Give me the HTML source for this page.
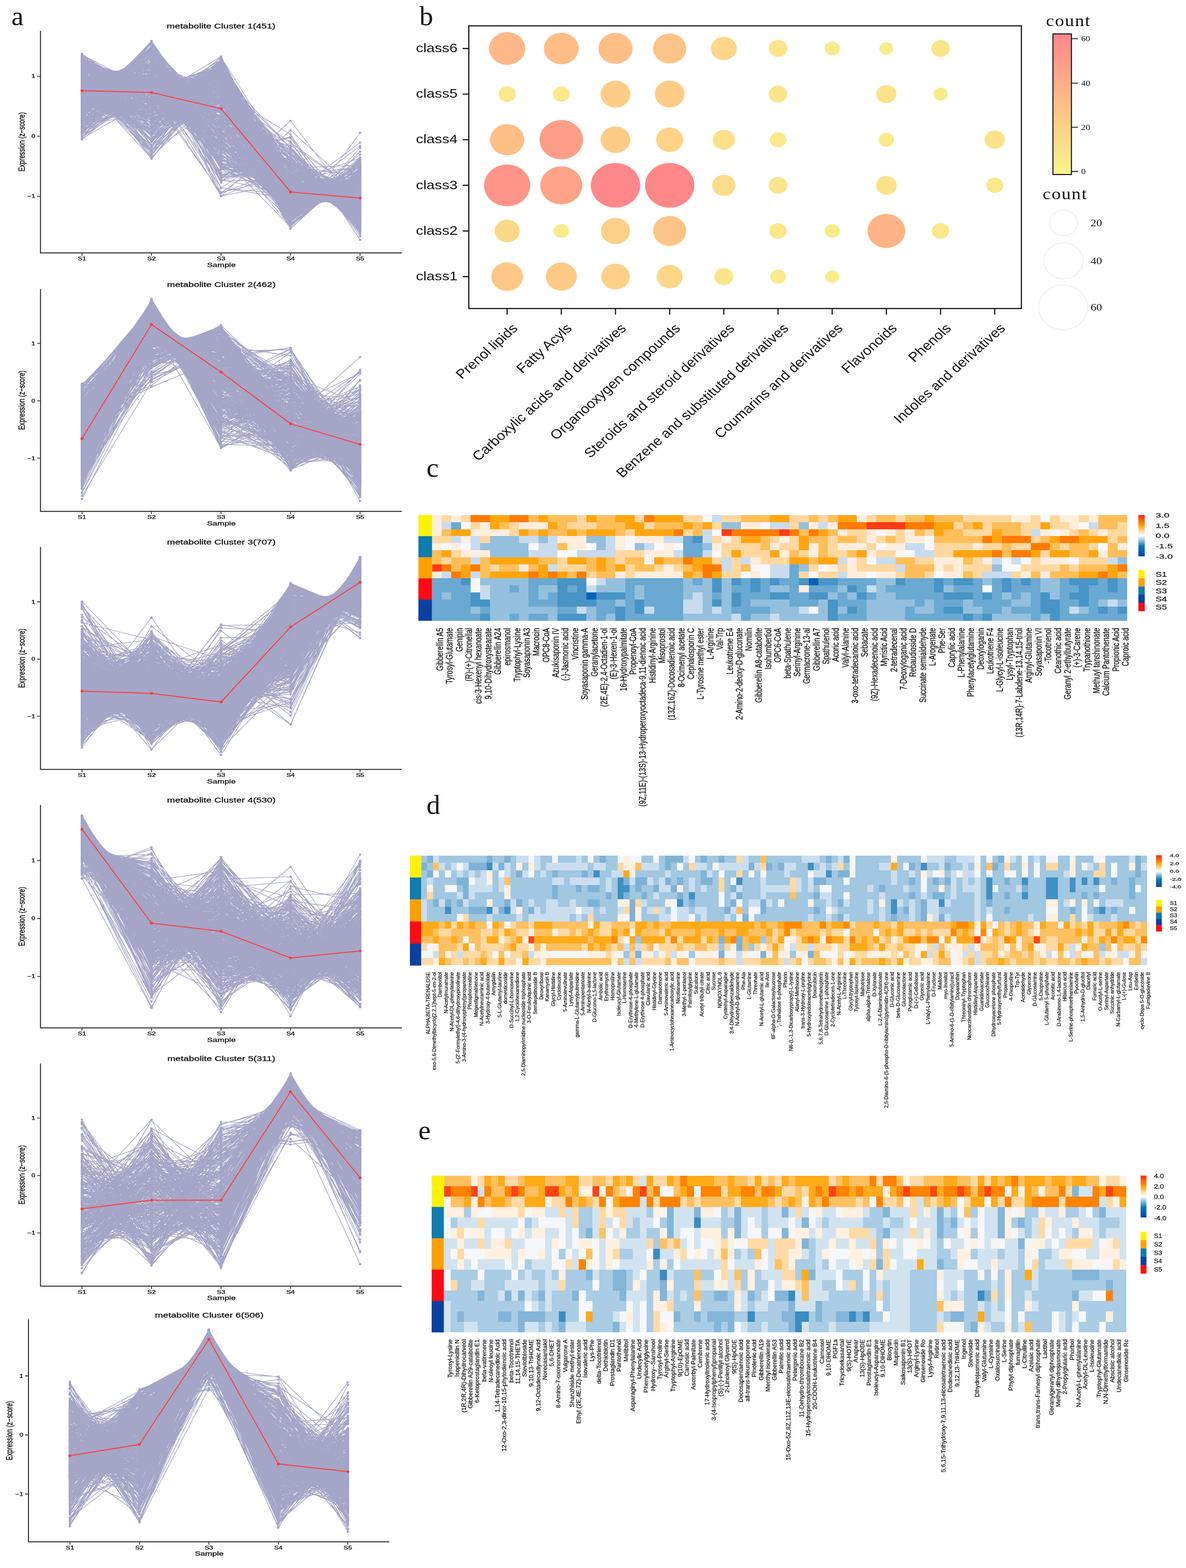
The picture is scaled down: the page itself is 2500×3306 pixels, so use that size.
<!DOCTYPE html>
<html><head><meta charset="utf-8"><title>Metabolite clusters</title>
<style>
html,body{margin:0;padding:0;background:#fff;}
svg{display:block;}
.ta{font-family:"Liberation Sans",Arial,Helvetica,sans-serif;fill:#111;}
.tk{stroke:#1a1a1a;stroke-width:0.55px;}
.tl{fill:#222;stroke:#222;stroke-width:0.35px;}
.hl{stroke:#111;stroke-width:0.3px;}
.sr{font-family:"Liberation Serif","Times New Roman",serif;fill:#111;}
</style></head><body>
<svg width="2500" height="3306" viewBox="0 0 2500 3306">
<defs><marker id="dot" viewBox="-3 -3 6 6" markerWidth="6" markerHeight="6" markerUnits="userSpaceOnUse" overflow="visible"><ellipse rx="2.6" ry="2.3" fill="#a5a5c7"/></marker>
<marker id="rdot" viewBox="-3 -3 6 6" markerWidth="6" markerHeight="6" markerUnits="userSpaceOnUse" overflow="visible"><ellipse rx="3.2" ry="2.8" fill="#ff3b3b"/></marker></defs>
<rect width="2500" height="3306" fill="#fff"/>
<text class="sr" x="24" y="53.4" font-size="58">a</text>
<path d="M172.8 279L319.4 155.1L465.9 178.8L612.5 368.9L759 454.7M172.8 142.5L319.4 219L465.9 233.9L612.5 418.1L759 423M172.8 120.3L319.4 317.9L465.9 222.3L612.5 314.9L759 461.1M172.8 181.4L319.4 240.2L465.9 183.7L612.5 356.6L759 474.5M172.8 259L319.4 232.4L465.9 131L612.5 466.6L759 347.6M172.8 231L319.4 90.2L465.9 357.3L612.5 367.2L759 390.8M172.8 210.8L319.4 272.7L465.9 126.4L612.5 401.2L759 425.4M172.8 158.8L319.4 244.1L465.9 192L612.5 399.3L759 442.3M172.8 176L319.4 269.5L465.9 196L612.5 300.9L759 494.1M172.8 227.6L319.4 175.1L465.9 213.2L612.5 332.5L759 488.1M172.8 149.8L319.4 151.8L465.9 350.1L612.5 373.4L759 411.4M172.8 148.4L319.4 285.3L465.9 181.6L612.5 371.3L759 450M172.8 242.1L319.4 110L465.9 270.6L612.5 435.7L759 378.1M172.8 184.6L319.4 137.2L465.9 321.9L612.5 342L759 450.8M172.8 291.1L319.4 116L465.9 251.3L612.5 309.4L759 468.6M172.8 162.3L319.4 140.4L465.9 363.2L612.5 355.1L759 415.5M172.8 224L319.4 209.6L465.9 158.8L612.5 398.1L759 446M172.8 195.8L319.4 246L465.9 159.5L612.5 460.3L759 374.8M172.8 207.6L319.4 208.2L465.9 170.9L612.5 423.8L759 425.9M172.8 163.2L319.4 213.9L465.9 211.2L612.5 423.9L759 424.3M172.8 118.3L319.4 213.9L465.9 287.6L612.5 388.9L759 427.8M172.8 267.3L319.4 86.5L465.9 306.8L612.5 351.2L759 424.6M172.8 220.3L319.4 103.5L465.9 315.1L612.5 390.5L759 407M172.8 128L319.4 231.8L465.9 263.1L612.5 350.2L759 463.4M172.8 151.7L319.4 196.5L465.9 252.8L612.5 450.8L759 384.6M172.8 123.1L319.4 229.5L465.9 254.5L612.5 406.1L759 423.4M172.8 259.3L319.4 102.4L465.9 262L612.5 402.9L759 409.9M172.8 255.6L319.4 143.8L465.9 218.8L612.5 345.9L759 472.5M172.8 225.9L319.4 112.2L465.9 288.2L612.5 375.1L759 435.2M172.8 204.7L319.4 201.2L465.9 180.8L612.5 408.2L759 441.6M172.8 131.9L319.4 234.7L465.9 234.8L612.5 403.8L759 431.3M172.8 219.5L319.4 135L465.9 257.8L612.5 457.9L759 366.3M172.8 182L319.4 181.1L465.9 263.6L612.5 322.9L759 486.9M172.8 144.2L319.4 173.4L465.9 300.9L612.5 389.3L759 428.7M172.8 131.6L319.4 209.4L465.9 264.2L612.5 426.1L759 405.2M172.8 291.5L319.4 86.3L465.9 297.1L612.5 435.7L759 325.8M172.8 277L319.4 143.1L465.9 217.4L612.5 318.8L759 480.3M172.8 141.3L319.4 192.4L465.9 279.1L612.5 376L759 447.8M172.8 122.1L319.4 268.2L465.9 229.2L612.5 366.1L759 450.9M172.8 115.7L319.4 191.8L465.9 407.5L612.5 350.9L759 370.7M172.8 240.5L319.4 120.3L465.9 276.5L612.5 465.2L759 334M172.8 142.7L319.4 214.3L465.9 242.7L612.5 392.2L759 444.6M172.8 266.6L319.4 88.2L465.9 290.6L612.5 411.3L759 379.8M172.8 266.2L319.4 217L465.9 125.6L612.5 399.1L759 428.6M172.8 253.8L319.4 115.3L465.9 260.3L612.5 350.9L759 456.2M172.8 228.8L319.4 179.8L465.9 181.5L612.5 402.2L759 444.2M172.8 130.4L319.4 254.6L465.9 219L612.5 402L759 430.5M172.8 174.5L319.4 168.2L465.9 268.8L612.5 464.4L759 360.7M172.8 153.8L319.4 158.3L465.9 308.7L612.5 404.1L759 411.6M172.8 187.1L319.4 308L465.9 129.3L612.5 419.3L759 392.8M172.8 161.5L319.4 207.8L465.9 228.1L612.5 460.4L759 378.8M172.8 256.3L319.4 230.2L465.9 128.7L612.5 364.9L759 456.4M172.8 122.5L319.4 220.9L465.9 265.7L612.5 414.2L759 413.2M172.8 146.5L319.4 227.6L465.9 247.3L612.5 478.6L759 336.5M172.8 205L319.4 138.6L465.9 259.3L612.5 436.2L759 397.5M172.8 157.3L319.4 269L465.9 178.9L612.5 447.8L759 383.6M172.8 166.9L319.4 297.3L465.9 150.9L612.5 423.6L759 397.9M172.8 156.3L319.4 188L465.9 303.4L612.5 477.4L759 311.4M172.8 214.6L319.4 99.4L465.9 354L612.5 393.6L759 374.9M172.8 170.6L319.4 216.2L465.9 215.4L612.5 360.3L759 473.9M172.8 197.3L319.4 196.1L465.9 191.5L612.5 431.4L759 420.1M172.8 224.9L319.4 169.5L465.9 193.7L612.5 423.7L759 424.7M172.8 183.1L319.4 294.2L465.9 137.5L612.5 420.2L759 401.5M172.8 214.2L319.4 136.2L465.9 385.1L612.5 254.9L759 446.1M172.8 143.5L319.4 210.4L465.9 242.9L612.5 432.4L759 407.3M172.8 269.7L319.4 150.7L465.9 193.4L612.5 359.3L759 463.5M172.8 212.8L319.4 122L465.9 278.7L612.5 401L759 422M172.8 250.1L319.4 112.5L465.9 322.1L612.5 288.7L759 463M172.8 234.3L319.4 158.6L465.9 208.3L612.5 464.7L759 370.6M172.8 169.3L319.4 168.9L465.9 262.1L612.5 442.6L759 393.7M172.8 162.9L319.4 161.1L465.9 293.4L612.5 446.2L759 372.9M172.8 268L319.4 138.1L465.9 197.6L612.5 415.7L759 417.1M172.8 135.3L319.4 250.7L465.9 215.2L612.5 403.8L759 431.5M172.8 190.8L319.4 247.4L465.9 156L612.5 417.1L759 425.2M172.8 218.2L319.4 170.8L465.9 198.3L612.5 427.1L759 422.1M172.8 134.8L319.4 254.4L465.9 217.2L612.5 382.5L759 447.6M172.8 278.7L319.4 123.2L465.9 211.6L612.5 426.8L759 396.1M172.8 139.2L319.4 194.9L465.9 317.7L612.5 464.9L759 319.9M172.8 198.1L319.4 274.6L465.9 141.8L612.5 365.5L759 456.5M172.8 174L319.4 333.7L465.9 153.9L612.5 312.5L759 462.2M172.8 185.8L319.4 176.7L465.9 226.9L612.5 405L759 442.2M172.8 160.5L319.4 240.6L465.9 191.3L612.5 433.6L759 410.4M172.8 147.8L319.4 314.5L465.9 177.1L612.5 457.3L759 339.8M172.8 119.9L319.4 207.8L465.9 291L612.5 402.5L759 415.3M172.8 249.5L319.4 170.1L465.9 175.1L612.5 437.2L759 404.6M172.8 289.3L319.4 179.7L465.9 145.2L612.5 438.9L759 383.5M172.8 119.6L319.4 331.3L465.9 193.2L612.5 370.1L759 422.3M172.8 134.5L319.4 208.7L465.9 268.8L612.5 450.4L759 374.1M172.8 159L319.4 228.8L465.9 202.5L612.5 417.2L759 429M172.8 242.3L319.4 92.4L465.9 327L612.5 421.7L759 353.1M172.8 161.8L319.4 140.2L465.9 379.1L612.5 408.2L759 347.2M172.8 206.5L319.4 152.6L465.9 234.7L612.5 438.4L759 404.4M172.8 123.9L319.4 184.2L465.9 379.1L612.5 335.9L759 413.3M172.8 257.6L319.4 167.8L465.9 170.9L612.5 420.1L759 420.1M172.8 151.3L319.4 151.6L465.9 339.2L612.5 385.3L759 409.1M172.8 131.6L319.4 182.2L465.9 324.3L612.5 433L759 365.4M172.8 176.1L319.4 174.9L465.9 250.1L612.5 375.1L759 460.3M172.8 235.2L319.4 92.1L465.9 368.1L612.5 333.1L759 408M172.8 215.9L319.4 245.3L465.9 137.9L612.5 406.6L759 430.8M172.8 151.2L319.4 149.3L465.9 353.7L612.5 375.5L759 406.8M172.8 179.9L319.4 184.2L465.9 229.4L612.5 456.8L759 386.2M172.8 247.6L319.4 105.1L465.9 291.3L612.5 343.9L759 448.5M172.8 129.5L319.4 255.1L465.9 219L612.5 411.3L759 421.6M172.8 190L319.4 136.5L465.9 291L612.5 440.2L759 378.9M172.8 183.5L319.4 316L465.9 130.2L612.5 422.8L759 384M172.8 213.9L319.4 199.6L465.9 191.7L612.5 482.1L759 349.3M172.8 198.1L319.4 218.7L465.9 170.5L612.5 426.1L759 423.1M172.8 222.4L319.4 106.7L465.9 396.4L612.5 410.2L759 300.8M172.8 189L319.4 159.3L465.9 256.2L612.5 460L759 372M172.8 192.7L319.4 279.4L465.9 138.5L612.5 387.9L759 438M172.8 258.3L319.4 106.7L465.9 279.4L612.5 337.5L759 454.6M172.8 256.4L319.4 135.9L465.9 212.9L612.5 444.4L759 386.9M172.8 172.4L319.4 283.2L465.9 177.3L612.5 322.8L759 480.8M172.8 144.4L319.4 159.3L465.9 352L612.5 360.5L759 420.2M172.8 144.8L319.4 195.4L465.9 276.5L612.5 460.3L759 359.6M172.8 268.1L319.4 190.4L465.9 144.8L612.5 432.2L759 401.1M172.8 154.1L319.4 149.1L465.9 348L612.5 367.1L759 418.1M172.8 119.1L319.4 223.1L465.9 296.4L612.5 456.2L759 341.8M172.8 271.3L319.4 171.6L465.9 169.9L612.5 359.2L759 464.5M172.8 277.2L319.4 152.8L465.9 176L612.5 433.6L759 396.9M172.8 146.5L319.4 196.6L465.9 260.7L612.5 385.3L759 447.5M172.8 265.7L319.4 177L465.9 157.1L612.5 411.2L759 425.4M172.8 181.8L319.4 174.2L465.9 234L612.5 411.2L759 435.2M172.8 131.7L319.4 198.1L465.9 317.4L612.5 457.4L759 331.9M172.8 213.8L319.4 207.3L465.9 174.6L612.5 375.3L759 465.5M172.8 160.3L319.4 220.4L465.9 218.1L612.5 463.7L759 373.9M172.8 160.5L319.4 220.2L465.9 209.8L612.5 440.7L759 405.2M172.8 178.5L319.4 284.5L465.9 146L612.5 424.8L759 402.7M172.8 158.8L319.4 195.9L465.9 237L612.5 415.3L759 429.5M172.8 237L319.4 147.2L465.9 231.4L612.5 345.8L759 475.2M172.8 180.4L319.4 174.1L465.9 235.3L612.5 417.1L759 429.5M172.8 158.7L319.4 320.2L465.9 150.5L612.5 385.6L759 421.5M172.8 183.6L319.4 142.5L465.9 301.9L612.5 452.7L759 355.8M172.8 167.4L319.4 165L465.9 275.3L612.5 447.9L759 380.9M172.8 229.9L319.4 93.2L465.9 368.6L612.5 341.1L759 403.7M172.8 194.5L319.4 205.4L465.9 198.2L612.5 473.7L759 364.7M172.8 282.6L319.4 134.7L465.9 209.4L612.5 346.1L759 463.8M172.8 165.3L319.4 152.3L465.9 325.8L612.5 449.2L759 343.9M172.8 141.8L319.4 221.1L465.9 232.7L612.5 424.1L759 416.8M172.8 154.4L319.4 268L465.9 189.9L612.5 360.5L759 463.7M172.8 159.5L319.4 260.5L465.9 182.5L612.5 451.2L759 382.8M172.8 230L319.4 257.5L465.9 128L612.5 455.8L759 365.2M172.8 129.3L319.4 202L465.9 280.2L612.5 398.8L759 426.1M172.8 148L319.4 162.4L465.9 318.2L612.5 383.7L759 424.2M172.8 123.2L319.4 307.4L465.9 198.2L612.5 431.8L759 375.9M172.8 228.9L319.4 91.2L465.9 352.7L612.5 378.2L759 385.4M172.8 135.7L319.4 193.3L465.9 294.1L612.5 449.4L759 364M172.8 143.3L319.4 191.4L465.9 278.3L612.5 372.9L759 450.6M172.8 247.7L319.4 197.7L465.9 157.4L612.5 372.2L759 461.5M172.8 232.8L319.4 100.5L465.9 396.1L612.5 301L759 406.1M172.8 127.5L319.4 180.9L465.9 338L612.5 368.8L759 421.2M172.8 187.4L319.4 180.9L465.9 219.7L612.5 406.2L759 442.2M172.8 215.5L319.4 104.9L465.9 321.5L612.5 406.6L759 388.1M172.8 223.5L319.4 166L465.9 198.9L612.5 425.1L759 423M172.8 173.8L319.4 212.1L465.9 217.6L612.5 476.7L759 356.2M172.8 222.4L319.4 174.5L465.9 211.3L612.5 481.7L759 346.6M172.8 230.1L319.4 210.4L465.9 157.1L612.5 457.8L759 381.1M172.8 163.1L319.4 163.6L465.9 278L612.5 409.8L759 422.1M172.8 217L319.4 193.4L465.9 177L612.5 411L759 438.2M172.8 181.7L319.4 245.7L465.9 174.2L612.5 370.4L759 464.6M172.8 257.6L319.4 196.4L465.9 145.9L612.5 401.1L759 435.4M172.8 224.7L319.4 154.3L465.9 213L612.5 406.6L759 437.8M172.8 160.9L319.4 184.4L465.9 255.1L612.5 451.4L759 384.7M172.8 121.5L319.4 251.3L465.9 236.2L612.5 431.3L759 396.3M172.8 173.8L319.4 255.2L465.9 195L612.5 324.8L759 487.7M172.8 213.9L319.4 176.5L465.9 197.6L612.5 403.7L759 444.7M172.8 150.5L319.4 317.7L465.9 158.9L612.5 416.8L759 392.6M172.8 180.1L319.4 179.2L465.9 231.5L612.5 400.8L759 444.9M172.8 249.8L319.4 92.2L465.9 310.1L612.5 423.9L759 360.5M172.8 217L319.4 107.7L465.9 307.6L612.5 404.7L759 399.6M172.8 141.1L319.4 333.7L465.9 163.7L612.5 410.4L759 387.6M172.8 155L319.4 241.9L465.9 217.6L612.5 344L759 478M172.8 129.5L319.4 184.2L465.9 312.8L612.5 413.2L759 396.7M172.8 266.9L319.4 161.6L465.9 191.8L612.5 339.2L759 477M172.8 162.7L319.4 294.7L465.9 156.9L612.5 391.6L759 430.6M172.8 157.5L319.4 244.4L465.9 191.3L612.5 425.2L759 418M172.8 195.1L319.4 131.7L465.9 319.1L612.5 336.4L759 454.2M172.8 131.9L319.4 171.3L465.9 345.8L612.5 381.1L759 406.4M172.8 148.1L319.4 318.7L465.9 160.6L612.5 411.5L759 397.6M172.8 209.4L319.4 108.6L465.9 321.3L612.5 391.4L759 405.8M172.8 133L319.4 298.9L465.9 188.3L612.5 384.5L759 431.6M172.8 269.1L319.4 136.3L465.9 199.4L612.5 423.5L759 408.1M172.8 136.7L319.4 254.2L465.9 209.5L612.5 418.2L759 417.8M172.8 219.9L319.4 129.8L465.9 266.7L612.5 364.5L759 455.5M172.8 217.5L319.4 252.5L465.9 132L612.5 420.8L759 413.7M172.8 197.9L319.4 132.9L465.9 277.7L612.5 415.1L759 412.9M172.8 162.4L319.4 275.3L465.9 167.7L612.5 438.5L759 392.6M172.8 272.2L319.4 206.3L465.9 144.6L612.5 342.4L759 471.2M172.8 151.9L319.4 173.4L465.9 282.2L612.5 402.1L759 426.9M172.8 182.9L319.4 268.3L465.9 152.5L612.5 391.2L759 441.5M172.8 247.6L319.4 112.7L465.9 260L612.5 439.7L759 376.6M172.8 189L319.4 253.1L465.9 153.9L612.5 417.6L759 422.9M172.8 248.4L319.4 237.4L465.9 121.4L612.5 411.8L759 417.6M172.8 164.6L319.4 203.7L465.9 221L612.5 408.5L759 438.6M172.8 235.6L319.4 124.6L465.9 248.7L612.5 440.3L759 387.2M172.8 137.3L319.4 317.3L465.9 190.1L612.5 334.4L759 457.4M172.8 163.8L319.4 169.6L465.9 292.8L612.5 345.6L759 464.7M172.8 208.7L319.4 267.8L465.9 133L612.5 443.4L759 383.6M172.8 251.1L319.4 205.8L465.9 145.4L612.5 383.5L759 450.6M172.8 220.2L319.4 246.9L465.9 133.5L612.5 424.6L759 411.2M172.8 266.8L319.4 166.4L465.9 203.3L612.5 309.2L759 490.8M172.8 207.5L319.4 230.1L465.9 158.2L612.5 386.6L759 454.2M172.8 183.6L319.4 139.7L465.9 288L612.5 406.2L759 418.9M172.8 155L319.4 239.4L465.9 204.8L612.5 456.6L759 380.7M172.8 198.7L319.4 131.5L465.9 305.1L612.5 454.9L759 346.4M172.8 231.5L319.4 234.7L465.9 144.7L612.5 356.6L759 469M172.8 147.2L319.4 159.7L465.9 369L612.5 334.8L759 425.8M172.8 151.8L319.4 273.3L465.9 181.7L612.5 444.6L759 385.1M172.8 209.5L319.4 243.9L465.9 147.6L612.5 382.5L759 453.1M172.8 187.3L319.4 227.3L465.9 180.9L612.5 378.3L759 462.8M172.8 201L319.4 118L465.9 312.6L612.5 383.1L759 421.8M172.8 136.8L319.4 262L465.9 204.3L612.5 403.8L759 429.7M172.8 235.9L319.4 87.8L465.9 381.3L612.5 380.4L759 351.2M172.8 258.4L319.4 95.7L465.9 278.5L612.5 407.9L759 396.1M172.8 194.5L319.4 292.2L465.9 129.7L612.5 396.2L759 423.9M172.8 199.9L319.4 112.7L465.9 330L612.5 393.2L759 400.7M172.8 226.6L319.4 222.1L465.9 153.4L612.5 370.3L759 464.1M172.8 214.1L319.4 242.9L465.9 144.4L612.5 451.4L759 383.8M172.8 158.9L319.4 250.8L465.9 186.2L612.5 437.5L759 403M172.8 158.9L319.4 310.3L465.9 156.5L612.5 374.1L759 436.8M172.8 237.6L319.4 164.5L465.9 193.2L612.5 452.7L759 388.5M172.8 187.5L319.4 158.9L465.9 252.5L612.5 448.5L759 389.1M172.8 264.6L319.4 131.1L465.9 218.1L612.5 453.4L759 369.3M172.8 252.2L319.4 204L465.9 145.5L612.5 386.8L759 448M172.8 203.1L319.4 108.6L465.9 375.6L612.5 343.3L759 405.9M172.8 191.7L319.4 259.4L465.9 151.4L612.5 448.4L759 385.6M172.8 201.4L319.4 188.3L465.9 207.6L612.5 367.1L759 472M172.8 256.3L319.4 129.3L465.9 223.9L612.5 446.5L759 380.6M172.8 248.2L319.4 178.6L465.9 172.4L612.5 379.9L759 457.3M172.8 121.6L319.4 247.5L465.9 243L612.5 442.5L759 381.9M172.8 173.1L319.4 173.9L465.9 250.8L612.5 450.2L759 388.5M172.8 246.3L319.4 121L465.9 240L612.5 411L759 418.2M172.8 155.7L319.4 214.3L465.9 220.5L612.5 417.1L759 428.9M172.8 139L319.4 180.5L465.9 303.7L612.5 437.3L759 375.9M172.8 190.9L319.4 118.4L465.9 344.1L612.5 367L759 416.1M172.8 164.1L319.4 248.3L465.9 181.1L612.5 423.9L759 419.1M172.8 157L319.4 328.2L465.9 149L612.5 413.5L759 388.8M172.8 257.4L319.4 230.5L465.9 127.2L612.5 454.1L759 367.4M172.8 243L319.4 129.4L465.9 238L612.5 452.1L759 374M172.8 218.4L319.4 99.1L465.9 339.4L612.5 382.3L759 397.4M172.8 113.2L319.4 225.5L465.9 287.4L612.5 437.3L759 373.1M172.8 201.4L319.4 160.5L465.9 230.1L612.5 442.9L759 401.6M172.8 164.6L319.4 153.4L465.9 303.2L612.5 377.6L759 437.7M172.8 165.4L319.4 253.5L465.9 188.7L612.5 360.1L759 468.9M172.8 134.1L319.4 324.6L465.9 173.9L612.5 404.7L759 399.2M172.8 117.3L319.4 251.2L465.9 263.6L612.5 343.5L759 460.8M172.8 169.7L319.4 254.6L465.9 171.7L612.5 406.7L759 433.9M172.8 192.6L319.4 260L465.9 154.4L612.5 460.4L759 369M172.8 208.4L319.4 199.8L465.9 181.7L612.5 454.9L759 391.6M172.8 127.2L319.4 211.7L465.9 282.1L612.5 450.3L759 365.2M172.8 214.9L319.4 132L465.9 267.3L612.5 453.4L759 368.9M172.8 162.7L319.4 248.9L465.9 206.5L612.5 335.7L759 482.6M172.8 286.4L319.4 89.8L465.9 277.4L612.5 351.2L759 431.6M172.8 197.8L319.4 123.5L465.9 299.6L612.5 408.4L759 407.1M172.8 221.7L319.4 117.6L465.9 413.8L612.5 274.6L759 408.8M172.8 290.2L319.4 167.8L465.9 168.4L612.5 467.7L759 342.4M172.8 170.2L319.4 137.5L465.9 352.4L612.5 428.6L759 347.8M172.8 155.3L319.4 192.3L465.9 262.4L612.5 464.3L759 362.2M172.8 179.2L319.4 240.8L465.9 177L612.5 381.7L759 457.8M172.8 160.6L319.4 228.8L465.9 216.7L612.5 473.6L759 356.8M172.8 193.9L319.4 281.6L465.9 162.9L612.5 313L759 485.1M172.8 258.7L319.4 153.3L465.9 190.4L612.5 384.3L759 449.8M172.8 227.5L319.4 219.4L465.9 147.2L612.5 434.2L759 408.2M172.8 233.7L319.4 88.8L465.9 356.9L612.5 368.1L759 389M172.8 175.2L319.4 183.2L465.9 230.1L612.5 423.1L759 424.8M172.8 155L319.4 162.9L465.9 296.9L612.5 396.6L759 425.1M172.8 215.5L319.4 103.3L465.9 326.7L612.5 390.9L759 400.1M172.8 217.5L319.4 236.7L465.9 193.1L612.5 283.5L759 505.7M172.8 215.1L319.4 102.2L465.9 372.3L612.5 338.5L759 408.4M172.8 226.1L319.4 104L465.9 357.7L612.5 317.2L759 431.5M172.8 258.4L319.4 193.2L465.9 155.6L612.5 462.3L759 367M172.8 179.1L319.4 192.9L465.9 231.1L612.5 358.7L759 474.7M172.8 280.8L319.4 129.3L465.9 207.3L612.5 372.6L759 446.4M172.8 271.8L319.4 91.1L465.9 275.8L612.5 387.4L759 410.3M172.8 155.2L319.4 144.4L465.9 369.2L612.5 364.1L759 403.6M172.8 204.6L319.4 214.7L465.9 169.9L612.5 402.1L759 445.2M172.8 203.5L319.4 222L465.9 165.9L612.5 448.8L759 396.4M172.8 138.9L319.4 298.4L465.9 179.1L612.5 407.2L759 412.9M172.8 187.3L319.4 172.8L465.9 237.5L612.5 461.3L759 377.6M172.8 153.7L319.4 277.6L465.9 188.1L612.5 350.2L759 466.9M172.8 220.3L319.4 120.5L465.9 270.4L612.5 412.6L759 412.6M172.8 212.7L319.4 126.7L465.9 274.7L612.5 441L759 381.4M172.8 148.1L319.4 232.3L465.9 212.9L612.5 418L759 425.1M172.8 146.5L319.4 152.9L465.9 374L612.5 360.8L759 402.2M172.8 194.2L319.4 182.1L465.9 215.6L612.5 459L759 385.6M172.8 162.4L319.4 153.8L465.9 303L612.5 429.7L759 387.6M172.8 183.5L319.4 281.5L465.9 142.8L612.5 409.3L759 419.4M172.8 206L319.4 111.8L465.9 318.7L612.5 409.3L759 390.8M172.8 146.4L319.4 221.7L465.9 231L612.5 451.5L759 385.9M172.8 195.5L319.4 189.1L465.9 215.5L612.5 475.3L759 361.1M172.8 256.8L319.4 108.3L465.9 253.2L612.5 398.5L759 419.6M172.8 224.2L319.4 183.1L465.9 181.1L612.5 408.5L759 439.6M172.8 289.7L319.4 189.8L465.9 135.9L612.5 435.2L759 385.9M172.8 225.2L319.4 92.3L465.9 367.1L612.5 378.1L759 373.9M172.8 118.1L319.4 304.7L465.9 208.3L612.5 369.2L759 436.1M172.8 267L319.4 168L465.9 164.8L612.5 422.6L759 414.1M172.8 162.3L319.4 210.5L465.9 234L612.5 355.3L759 474.4M172.8 203.8L319.4 108.6L465.9 343.4L612.5 409.1L759 371.6M172.8 292.1L319.4 208.4L465.9 119.1L612.5 401L759 415.9M172.8 183.6L319.4 138.4L465.9 309.5L612.5 447.3L759 357.8M172.8 135.2L319.4 237.5L465.9 228.9L612.5 441.2L759 393.7M172.8 115.8L319.4 203.6L465.9 337.2L612.5 345.1L759 434.9M172.8 154.1L319.4 295.9L465.9 169.5L612.5 446.7L759 370.4M172.8 216.9L319.4 188.9L465.9 180.9L612.5 416.1L759 433.7M172.8 196.5L319.4 283.2L465.9 145.9L612.5 342.7L759 468.1M172.8 260.3L319.4 115.6L465.9 257.8L612.5 342.8L759 460M172.8 199.1L319.4 121L465.9 306.4L612.5 389.7L759 420.3M172.8 206.6L319.4 143.9L465.9 247.6L612.5 435.7L759 402.7M172.8 133.3L319.4 260.2L465.9 209.5L612.5 418.2L759 415.2M172.8 150L319.4 268.1L465.9 206.2L612.5 476.8L759 335.3M172.8 137.1L319.4 286.1L465.9 193.9L612.5 372.7L759 446.7M172.8 212.6L319.4 270.9L465.9 129.6L612.5 377.8L759 445.7M172.8 163L319.4 194.7L465.9 232.5L612.5 419.6L759 426.8M172.8 180.3L319.4 156.2L465.9 268.1L612.5 446.5L759 385.5M172.8 268L319.4 191.7L465.9 143.6L612.5 402.3L759 430.9M172.8 240.7L319.4 221.4L465.9 142.5L612.5 457.3L759 374.7M172.8 159.9L319.4 166.4L465.9 294.5L612.5 452.9L759 362.7M172.8 256.3L319.4 231.6L465.9 121.7L612.5 394.6L759 432.3M172.8 195.5L319.4 112.8L465.9 405.6L612.5 370.8L759 351.8M172.8 186.1L319.4 305.8L465.9 136.2L612.5 363.9L759 444.5M172.8 257.1L319.4 178.1L465.9 183.4L612.5 335.6L759 482.3M172.8 168.1L319.4 234.9L465.9 194.9L612.5 376.6L759 462.1M172.8 136.8L319.4 199L465.9 289.6L612.5 352.7L759 458.4M172.8 215.2L319.4 266.8L465.9 126L612.5 422.1L759 406.4M172.8 169.8L319.4 217.1L465.9 200.9L612.5 435.5L759 413.2M172.8 186.3L319.4 277.3L465.9 147.6L612.5 375.3L759 450M172.8 218.8L319.4 251.9L465.9 132.2L612.5 431.7L759 402M172.8 201.6L319.4 291.6L465.9 134.2L612.5 457.9L759 351.3M172.8 171.1L319.4 216.2L465.9 212.4L612.5 470.7L759 366.2M172.8 173.3L319.4 297.3L465.9 144.4L612.5 407.8L759 413.7M172.8 282.6L319.4 97.9L465.9 250.8L612.5 413L759 392.1M172.8 220L319.4 209.1L465.9 160.2L612.5 418.6L759 428.6M172.8 165.8L319.4 286.9L465.9 162.9L612.5 369L759 451.9M172.8 177.9L319.4 210.2L465.9 197.8L612.5 428.9L759 421.6M172.8 172.5L319.4 132.7L465.9 336.8L612.5 385.2L759 409.3M172.8 160.1L319.4 196L465.9 235.2L612.5 413.1L759 432.1M172.8 284.4L319.4 172L465.9 164.7L612.5 350.1L759 465.4M172.8 154.9L319.4 260.1L465.9 192.3L612.5 368.2L759 461M172.8 185.5L319.4 123.5L465.9 334.9L612.5 416.1L759 376.5M172.8 283.8L319.4 187.4L465.9 139.8L612.5 432.2L759 393.4M172.8 159.5L319.4 240.8L465.9 198.9L612.5 458.4L759 379M172.8 199.4L319.4 108.8L465.9 353.4L612.5 384L759 390.9M172.8 227L319.4 234.9L465.9 156.9L612.5 334.4L759 483.3M172.8 179.9L319.4 224.1L465.9 195.5L612.5 471.7L759 365.3M172.8 190.3L319.4 113.8L465.9 371.6L612.5 376.1L759 384.8M172.8 234.9L319.4 169.4L465.9 185.5L612.5 427.3L759 419.2M172.8 214.4L319.4 101.7L465.9 342.2L612.5 404.8L759 373.4M172.8 173.2L319.4 258.7L465.9 166.3L612.5 438.4L759 399.9M172.8 150.8L319.4 234.1L465.9 208.6L612.5 435L759 407.9M172.8 211.1L319.4 137.6L465.9 251.7L612.5 405.3L759 430.9M172.8 148.2L319.4 304.8L465.9 166.3L612.5 396L759 421.1M172.8 225.8L319.4 221.7L465.9 146.7L612.5 434.1L759 408.2M172.8 277.1L319.4 100.7L465.9 249.6L612.5 395L759 414.1M172.8 233.2L319.4 180.8L465.9 178.8L612.5 391.8L759 451.8M172.8 119L319.4 200.7L465.9 406.2L612.5 306.5L759 404.2M172.8 222.3L319.4 130.6L465.9 249.1L612.5 419.9L759 414.6M172.8 155.7L319.4 211.6L465.9 237.7L612.5 468.2L759 363.3M172.8 276.3L319.4 199.4L465.9 133.5L612.5 430.1L759 397.3M172.8 294L319.4 176.5L465.9 154.4L612.5 351.4L759 460.3M172.8 240.5L319.4 236.2L465.9 135.6L612.5 462.3L759 362M172.8 265L319.4 175L465.9 165.6L612.5 455.6L759 375.3M172.8 199.1L319.4 246.3L465.9 149.9L612.5 412.8L759 428.4M172.8 205.9L319.4 167.7L465.9 214.6L612.5 411.5L759 436.9M172.8 138.3L319.4 189.6L465.9 284.8L612.5 436.7L759 387M172.8 242.4L319.4 212.5L465.9 141.7L612.5 420L759 419.9M172.8 195L319.4 188.6L465.9 229.2L612.5 336.5L759 487.2M172.8 268.5L319.4 166.4L465.9 173.8L612.5 459.2L759 368.6M172.8 131.1L319.4 232.1L465.9 245.9L612.5 375.8L759 451.7M172.8 151.6L319.4 150.2L465.9 350.3L612.5 372.3L759 412.2M172.8 191.7L319.4 169.8L465.9 248.9L612.5 349.9L759 476.2M172.8 168.7L319.4 135.8L465.9 345L612.5 369.7L759 417.2M172.8 163L319.4 323.6L465.9 162.3L612.5 326.9L759 460.7M172.8 234.3L319.4 245.8L465.9 125.4L612.5 401.9L759 429.1M172.8 202.4L319.4 117.3L465.9 346.6L612.5 333.8L759 436.4M172.8 231.5L319.4 256.4L465.9 129.8L612.5 357.9L759 460.9M172.8 142.5L319.4 171.3L465.9 395.9L612.5 419L759 307.8M172.8 178.4L319.4 209.4L465.9 216.3L612.5 353.7L759 478.7M172.8 260.7L319.4 100.1L465.9 265.8L612.5 398.5L759 411.5M172.8 201.3L319.4 223.7L465.9 168.3L612.5 456L759 387.1M172.8 243L319.4 86.3L465.9 338.7L612.5 394.1L759 374.4M172.8 133.3L319.4 202.3L465.9 275.7L612.5 384.9L759 440.3M172.8 177.7L319.4 234.6L465.9 192.8L612.5 355.2L759 476.2M172.8 228.9L319.4 184L465.9 175.7L612.5 432.3L759 415.6M172.8 136.7L319.4 294.2L465.9 189.5L612.5 444L759 372.1M172.8 258.7L319.4 115.6L465.9 266.4L612.5 331.6L759 464.3M172.8 186.7L319.4 319.5L465.9 125.2L612.5 400L759 405.1M172.8 157.6L319.4 196.4L465.9 308.1L612.5 291L759 483.4M172.8 125.5L319.4 224L465.9 257.3L612.5 428.3L759 401.5M172.8 148.4L319.4 175.7L465.9 332.1L612.5 322.5L759 457.7M172.8 232.7L319.4 115.1L465.9 265.5L612.5 409.5L759 413.7M172.8 193.5L319.4 231.9L465.9 169.1L612.5 385.8L759 456.1M172.8 127.2L319.4 181.1L465.9 345.9L612.5 423.4L759 358.8M172.8 193.4L319.4 173.2L465.9 226.3L612.5 387.9L759 455.7M172.8 120.8L319.4 198.6L465.9 306.2L612.5 397.5L759 413.4M172.8 204L319.4 196.3L465.9 185.1L612.5 433.1L759 418M172.8 212.3L319.4 231.9L465.9 173.8L612.5 329.6L759 488.9M172.8 221.7L319.4 161.8L465.9 218.2L612.5 365.6L759 469.1M172.8 251.5L319.4 212.2L465.9 138.8L612.5 390.6L759 443.4M172.8 168.8L319.4 166.2L465.9 264.3L612.5 406.2L759 430.9M172.8 244L319.4 90.8L465.9 330.5L612.5 351.6L759 419.6M172.8 251.6L319.4 161.3L465.9 182.7L612.5 405L759 435.9M172.8 206.7L319.4 116.8L465.9 308.4L612.5 430.3L759 374.2M172.8 165.9L319.4 298.5L465.9 166.8L612.5 339.4L759 465.9M172.8 149.2L319.4 161.3L465.9 370.8L612.5 323.8L759 431.4M172.8 220.2L319.4 99.5L465.9 413.8L612.5 354.5L759 348.4M172.8 258.2L319.4 125.2L465.9 223.7L612.5 428.1L759 401.4M172.8 138.4L319.4 167.3L465.9 413.4L612.5 384.4L759 333.1M172.8 222.3L319.4 206.5L465.9 160.5L612.5 420.1L759 427.1M172.8 195.6L319.4 263L465.9 144.7L612.5 441.8L759 391.2M172.8 224.5L319.4 219.9L465.9 156L612.5 463.4L759 372.7M172.8 244.5L319.4 130.7L465.9 226.9L612.5 428.3L759 406.1M172.8 199.6L319.4 165.4L465.9 268.2L612.5 315.2L759 488.1M172.8 181.2L319.4 167.6L465.9 329L612.5 478.7L759 280.1M172.8 130.5L319.4 284.5L465.9 225.1L612.5 324.3L759 472.2M172.8 205.9L319.4 280.5L465.9 125.6L612.5 414.8L759 409.6M172.8 125.3L319.4 181.3L465.9 381.9L612.5 338.2L759 409.8M172.8 259.4L319.4 243.9L465.9 120.3L612.5 356.2L759 456.7M172.8 163.9L319.4 297.8L465.9 163.3L612.5 457L759 354.5M172.8 166.1L319.4 203.4L465.9 238.9L612.5 351.6L759 476.5M172.8 221.3L319.4 99.6L465.9 348.7L612.5 416.2L759 350.8M172.8 115L319.4 237L465.9 260.8L612.5 418.4L759 405.3M172.8 241.1L319.4 89.9L465.9 332.4L612.5 410.9L759 362.2M172.8 194L319.4 275.6L465.9 137L612.5 417.1L759 412.8M172.8 226.6L319.4 169.7L465.9 203.6L612.5 367.3L759 469.2M172.8 176.3L319.4 226.2L465.9 185.4L612.5 430.2L759 418.3M172.8 143.9L319.4 334.6L465.9 161.5L612.5 379.1L759 417.4M172.8 226L319.4 193.2L465.9 169.3L612.5 416.4L759 431.6M172.8 132.7L319.4 217.8L465.9 252.7L612.5 399.3L759 434M172.8 186.1L319.4 145.2L465.9 281.7L612.5 375.6L759 447.8M172.8 166.7L319.4 170.3L465.9 260.4L612.5 414.2L759 425M172.8 156.7L319.4 177.9L465.9 267.3L612.5 437L759 397.7M172.8 152.3L319.4 190.2L465.9 271.5L612.5 359.3L759 463.2M172.8 215.3L319.4 174L465.9 251.1L612.5 297.7L759 498.4M172.8 125.2L319.4 186.4L465.9 345.1L612.5 350.1L759 429.7M172.8 220.8L319.4 158.8L465.9 237L612.5 482.3L759 337.6M172.8 290.7L319.4 134.9L465.9 191.7L612.5 439L759 380.1M172.8 154.2L319.4 146.2L465.9 351.2L612.5 401.4L759 383.5M172.8 236.7L319.4 220.3L465.9 140.6L612.5 435.4L759 403.5M172.8 187.2L319.4 185.7L465.9 216.4L612.5 451.1L759 396M172.8 230.9L319.4 103.2L465.9 318L612.5 436.9L759 347.6M172.8 172.7L319.4 236.9L465.9 196.7L612.5 354L759 476.2M172.8 149.7L319.4 173.3L465.9 306.5L612.5 452L759 355M172.8 217.6L319.4 191.8L465.9 187.2L612.5 370.9L759 469M172.8 128.6L319.4 198.2L465.9 286.6L612.5 414.6L759 408.5M172.8 119.6L319.4 224.5L465.9 297.2L612.5 336.3L759 458.9M172.8 159.9L319.4 293.8L465.9 158.9L612.5 403.3L759 420.7M172.8 194.3L319.4 244L465.9 169.1L612.5 354.8L759 474.3M172.8 276.5L319.4 103.8L465.9 251.9L612.5 437.9L759 366.5M172.8 156.4L319.4 293.3L465.9 167.4L612.5 374.5L759 445M172.8 186.3L319.4 121.7L465.9 356.9L612.5 418.2L759 353.5M172.8 189.8L319.4 254.2L465.9 164.2L612.5 358.8L759 469.4" fill="none" stroke="#a5a5c7" stroke-width="1.4" stroke-linejoin="round" marker-start="url(#dot)" marker-mid="url(#dot)" marker-end="url(#dot)"/>
<path d="M172.8 191.2L319.4 195L465.9 229.1L612.5 404.9L759 417.6" fill="none" stroke="#ff3b3b" stroke-width="2" marker-start="url(#rdot)" marker-mid="url(#rdot)" marker-end="url(#rdot)"/>
<path d="M85.4 65V533.3H847" fill="none" stroke="#222" stroke-width="2"/>
<path d="M78.4 160.8H85.4M78.4 287.3H85.4M78.4 413.8H85.4M172.8 533.3V539.3M319.4 533.3V539.3M465.9 533.3V539.3M612.5 533.3V539.3M759 533.3V539.3" stroke="#222" stroke-width="1.6"/>
<text class="ta tk" x="0" y="0" text-anchor="end" transform="translate(74.4 164.4) scale(1 0.71)" font-size="14.5">1</text>
<text class="ta tk" x="0" y="0" text-anchor="end" transform="translate(74.4 290.9) scale(1 0.71)" font-size="14.5">0</text>
<text class="ta tk" x="0" y="0" text-anchor="end" transform="translate(74.4 417.4) scale(1 0.71)" font-size="14.5">−1</text>
<text class="ta tk" text-anchor="middle" transform="translate(172.8 549.3) scale(1 0.71)" font-size="14.5">S1</text>
<text class="ta tk" text-anchor="middle" transform="translate(319.4 549.3) scale(1 0.71)" font-size="14.5">S2</text>
<text class="ta tk" text-anchor="middle" transform="translate(465.9 549.3) scale(1 0.71)" font-size="14.5">S3</text>
<text class="ta tk" text-anchor="middle" transform="translate(612.5 549.3) scale(1 0.71)" font-size="14.5">S4</text>
<text class="ta tk" text-anchor="middle" transform="translate(759 549.3) scale(1 0.71)" font-size="14.5">S5</text>
<text class="ta tk" text-anchor="middle" transform="translate(466.7 562.8) scale(1 0.71)" font-size="17.9">Sample</text>
<text class="ta tk" text-anchor="middle" transform="translate(52.4 299.1) scale(1 0.71) rotate(-90)" font-size="18.7">Expression (z−score)</text>
<text class="ta tk" text-anchor="middle" transform="translate(466.1 60.1) scale(1 0.71)" font-size="20.4">metabolite Cluster 1(451)</text>
<path d="M172.8 936L319.4 647L465.9 818.5L612.5 884.7L759 938.8M172.8 921.3L319.4 630.5L465.9 897.3L612.5 875.6L759 900.3M172.8 966.3L319.4 741.6L465.9 693.5L612.5 886.4L759 937.2M172.8 898.5L319.4 666.4L465.9 793.8L612.5 880.3L759 986.1M172.8 961.8L319.4 720.8L465.9 738.1L612.5 826.1L759 978.1M172.8 1003.5L319.4 728.6L465.9 739.5L612.5 818.7L759 934.8M172.8 858.2L319.4 683.5L465.9 784.3L612.5 891.3L759 1007.7M172.8 978.6L319.4 678.5L465.9 814.5L612.5 805.9L759 947.5M172.8 1052.1L319.4 765.1L465.9 764.1L612.5 792.8L759 850.9M172.8 836.2L319.4 648.4L465.9 869.5L612.5 897.7L759 973.2M172.8 975.8L319.4 710L465.9 722.4L612.5 899.4L759 917.4M172.8 937.4L319.4 678.5L465.9 756.1L612.5 903.1L759 949.9M172.8 891.9L319.4 660.4L465.9 921.8L612.5 790.2L759 960.7M172.8 922L319.4 738.8L465.9 806.7L612.5 741.6L759 1015.9M172.8 904.7L319.4 707.4L465.9 783.8L612.5 808.1L759 1021M172.8 905.8L319.4 697L465.9 803.2L612.5 802.5L759 1016.5M172.8 1009.9L319.4 729L465.9 751.7L612.5 931.4L759 803M172.8 945.5L319.4 648L465.9 836.2L612.5 852.6L759 942.6M172.8 935.1L319.4 670.6L465.9 883.7L612.5 774.3L759 961.3M172.8 867.2L319.4 639.5L465.9 924.5L612.5 942.4L759 851.4M172.8 942.4L319.4 801.7L465.9 729.1L612.5 749.7L759 1002.1M172.8 1024.2L319.4 703.9L465.9 768.8L612.5 861.7L759 866.4M172.8 1018.8L319.4 775.5L465.9 695.3L612.5 861.9L759 873.5M172.8 864.6L319.4 639.3L465.9 856.6L612.5 916.3L759 948.2M172.8 984.8L319.4 719.5L465.9 754.5L612.5 805L759 961.1M172.8 880L319.4 665.5L465.9 855.2L612.5 822.8L759 1001.6M172.8 972.3L319.4 706.7L465.9 752.1L612.5 964.8L759 829.2M172.8 847L319.4 635.3L465.9 911.8L612.5 925.1L759 905.8M172.8 994.4L319.4 664.9L465.9 869.1L612.5 808.3L759 888.3M172.8 904.5L319.4 670.4L465.9 846.6L612.5 806.6L759 996.9M172.8 916.1L319.4 643.9L465.9 940.8L612.5 821.4L759 902.8M172.8 924.1L319.4 765.2L465.9 685.3L612.5 986.7L759 863.6M172.8 897.1L319.4 711L465.9 754.5L612.5 845.1L759 1017.3M172.8 982.1L319.4 656.3L465.9 815.8L612.5 890.3L759 880.5M172.8 888.6L319.4 632L465.9 868.1L612.5 923.7L759 912.6M172.8 815.8L319.4 678.2L465.9 887L612.5 831.8L759 1012.2M172.8 938.3L319.4 647L465.9 873.1L612.5 824.6L759 942.1M172.8 835.7L319.4 644.5L465.9 868.8L612.5 923.5L759 952.5M172.8 861.7L319.4 742L465.9 706.9L612.5 915.8L759 998.6M172.8 938L319.4 721.6L465.9 713.4L612.5 880L759 972M172.8 862.4L319.4 663.6L465.9 796.4L612.5 965L759 937.7M172.8 984L319.4 701.5L465.9 800.1L612.5 782L759 957.5M172.8 901.7L319.4 657.5L465.9 893.3L612.5 971.3L759 801.3M172.8 891.5L319.4 719.2L465.9 712.3L612.5 935.8L759 966.3M172.8 959L319.4 684.9L465.9 944.7L612.5 883.7L759 752.7M172.8 836L319.4 651.7L465.9 842.5L612.5 939.6L759 955.3M172.8 934.9L319.4 650.2L465.9 902.6L612.5 804.9L759 932.3M172.8 984.2L319.4 718.2L465.9 733.9L612.5 840L759 948.7M172.8 829.5L319.4 648.4L465.9 922.6L612.5 960.2L759 864.5M172.8 983.7L319.4 656L465.9 895.6L612.5 867.7L759 822M172.8 838.6L319.4 799.5L465.9 727L612.5 811.5L759 1048.5M172.8 946.7L319.4 715.9L465.9 763.2L612.5 802.4L759 996.8M172.8 929.4L319.4 651.5L465.9 829.2L612.5 852.8L759 962.1M172.8 985.4L319.4 715.1L465.9 720.6L612.5 905.1L759 898.9M172.8 967.7L319.4 672.4L465.9 769L612.5 910.6L759 905.2M172.8 841.3L319.4 713.4L465.9 739.1L612.5 944.6L759 986.7M172.8 872.1L319.4 743L465.9 696.1L612.5 966.9L759 946.9M172.8 919.4L319.4 718.6L465.9 786L612.5 783.4L759 1017.6M172.8 906.8L319.4 693.2L465.9 744L612.5 900.4L759 980.7M172.8 978.3L319.4 709.8L465.9 724.4L612.5 891.3L759 921.3M172.8 939.6L319.4 668.2L465.9 768.9L612.5 928.5L759 919.9M172.8 906.6L319.4 737.9L465.9 697.2L612.5 904.7L759 978.7M172.8 945.4L319.4 640.7L465.9 840.9L612.5 920.4L759 877.5M172.8 865.6L319.4 813.2L465.9 691L612.5 828.2L759 1027M172.8 917.3L319.4 642.4L465.9 917.8L612.5 925.4L759 822.1M172.8 996L319.4 667L465.9 804L612.5 885.4L759 872.6M172.8 1009.3L319.4 695L465.9 795.8L612.5 807.5L759 917.4M172.8 949.4L319.4 666.5L465.9 884.7L612.5 944.8L759 779.7M172.8 872.3L319.4 719.7L465.9 717.9L612.5 974.8L759 940.4M172.8 978.3L319.4 735.9L465.9 764.3L612.5 771.3L759 975.2M172.8 904L319.4 745L465.9 688.8L612.5 968.6L759 918.6M172.8 869.9L319.4 756.5L465.9 687.7L612.5 933L759 977.8M172.8 1011.6L319.4 725.7L465.9 738.2L612.5 833.6L759 915.9M172.8 1008.3L319.4 709.2L465.9 789.8L612.5 929.6L759 788.2M172.8 942.4L319.4 648.6L465.9 903.2L612.5 809.3L759 921.6M172.8 939.7L319.4 749.6L465.9 688.8L612.5 879.8L759 967.1M172.8 865.1L319.4 632.6L465.9 889.3L612.5 911.7L759 926.4M172.8 921.9L319.4 651.4L465.9 836.5L612.5 967.8L759 847.4M172.8 874.6L319.4 647.3L465.9 843.6L612.5 975.8L759 883.6M172.8 859.5L319.4 644.7L465.9 856.2L612.5 970.1L759 894.6M172.8 1002.8L319.4 724.3L465.9 735.1L612.5 834.6L759 928.2M172.8 851.7L319.4 708L465.9 741.3L612.5 933.6L759 990.5M172.8 946.6L319.4 655.1L465.9 794.4L612.5 914.7L759 914.1M172.8 973.6L319.4 747.4L465.9 707.8L612.5 961.5L759 834.7M172.8 873.8L319.4 688.6L465.9 757.3L612.5 987.2L759 918.1M172.8 928.7L319.4 647.6L465.9 815L612.5 891L759 942.7M172.8 954.4L319.4 715L465.9 730.8L612.5 850.9L759 973.9M172.8 978.7L319.4 677.5L465.9 783.3L612.5 846.8L759 938.8M172.8 862.5L319.4 663.8L465.9 839.8L612.5 854.8L759 1004.1M172.8 919L319.4 661.8L465.9 787.1L612.5 895.1L759 961.9M172.8 964.1L319.4 702.2L465.9 732.9L612.5 879.6L759 946.1M172.8 935.7L319.4 683.7L465.9 760L612.5 972.7L759 873M172.8 897L319.4 633.3L465.9 858.7L612.5 908L759 928M172.8 966.2L319.4 669.9L465.9 802.4L612.5 835.2L759 951.3M172.8 986.3L319.4 663.3L465.9 826.4L612.5 916.2L759 832.8M172.8 937.3L319.4 648.6L465.9 808.9L612.5 902.3L759 927.8M172.8 881.4L319.4 650.9L465.9 811L612.5 942.4L759 939.4M172.8 994.6L319.4 696.5L465.9 751L612.5 913.6L759 869.3M172.8 845.8L319.4 635.3L465.9 918.8L612.5 917.4L759 907.7M172.8 969.9L319.4 764.5L465.9 709.8L612.5 806.4L759 974.3M172.8 971.6L319.4 729.2L465.9 745L612.5 802.5L759 976.7M172.8 988.3L319.4 754.3L465.9 721.6L612.5 802.8L759 958.1M172.8 1008.8L319.4 667.4L465.9 840.1L612.5 853.8L759 855M172.8 817.7L319.4 747.9L465.9 716.8L612.5 976L759 966.6M172.8 930.1L319.4 676.2L465.9 758.8L612.5 908.1L759 951.8M172.8 912.3L319.4 741.8L465.9 696.9L612.5 889.5L759 984.5M172.8 935.4L319.4 722.5L465.9 710.2L612.5 969.1L759 887.8M172.8 1025.2L319.4 717.8L465.9 792.5L612.5 904.6L759 784.9M172.8 1013.2L319.4 685.8L465.9 791.9L612.5 843.6L759 890.5M172.8 918.3L319.4 693.8L465.9 807.5L612.5 797.2L759 1008.2M172.8 903.7L319.4 728.9L465.9 699.9L612.5 952.1L759 940.5M172.8 893.7L319.4 662L465.9 933L612.5 784.8L759 951.5M172.8 947.4L319.4 699.1L465.9 728.7L612.5 940.3L759 909.6M172.8 1023.5L319.4 687.6L465.9 826.5L612.5 871.7L759 815.7M172.8 858L319.4 689.3L465.9 768.7L612.5 908L759 1001.1M172.8 953.5L319.4 709L465.9 718.4L612.5 936.1L759 908M172.8 998.6L319.4 787.3L465.9 693L612.5 813.9L759 932.2M172.8 926.8L319.4 639.2L465.9 850.4L612.5 939.5L759 869.1M172.8 995.7L319.4 685.1L465.9 780.9L612.5 839.8L759 923.4M172.8 864L319.4 641.1L465.9 930L612.5 941.8L759 848M172.8 836.2L319.4 650.9L465.9 849.6L612.5 967.6L759 920.7M172.8 878.6L319.4 689.8L465.9 751.1L612.5 978.2L759 927.3M172.8 1004.4L319.4 695.8L465.9 818.1L612.5 782.5L759 924.3M172.8 931.7L319.4 643.2L465.9 921.3L612.5 907.6L759 821.1M172.8 971.6L319.4 690.6L465.9 743.6L612.5 904.1L759 915.2M172.8 870.7L319.4 643.3L465.9 844.1L612.5 961.3L759 905.7M172.8 943.6L319.4 637.2L465.9 848.4L612.5 892.7L759 903.1M172.8 810.3L319.4 681.4L465.9 810.4L612.5 927.6L759 995.3M172.8 915.7L319.4 689.1L465.9 740.6L612.5 953.8L759 925.9M172.8 951.9L319.4 730.9L465.9 699.6L612.5 895.5L759 947.1M172.8 887L319.4 639.4L465.9 869.5L612.5 868.5L759 960.7M172.8 928.2L319.4 695.3L465.9 816.8L612.5 782.9L759 1001.8M172.8 920.7L319.4 734.5L465.9 774.4L612.5 775.1L759 1020.4M172.8 816.8L319.4 665.4L465.9 828.8L612.5 965.4L759 948.7M172.8 894.6L319.4 631.3L465.9 888.1L612.5 930.5L759 880.5M172.8 1010.8L319.4 674.1L465.9 845.5L612.5 816.9L759 877.7M172.8 958.1L319.4 698.8L465.9 729.6L612.5 924.4L759 914.1M172.8 932.5L319.4 635.2L465.9 859.5L612.5 919.9L759 877.9M172.8 922.6L319.4 793.3L465.9 699L612.5 801.7L759 1008.4M172.8 808.7L319.4 724.3L465.9 786.2L612.5 863.6L759 1042.2M172.8 853.2L319.4 665.2L465.9 801.2L612.5 975.4L759 930M172.8 951.5L319.4 667.3L465.9 890.1L612.5 776.7L759 939.5M172.8 997.9L319.4 728.6L465.9 741.1L612.5 813.2L759 944.2M172.8 920.6L319.4 655.8L465.9 800.4L612.5 888.3L759 959.9M172.8 860.2L319.4 662.4L465.9 805.3L612.5 979.9L759 917.2M172.8 932.8L319.4 725.3L465.9 738L612.5 826.6L759 1002.3M172.8 872L319.4 650.1L465.9 832.9L612.5 892.9L759 977M172.8 945.3L319.4 723L465.9 706.3L612.5 897.4L759 953M172.8 1003.3L319.4 797.1L465.9 686.6L612.5 918.9L759 819.1M172.8 839.9L319.4 642.1L465.9 942.1L612.5 870.8L759 930.2M172.8 860.9L319.4 720.8L465.9 723.6L612.5 989.6L759 930.2M172.8 970.4L319.4 717.3L465.9 717.4L612.5 940L759 879.9M172.8 931.4L319.4 743.4L465.9 687.8L612.5 906.5L759 955.9M172.8 938.3L319.4 638.3L465.9 840.8L612.5 914.4L759 893.2M172.8 884.6L319.4 672.3L465.9 770.7L612.5 957.6L759 939.7M172.8 876.9L319.4 651.6L465.9 812.6L612.5 953.5L759 930.4M172.8 819.6L319.4 650.6L465.9 877.1L612.5 965.8L759 911.9M172.8 979.8L319.4 651.9L465.9 834.8L612.5 861.3L759 897.1M172.8 838.9L319.4 639.2L465.9 887.2L612.5 927.6L759 932.1M172.8 930.5L319.4 695.5L465.9 732.2L612.5 949.6L759 917.3M172.8 963.3L319.4 688.1L465.9 860.7L612.5 757.8L759 955M172.8 890.7L319.4 636.2L465.9 944.4L612.5 854.8L759 898.9M172.8 821.7L319.4 713.5L465.9 751.4L612.5 945.6L759 992.8M172.8 978.9L319.4 671.9L465.9 783.2L612.5 866L759 925M172.8 835.8L319.4 684.4L465.9 787.2L612.5 917.4L759 1000.2M172.8 964.1L319.4 675.7L465.9 860.7L612.5 776L759 948.5M172.8 983.8L319.4 652L465.9 848.8L612.5 850.7L759 889.7M172.8 901.5L319.4 669.4L465.9 782.3L612.5 981L759 890.8M172.8 969.6L319.4 685.9L465.9 753.5L612.5 934.7L759 881.3M172.8 868.2L319.4 684.1L465.9 759.7L612.5 953.5L759 959.4M172.8 892.6L319.4 697.1L465.9 734.5L612.5 948.6L759 952.2M172.8 914.4L319.4 652.1L465.9 810.9L612.5 962.1L759 885.6M172.8 866L319.4 669.2L465.9 786.3L612.5 929.6L759 973.9M172.8 890.1L319.4 725.2L465.9 706.9L612.5 935.6L759 967.2M172.8 812.2L319.4 696.3L465.9 829L612.5 855.5L759 1032.1M172.8 844L319.4 729L465.9 728.3L612.5 916.1L759 1007.6M172.8 1016.6L319.4 772.1L465.9 697.9L612.5 891.5L759 846.8M172.8 813.4L319.4 773.8L465.9 715.3L612.5 895.4L759 1027.1M172.8 834.9L319.4 651L465.9 931.7L612.5 847.1L759 960.4M172.8 861.7L319.4 642.5L465.9 894.1L612.5 965.9L759 860.9M172.8 878.3L319.4 648.4L465.9 908.8L612.5 964.7L759 824.9M172.8 868.3L319.4 671.8L465.9 819.4L612.5 855.3L759 1010.1M172.8 864.3L319.4 666.3L465.9 789.3L612.5 956.1L759 949M172.8 935.9L319.4 716.1L465.9 796.9L612.5 770.5L759 1005.7M172.8 934.9L319.4 708L465.9 717.1L612.5 934.1L759 931M172.8 905.2L319.4 630.6L465.9 870.7L612.5 903.6L759 914.9M172.8 940.9L319.4 662.6L465.9 779.6L612.5 909L759 932.9M172.8 945.6L319.4 692.5L465.9 758.7L612.5 850L759 978.1M172.8 886.9L319.4 716.4L465.9 747L612.5 854.9L759 1019.8M172.8 968.9L319.4 692.1L465.9 749.9L612.5 946.5L759 867.6M172.8 891.7L319.4 651L465.9 857.8L612.5 843.2L759 981.3M172.8 883.7L319.4 711.5L465.9 784.3L612.5 814.5L759 1031.1M172.8 959.7L319.4 706.1L465.9 845.6L612.5 743.1L759 970.4M172.8 923.3L319.4 695.5L465.9 771.5L612.5 832.9L759 1001.7M172.8 923L319.4 665.4L465.9 791.7L612.5 974.4L759 870.4M172.8 966.4L319.4 714.2L465.9 786.5L612.5 776.5L759 981.4M172.8 981.4L319.4 741.1L465.9 695.7L612.5 898.3L759 908.4M172.8 1039.6L319.4 754.6L465.9 735.8L612.5 864.8L759 830.2M172.8 811.9L319.4 678.6L465.9 811.8L612.5 989.6L759 933.1M172.8 952.1L319.4 722.5L465.9 705L612.5 937.4L759 907.9M172.8 955.8L319.4 712.8L465.9 789.6L612.5 776.6L759 990.2M172.8 946.5L319.4 677.4L465.9 785.8L612.5 841.1L759 974.2M172.8 1001.4L319.4 662L465.9 857L612.5 865.7L759 838.9M172.8 881.1L319.4 706.6L465.9 727.2L612.5 954.2L759 955.9M172.8 948.6L319.4 637.7L465.9 893.2L612.5 850.2L759 895.3M172.8 859.6L319.4 761.5L465.9 694.7L612.5 905.9L759 1003.3M172.8 812.6L319.4 749.1L465.9 815.2L612.5 791.9L759 1056.2M172.8 939.3L319.4 687.9L465.9 744.1L612.5 953.2L759 900.6M172.8 821.6L319.4 768.7L465.9 697.9L612.5 976L759 960.7M172.8 897.7L319.4 635.4L465.9 850.3L612.5 907.5L759 934M172.8 959.8L319.4 709.2L465.9 718.9L612.5 928.9L759 908.2M172.8 990.9L319.4 665.2L465.9 845.9L612.5 814.6L759 908.3M172.8 895.4L319.4 707.1L465.9 808.4L612.5 788.7L759 1025.3M172.8 978.2L319.4 692.8L465.9 743.6L612.5 897.6L759 912.8M172.8 899.3L319.4 650.8L465.9 812.2L612.5 962.2L759 900.5M172.8 854L319.4 648.1L465.9 852.9L612.5 893.6L759 976.5M172.8 930.9L319.4 712.4L465.9 748.1L612.5 833.5L759 1000.2M172.8 901.5L319.4 685.4L465.9 804.5L612.5 822L759 1011.6M172.8 955.9L319.4 799.6L465.9 740.2L612.5 737.3L759 992.1M172.8 943.8L319.4 641.2L465.9 852.2L612.5 859L759 928.9M172.8 831.9L319.4 718.4L465.9 760.7L612.5 885.8L759 1028.3M172.8 965.2L319.4 702.5L465.9 730.9L612.5 886.1L759 940.3M172.8 963L319.4 657.9L465.9 798.3L612.5 922.3L759 883.6M172.8 818.5L319.4 664.5L465.9 829.6L612.5 944L759 968.4M172.8 861.6L319.4 703.1L465.9 765.4L612.5 873.8L759 1021.1M172.8 925.1L319.4 699.5L465.9 738.1L612.5 882.8L759 979.5M172.8 939.7L319.4 666.6L465.9 772.8L612.5 937L759 909M172.8 950.4L319.4 650.5L465.9 806.4L612.5 907.5L759 910.1M172.8 963.1L319.4 745.1L465.9 730.7L612.5 985.1L759 801M172.8 908.8L319.4 699.2L465.9 778.7L612.5 824.7L759 1013.6M172.8 827.3L319.4 711.4L465.9 749.8L612.5 946.3L759 990.2M172.8 944.9L319.4 639.7L465.9 837.7L612.5 906.4L759 896.2M172.8 990.6L319.4 751.8L465.9 710.4L612.5 826L759 946.1M172.8 937.1L319.4 772.1L465.9 715L612.5 796.1L759 1004.7M172.8 955.7L319.4 730.6L465.9 700.1L612.5 894.6L759 944M172.8 877.2L319.4 689.4L465.9 754.6L612.5 985.7L759 918.1M172.8 948.3L319.4 646.4L465.9 859.1L612.5 835.8L759 935.3M172.8 926.9L319.4 729.5L465.9 697.4L612.5 948.6L759 922.5M172.8 933.8L319.4 634.1L465.9 865.9L612.5 913.6L759 877.6M172.8 922.1L319.4 686.2L465.9 761.7L612.5 986.1L759 868.9M172.8 838.7L319.4 753L465.9 701.4L612.5 956L759 975.9M172.8 934.5L319.4 648.5L465.9 892.6L612.5 811.8L759 937.6M172.8 943.2L319.4 709L465.9 719.6L612.5 952.8L759 900.4M172.8 883.4L319.4 707.6L465.9 731.3L612.5 987.8L759 914.9M172.8 829.4L319.4 679L465.9 822.3L612.5 878.8L759 1015.6M172.8 830.3L319.4 725.1L465.9 766.1L612.5 865.3L759 1038.2M172.8 935.3L319.4 792.7L465.9 695.1L612.5 803.7L759 998.3M172.8 863.9L319.4 636.4L465.9 893.1L612.5 881.6L759 950M172.8 995.9L319.4 669.4L465.9 800.9L612.5 861.8L759 897M172.8 884.5L319.4 679.4L465.9 768.2L612.5 985.7L759 907.3M172.8 981.9L319.4 744.5L465.9 697.2L612.5 871.6L759 929.7M172.8 1031.5L319.4 720.8L465.9 756.8L612.5 868.5L759 847.4M172.8 980.7L319.4 665.8L465.9 790.1L612.5 903.1L759 885.3M172.8 846.1L319.4 658L465.9 886.4L612.5 841.7L759 992.9M172.8 829.5L319.4 651.9L465.9 916.2L612.5 970.7L759 856.7M172.8 946.4L319.4 684.7L465.9 757L612.5 963.4L759 873.6M172.8 1014.6L319.4 693.3L465.9 773.1L612.5 863.6L759 880.4M172.8 891.2L319.4 633.8L465.9 882.2L612.5 942.7L759 875.1M172.8 951.8L319.4 704.4L465.9 745.1L612.5 846.8L759 976.9M172.8 913L319.4 729.7L465.9 709.7L612.5 883L759 989.5M172.8 942.4L319.4 782.8L465.9 685.5L612.5 829.5L759 984.7M172.8 932.1L319.4 639.6L465.9 891.4L612.5 836.1L759 925.9M172.8 867.5L319.4 657.5L465.9 830.8L612.5 992.3L759 876.9M172.8 823.3L319.4 736.2L465.9 752.1L612.5 877.2L759 1036.3M172.8 920.8L319.4 679.9L465.9 755.5L612.5 906.4L759 962.4M172.8 950.6L319.4 727.4L465.9 699.5L612.5 924.3L759 923.3M172.8 889.5L319.4 648.9L465.9 881.5L612.5 831.3L759 973.9M172.8 963.9L319.4 698.2L465.9 731.5L612.5 916.1L759 915.2M172.8 831.2L319.4 697.6L465.9 823.7L612.5 837.4L759 1035.1M172.8 867.5L319.4 708.5L465.9 732.4L612.5 935L759 981.6M172.8 934.2L319.4 640.8L465.9 838.1L612.5 932.6L759 879.3M172.8 965.7L319.4 664L465.9 785.9L612.5 922.4L759 887M172.8 873.8L319.4 644.8L465.9 831.1L612.5 925.2L759 950M172.8 948.9L319.4 651.2L465.9 810.4L612.5 932.3L759 882.2M172.8 1011.3L319.4 704.1L465.9 781.8L612.5 807.6L759 920.2M172.8 861.9L319.4 689.7L465.9 755.5L612.5 968.4L759 949.6M172.8 952L319.4 647.8L465.9 818.6L612.5 884.5L759 922.1M172.8 932.4L319.4 638.6L465.9 875L612.5 847.7L759 931.2M172.8 946.4L319.4 665.8L465.9 785.7L612.5 873.3L759 953.8M172.8 880.1L319.4 693.7L465.9 866.6L612.5 770.8L759 1013.7M172.8 866.3L319.4 706.4L465.9 733.9L612.5 943.7L759 974.7M172.8 927.1L319.4 693.7L465.9 733.9L612.5 921.6L759 948.6M172.8 956.7L319.4 645.3L465.9 891.9L612.5 825.7L759 905.4M172.8 850.4L319.4 638L465.9 880.1L612.5 945.6L759 910.9M172.8 841.8L319.4 750L465.9 747.9L612.5 840L759 1045.2M172.8 906.7L319.4 687.8L465.9 820.3L612.5 799.7L759 1010.5M172.8 887.7L319.4 641.3L465.9 911.5L612.5 948.7L759 835.7M172.8 916.8L319.4 772.7L465.9 710.5L612.5 810.1L759 1014.9M172.8 992.9L319.4 703.7L465.9 737.7L612.5 903.9L759 886.8M172.8 953.7L319.4 638.5L465.9 900.8L612.5 858.8L759 873.3M172.8 941.2L319.4 698.8L465.9 774.2L612.5 817L759 993.8M172.8 875.8L319.4 717L465.9 729.6L612.5 899.8L759 1002.8M172.8 811.2L319.4 663.7L465.9 923.3L612.5 845.9L759 980.8M172.8 998.8L319.4 681.8L465.9 809L612.5 813.1L759 922.2M172.8 938.3L319.4 710.5L465.9 811.6L612.5 764.2L759 1000.3M172.8 945.1L319.4 662L465.9 875.8L612.5 791.1L759 951M172.8 851.2L319.4 665L465.9 803.9L612.5 926.3L759 978.6M172.8 920L319.4 695.9L465.9 736.1L612.5 969.1L759 903.7M172.8 927L319.4 730.4L465.9 709L612.5 984L759 874.7M172.8 886.7L319.4 816L465.9 755.6L612.5 733.3L759 1033.4M172.8 901.5L319.4 708.2L465.9 742.6L612.5 867.6L759 1005.2M172.8 918.6L319.4 634.6L465.9 848.6L612.5 910.6L759 912.6M172.8 918.4L319.4 760L465.9 720.8L612.5 809.8L759 1016.1M172.8 1029.1L319.4 736.4L465.9 738.3L612.5 838.1L759 883M172.8 934.5L319.4 637.4L465.9 841.2L612.5 906.2L759 905.7M172.8 888.4L319.4 700.6L465.9 732.4L612.5 938.9L759 964.7M172.8 1018.3L319.4 699.8L465.9 770.4L612.5 848.5L759 888.1M172.8 983.1L319.4 735.7L465.9 807.8L612.5 734.9L759 963.5M172.8 929.7L319.4 650.9L465.9 816.9L612.5 955.3L759 872.2M172.8 906.3L319.4 695.8L465.9 733.8L612.5 931L759 958.1M172.8 985.9L319.4 731.2L465.9 707.2L612.5 882.8L759 917.9M172.8 893.4L319.4 698.6L465.9 741.8L612.5 989.7L759 901.5M172.8 981.4L319.4 718.1L465.9 715.9L612.5 908.5L759 901.2M172.8 872.9L319.4 642.4L465.9 837.7L612.5 927.2L759 944.7M172.8 953.8L319.4 655.4L465.9 860L612.5 813.1L759 942.7M172.8 985L319.4 703.9L465.9 765.9L612.5 815.9L759 954.3M172.8 970.7L319.4 685.2L465.9 799.7L612.5 807.2L759 962.2M172.8 918.1L319.4 663.2L465.9 786.7L612.5 966.2L759 890.8M172.8 936.2L319.4 680.6L465.9 765.3L612.5 870.5L759 972.4M172.8 965.8L319.4 677.1L465.9 894.7L612.5 762.2L759 925.2M172.8 861.5L319.4 722.1L465.9 727.1L612.5 911.9L759 1002.5M172.8 966.2L319.4 642.7L465.9 892.3L612.5 869.4L759 854.4M172.8 957.4L319.4 661.5L465.9 797.8L612.5 943.1L759 865.2M172.8 908.7L319.4 629.9L465.9 911.4L612.5 898.1L759 876.8M172.8 905.2L319.4 739.7L465.9 691.4L612.5 960.8L759 927.8M172.8 857L319.4 758.6L465.9 696.2L612.5 912.3L759 1000.9M172.8 953L319.4 649.4L465.9 920L612.5 813.1L759 889.5M172.8 818.1L319.4 648L465.9 887.3L612.5 916.6L759 955M172.8 871.7L319.4 665.1L465.9 788.9L612.5 965.1L759 934.1M172.8 1000L319.4 729.9L465.9 768.2L612.5 777.6L759 949.3M172.8 961.2L319.4 661.2L465.9 829.5L612.5 825L759 948.2M172.8 1028.5L319.4 737.8L465.9 734.1L612.5 846.6L759 878M172.8 907.2L319.4 637.8L465.9 842.8L612.5 940.3L759 896.9M172.8 916.1L319.4 690.1L465.9 801.8L612.5 809.6L759 1007.4M172.8 825.4L319.4 663.6L465.9 824.2L612.5 944L759 967.7M172.8 911.1L319.4 654.1L465.9 795.4L612.5 926.5L759 938M172.8 946.5L319.4 645.5L465.9 826.1L612.5 878.3L759 928.7M172.8 1010.7L319.4 771L465.9 691.4L612.5 869.1L759 882.9M172.8 917.4L319.4 695.2L465.9 785L612.5 819.2L759 1008.1M172.8 957.7L319.4 785.3L465.9 706.2L612.5 789.6L759 986.3M172.8 970L319.4 665.2L465.9 783.8L612.5 910.7L759 895.3M172.8 908L319.4 657.8L465.9 839.7L612.5 835.1L759 984.4M172.8 969.3L319.4 662.4L465.9 798.2L612.5 929.7L759 865.3M172.8 881.9L319.4 646.9L465.9 827.6L612.5 905L759 963.6M172.8 934.2L319.4 708L465.9 737.6L612.5 986.8L759 858.4M172.8 833.1L319.4 642.1L465.9 882L612.5 939L759 928.9M172.8 914.2L319.4 720L465.9 725.7L612.5 866.9L759 998.1M172.8 951.1L319.4 687L465.9 742.7L612.5 925.8L759 918.3M172.8 987.7L319.4 674L465.9 865.7L612.5 783.6L759 914M172.8 884.1L319.4 649.8L465.9 854.6L612.5 981.9L759 854.7M172.8 911.3L319.4 688.8L465.9 746.1L612.5 906.2L759 972.6M172.8 824.5L319.4 767.6L465.9 714.7L612.5 891.5L759 1026.7M172.8 924.4L319.4 667.4L465.9 773.3L612.5 953.8L759 906.1M172.8 876.9L319.4 635.7L465.9 878.7L612.5 950.5L759 883.3M172.8 1021.5L319.4 715.8L465.9 764.1L612.5 819.3L759 904.3M172.8 935.8L319.4 638L465.9 867.9L612.5 855.8L759 927.5M172.8 858.4L319.4 760.8L465.9 690.6L612.5 925.3L759 989.9M172.8 820.7L319.4 657.3L465.9 849.7L612.5 923.9L759 973.4M172.8 842.2L319.4 640.8L465.9 895.3L612.5 955.5L759 891.2M172.8 890.5L319.4 674.6L465.9 770.6L612.5 976.5L759 912.9M172.8 955.8L319.4 720.4L465.9 707.3L612.5 933.6L759 907.9M172.8 859.2L319.4 668.5L465.9 788.2L612.5 953.5L759 955.6M172.8 930.7L319.4 711.1L465.9 714.6L612.5 947.3L759 921.2M172.8 940.2L319.4 750.8L465.9 692.7L612.5 865.8L759 975.4M172.8 852.1L319.4 715.1L465.9 793.5L612.5 823.1L759 1041.2M172.8 909.4L319.4 678.6L465.9 856.7L612.5 784L759 996.3M172.8 956.8L319.4 720.1L465.9 757.7L612.5 801L759 989.5M172.8 1000.9L319.4 677.2L465.9 789.4L612.5 898.1L759 859.5M172.8 862.9L319.4 701.7L465.9 741.3L612.5 978L759 941.2M172.8 974.4L319.4 665.7L465.9 784.8L612.5 901.6L759 898.5M172.8 984.4L319.4 676.8L465.9 791L612.5 839L759 933.8M172.8 987.7L319.4 744.7L465.9 696.5L612.5 913.3L759 882.8M172.8 947.9L319.4 636.7L465.9 857.5L612.5 884.5L759 898.4M172.8 911.7L319.4 651.7L465.9 807.1L612.5 957L759 897.5M172.8 951.6L319.4 705.6L465.9 725.6L612.5 889.9L759 952.3M172.8 942.8L319.4 756.9L465.9 723.4L612.5 800.5L759 1001.4M172.8 818.3L319.4 644.9L465.9 900.6L612.5 936.9L759 924.2M172.8 977.2L319.4 663.9L465.9 911.9L612.5 793.3L759 878.8M172.8 902.2L319.4 728.8L465.9 704.4L612.5 977.2L759 912.4M172.8 966.8L319.4 745.1L465.9 697.7L612.5 861.9L759 953.4M172.8 960.9L319.4 670L465.9 776.8L612.5 938.1L759 879.1M172.8 893.4L319.4 665L465.9 780.2L612.5 955.6L759 930.8M172.8 874.1L319.4 738.5L465.9 700.8L612.5 932.9L759 978.7M172.8 953.6L319.4 792L465.9 750.9L612.5 733.2L759 995.3M172.8 875.4L319.4 660.7L465.9 835.6L612.5 855.1L759 998.3M172.8 1024.5L319.4 700.9L465.9 831.3L612.5 884.9L759 783.4M172.8 928.4L319.4 681L465.9 855.4L612.5 774.9L759 985.3M172.8 897L319.4 776.5L465.9 699.4L612.5 834.3L759 1017.8M172.8 925.3L319.4 739.7L465.9 690.7L612.5 910.7L759 958.6M172.8 957.5L319.4 708.7L465.9 720.7L612.5 897.7L759 940.3M172.8 979.7L319.4 650.4L465.9 854.5L612.5 894.6L759 845.7M172.8 811.2L319.4 660L465.9 876.4L612.5 890.4L759 986.9M172.8 1038.1L319.4 730.4L465.9 776.8L612.5 798.3L759 881.5M172.8 874.6L319.4 679L465.9 764.7L612.5 963.7L759 943M172.8 857.3L319.4 651.5L465.9 877.9L612.5 985.9L759 852.4M172.8 995.5L319.4 713.2L465.9 731L612.5 915.1L759 870.2M172.8 848.2L319.4 657.4L465.9 840.5L612.5 887L759 991.9M172.8 928.6L319.4 655.6L465.9 830.1L612.5 969.4L759 841.3M172.8 833.8L319.4 694.1L465.9 800.5L612.5 869.7L759 1026.9M172.8 915.5L319.4 720.5L465.9 722.9L612.5 871.1L759 995.1M172.8 902.4L319.4 691L465.9 740L612.5 935.3L759 956.3M172.8 899.5L319.4 648.5L465.9 825.7L612.5 883.4L759 968M172.8 985.7L319.4 724.6L465.9 712.4L612.5 887.5L759 914.8M172.8 946.2L319.4 696.4L465.9 730.5L612.5 922.9L759 929M172.8 986.4L319.4 765L465.9 714.9L612.5 799.1L759 959.7M172.8 959.7L319.4 661L465.9 794.1L612.5 875.8L759 934.4M172.8 834.5L319.4 686.2L465.9 776.3L612.5 954.6L759 973.4M172.8 938L319.4 672.4L465.9 894.1L612.5 767.3L759 953.1M172.8 909.8L319.4 724.4L465.9 706.1L612.5 914.1L759 970.5M172.8 938.4L319.4 675.2L465.9 825.1L612.5 803.7L759 982.5M172.8 812.6L319.4 654.8L465.9 915.9L612.5 969.9L759 871.8M172.8 899.5L319.4 652.2L465.9 813.3L612.5 891.3L759 968.6M172.8 980.3L319.4 655.9L465.9 823.1L612.5 858.8L759 906.8M172.8 850.3L319.4 674.9L465.9 783.5L612.5 948.8L759 967.5M172.8 851.4L319.4 636.9L465.9 940.5L612.5 913.5L759 882.7M172.8 820.9L319.4 657.2L465.9 850.8L612.5 974.9L759 921.3M172.8 1013.9L319.4 730L465.9 732L612.5 840.6L759 908.4M172.8 1045.2L319.4 806.1L465.9 729.7L612.5 858.1L759 785.9M172.8 824.9L319.4 665L465.9 869.9L612.5 862.5L759 1002.6M172.8 995.6L319.4 738.3L465.9 804.3L612.5 736.5L759 950.2M172.8 866.6L319.4 663.3L465.9 802.1L612.5 910.2L759 982.8M172.8 975.1L319.4 744.8L465.9 691.7L612.5 891.3L759 922.1M172.8 921L319.4 749.7L465.9 688.4L612.5 976.1L759 889.9M172.8 947.2L319.4 648.3L465.9 816L612.5 928.7L759 884.9M172.8 934L319.4 671.9L465.9 797.6L612.5 980.8L759 840.7M172.8 854.9L319.4 642.6L465.9 906.2L612.5 860.1L759 961.2M172.8 975.9L319.4 701.6L465.9 828.4L612.5 759.1L759 959.9M172.8 1004.9L319.4 759.2L465.9 695.7L612.5 866.9L759 898.4M172.8 1008.8L319.4 689.9L465.9 805.7L612.5 807L759 913.6M172.8 924.3L319.4 697L465.9 790.8L612.5 806.7L759 1006.2M172.8 975.2L319.4 673.8L465.9 823.1L612.5 806.3L759 946.6M172.8 915.1L319.4 635.5L465.9 851.2L612.5 932.3L759 890.8M172.8 926.3L319.4 718.6L465.9 808L612.5 761.1L759 1011M172.8 937.3L319.4 643.3L465.9 914L612.5 821.7L759 908.7M172.8 953.5L319.4 685.9L465.9 758L612.5 960.9L759 866.8M172.8 970.9L319.4 710.3L465.9 732.5L612.5 857.9L759 953.4M172.8 935.5L319.4 638.8L465.9 844.6L612.5 879.2L759 926.9M172.8 941.9L319.4 733.7L465.9 693.5L612.5 921.4L759 934.5M172.8 868.2L319.4 636.1L465.9 872.5L612.5 900.4L759 947.8M172.8 903.8L319.4 641.4L465.9 832.8L612.5 947.5L759 899.5M172.8 961.8L319.4 747.3L465.9 693.2L612.5 869.5L759 953.2M172.8 982.8L319.4 657L465.9 864.5L612.5 819.2L759 901.5M172.8 952.6L319.4 653.1L465.9 803.5L612.5 924.1L759 891.8M172.8 892.3L319.4 660.3L465.9 800.3L612.5 893.2L759 978.8M172.8 975.3L319.4 665.1L465.9 840.3L612.5 810.1L759 934.3M172.8 967.9L319.4 712.6L465.9 742.4L612.5 833.6L759 968.5M172.8 868.3L319.4 759.2L465.9 687.8L612.5 985.2L759 924.4M172.8 856.6L319.4 643.1L465.9 937L612.5 940.8L759 847.5M172.8 969.7L319.4 789.4L465.9 688.5L612.5 964.9L759 812.4M172.8 988.1L319.4 658.1L465.9 842.6L612.5 900.2L759 836M172.8 916L319.4 730.7L465.9 699.2L612.5 965.2L759 913.9M172.8 1011L319.4 672.2L465.9 873L612.5 825.6L759 843.1M172.8 945.2L319.4 680.3L465.9 754.3L612.5 898.5L759 946.6M172.8 837.4L319.4 670.3L465.9 815.8L612.5 902.1L759 999.5M172.8 895.3L319.4 659.9L465.9 791.1L612.5 962.2L759 916.6M172.8 944.8L319.4 772.5L465.9 705.4L612.5 807.5L759 994.8M172.8 896.3L319.4 705.9L465.9 743.1L612.5 875.9L759 1003.9M172.8 988.3L319.4 692L465.9 768.9L612.5 837.2L759 938.6M172.8 938.5L319.4 657.9L465.9 787.1L612.5 920.3L759 921.1M172.8 870.6L319.4 721.8L465.9 742.6L612.5 866.7L759 1023.2M172.8 933.8L319.4 645.5L465.9 815.6L612.5 905L759 925.1M172.8 854.3L319.4 754L465.9 707.2L612.5 895.2L759 1014.3" fill="none" stroke="#a5a5c7" stroke-width="1.4" stroke-linejoin="round" marker-start="url(#dot)" marker-mid="url(#dot)" marker-end="url(#dot)"/>
<path d="M172.8 924.9L319.4 684.1L465.9 784.5L612.5 893.4L759 937" fill="none" stroke="#ff3b3b" stroke-width="2" marker-start="url(#rdot)" marker-mid="url(#rdot)" marker-end="url(#rdot)"/>
<path d="M85.4 609.3V1078.3H847" fill="none" stroke="#222" stroke-width="2"/>
<path d="M78.4 724H85.4M78.4 845H85.4M78.4 966H85.4M172.8 1078.3V1084.3M319.4 1078.3V1084.3M465.9 1078.3V1084.3M612.5 1078.3V1084.3M759 1078.3V1084.3" stroke="#222" stroke-width="1.6"/>
<text class="ta tk" x="0" y="0" text-anchor="end" transform="translate(74.4 727.6) scale(1 0.71)" font-size="14.5">1</text>
<text class="ta tk" x="0" y="0" text-anchor="end" transform="translate(74.4 848.6) scale(1 0.71)" font-size="14.5">0</text>
<text class="ta tk" x="0" y="0" text-anchor="end" transform="translate(74.4 969.6) scale(1 0.71)" font-size="14.5">−1</text>
<text class="ta tk" text-anchor="middle" transform="translate(172.8 1094.3) scale(1 0.71)" font-size="14.5">S1</text>
<text class="ta tk" text-anchor="middle" transform="translate(319.4 1094.3) scale(1 0.71)" font-size="14.5">S2</text>
<text class="ta tk" text-anchor="middle" transform="translate(465.9 1094.3) scale(1 0.71)" font-size="14.5">S3</text>
<text class="ta tk" text-anchor="middle" transform="translate(612.5 1094.3) scale(1 0.71)" font-size="14.5">S4</text>
<text class="ta tk" text-anchor="middle" transform="translate(759 1094.3) scale(1 0.71)" font-size="14.5">S5</text>
<text class="ta tk" text-anchor="middle" transform="translate(466.7 1107.8) scale(1 0.71)" font-size="17.9">Sample</text>
<text class="ta tk" text-anchor="middle" transform="translate(52.4 843.8) scale(1 0.71) rotate(-90)" font-size="18.7">Expression (z−score)</text>
<text class="ta tk" text-anchor="middle" transform="translate(466.5 604.8) scale(1 0.71)" font-size="20.4">metabolite Cluster 2(462)</text>
<path d="M172.8 1410.3L319.4 1366.9L465.9 1555.6L612.5 1397.9L759 1217.3M172.8 1397.8L319.4 1463.7L465.9 1432.6L612.5 1473.6L759 1180.3M172.8 1320.5L319.4 1558.2L465.9 1456.3L612.5 1364.8L759 1248.2M172.8 1410.2L319.4 1495.3L465.9 1511.2L612.5 1289.8L759 1241.5M172.8 1470.4L319.4 1432.9L465.9 1518.9L612.5 1285.9L759 1239.9M172.8 1377.9L319.4 1440.8L465.9 1567.8L612.5 1286.7L759 1274.8M172.8 1432.3L319.4 1430.9L465.9 1542.9L612.5 1310.4L759 1231.6M172.8 1515.1L319.4 1412.1L465.9 1488.5L612.5 1236.8L759 1295.4M172.8 1441.3L319.4 1444.1L465.9 1532L612.5 1292.1L759 1238.5M172.8 1535.7L319.4 1341.6L465.9 1475L612.5 1370.3L759 1225.4M172.8 1499.9L319.4 1422.1L465.9 1490.2L612.5 1319.5L759 1216.4M172.8 1484.3L319.4 1466.7L465.9 1481.4L612.5 1248.1L759 1267.5M172.8 1442.5L319.4 1393.9L465.9 1560.1L612.5 1291.2L759 1260.4M172.8 1422.6L319.4 1487.8L465.9 1504L612.5 1313.2L759 1220.4M172.8 1526.4L319.4 1360.6L465.9 1494.7L612.5 1333.1L759 1233.2M172.8 1436.1L319.4 1437.1L465.9 1443.6L612.5 1457.1L759 1174.2M172.8 1388.3L319.4 1436.1L465.9 1566.8L612.5 1279.8L759 1277M172.8 1511.7L319.4 1475.8L465.9 1438.8L612.5 1247.8L759 1273.9M172.8 1541.7L319.4 1427.1L465.9 1440.2L612.5 1303.7L759 1235.3M172.8 1411.3L319.4 1541.1L465.9 1365.8L612.5 1422.5L759 1207.3M172.8 1431.3L319.4 1460.4L465.9 1509.9L612.5 1343.7L759 1202.7M172.8 1536.7L319.4 1452.2L465.9 1429.5L612.5 1264.3L759 1265.3M172.8 1487.9L319.4 1430.7L465.9 1505.7L612.5 1242.2L759 1281.5M172.8 1307.7L319.4 1549.1L465.9 1486.7L612.5 1329.2L759 1275.4M172.8 1472.5L319.4 1395L465.9 1524.7L612.5 1341.7L759 1214M172.8 1437.2L319.4 1436.3L465.9 1522.1L612.5 1348.8L759 1203.6M172.8 1445.7L319.4 1493.3L465.9 1470.3L612.5 1336.3L759 1202.5M172.8 1366.3L319.4 1456.3L465.9 1546.5L612.5 1355L759 1223.9M172.8 1307L319.4 1579.9L465.9 1437.1L612.5 1290.4L759 1333.6M172.8 1430.3L319.4 1379.3L465.9 1561.2L612.5 1346.3L759 1230.9M172.8 1476.5L319.4 1440.9L465.9 1434.8L612.5 1418.9L759 1177M172.8 1426.1L319.4 1429.3L465.9 1547L612.5 1313.3L759 1232.2M172.8 1426.1L319.4 1388.9L465.9 1567L612.5 1319.8L759 1246.1M172.8 1479.8L319.4 1440.9L465.9 1444.2L612.5 1403.9L759 1179.1M172.8 1540.4L319.4 1409.1L465.9 1359.9L612.5 1429.6L759 1208.9M172.8 1364.3L319.4 1527.1L465.9 1500.5L612.5 1305.6L759 1250.4M172.8 1486.8L319.4 1501.8L465.9 1437L612.5 1284L759 1238.4M172.8 1560.5L319.4 1414.2L465.9 1426.5L612.5 1266.3L759 1280.5M172.8 1426.7L319.4 1438.7L465.9 1547L612.5 1267L759 1268.5M172.8 1544.3L319.4 1438.1L465.9 1430.2L612.5 1285.4L759 1250M172.8 1326.4L319.4 1401.2L465.9 1525.2L612.5 1474.6L759 1220.6M172.8 1521L319.4 1335.4L465.9 1466.6L612.5 1413.3L759 1211.9M172.8 1544.2L319.4 1412L465.9 1440L612.5 1328.1L759 1223.6M172.8 1411.6L319.4 1554.9L465.9 1438.7L612.5 1277.7L759 1265M172.8 1534.3L319.4 1337.9L465.9 1493.9L612.5 1337.5L759 1244.5M172.8 1467.2L319.4 1406.9L465.9 1537.1L612.5 1288.6L759 1248.2M172.8 1485L319.4 1429L465.9 1482.3L612.5 1356.9L759 1194.8M172.8 1415.8L319.4 1407.3L465.9 1536.7L612.5 1387.4L759 1200.8M172.8 1480.8L319.4 1473.2L465.9 1453L612.5 1343.3L759 1197.8M172.8 1515.7L319.4 1399.9L465.9 1499.2L612.5 1269.6L759 1263.7M172.8 1466L319.4 1466.8L465.9 1492.6L612.5 1299.7L759 1222.9M172.8 1373.5L319.4 1523.2L465.9 1503.5L612.5 1259.1L759 1288.8M172.8 1444.5L319.4 1456.3L465.9 1496.6L612.5 1356.7L759 1193.9M172.8 1518.5L319.4 1452.2L465.9 1455.2L612.5 1274.8L759 1247.3M172.8 1488L319.4 1330.9L465.9 1538.6L612.5 1346L759 1244.5M172.8 1432.7L319.4 1471.2L465.9 1501.7L612.5 1338.9L759 1203.6M172.8 1478.8L319.4 1400.8L465.9 1498L612.5 1376.5L759 1193.9M172.8 1484.1L319.4 1464.6L465.9 1483.3L612.5 1245.7L759 1270.3M172.8 1429.1L319.4 1508.3L465.9 1488L612.5 1263L759 1259.5M172.8 1567.3L319.4 1375.5L465.9 1406.2L612.5 1370.2L759 1228.8M172.8 1359.3L319.4 1558.5L465.9 1350.4L612.5 1445.7L759 1234.2M172.8 1515.4L319.4 1466.8L465.9 1441.9L612.5 1285.6L759 1238.2M172.8 1452L319.4 1517.3L465.9 1452.6L612.5 1231L759 1295.1M172.8 1387.9L319.4 1492.3L465.9 1526.8L612.5 1287.1L759 1254M172.8 1508.8L319.4 1428.4L465.9 1483.9L612.5 1293.9L759 1233M172.8 1493.2L319.4 1389.9L465.9 1522.4L612.5 1302.1L759 1240.4M172.8 1447.6L319.4 1468.8L465.9 1486.6L612.5 1349.3L759 1195.7M172.8 1530.8L319.4 1432.2L465.9 1456.6L612.5 1247.6L759 1280.7M172.8 1431.7L319.4 1463.4L465.9 1500.1L612.5 1357.6L759 1195.1M172.8 1268.3L319.4 1420.3L465.9 1555.7L612.5 1429.9L759 1273.8M172.8 1427.5L319.4 1514.2L465.9 1481.4L612.5 1279L759 1245.9M172.8 1432.8L319.4 1450.6L465.9 1520.7L612.5 1334.2L759 1209.6M172.8 1475.2L319.4 1425L465.9 1500.8L612.5 1345.5L759 1201.5M172.8 1492.8L319.4 1415.2L465.9 1489L612.5 1349.7L759 1201.2M172.8 1490.6L319.4 1462.1L465.9 1478.8L612.5 1272L759 1244.6M172.8 1507.1L319.4 1429.4L465.9 1468.7L612.5 1337.1L759 1205.6M172.8 1448.3L319.4 1429.9L465.9 1535.1L612.5 1234.6L759 1300.2M172.8 1518L319.4 1443.8L465.9 1461.6L612.5 1237L759 1287.6M172.8 1523.7L319.4 1375.6L465.9 1461.3L612.5 1384.8L759 1202.7M172.8 1449.8L319.4 1471.7L465.9 1507.6L612.5 1252.2L759 1266.6M172.8 1429.7L319.4 1416.9L465.9 1523.4L612.5 1383.2L759 1194.7M172.8 1532.4L319.4 1392.9L465.9 1481.7L612.5 1292.7L759 1248.2M172.8 1467.9L319.4 1490.8L465.9 1467L612.5 1299.3L759 1223M172.8 1475.6L319.4 1418.8L465.9 1507.3L612.5 1340.5L759 1205.8M172.8 1436.6L319.4 1408.4L465.9 1528.5L612.5 1375.3L759 1199.3M172.8 1412.2L319.4 1580.5L465.9 1382.3L612.5 1285.8L759 1287.2M172.8 1402.1L319.4 1524.4L465.9 1433L612.5 1393.9L759 1194.6M172.8 1466.9L319.4 1427.6L465.9 1524.5L612.5 1290.2L759 1238.7M172.8 1383.6L319.4 1522.3L465.9 1465.2L612.5 1373.6L759 1203.4M172.8 1491L319.4 1474.3L465.9 1467.2L612.5 1254.3L759 1261.2M172.8 1442.9L319.4 1439L465.9 1462.7L612.5 1428.6L759 1174.8M172.8 1504.8L319.4 1459L465.9 1425.3L612.5 1365.1L759 1193.8M172.8 1401.9L319.4 1509L465.9 1495.9L612.5 1316.8L759 1224.4M172.8 1493.8L319.4 1302L465.9 1508.1L612.5 1413.1L759 1231M172.8 1503.6L319.4 1425.8L465.9 1495.3L612.5 1267.9L759 1255.5M172.8 1437.7L319.4 1476.2L465.9 1494.3L612.5 1336.5L759 1203.3M172.8 1514L319.4 1392L465.9 1496.2L612.5 1318.6L759 1227.2M172.8 1506.2L319.4 1408.8L465.9 1466.3L612.5 1372.3L759 1194.3M172.8 1537L319.4 1399.3L465.9 1466.8L612.5 1233.4L759 1311.4M172.8 1492L319.4 1379.5L465.9 1526.8L612.5 1310.3L759 1239.3M172.8 1531.7L319.4 1436.2L465.9 1383.4L612.5 1396.3L759 1200.3M172.8 1379.5L319.4 1497.6L465.9 1523.1L612.5 1304.9L759 1242.9M172.8 1410.5L319.4 1453.3L465.9 1546.4L612.5 1263.5L759 1274.3M172.8 1506.1L319.4 1494.7L465.9 1423L612.5 1265.4L759 1258.7M172.8 1493.1L319.4 1453.1L465.9 1480.8L612.5 1230L759 1291M172.8 1391.1L319.4 1455.6L465.9 1552.5L612.5 1294.4L759 1254.3M172.8 1465.4L319.4 1362.8L465.9 1548.2L612.5 1336.2L759 1235.4M172.8 1439.6L319.4 1492.3L465.9 1458.8L612.5 1367.6L759 1189.7M172.8 1460.4L319.4 1431.5L465.9 1528.9L612.5 1277.1L759 1250.1M172.8 1538.6L319.4 1408.5L465.9 1418.8L612.5 1378.9L759 1203.2M172.8 1281.7L319.4 1513.3L465.9 1528.5L612.5 1318.9L759 1305.7M172.8 1477.1L319.4 1425L465.9 1519.8L612.5 1277L759 1249.1M172.8 1421L319.4 1490.8L465.9 1509.8L612.5 1280.9L759 1245.4M172.8 1355.4L319.4 1533.8L465.9 1491.5L612.5 1325.5L759 1241.9M172.8 1523.7L319.4 1382.8L465.9 1499.5L612.5 1267.9L759 1274.1M172.8 1482.7L319.4 1414.4L465.9 1499.9L612.5 1348.9L759 1202.1M172.8 1409.1L319.4 1493.1L465.9 1475.4L612.5 1380L759 1190.3M172.8 1493.4L319.4 1413.1L465.9 1508.1L612.5 1303.1L759 1230.2M172.8 1465.3L319.4 1561.5L465.9 1324L612.5 1331.2L759 1266M172.8 1374.2L319.4 1537.7L465.9 1470.6L612.5 1340.6L759 1224.8M172.8 1343L319.4 1562.1L465.9 1404.6L612.5 1409.2L759 1229.1M172.8 1467L319.4 1447.9L465.9 1511.4L612.5 1282.2L759 1239.5M172.8 1397.2L319.4 1384.4L465.9 1561.5L612.5 1384.5L759 1220.5M172.8 1559.2L319.4 1352.7L465.9 1449.4L612.5 1348.3L759 1238.4M172.8 1496L319.4 1374.6L465.9 1506.3L612.5 1361.3L759 1209.8M172.8 1485.4L319.4 1420.4L465.9 1514.3L612.5 1241.5L759 1286.4M172.8 1545.5L319.4 1412.1L465.9 1375.3L612.5 1407.1L759 1208M172.8 1556.2L319.4 1418.9L465.9 1429.6L612.5 1261L759 1282.3M172.8 1529.6L319.4 1411.5L465.9 1475.6L612.5 1272.5L759 1258.9M172.8 1384.3L319.4 1527.7L465.9 1485.8L612.5 1318.2L759 1232.1M172.8 1378.8L319.4 1470.7L465.9 1431.8L612.5 1480.7L759 1185.9M172.8 1441.9L319.4 1505.2L465.9 1479.2L612.5 1283L759 1238.7M172.8 1457L319.4 1468.1L465.9 1502L612.5 1232.1L759 1288.9M172.8 1514.1L319.4 1436.4L465.9 1428.4L612.5 1376.9L759 1192.3M172.8 1349.2L319.4 1512.1L465.9 1523.7L612.5 1293L759 1269.9M172.8 1358.9L319.4 1515.6L465.9 1483.5L612.5 1380.8L759 1209.2M172.8 1459.4L319.4 1396.2L465.9 1548.7L612.5 1259.3L759 1284.3M172.8 1460L319.4 1516.8L465.9 1424.4L612.5 1340.3L759 1206.6M172.8 1512.6L319.4 1480.1L465.9 1431.1L612.5 1281.2L759 1243.1M172.8 1452.1L319.4 1441.6L465.9 1513L612.5 1334.4L759 1206.9M172.8 1477.4L319.4 1532.5L465.9 1403.7L612.5 1265.9L759 1268.5M172.8 1396.3L319.4 1548.8L465.9 1453.4L612.5 1309.7L759 1239.8M172.8 1456.4L319.4 1492.2L465.9 1459.4L612.5 1340.2L759 1199.9M172.8 1326.6L319.4 1550.3L465.9 1434.3L612.5 1408.7L759 1228M172.8 1447L319.4 1435.6L465.9 1516.2L612.5 1346.8L759 1202.5M172.8 1518.2L319.4 1441.9L465.9 1465.4L612.5 1248.7L759 1273.8M172.8 1352.4L319.4 1497.2L465.9 1535.3L612.5 1300.5L759 1262.5M172.8 1544.5L319.4 1428.1L465.9 1441.4L612.5 1272.2L759 1261.8M172.8 1488.1L319.4 1535.5L465.9 1344.7L612.5 1341.6L759 1238.1M172.8 1456.4L319.4 1513.1L465.9 1458.2L612.5 1247.6L759 1272.7M172.8 1504.2L319.4 1405.2L465.9 1507.9L612.5 1267.5L759 1263.2M172.8 1412L319.4 1466.5L465.9 1533.5L612.5 1239.9L759 1296.1M172.8 1470.3L319.4 1460.3L465.9 1462.2L612.5 1368L759 1187.1M172.8 1405.2L319.4 1397.4L465.9 1467.6L612.5 1491.8L759 1186M172.8 1399.6L319.4 1484.7L465.9 1513.4L612.5 1337L759 1213.4M172.8 1485.3L319.4 1477.3L465.9 1470.4L612.5 1254.6L759 1260.4M172.8 1431.9L319.4 1509.1L465.9 1482.3L612.5 1286.7L759 1237.9M172.8 1437.8L319.4 1367.5L465.9 1572.5L612.5 1276.1L759 1294.1M172.8 1402.5L319.4 1539.5L465.9 1468.6L612.5 1259.9L759 1277.5M172.8 1533L319.4 1446.6L465.9 1438.5L612.5 1287.1L759 1242.7M172.8 1517.5L319.4 1374.4L465.9 1507.6L612.5 1298.4L759 1250.1M172.8 1500.8L319.4 1490L465.9 1417.2L612.5 1326.7L759 1213.2M172.8 1416.1L319.4 1509.2L465.9 1423.7L612.5 1413.2L759 1185.8M172.8 1338.7L319.4 1502.5L465.9 1535L612.5 1273.2L759 1298.6M172.8 1434.3L319.4 1461.1L465.9 1524.8L612.5 1289.3L759 1238.5M172.8 1453.9L319.4 1477.7L465.9 1497.6L612.5 1278.9L759 1239.8M172.8 1482.9L319.4 1501.7L465.9 1426.3L612.5 1325.1L759 1212.1M172.8 1321L319.4 1418L465.9 1575L612.5 1379.6L759 1254.4M172.8 1538.5L319.4 1461.8L465.9 1398.4L612.5 1321.4L759 1227.9M172.8 1447.6L319.4 1489L465.9 1475.4L612.5 1331.5L759 1204.5M172.8 1511.6L319.4 1349.2L465.9 1490.2L612.5 1385.2L759 1211.8M172.8 1447.3L319.4 1454.5L465.9 1520.8L612.5 1288.2L759 1237.2M172.8 1421.6L319.4 1376.5L465.9 1574.8L612.5 1319.1L759 1256.1M172.8 1512.6L319.4 1342.2L465.9 1390.9L612.5 1488.9L759 1213.5M172.8 1486.6L319.4 1477L465.9 1430.9L612.5 1360.5L759 1193M172.8 1495.7L319.4 1489.8L465.9 1425.3L612.5 1325.4L759 1211.9M172.8 1556.3L319.4 1377.9L465.9 1456.6L612.5 1302.9L759 1254.2M172.8 1383.7L319.4 1508.4L465.9 1514.2L612.5 1285L759 1256.7M172.8 1428.9L319.4 1470.9L465.9 1506.3L612.5 1335.5L759 1206.4M172.8 1409L319.4 1504.7L465.9 1456.8L612.5 1388.2L759 1189.3M172.8 1479.8L319.4 1406.5L465.9 1528.9L612.5 1274L759 1258.8M172.8 1485.9L319.4 1443.4L465.9 1469.8L612.5 1355.6L759 1193.3M172.8 1445.1L319.4 1537.2L465.9 1435.8L612.5 1275.2L759 1254.7M172.8 1477.4L319.4 1442.9L465.9 1507.9L612.5 1265.9L759 1253.9M172.8 1481.2L319.4 1457.8L465.9 1477.2L612.5 1324.8L759 1207M172.8 1467.9L319.4 1432.6L465.9 1520.5L612.5 1289.5L759 1237.5M172.8 1402.2L319.4 1566.8L465.9 1380.3L612.5 1371.2L759 1227.4M172.8 1499.6L319.4 1413L465.9 1503.3L612.5 1298.8L759 1233.2M172.8 1487.8L319.4 1491.6L465.9 1377.6L612.5 1396.3L759 1194.6M172.8 1494.3L319.4 1531.1L465.9 1372.8L612.5 1256L759 1293.9M172.8 1501.1L319.4 1456.9L465.9 1396.4L612.5 1406.5L759 1187.2M172.8 1376.9L319.4 1386.7L465.9 1585L612.5 1343.2L759 1256.3M172.8 1413.4L319.4 1516.7L465.9 1486.6L612.5 1292.4L759 1239M172.8 1424.2L319.4 1518.6L465.9 1474.3L612.5 1300.4L759 1230.5M172.8 1357.5L319.4 1450.6L465.9 1568.3L612.5 1289L759 1282.5M172.8 1370.6L319.4 1512.5L465.9 1516.2L612.5 1285L759 1263.7M172.8 1422.7L319.4 1371.3L465.9 1427.7L612.5 1527.5L759 1198.9M172.8 1384.1L319.4 1507.7L465.9 1514.6L612.5 1285.1L759 1256.4M172.8 1539.8L319.4 1482.6L465.9 1372.8L612.5 1300.2L759 1252.6M172.8 1518.4L319.4 1383.6L465.9 1494.9L612.5 1323.2L759 1227.9M172.8 1502.7L319.4 1408.7L465.9 1441.3L612.5 1410.6L759 1184.7M172.8 1454.9L319.4 1503.9L465.9 1470.8L612.5 1246L759 1272.4M172.8 1422.6L319.4 1464.7L465.9 1520.4L612.5 1324.5L759 1215.8M172.8 1503.4L319.4 1458.8L465.9 1428.1L612.5 1363.9L759 1193.7M172.8 1500L319.4 1416.1L465.9 1503.7L612.5 1243.2L759 1285.1M172.8 1569.2L319.4 1346.5L465.9 1436L612.5 1349.7L759 1246.7M172.8 1517.9L319.4 1362.8L465.9 1512.3L612.5 1298.8L759 1256.2M172.8 1491.3L319.4 1449.5L465.9 1487.5L612.5 1282.9L759 1236.8M172.8 1361.4L319.4 1527.9L465.9 1483.3L612.5 1353.9L759 1221.4M172.8 1429L319.4 1554.8L465.9 1422.9L612.5 1270.2L759 1271M172.8 1488.6L319.4 1538L465.9 1370.2L612.5 1282.8L759 1268.5M172.8 1528L319.4 1406.9L465.9 1477.6L612.5 1294L759 1241.5M172.8 1424.5L319.4 1512.4L465.9 1480.6L612.5 1302.6L759 1228M172.8 1373.4L319.4 1564.5L465.9 1388.8L612.5 1397.1L759 1224.2M172.8 1459.3L319.4 1440.3L465.9 1519.9L612.5 1229.1L759 1299.4M172.8 1346.8L319.4 1461.6L465.9 1539.4L612.5 1380.1L759 1220.1M172.8 1444.4L319.4 1502.6L465.9 1480.1L612.5 1282.3L759 1238.6M172.8 1441.5L319.4 1435.6L465.9 1494.6L612.5 1392.7L759 1183.6M172.8 1547.6L319.4 1387.5L465.9 1464.7L612.5 1252L759 1296.2M172.8 1440.8L319.4 1467.4L465.9 1489L612.5 1358L759 1192.8M172.8 1435.6L319.4 1536.5L465.9 1438.4L612.5 1307.4L759 1230.1M172.8 1456.2L319.4 1370L465.9 1558.8L612.5 1308.4L759 1254.6M172.8 1337L319.4 1408.7L465.9 1575.8L612.5 1379.6L759 1246.9M172.8 1388.2L319.4 1484L465.9 1489.5L612.5 1395L759 1191.3M172.8 1403.5L319.4 1356.6L465.9 1502.8L612.5 1483.6L759 1201.6M172.8 1390.2L319.4 1406L465.9 1579L612.5 1306.6L759 1266.2M172.8 1459.5L319.4 1487.5L465.9 1465.7L612.5 1332L759 1203.3M172.8 1481.6L319.4 1367.5L465.9 1526L612.5 1355.1L759 1217.8M172.8 1467.5L319.4 1422.4L465.9 1515.9L612.5 1330.8L759 1211.5M172.8 1369L319.4 1553.4L465.9 1468.8L612.5 1274L759 1282.8M172.8 1436.7L319.4 1485.9L465.9 1504.9L612.5 1265.3L759 1255.3M172.8 1356.6L319.4 1446.4L465.9 1557.1L612.5 1355.5L759 1232.4M172.8 1415.8L319.4 1505.9L465.9 1457.1L612.5 1378.2L759 1191.1M172.8 1416.7L319.4 1418.2L465.9 1560.8L612.5 1305.2L759 1247.2M172.8 1515.2L319.4 1455.1L465.9 1426L612.5 1349.9L759 1201.7M172.8 1505.8L319.4 1334.7L465.9 1490.7L612.5 1404.2L759 1212.6M172.8 1505.4L319.4 1476.7L465.9 1417.2L612.5 1344.9L759 1203.8M172.8 1451.4L319.4 1417.6L465.9 1530.8L612.5 1333.5L759 1214.7M172.8 1427.9L319.4 1497.1L465.9 1481.1L612.5 1336.9L759 1204.9M172.8 1548L319.4 1370.9L465.9 1462.1L612.5 1333.8L759 1233.2M172.8 1546.1L319.4 1349.7L465.9 1485.1L612.5 1266.2L759 1300.9M172.8 1435.3L319.4 1462.9L465.9 1449.2L612.5 1425.4L759 1175.2M172.8 1444.7L319.4 1403.8L465.9 1551.5L612.5 1306.7L759 1241.4M172.8 1381.8L319.4 1441.7L465.9 1549.5L612.5 1354.9L759 1220.1M172.8 1506.7L319.4 1411.6L465.9 1501.7L612.5 1265L759 1263.1M172.8 1442.5L319.4 1498.5L465.9 1458.7L612.5 1352.2L759 1196.1M172.8 1507.6L319.4 1423.7L465.9 1492.1L612.5 1250.2L759 1274.5M172.8 1380.2L319.4 1510.8L465.9 1478.6L612.5 1377L759 1201.4M172.8 1396L319.4 1545.5L465.9 1464.9L612.5 1275.6L759 1266M172.8 1386.8L319.4 1563L465.9 1425.9L612.5 1233.8L759 1338.6M172.8 1459L319.4 1461.9L465.9 1508L612.5 1245.4L759 1273.7M172.8 1411.2L319.4 1412.7L465.9 1552.5L612.5 1353.5L759 1218.1M172.8 1367.7L319.4 1470.3L465.9 1468.4L612.5 1454.2L759 1187.4M172.8 1476.4L319.4 1460.3L465.9 1495.1L612.5 1253.8L759 1262.4M172.8 1479.2L319.4 1391.9L465.9 1536L612.5 1285.1L759 1255.9M172.8 1499.8L319.4 1473.7L465.9 1457.3L612.5 1267.7L759 1249.6M172.8 1352.3L319.4 1541.9L465.9 1475.1L612.5 1233.3L759 1345.4M172.8 1475.3L319.4 1364.9L465.9 1543.7L612.5 1240.6L759 1323.6M172.8 1394L319.4 1521L465.9 1446.2L612.5 1391.6L759 1195.2M172.8 1312.5L319.4 1349.3L465.9 1579L612.5 1431.9L759 1275.3M172.8 1451.3L319.4 1477.8L465.9 1501.1L612.5 1266.6L759 1251.3M172.8 1357.4L319.4 1474.4L465.9 1551.4L612.5 1303.7L759 1261.2M172.8 1499.8L319.4 1408.8L465.9 1432.3L612.5 1424.2L759 1182.9M172.8 1427.2L319.4 1392L465.9 1563.4L612.5 1326.3L759 1239.1M172.8 1353.1L319.4 1560.7L465.9 1382.5L612.5 1424.6L759 1227.1M172.8 1344.2L319.4 1515.2L465.9 1501.1L612.5 1363.1L759 1224.4M172.8 1355.4L319.4 1520.4L465.9 1498.3L612.5 1346.5L759 1227.4M172.8 1436.2L319.4 1424.3L465.9 1536.1L612.5 1336.9L759 1214.5M172.8 1470.2L319.4 1444.3L465.9 1512.5L612.5 1272.7L759 1248.2M172.8 1576.2L319.4 1380.4L465.9 1397.4L612.5 1352.5L759 1241.5M172.8 1446.4L319.4 1393.3L465.9 1558.8L612.5 1270.9L759 1278.6M172.8 1460.1L319.4 1418.5L465.9 1537.5L612.5 1270.1L759 1261.8M172.8 1442.4L319.4 1502.5L465.9 1464.6L612.5 1333.1L759 1205.4M172.8 1474L319.4 1475.6L465.9 1477.7L612.5 1296.7L759 1224.2M172.8 1442L319.4 1431.1L465.9 1518.3L612.5 1357.3L759 1199.3M172.8 1436.9L319.4 1537L465.9 1431.9L612.5 1318.3L759 1224M172.8 1395.7L319.4 1473.3L465.9 1539.3L612.5 1261.6L759 1278.1M172.8 1564.9L319.4 1369.2L465.9 1442.9L612.5 1321.7L759 1249.3M172.8 1483.8L319.4 1389.5L465.9 1532.2L612.5 1294.3L759 1248.2M172.8 1449.7L319.4 1454.8L465.9 1519.8L612.5 1281.6L759 1242M172.8 1431L319.4 1533.7L465.9 1359.1L612.5 1419L759 1205.2M172.8 1501.3L319.4 1391L465.9 1508.9L612.5 1321L759 1225.8M172.8 1531.5L319.4 1432.9L465.9 1454.8L612.5 1282.5L759 1246.3M172.8 1367.3L319.4 1462.1L465.9 1519.4L612.5 1398.3L759 1200.9M172.8 1403.4L319.4 1465L465.9 1493.2L612.5 1400.7L759 1185.8M172.8 1412.9L319.4 1467L465.9 1533.6L612.5 1290.1L759 1244.4M172.8 1515.8L319.4 1370.7L465.9 1458.5L612.5 1405.7L759 1197.3M172.8 1483.7L319.4 1484.3L465.9 1452L612.5 1314L759 1214M172.8 1450.1L319.4 1391.9L465.9 1548.3L612.5 1328.1L759 1229.5M172.8 1416.4L319.4 1451.9L465.9 1512.7L612.5 1372.9L759 1194.1M172.8 1445L319.4 1528.2L465.9 1449.9L612.5 1260.7L759 1264.2M172.8 1412.8L319.4 1529.7L465.9 1437.1L612.5 1366.7L759 1201.6M172.8 1443.6L319.4 1452.7L465.9 1527L612.5 1269.7L759 1255M172.8 1387.5L319.4 1506.5L465.9 1500.2L612.5 1335.9L759 1217.9M172.8 1439.2L319.4 1473.1L465.9 1461.2L612.5 1393.9L759 1180.6M172.8 1408L319.4 1491.3L465.9 1509.2L612.5 1317.5L759 1222M172.8 1497.9L319.4 1446.2L465.9 1482.3L612.5 1232.7L759 1289M172.8 1506.5L319.4 1487.9L465.9 1427.5L612.5 1290L759 1236M172.8 1484.9L319.4 1421.9L465.9 1477.4L612.5 1374.8L759 1189M172.8 1480L319.4 1502L465.9 1430.4L612.5 1323.3L759 1212.3M172.8 1346.1L319.4 1544.3L465.9 1485.7L612.5 1256.7L759 1315.1M172.8 1502.4L319.4 1437.5L465.9 1483.8L612.5 1292.7L759 1231.5M172.8 1417.5L319.4 1485.3L465.9 1509L612.5 1315.7L759 1220.5M172.8 1520.3L319.4 1407.7L465.9 1481L612.5 1312.3L759 1226.7M172.8 1437.7L319.4 1464.4L465.9 1503.2L612.5 1340.3L759 1202.4M172.8 1446L319.4 1457.5L465.9 1521.8L612.5 1266.9L759 1255.7M172.8 1450.7L319.4 1386.6L465.9 1558.1L612.5 1291.4L759 1261.2M172.8 1537.1L319.4 1395.9L465.9 1464.8L612.5 1323.2L759 1227.1M172.8 1399.4L319.4 1502.1L465.9 1513.1L612.5 1272.3L759 1261.1M172.8 1421.9L319.4 1455.2L465.9 1538.7L612.5 1256.8L759 1275.3M172.8 1351.5L319.4 1428.1L465.9 1535L612.5 1425.2L759 1208.1M172.8 1383L319.4 1515L465.9 1483L612.5 1358.6L759 1208.4M172.8 1501.6L319.4 1461.1L465.9 1462.6L612.5 1295.9L759 1226.8M172.8 1459.3L319.4 1365.7L465.9 1494.7L612.5 1437.5L759 1190.8M172.8 1495.1L319.4 1469.3L465.9 1466.2L612.5 1276.8L759 1240.6M172.8 1496.2L319.4 1483.1L465.9 1450L612.5 1277L759 1241.8M172.8 1509.9L319.4 1440.5L465.9 1471.1L612.5 1299.9L759 1226.7M172.8 1369.3L319.4 1390.6L465.9 1566.2L612.5 1395.6L759 1226.4M172.8 1551.3L319.4 1427.2L465.9 1429.1L612.5 1288.5L759 1252M172.8 1441.9L319.4 1401.7L465.9 1542.4L612.5 1346.1L759 1216M172.8 1414.7L319.4 1491.2L465.9 1456.3L612.5 1402.9L759 1183M172.8 1412.4L319.4 1549.8L465.9 1440.6L612.5 1305.2L759 1240.1M172.8 1390.7L319.4 1472.6L465.9 1427.2L612.5 1474.7L759 1182.9M172.8 1421.9L319.4 1555.7L465.9 1380.3L612.5 1371.5L759 1218.6M172.8 1501.3L319.4 1415.6L465.9 1502.8L612.5 1244.1L759 1284.1M172.8 1428.3L319.4 1550.4L465.9 1428.8L612.5 1291.3L759 1249.2M172.8 1479L319.4 1506.7L465.9 1418.5L612.5 1335.4L759 1208.5M172.8 1283.7L319.4 1495.3L465.9 1518.6L612.5 1399.3L759 1251.1M172.8 1432L319.4 1530.6L465.9 1421.7L612.5 1360.4L759 1203.3M172.8 1484.9L319.4 1493.6L465.9 1452.6L612.5 1260.5L759 1256.4M172.8 1442.1L319.4 1488.2L465.9 1384.5L612.5 1449.2L759 1184.1M172.8 1423.5L319.4 1455.3L465.9 1519.9L612.5 1343.1L759 1206.1M172.8 1520L319.4 1422L465.9 1465.1L612.5 1325.8L759 1215.1M172.8 1443.2L319.4 1490.7L465.9 1488.3L612.5 1303.9L759 1222M172.8 1455.8L319.4 1367L465.9 1555.9L612.5 1327.7L759 1241.6M172.8 1513.4L319.4 1446.4L465.9 1449.7L612.5 1329.1L759 1209.5M172.8 1462.1L319.4 1422.8L465.9 1461.2L612.5 1425.6L759 1176.3M172.8 1451.9L319.4 1450.4L465.9 1506.7L612.5 1333.2L759 1205.8M172.8 1552.2L319.4 1341.2L465.9 1458.8L612.5 1360.9L759 1235M172.8 1478.7L319.4 1433.9L465.9 1511.9L612.5 1243L759 1280.4M172.8 1430L319.4 1498.3L465.9 1497.2L612.5 1274.2L759 1248.4M172.8 1457.9L319.4 1413.6L465.9 1504.1L612.5 1382.5L759 1189.9M172.8 1460.5L319.4 1529.1L465.9 1404.6L612.5 1340.9L759 1213M172.8 1441.1L319.4 1393.4L465.9 1474.5L612.5 1458.4L759 1180.6M172.8 1454.1L319.4 1474.7L465.9 1467.6L612.5 1362.1L759 1189.5M172.8 1524.3L319.4 1387.6L465.9 1487.1L612.5 1229.1L759 1319.9M172.8 1571.3L319.4 1404.7L465.9 1413.9L612.5 1281.7L759 1276.4M172.8 1473L319.4 1536.6L465.9 1385.3L612.5 1321.8L759 1231.2M172.8 1448.2L319.4 1458L465.9 1502.2L612.5 1336.1L759 1203.5M172.8 1516.1L319.4 1475.5L465.9 1433.3L612.5 1251.8L759 1271.3M172.8 1437.8L319.4 1392.7L465.9 1557.7L612.5 1237.3L759 1322.5M172.8 1467.8L319.4 1448.2L465.9 1489.7L612.5 1344L759 1198.2M172.8 1395.5L319.4 1469.7L465.9 1536.4L612.5 1233.4L759 1312.9M172.8 1388.8L319.4 1507.9L465.9 1445L612.5 1417.6L759 1188.6M172.8 1379.4L319.4 1530.7L465.9 1487.8L612.5 1309.2L759 1240.8M172.8 1531.3L319.4 1416.5L465.9 1469.8L612.5 1258.5L759 1271.9M172.8 1421.5L319.4 1507.7L465.9 1485.1L612.5 1311.6L759 1222M172.8 1464.6L319.4 1523.8L465.9 1415.6L612.5 1328.2L759 1215.8M172.8 1525.1L319.4 1435.8L465.9 1408.6L612.5 1382.1L759 1196.3M172.8 1496.3L319.4 1391.7L465.9 1517.7L612.5 1306.2L759 1236.2M172.8 1530.8L319.4 1413.7L465.9 1461.5L612.5 1318L759 1224M172.8 1522.7L319.4 1510.6L465.9 1316.9L612.5 1344.7L759 1253.1M172.8 1440.9L319.4 1412.5L465.9 1551.3L612.5 1295.1L759 1248.1M172.8 1391.6L319.4 1488.2L465.9 1477.7L612.5 1402.5L759 1188M172.8 1456.2L319.4 1418.1L465.9 1537.9L612.5 1294.8L759 1241.1M172.8 1563.3L319.4 1420.2L465.9 1401.6L612.5 1324.2L759 1238.8M172.8 1430.9L319.4 1566.2L465.9 1396.7L612.5 1275.7L759 1278.5M172.8 1416.5L319.4 1422L465.9 1541.4L612.5 1358.9L759 1209.3M172.8 1411.9L319.4 1360.4L465.9 1567.8L612.5 1376.3L759 1231.6M172.8 1338.9L319.4 1491.9L465.9 1464.4L612.5 1452.3L759 1200.6M172.8 1453.7L319.4 1399.5L465.9 1548.9L612.5 1300L759 1245.8M172.8 1490.7L319.4 1470.7L465.9 1469.7L612.5 1240.2L759 1276.7M172.8 1395.4L319.4 1448.6L465.9 1515.6L612.5 1395.8L759 1192.5M172.8 1519.1L319.4 1471.7L465.9 1434L612.5 1261.8L759 1261.4M172.8 1444.8L319.4 1427.3L465.9 1539.3L612.5 1236.9L759 1299.6M172.8 1540.7L319.4 1385.3L465.9 1446.4L612.5 1363.6L759 1212.1M172.8 1534.9L319.4 1411.5L465.9 1446.9L612.5 1341.2L759 1213.4M172.8 1479.8L319.4 1519.3L465.9 1395.4L612.5 1339.2L759 1214.3M172.8 1539.3L319.4 1467.2L465.9 1404.5L612.5 1281L759 1256.1M172.8 1426.6L319.4 1479.4L465.9 1512.7L612.5 1299.5L759 1229.7M172.8 1425.4L319.4 1458.2L465.9 1532.6L612.5 1291L759 1240.9M172.8 1276.8L319.4 1487.6L465.9 1484L612.5 1459L759 1240.6M172.8 1482.8L319.4 1459.1L465.9 1490.1L612.5 1259.3L759 1256.7M172.8 1450L319.4 1491.6L465.9 1489.2L612.5 1258L759 1259.3M172.8 1518.8L319.4 1413L465.9 1483.2L612.5 1297.6L759 1235.4M172.8 1412.5L319.4 1446.3L465.9 1548L612.5 1294.4L759 1246.8M172.8 1359.4L319.4 1478.2L465.9 1548.8L612.5 1296.5L759 1265.2M172.8 1509.7L319.4 1497.5L465.9 1413L612.5 1258.6L759 1269.2M172.8 1499.7L319.4 1529.9L465.9 1365.1L612.5 1289.8L759 1263.5M172.8 1485.9L319.4 1396.2L465.9 1523L612.5 1231.2L759 1311.6M172.8 1461.5L319.4 1501.1L465.9 1466.2L612.5 1282.3L759 1237M172.8 1497.8L319.4 1445.1L465.9 1461.6L612.5 1344.3L759 1199.2M172.8 1513.5L319.4 1494.5L465.9 1387.1L612.5 1332.4L759 1220.4M172.8 1442L319.4 1388.2L465.9 1522.3L612.5 1400.4L759 1195.2M172.8 1413L319.4 1475.4L465.9 1528.6L612.5 1275.6L759 1255.3M172.8 1416.8L319.4 1438.4L465.9 1552.6L612.5 1266.6L759 1273.6M172.8 1484L319.4 1479.1L465.9 1454.4L612.5 1321.1L759 1209.4M172.8 1449.6L319.4 1490.5L465.9 1488.5L612.5 1237.9L759 1281.5M172.8 1429.8L319.4 1507L465.9 1476.7L612.5 1318.9L759 1215.6M172.8 1389.4L319.4 1529.4L465.9 1465.1L612.5 1352.4L759 1211.7M172.8 1395.5L319.4 1522.3L465.9 1484.6L612.5 1319.1L759 1226.5M172.8 1458.6L319.4 1394L465.9 1467.8L612.5 1447.8L759 1179.9M172.8 1413.3L319.4 1557.2L465.9 1427.1L612.5 1307L759 1243.4M172.8 1491L319.4 1417.7L465.9 1507.8L612.5 1230.1L759 1301.4M172.8 1516.7L319.4 1383.1L465.9 1474.7L612.5 1369.6L759 1204M172.8 1450.2L319.4 1484.4L465.9 1492.4L612.5 1231.1L759 1290M172.8 1523.7L319.4 1472.6L465.9 1425.9L612.5 1261.1L759 1264.7M172.8 1419L319.4 1449.4L465.9 1511.9L612.5 1374.8L759 1193M172.8 1448.6L319.4 1505.7L465.9 1472.2L612.5 1235.1L759 1286.4M172.8 1412.7L319.4 1376.1L465.9 1578.3L612.5 1324.5L759 1256.5M172.8 1536.1L319.4 1448L465.9 1430.9L612.5 1240.2L759 1292.7M172.8 1443.8L319.4 1422.5L465.9 1536.5L612.5 1324L759 1221.2M172.8 1309.6L319.4 1498.2L465.9 1485.9L612.5 1434.4L759 1219.9M172.8 1513L319.4 1415L465.9 1472.5L612.5 1339.5L759 1207.9M172.8 1456.6L319.4 1498.4L465.9 1468.1L612.5 1303.9L759 1220.9M172.8 1498.5L319.4 1486.1L465.9 1426.7L612.5 1324.5L759 1212.2M172.8 1485.9L319.4 1386L465.9 1506.2L612.5 1367L759 1202.9M172.8 1422.9L319.4 1430.2L465.9 1410.8L612.5 1501L759 1183.1M172.8 1451.3L319.4 1489.1L465.9 1440.5L612.5 1382.2L759 1184.9M172.8 1532.1L319.4 1411.7L465.9 1462.7L612.5 1314.6L759 1226.8M172.8 1477.9L319.4 1443.5L465.9 1434.6L612.5 1414.4L759 1177.6M172.8 1454.3L319.4 1410.2L465.9 1486.1L612.5 1416.6L759 1180.8M172.8 1501.9L319.4 1501.3L465.9 1411.6L612.5 1301.5L759 1231.7M172.8 1503.4L319.4 1360.8L465.9 1526.1L612.5 1304.4L759 1253.2M172.8 1510.5L319.4 1432.9L465.9 1450.1L612.5 1357.5L759 1197M172.8 1342.3L319.4 1543.8L465.9 1416.3L612.5 1429.1L759 1216.4M172.8 1470.1L319.4 1420L465.9 1528L612.5 1282.9L759 1247M172.8 1395.9L319.4 1459.4L465.9 1391.7L612.5 1509.1L759 1191.9M172.8 1503.5L319.4 1371L465.9 1516.6L612.5 1323.8L759 1233.1M172.8 1486L319.4 1397.1L465.9 1527.9L612.5 1283.9L759 1253.1M172.8 1469.7L319.4 1507.4L465.9 1408.1L612.5 1365.6L759 1197.1M172.8 1404.5L319.4 1405.1L465.9 1570.5L612.5 1321.2L759 1246.7M172.8 1538.6L319.4 1437.7L465.9 1441.8L612.5 1265.4L759 1264.6M172.8 1410.1L319.4 1521.6L465.9 1476.4L612.5 1316.1L759 1223.8M172.8 1450.4L319.4 1457.9L465.9 1506.7L612.5 1320.8L759 1212.2M172.8 1380.3L319.4 1493.2L465.9 1523.2L612.5 1233.1L759 1318.1M172.8 1424.5L319.4 1415.9L465.9 1546.7L612.5 1343.1L759 1217.8M172.8 1406.1L319.4 1540.6L465.9 1453.5L612.5 1320.6L759 1227.2M172.8 1545.2L319.4 1445.9L465.9 1398.5L612.5 1336.1L759 1222.4M172.8 1335.5L319.4 1552.1L465.9 1467.9L612.5 1348.2L759 1244.3M172.8 1395L319.4 1536L465.9 1417.5L612.5 1399.4L759 1200M172.8 1552.1L319.4 1443.5L465.9 1400.5L612.5 1314.7L759 1237.2M172.8 1480.1L319.4 1352.3L465.9 1526.6L612.5 1371.5L759 1217.5M172.8 1296.2L319.4 1505.1L465.9 1478.2L612.5 1439.8L759 1228.8M172.8 1441.7L319.4 1565.3L465.9 1368.2L612.5 1248.2L759 1324.6M172.8 1484.9L319.4 1430.4L465.9 1510.3L612.5 1258.9L759 1263.6M172.8 1537.1L319.4 1414.8L465.9 1459L612.5 1298.6L759 1238.6M172.8 1397L319.4 1481.8L465.9 1532.1L612.5 1275.7L759 1261.4M172.8 1391.1L319.4 1527.8L465.9 1488.5L612.5 1248.6L759 1292M172.8 1403.9L319.4 1557.6L465.9 1416.5L612.5 1345.1L759 1224.9M172.8 1494.6L319.4 1446.1L465.9 1486.4L612.5 1286.2L759 1234.7M172.8 1483.9L319.4 1447.4L465.9 1498.7L612.5 1262.4L759 1255.6M172.8 1364.6L319.4 1484.2L465.9 1459.7L612.5 1450.1L759 1189.3M172.8 1459.7L319.4 1398.6L465.9 1536.6L612.5 1331.9L759 1221.2M172.8 1463.1L319.4 1445.2L465.9 1499.4L612.5 1337.9L759 1202.4M172.8 1445.6L319.4 1557.4L465.9 1372L612.5 1338.6L759 1234.5M172.8 1458.1L319.4 1429L465.9 1532L612.5 1250.2L759 1278.7M172.8 1535.1L319.4 1431.5L465.9 1446.8L612.5 1234.4L759 1300.2M172.8 1456.1L319.4 1471.8L465.9 1483L612.5 1335.7L759 1201.3M172.8 1485.1L319.4 1461.3L465.9 1424.3L612.5 1394.5L759 1182.8M172.8 1428.4L319.4 1536.2L465.9 1451.6L612.5 1245.4L759 1286.5M172.8 1548.3L319.4 1398.2L465.9 1444.6L612.5 1329.8L759 1227.1M172.8 1463.3L319.4 1451.6L465.9 1507.8L612.5 1299.9L759 1225.3M172.8 1416L319.4 1418.7L465.9 1561.2L612.5 1303.3L759 1248.8M172.8 1408.5L319.4 1513.1L465.9 1462L612.5 1366.9L759 1197.5M172.8 1492.2L319.4 1426.5L465.9 1480.7L612.5 1350.1L759 1198.5M172.8 1483.2L319.4 1377.6L465.9 1530.6L612.5 1327L759 1229.6M172.8 1441.1L319.4 1513.2L465.9 1440.4L612.5 1354.9L759 1198.4M172.8 1464.2L319.4 1444.6L465.9 1517.5L612.5 1252.4L759 1269.3M172.8 1514.6L319.4 1470.7L465.9 1440.8L612.5 1274.8L759 1247.2M172.8 1386.7L319.4 1420.2L465.9 1554.1L612.5 1370.4L759 1216.6M172.8 1476.9L319.4 1477.2L465.9 1479L612.5 1263.4L759 1251.6M172.8 1413.1L319.4 1401.8L465.9 1562.4L612.5 1340.1L759 1230.6M172.8 1480.2L319.4 1343.5L465.9 1524.7L612.5 1382.1L759 1217.5M172.8 1430.4L319.4 1435.1L465.9 1467.7L612.5 1439.6L759 1175.2M172.8 1360.7L319.4 1567.4L465.9 1442.9L612.5 1324L759 1253M172.8 1421.1L319.4 1515.1L465.9 1486.3L612.5 1261.5L759 1264M172.8 1542.6L319.4 1429.7L465.9 1416.5L612.5 1344.1L759 1215.1M172.8 1400.8L319.4 1476.6L465.9 1470.4L612.5 1418.6L759 1181.7M172.8 1488.2L319.4 1480.9L465.9 1414.8L612.5 1372.7L759 1191.4M172.8 1428.8L319.4 1498.9L465.9 1476.1L612.5 1341.6L759 1202.5M172.8 1437.5L319.4 1466.8L465.9 1474.2L612.5 1387L759 1182.6M172.8 1369.2L319.4 1547L465.9 1472.8L612.5 1248.5L759 1310.6M172.8 1278.4L319.4 1432.3L465.9 1575.3L612.5 1367.7L759 1294.2M172.8 1335.7L319.4 1507.1L465.9 1461.4L612.5 1438.5L759 1205.2M172.8 1380.5L319.4 1439.7L465.9 1550.7L612.5 1356.8L759 1220.3M172.8 1479.4L319.4 1473.1L465.9 1473.6L612.5 1300.3L759 1221.6M172.8 1435.8L319.4 1430.8L465.9 1492.4L612.5 1408L759 1181M172.8 1469.4L319.4 1341.5L465.9 1512.9L612.5 1417.8L759 1206.4M172.8 1497.4L319.4 1356.7L465.9 1520.2L612.5 1347.6L759 1226.1M172.8 1372L319.4 1542.2L465.9 1449.6L612.5 1369.7L759 1214.5M172.8 1497.3L319.4 1474.2L465.9 1460L612.5 1261.8L759 1254.6M172.8 1425.5L319.4 1422L465.9 1449.3L612.5 1474.2L759 1177M172.8 1389.5L319.4 1492.4L465.9 1472.3L612.5 1405.8L759 1188.1M172.8 1473.3L319.4 1437.2L465.9 1515.6L612.5 1263.1L759 1258.7M172.8 1559.2L319.4 1320.7L465.9 1432.2L612.5 1397.6L759 1238.3M172.8 1536.1L319.4 1434.9L465.9 1445.6L612.5 1287L759 1244.4M172.8 1425.6L319.4 1364.9L465.9 1554.6L612.5 1383.8L759 1219M172.8 1445.1L319.4 1498.7L465.9 1484L612.5 1280.8L759 1239.5M172.8 1532.9L319.4 1375.8L465.9 1468.3L612.5 1355.2L759 1215.9M172.8 1400L319.4 1417L465.9 1544.6L612.5 1379.2L759 1207.2M172.8 1447L319.4 1399.4L465.9 1540.3L612.5 1345.8L759 1215.6M172.8 1479.2L319.4 1413.6L465.9 1524.8L612.5 1280.5L759 1249.9M172.8 1511L319.4 1398.9L465.9 1487.9L612.5 1336.4L759 1213.7M172.8 1464.2L319.4 1432L465.9 1526.3L612.5 1257.4L759 1268.2M172.8 1510.8L319.4 1433.6L465.9 1459.7L612.5 1339.3L759 1204.6M172.8 1440.3L319.4 1502L465.9 1452L612.5 1359.7L759 1193.9M172.8 1436.9L319.4 1487.9L465.9 1489.2L612.5 1323.4L759 1210.5M172.8 1496.9L319.4 1414.6L465.9 1496.1L612.5 1326.3L759 1214.1M172.8 1470.4L319.4 1418.2L465.9 1529.9L612.5 1259.1L759 1270.4M172.8 1466.6L319.4 1410.1L465.9 1481.5L612.5 1408L759 1181.9M172.8 1433.9L319.4 1457.4L465.9 1423.2L612.5 1458.2L759 1175.4M172.8 1397L319.4 1483L465.9 1471.1L612.5 1413L759 1183.9M172.8 1476.3L319.4 1428.5L465.9 1511.1L612.5 1310.6L759 1221.6M172.8 1339.5L319.4 1390.7L465.9 1592L612.5 1352L759 1273.9M172.8 1543L319.4 1435.4L465.9 1432.1L612.5 1297.5L759 1240.1M172.8 1421.9L319.4 1458.1L465.9 1516.4L612.5 1348.4L759 1203.2M172.8 1544.5L319.4 1443.3L465.9 1399.4L612.5 1341.5L759 1219.4M172.8 1425.1L319.4 1512.6L465.9 1465.7L612.5 1337.8L759 1206.8M172.8 1501.3L319.4 1467.8L465.9 1461.4L612.5 1247.5L759 1269.9M172.8 1492.7L319.4 1414.8L465.9 1481.9L612.5 1363.4L759 1195.2M172.8 1348.3L319.4 1502.8L465.9 1496L612.5 1391.4L759 1209.5M172.8 1491.1L319.4 1439.1L465.9 1455.6L612.5 1374.9L759 1187.3M172.8 1475.7L319.4 1468.3L465.9 1488.7L612.5 1260.4L759 1254.9M172.8 1498.3L319.4 1394.8L465.9 1518.4L612.5 1281.7L759 1254.8M172.8 1557.3L319.4 1454.9L465.9 1380.4L612.5 1296.7L759 1258.6M172.8 1414.7L319.4 1453.9L465.9 1543.3L612.5 1255.5L759 1280.6M172.8 1503.4L319.4 1357.6L465.9 1508.8L612.5 1359.5L759 1218.8M172.8 1540.5L319.4 1411.8L465.9 1443.3L612.5 1332.9L759 1219.6M172.8 1513.2L319.4 1432.1L465.9 1480.2L612.5 1263.4L759 1259.1M172.8 1502.8L319.4 1402.9L465.9 1485.8L612.5 1353.2L759 1203.3M172.8 1417.6L319.4 1429.6L465.9 1557.1L612.5 1277.4L759 1266.2M172.8 1469.8L319.4 1454L465.9 1443.3L612.5 1402.6L759 1178.3M172.8 1360.7L319.4 1530L465.9 1476.1L612.5 1363.6L759 1217.6M172.8 1539.2L319.4 1381.9L465.9 1433.3L612.5 1388.1L759 1205.4M172.8 1543.1L319.4 1478.6L465.9 1374.2L612.5 1256.2L759 1296M172.8 1451.5L319.4 1403.2L465.9 1549.8L612.5 1291.8L759 1251.6M172.8 1428L319.4 1473.5L465.9 1520.3L612.5 1244.6L759 1281.6M172.8 1435.2L319.4 1503.9L465.9 1486.6L612.5 1280.2L759 1242.1M172.8 1410.8L319.4 1399.3L465.9 1551.7L612.5 1373.1L759 1213M172.8 1435.3L319.4 1429.4L465.9 1454.4L612.5 1454.4L759 1174.6M172.8 1545.7L319.4 1448.5L465.9 1415.6L612.5 1287.7L759 1250.4M172.8 1483.2L319.4 1512L465.9 1414.7L612.5 1318.4L759 1219.8M172.8 1538L319.4 1387.2L465.9 1466.3L612.5 1331L759 1225.5M172.8 1529.7L319.4 1414.6L465.9 1469.8L612.5 1294.2L759 1239.7M172.8 1426.1L319.4 1491.7L465.9 1506.6L612.5 1270.4L759 1253.2M172.8 1518.6L319.4 1411.9L465.9 1456.5L612.5 1360.6L759 1200.3M172.8 1320.4L319.4 1486.6L465.9 1546.7L612.5 1331.4L759 1263M172.8 1432.8L319.4 1476.2L465.9 1515.7L612.5 1272.3L759 1250.9M172.8 1464.7L319.4 1426.2L465.9 1525L612.5 1300.8L759 1231.2M172.8 1431.9L319.4 1441.4L465.9 1542.2L612.5 1272.7L759 1259.8M172.8 1485.6L319.4 1526.4L465.9 1382.7L612.5 1325.8L759 1227.6M172.8 1490.5L319.4 1437.7L465.9 1480.6L612.5 1335.6L759 1203.6M172.8 1464.3L319.4 1479.1L465.9 1488.3L612.5 1271.9L759 1244.4M172.8 1433.9L319.4 1439.2L465.9 1539.9L612.5 1293.9L759 1241M172.8 1466L319.4 1496.5L465.9 1415.1L612.5 1381.5L759 1188.9M172.8 1462.4L319.4 1503L465.9 1450.9L612.5 1319.6L759 1212.2M172.8 1407.6L319.4 1436.8L465.9 1537.6L612.5 1357.5L759 1208.6M172.8 1351.5L319.4 1563.6L465.9 1415.1L612.5 1389.1L759 1228.7M172.8 1429.1L319.4 1465.8L465.9 1525.6L612.5 1244.6L759 1282.9M172.8 1432.9L319.4 1447.2L465.9 1521.6L612.5 1338.4L759 1207.9M172.8 1530.7L319.4 1391.1L465.9 1479.2L612.5 1314.5L759 1232.5M172.8 1387.7L319.4 1371.2L465.9 1565.9L612.5 1397.2L759 1225.9M172.8 1503.4L319.4 1424L465.9 1438.2L612.5 1397.1L759 1185.3M172.8 1283.6L319.4 1545.2L465.9 1494.2L612.5 1309.8L759 1315.3M172.8 1420L319.4 1468.6L465.9 1496.5L612.5 1371.8L759 1191.2M172.8 1476L319.4 1422.2L465.9 1489.3L612.5 1369.4L759 1191.1M172.8 1442.6L319.4 1486.5L465.9 1483L612.5 1330.2L759 1205.7M172.8 1335.1L319.4 1442.9L465.9 1575.9L612.5 1314.2L759 1279.9M172.8 1552.6L319.4 1385.8L465.9 1455.5L612.5 1245.3L759 1308.8M172.8 1566.2L319.4 1391.9L465.9 1423.4L612.5 1324L759 1242.4M172.8 1448.4L319.4 1500.4L465.9 1474.2L612.5 1301.8L759 1223.2M172.8 1405.7L319.4 1524.8L465.9 1479.8L612.5 1233.9L759 1303.8M172.8 1480.9L319.4 1397.2L465.9 1529.6L612.5 1299.8L759 1240.5M172.8 1406.2L319.4 1514.6L465.9 1483.6L612.5 1325.4L759 1218.1M172.8 1331.6L319.4 1541.4L465.9 1434.8L612.5 1420.5L759 1219.7M172.8 1508.3L319.4 1384.7L465.9 1514.6L612.5 1270.7L759 1269.7M172.8 1428.8L319.4 1489.6L465.9 1507L612.5 1260.2L759 1262.3M172.8 1443.1L319.4 1396.2L465.9 1554.6L612.5 1239.8L759 1314.1M172.8 1395.8L319.4 1439.6L465.9 1560.9L612.5 1291.9L759 1259.8M172.8 1488.1L319.4 1441.2L465.9 1499.2L612.5 1251.2L759 1268.3M172.8 1331.5L319.4 1490.5L465.9 1545.8L612.5 1306.1L759 1274.1M172.8 1561.4L319.4 1416.6L465.9 1412L612.5 1318.2L759 1239.8M172.8 1367.7L319.4 1348.1L465.9 1530.2L612.5 1480.1L759 1221.9M172.8 1363.8L319.4 1426L465.9 1579.6L612.5 1296.2L759 1282.5M172.8 1476.1L319.4 1391.7L465.9 1538.9L612.5 1259.8L759 1281.6M172.8 1437.3L319.4 1462.3L465.9 1522.6L612.5 1284.5L759 1241.4M172.8 1434.1L319.4 1492.2L465.9 1474.4L612.5 1349.9L759 1197.3M172.8 1514.8L319.4 1400L465.9 1500L612.5 1262.4L759 1270.8M172.8 1370.1L319.4 1537.7L465.9 1425.7L612.5 1410L759 1204.6M172.8 1355.5L319.4 1544.2L465.9 1483.2L612.5 1255.1L759 1310M172.8 1489.5L319.4 1495.3L465.9 1443.9L612.5 1274L759 1245.3M172.8 1531L319.4 1396.6L465.9 1472.1L612.5 1323L759 1225.3M172.8 1449L319.4 1419L465.9 1493.6L612.5 1403.8L759 1182.6M172.8 1487L319.4 1459.2L465.9 1469.2L612.5 1326.3L759 1206.3M172.8 1552.8L319.4 1440.3L465.9 1393.2L612.5 1332.9L759 1228.8M172.8 1448.4L319.4 1481.1L465.9 1496.5L612.5 1229.7L759 1292.3M172.8 1448.3L319.4 1518.4L465.9 1330.3L612.5 1440.6L759 1210.4M172.8 1451.1L319.4 1515.4L465.9 1459.1L612.5 1240.3L759 1282.1M172.8 1452.7L319.4 1476.9L465.9 1481.3L612.5 1335.4L759 1201.7M172.8 1491.8L319.4 1444L465.9 1478.6L612.5 1325.1L759 1208.5M172.8 1474.8L319.4 1362.9L465.9 1551.1L612.5 1281.8L759 1277.3M172.8 1414.3L319.4 1407.2L465.9 1405.2L612.5 1527.1L759 1194.1M172.8 1485.6L319.4 1353.5L465.9 1501.4L612.5 1405.1L759 1202.5M172.8 1464.6L319.4 1442.3L465.9 1519.1L612.5 1258.7L759 1263.3M172.8 1470.5L319.4 1448.4L465.9 1494L612.5 1329.1L759 1206M172.8 1463.8L319.4 1491.8L465.9 1461.1L612.5 1322.6L759 1208.7M172.8 1451.5L319.4 1417.3L465.9 1521.1L612.5 1356.2L759 1201.8M172.8 1509.4L319.4 1430.5L465.9 1460.8L612.5 1345.3L759 1201.9M172.8 1430.4L319.4 1531.1L465.9 1438.8L612.5 1334.7L759 1213.1M172.8 1439.9L319.4 1441.4L465.9 1479.9L612.5 1408.3L759 1178.5M172.8 1457.7L319.4 1445.9L465.9 1490.4L612.5 1363.3L759 1190.6M172.8 1549.7L319.4 1355L465.9 1479.7L612.5 1275.5L759 1288M172.8 1390.6L319.4 1476.9L465.9 1471.5L612.5 1425.8L759 1183.1M172.8 1524.1L319.4 1352.9L465.9 1487.3L612.5 1363L759 1220.6M172.8 1450.6L319.4 1352.2L465.9 1522.5L612.5 1419.1L759 1203.5M172.8 1477.3L319.4 1422.9L465.9 1514.8L612.5 1308.3L759 1224.7M172.8 1533.2L319.4 1474.2L465.9 1399.6L612.5 1302.2L759 1238.7M172.8 1483.8L319.4 1451L465.9 1495.8L612.5 1265.7L759 1251.7M172.8 1464.6L319.4 1463.6L465.9 1403.2L612.5 1438.2L759 1178.4M172.8 1500.2L319.4 1375.5L465.9 1520.3L612.5 1314.6L759 1237.4M172.8 1357.2L319.4 1457.4L465.9 1524.3L612.5 1404.5L759 1204.5M172.8 1501.2L319.4 1483.2L465.9 1440.9L612.5 1289.2L759 1233.5M172.8 1273.7L319.4 1501.9L465.9 1505.9L612.5 1411.9L759 1254.6M172.8 1438.1L319.4 1522.9L465.9 1355.8L612.5 1429.7L759 1201.5M172.8 1428.8L319.4 1472.1L465.9 1522.1L612.5 1269L759 1256.1M172.8 1526L319.4 1334.7L465.9 1502.7L612.5 1342L759 1242.6M172.8 1363.6L319.4 1481.4L465.9 1545L612.5 1262.2L759 1295.9M172.8 1540.2L319.4 1419.7L465.9 1427.4L612.5 1348.7L759 1211.9M172.8 1531.3L319.4 1403.2L465.9 1436.2L612.5 1376.6L759 1200.7M172.8 1448.3L319.4 1522.1L465.9 1449.6L612.5 1231.5L759 1296.5M172.8 1446.3L319.4 1515.3L465.9 1460.7L612.5 1295.1L759 1230.6M172.8 1499.8L319.4 1441.3L465.9 1485.6L612.5 1238.4L759 1282.9M172.8 1515.1L319.4 1408L465.9 1492L612.5 1292.9L759 1240.1M172.8 1421.2L319.4 1459.6L465.9 1523.5L612.5 1329.8L759 1213.9M172.8 1454.9L319.4 1522.1L465.9 1445.7L612.5 1239.6L759 1285.6M172.8 1531.1L319.4 1379.8L465.9 1441L612.5 1394.9L759 1201.2M172.8 1479.1L319.4 1425.8L465.9 1518.3L612.5 1265.5L759 1259.3M172.8 1346.1L319.4 1524.4L465.9 1499L612.5 1234.1L759 1344.3M172.8 1383.1L319.4 1410.4L465.9 1538.7L612.5 1413.3L759 1202.5M172.8 1466.8L319.4 1429.1L465.9 1502.6L612.5 1351.1L759 1198.5M172.8 1470.3L319.4 1395.4L465.9 1464.5L612.5 1437.5L759 1180.3M172.8 1429.1L319.4 1495.1L465.9 1492L612.5 1313.2L759 1218.5M172.8 1421.4L319.4 1508.1L465.9 1485.9L612.5 1308.4L759 1224.2M172.8 1471.2L319.4 1481.7L465.9 1480.1L612.5 1253.1L759 1261.9M172.8 1466.3L319.4 1425.2L465.9 1528.8L612.5 1272.2L759 1255.6M172.8 1339.9L319.4 1450L465.9 1563.5L612.5 1346.7L759 1247.9M172.8 1467.4L319.4 1403.4L465.9 1492L612.5 1399.2L759 1186M172.8 1437.1L319.4 1485.4L465.9 1456.6L612.5 1385L759 1183.9M172.8 1419.6L319.4 1422L465.9 1551.8L612.5 1326.4L759 1228.3M172.8 1475.7L319.4 1400.6L465.9 1533.1L612.5 1293.5L759 1245M172.8 1503.2L319.4 1418.5L465.9 1496.6L612.5 1233.4L759 1296.3M172.8 1415.4L319.4 1486.9L465.9 1486L612.5 1365.9L759 1193.9M172.8 1462.4L319.4 1437L465.9 1524.4L612.5 1258L759 1266.2M172.8 1420.1L319.4 1448.3L465.9 1544.5L612.5 1274.9L759 1260.2M172.8 1369.2L319.4 1535.7L465.9 1491.8L612.5 1269L759 1282.3M172.8 1280.4L319.4 1548.2L465.9 1481.9L612.5 1355L759 1282.4M172.8 1515.2L319.4 1418.8L465.9 1486.2L612.5 1282.8L759 1245M172.8 1360.9L319.4 1459.3L465.9 1474L612.5 1464L759 1189.8M172.8 1485.2L319.4 1411.7L465.9 1516.9L612.5 1302.2L759 1232.1M172.8 1407.3L319.4 1481.3L465.9 1527.2L612.5 1259L759 1273.2M172.8 1423.5L319.4 1448.2L465.9 1520.2L612.5 1354.8L759 1201.4M172.8 1401.3L319.4 1501.4L465.9 1471L612.5 1382.1L759 1192.2M172.8 1311.5L319.4 1482.8L465.9 1530.3L612.5 1387.6L759 1235.7M172.8 1425.6L319.4 1544L465.9 1429L612.5 1325.6L759 1223.8M172.8 1506.9L319.4 1410.2L465.9 1497.2L612.5 1232.3L759 1301.5M172.8 1524.4L319.4 1415.6L465.9 1464.8L612.5 1326L759 1217.2M172.8 1479.4L319.4 1470.9L465.9 1467.3L612.5 1322.7L759 1207.7M172.8 1445.1L319.4 1395.7L465.9 1550.9L612.5 1324.6L759 1231.7M172.8 1405.8L319.4 1505.7L465.9 1472.1L612.5 1367.7L759 1196.6M172.8 1381.2L319.4 1418.1L465.9 1533.4L612.5 1415.6L759 1199.7M172.8 1435.8L319.4 1509.4L465.9 1481.2L612.5 1250.2L759 1271.4M172.8 1521.5L319.4 1414.4L465.9 1483.5L612.5 1259.5L759 1269.1M172.8 1534.4L319.4 1351.3L465.9 1492.3L612.5 1326.1L759 1243.8M172.8 1271.8L319.4 1560.9L465.9 1453.9L612.5 1375.4L759 1286M172.8 1445.8L319.4 1438.8L465.9 1535L612.5 1257.4L759 1271M172.8 1407.8L319.4 1568.8L465.9 1415.4L612.5 1267.3L759 1288.6M172.8 1435.2L319.4 1518.7L465.9 1439L612.5 1354.9L759 1200.2M172.8 1397.6L319.4 1365.4L465.9 1572.7L612.5 1377.3L759 1234.9M172.8 1481.1L319.4 1461.6L465.9 1476.8L612.5 1317.6L759 1210.9M172.8 1412.5L319.4 1458.9L465.9 1511.9L612.5 1368.9L759 1195.8M172.8 1545.3L319.4 1409.4L465.9 1385.3L612.5 1401.5L759 1206.6M172.8 1472.7L319.4 1403.6L465.9 1520.8L612.5 1338.2L759 1212.6M172.8 1399.8L319.4 1519.9L465.9 1489.9L612.5 1301.4L759 1236.8M172.8 1541.7L319.4 1429.8L465.9 1442L612.5 1246.8L759 1287.7M172.8 1427.8L319.4 1455.4L465.9 1502.9L612.5 1370.5L759 1191.4M172.8 1499.6L319.4 1520.1L465.9 1370.1L612.5 1325.6L759 1232.5M172.8 1529.4L319.4 1466.9L465.9 1415.3L612.5 1304.4L759 1232M172.8 1301.4L319.4 1404.7L465.9 1549.7L612.5 1448.2L759 1244M172.8 1468.8L319.4 1491.1L465.9 1471.2L612.5 1276.7L759 1240.3M172.8 1470.7L319.4 1496.2L465.9 1460.7L612.5 1290L759 1230.3M172.8 1470.2L319.4 1501.6L465.9 1456.8L612.5 1282.4L759 1237.2M172.8 1491.5L319.4 1469.5L465.9 1447L612.5 1339.3L759 1200.7M172.8 1420L319.4 1495.3L465.9 1506.5L612.5 1247.5L759 1278.6M172.8 1562.5L319.4 1360.1L465.9 1455.8L612.5 1260.8L759 1308.8M172.8 1452.1L319.4 1429.1L465.9 1472L612.5 1417.9L759 1176.9M172.8 1480.6L319.4 1480L465.9 1471.9L612.5 1270L759 1245.6M172.8 1488.6L319.4 1424.2L465.9 1417.9L612.5 1437.9L759 1179.5M172.8 1407.5L319.4 1484.6L465.9 1523L612.5 1286.9L759 1246.1M172.8 1468.2L319.4 1406.9L465.9 1527.7L612.5 1324.2L759 1220.9M172.8 1514.8L319.4 1455.1L465.9 1456.7L612.5 1278.1L759 1243.4M172.8 1537L319.4 1502.4L465.9 1319.2L612.5 1315.3L759 1274.1M172.8 1379.4L319.4 1457.2L465.9 1444L612.5 1482.7L759 1184.7M172.8 1466.3L319.4 1404.4L465.9 1397.5L612.5 1493.5L759 1186.3M172.8 1369.7L319.4 1535.3L465.9 1484L612.5 1321.1L759 1237.8M172.8 1413.1L319.4 1495.7L465.9 1510.9L612.5 1251.8L759 1276.6M172.8 1436.8L319.4 1440.7L465.9 1537.6L612.5 1290.8L759 1242" fill="none" stroke="#a5a5c7" stroke-width="1.4" stroke-linejoin="round" marker-start="url(#dot)" marker-mid="url(#dot)" marker-end="url(#dot)"/>
<path d="M172.8 1457.2L319.4 1462L465.9 1480.1L612.5 1322L759 1227.9" fill="none" stroke="#ff3b3b" stroke-width="2" marker-start="url(#rdot)" marker-mid="url(#rdot)" marker-end="url(#rdot)"/>
<path d="M85.4 1153.3V1622.3H847" fill="none" stroke="#222" stroke-width="2"/>
<path d="M78.4 1268.9H85.4M78.4 1389.6H85.4M78.4 1510.3H85.4M172.8 1622.3V1628.3M319.4 1622.3V1628.3M465.9 1622.3V1628.3M612.5 1622.3V1628.3M759 1622.3V1628.3" stroke="#222" stroke-width="1.6"/>
<text class="ta tk" x="0" y="0" text-anchor="end" transform="translate(74.4 1272.5) scale(1 0.71)" font-size="14.5">1</text>
<text class="ta tk" x="0" y="0" text-anchor="end" transform="translate(74.4 1393.2) scale(1 0.71)" font-size="14.5">0</text>
<text class="ta tk" x="0" y="0" text-anchor="end" transform="translate(74.4 1513.9) scale(1 0.71)" font-size="14.5">−1</text>
<text class="ta tk" text-anchor="middle" transform="translate(172.8 1638.3) scale(1 0.71)" font-size="14.5">S1</text>
<text class="ta tk" text-anchor="middle" transform="translate(319.4 1638.3) scale(1 0.71)" font-size="14.5">S2</text>
<text class="ta tk" text-anchor="middle" transform="translate(465.9 1638.3) scale(1 0.71)" font-size="14.5">S3</text>
<text class="ta tk" text-anchor="middle" transform="translate(612.5 1638.3) scale(1 0.71)" font-size="14.5">S4</text>
<text class="ta tk" text-anchor="middle" transform="translate(759 1638.3) scale(1 0.71)" font-size="14.5">S5</text>
<text class="ta tk" text-anchor="middle" transform="translate(466.7 1651.8) scale(1 0.71)" font-size="17.9">Sample</text>
<text class="ta tk" text-anchor="middle" transform="translate(52.4 1387.8) scale(1 0.71) rotate(-90)" font-size="18.7">Expression (z−score)</text>
<text class="ta tk" text-anchor="middle" transform="translate(466.5 1148.2) scale(1 0.71)" font-size="20.4">metabolite Cluster 3(707)</text>
<path d="M172.8 1755.1L319.4 2022.3L465.9 1905.4L612.5 2072.3L759 1927.8M172.8 1835.1L319.4 1943.2L465.9 1902.1L612.5 2142.4L759 1860.2M172.8 1803.1L319.4 2029.4L465.9 1845.7L612.5 1912L759 2092.9M172.8 1719.8L319.4 1967.5L465.9 1989.9L612.5 1994.3L759 2011.5M172.8 1762.6L319.4 2059.5L465.9 1938.8L612.5 1880L759 2042.1M172.8 1783.6L319.4 2091L465.9 1900.4L612.5 2026.6L759 1881.3M172.8 1728.1L319.4 1949.2L465.9 1958L612.5 2008.9L759 2038.8M172.8 1728.1L319.4 1986.5L465.9 1940.1L612.5 1984.6L759 2043.6M172.8 1746.5L319.4 1982.7L465.9 1907.6L612.5 1970L759 2076.3M172.8 1735.8L319.4 1933.5L465.9 1965.3L612.5 2064.2L759 1984.3M172.8 1757.4L319.4 2020.7L465.9 1880.4L612.5 2066.7L759 1957.9M172.8 1742.5L319.4 1944.7L465.9 2076.8L612.5 1934.2L759 1984.9M172.8 1736.3L319.4 2017.4L465.9 1980.1L612.5 1910.1L759 2039.1M172.8 1773.7L319.4 1941.2L465.9 1874.1L612.5 2096.4L759 1997.6M172.8 1749L319.4 2001.7L465.9 1971.8L612.5 1892.9L759 2067.6M172.8 1768.2L319.4 1917.9L465.9 1909.5L612.5 1982.9L759 2104.4M172.8 1737.5L319.4 1926.5L465.9 2013.6L612.5 2054.3L759 1951M172.8 1789.8L319.4 1819.1L465.9 2032.3L612.5 2043.3L759 1998.5M172.8 1799.6L319.4 1941.7L465.9 1852.6L612.5 1971.9L759 2117.2M172.8 1828L319.4 1862L465.9 2078.2L612.5 2061L759 1853.8M172.8 1741.2L319.4 1960.5L465.9 1970.4L612.5 1933.4L759 2077.4M172.8 1846L319.4 1999.2L465.9 1907.5L612.5 2115.4L759 1814.9M172.8 1727.9L319.4 2015.2L465.9 1927.6L612.5 2016.8L759 1995.6M172.8 1746.3L319.4 1897.5L465.9 2022.9L612.5 1961.8L759 2054.5M172.8 1751.5L319.4 2007.9L465.9 1942.2L612.5 2075.8L759 1905.6M172.8 1774.8L319.4 1883.7L465.9 2094.8L612.5 2010.4L759 1919.3M172.8 1731.4L319.4 1925.3L465.9 1974.1L612.5 2021.3L759 2031M172.8 1781.8L319.4 1836.7L465.9 2058.8L612.5 2035.2L759 1970.5M172.8 1796.7L319.4 2068.2L465.9 1949.9L612.5 1827.6L759 2040.5M172.8 1739.5L319.4 2036.7L465.9 1899.5L612.5 1988.5L759 2018.9M172.8 1733.1L319.4 2024.9L465.9 2017.3L612.5 1995L759 1912.7M172.8 1743L319.4 1970.5L465.9 1960L612.5 1929.6L759 2079.8M172.8 1794.6L319.4 2000.3L465.9 1829.6L612.5 1970.6L759 2088M172.8 1754.4L319.4 1889.6L465.9 1946.6L612.5 2055.9L759 2036.5M172.8 1739L319.4 1962.6L465.9 1912.4L612.5 2022.9L759 2046M172.8 1740.8L319.4 1902.9L465.9 2049.8L612.5 1976.5L759 2013.1M172.8 1781.3L319.4 1843.6L465.9 2002.2L612.5 1973.2L759 2082.7M172.8 1739.3L319.4 1944.4L465.9 2019.3L612.5 1925.9L759 2054M172.8 1727.5L319.4 1948.8L465.9 1958.8L612.5 2016.7L759 2031.2M172.8 1788.8L319.4 1874.3L465.9 1955.6L612.5 2119.9L759 1944.4M172.8 1843.1L319.4 1867.1L465.9 2052.7L612.5 2085.7L759 1834.4M172.8 1780.7L319.4 1829.9L465.9 2008.3L612.5 2013.4L759 2050.7M172.8 1741.4L319.4 1897.2L465.9 2017.6L612.5 1984L759 2042.8M172.8 1725.7L319.4 2012.6L465.9 1938.5L612.5 1985.6L759 2020.6M172.8 1791.1L319.4 2026.5L465.9 2095.2L612.5 1886.4L759 1883.7M172.8 1748.9L319.4 1965.5L465.9 1990.8L612.5 2076.3L759 1901.5M172.8 1740.1L319.4 2028.8L465.9 1908.4L612.5 2041.8L759 1964M172.8 1730.2L319.4 1925.9L465.9 1999.6L612.5 1989.1L759 2038.1M172.8 1730.2L319.4 1989.8L465.9 1923.2L612.5 2008.2L759 2031.5M172.8 1742.7L319.4 1943.7L465.9 1995.4L612.5 1928.4L759 2072.8M172.8 1747.8L319.4 1914.3L465.9 1930.5L612.5 2044.7L759 2045.6M172.8 1754.9L319.4 2037.9L465.9 1893.8L612.5 1938.9L759 2057.5M172.8 1729.2L319.4 2025.4L465.9 1988.5L612.5 1925.8L759 2014.1M172.8 1755.2L319.4 1894L465.9 2068.3L612.5 2024L759 1941.4M172.8 1798.5L319.4 1820.5L465.9 2078.1L612.5 2012.8L759 1973.2M172.8 1723L319.4 2015.5L465.9 1946.8L612.5 1998.9L759 1998.9M172.8 1749L319.4 1933.7L465.9 1916.2L612.5 2072.8L759 2011.2M172.8 1763.6L319.4 2050.3L465.9 1874.4L612.5 1944.5L759 2050.3M172.8 1729.5L319.4 1938.9L465.9 2039.4L612.5 2010.8L759 1964.4M172.8 1842.4L319.4 1786.3L465.9 2084.2L612.5 1955.1L759 2015M172.8 1738.8L319.4 1904.1L465.9 1985.5L612.5 2046.2L759 2008.4M172.8 1773.3L319.4 1878.2L465.9 1995.8L612.5 1937.4L759 2098.3M172.8 1772.9L319.4 2001.5L465.9 1897.5L612.5 2099.6L759 1911.5M172.8 1827.8L319.4 2122.7L465.9 1858.1L612.5 1996.7L759 1877.7M172.8 1764.3L319.4 1853.6L465.9 2041.4L612.5 2032.1L759 1991.6M172.8 1767.1L319.4 1906.1L465.9 1948.9L612.5 2108.9L759 1952M172.8 1756.3L319.4 2096.6L465.9 1915.8L612.5 1970.2L759 1944.1M172.8 1775.5L319.4 1995L465.9 1966.6L612.5 1857.2L759 2088.8M172.8 1773.8L319.4 1924L465.9 2096.1L612.5 2005.8L759 1883.4M172.8 1792.1L319.4 2063.7L465.9 1820.7L612.5 1989L759 2017.4M172.8 1752.6L319.4 1888.4L465.9 2037.9L612.5 2050.6L759 1953.5M172.8 1811.7L319.4 1865.3L465.9 2111.1L612.5 2012L759 1882.8M172.8 1755.7L319.4 1907.6L465.9 2028.6L612.5 2068.9L759 1922.2M172.8 1745.3L319.4 2001.1L465.9 1939.1L612.5 2073.8L759 1923.8M172.8 1759.3L319.4 1866.1L465.9 2063L612.5 1999.9L759 1994.6M172.8 1852.8L319.4 1856.9L465.9 1836.3L612.5 2041.5L759 2095.6M172.8 1736.3L319.4 2038.1L465.9 1907.3L612.5 2011.4L759 1989.9M172.8 1809.3L319.4 2030.5L465.9 1853.4L612.5 1892.4L759 2097.4M172.8 1731.4L319.4 1951.7L465.9 1941.7L612.5 2017.7L759 2040.5M172.8 1851.7L319.4 2124.9L465.9 1847.2L612.5 1996.6L759 1862.6M172.8 1759.5L319.4 1907.3L465.9 2083.3L612.5 1920.5L759 2012.3M172.8 1753.1L319.4 2020.1L465.9 1948.9L612.5 2067.3L759 1893.6M172.8 1789.6L319.4 1837.9L465.9 1946.5L612.5 2069.8L759 2039.2M172.8 1840.2L319.4 2068.9L465.9 1853.6L612.5 1848.4L759 2071.9M172.8 1756L319.4 1982.4L465.9 1870.3L612.5 2051.4L759 2023M172.8 1779.4L319.4 1880.4L465.9 1965L612.5 2112.6L759 1945.7M172.8 1782.7L319.4 1908.9L465.9 1903.4L612.5 2118.5L759 1969.5M172.8 1755.4L319.4 2060.5L465.9 1872.2L612.5 1997L759 1998M172.8 1773.9L319.4 1875.5L465.9 1919.5L612.5 2067.6L759 2046.5M172.8 1727.9L319.4 1929.7L465.9 2005.5L612.5 1992.7L759 2027.3M172.8 1753.2L319.4 1922.1L465.9 1992.3L612.5 1928.1L759 2087.3M172.8 1790.7L319.4 1938.6L465.9 2099.7L612.5 2003.3L759 1850.7M172.8 1732.6L319.4 1914.6L465.9 1993.5L612.5 2027L759 2015.4M172.8 1736.3L319.4 1904.8L465.9 1994.5L612.5 2029.9L759 2017.5M172.8 1785.4L319.4 1822.1L465.9 2031.8L612.5 2012.6L759 2031.1M172.8 1749.9L319.4 1902.4L465.9 2021.1L612.5 1944.4L759 2065.1M172.8 1742.4L319.4 1960L465.9 1953.4L612.5 2081.9L759 1945.4M172.8 1725.9L319.4 2002.3L465.9 2033.4L612.5 1976.3L759 1945.1M172.8 1777.8L319.4 1876.3L465.9 1980.5L612.5 1941.7L759 2106.7M172.8 1727.5L319.4 1931.6L465.9 1999.4L612.5 1995.2L759 2029.3M172.8 1738L319.4 2017.3L465.9 2010.8L612.5 2018.9L759 1898M172.8 1757.5L319.4 2061.4L465.9 1889.9L612.5 2036.1L759 1938M172.8 1729.9L319.4 1975.5L465.9 2031.3L612.5 2017.2L759 1929.1M172.8 1724.4L319.4 1974.3L465.9 1962.4L612.5 2039.1L759 1982.8M172.8 1742.2L319.4 1976.2L465.9 1957.4L612.5 2077.7L759 1929.5M172.8 1751.1L319.4 2050.2L465.9 1945.5L612.5 2040L759 1896.1M172.8 1773.4L319.4 1838.6L465.9 2002.1L612.5 2039.4L759 2029.5M172.8 1728L319.4 1961.7L465.9 1945.5L612.5 2012.9L759 2035M172.8 1755.2L319.4 1930.2L465.9 2099.1L612.5 1943.4L759 1955.1M172.8 1757L319.4 2049.2L465.9 1900.8L612.5 2052.2L759 1923.7M172.8 1786.3L319.4 1872.6L465.9 1899.8L612.5 2071.2L759 2053.1M172.8 1763L319.4 1856.4L465.9 2039.1L612.5 1987.7L759 2036.8M172.8 1739.6L319.4 1961.4L465.9 2042.2L612.5 2028.7L759 1911M172.8 1775.3L319.4 1834.2L465.9 2018.1L612.5 2027.1L759 2028.2M172.8 1827.8L319.4 1867L465.9 2110L612.5 1858.6L759 2019.7M172.8 1730.7L319.4 1935.6L465.9 1962.7L612.5 2015L759 2039.1M172.8 1734.9L319.4 1927.7L465.9 2057.7L612.5 1993.8L759 1969M172.8 1731.6L319.4 1923.4L465.9 1991.4L612.5 1994.4L759 2042.3M172.8 1784.8L319.4 1867.8L465.9 2072.8L612.5 2049L759 1908.6M172.8 1787.8L319.4 2096.9L465.9 1844.4L612.5 1985L759 1968.9M172.8 1788.7L319.4 2013.8L465.9 1818.2L612.5 2035.2L759 2027M172.8 1732L319.4 1930.9L465.9 2031.9L612.5 2026.7L759 1961.4M172.8 1724.7L319.4 2022.4L465.9 1944.8L612.5 2010.6L759 1980.6M172.8 1736.4L319.4 2053L465.9 1914.7L612.5 1993.3L759 1985.6M172.8 1829.3L319.4 1859.4L465.9 1873.9L612.5 1997.9L759 2122.5M172.8 1719.8L319.4 1967.2L465.9 2009.7L612.5 1998.7L759 1987.5M172.8 1813.6L319.4 1809.4L465.9 1992.3L612.5 2090.4L759 1977.2M172.8 1768.5L319.4 2101.6L465.9 1894.5L612.5 1932.1L759 1986.1M172.8 1741.9L319.4 1912.3L465.9 1957.9L612.5 2010.7L759 2060.2M172.8 1753.8L319.4 2068.3L465.9 1880.3L612.5 1986.1L759 1994.5M172.8 1756.2L319.4 1954L465.9 1893.4L612.5 2083L759 1996.5M172.8 1739.2L319.4 1957.5L465.9 1923.6L612.5 1998.2L759 2064.5M172.8 1831.1L319.4 2099.6L465.9 1807.1L612.5 2009.2L759 1936M172.8 1781.7L319.4 2010.6L465.9 1835L612.5 2068.4L759 1987.3M172.8 1725.5L319.4 1940.2L465.9 1989.2L612.5 1999.8L759 2028.3M172.8 1762.2L319.4 1942.3L465.9 1906.9L612.5 1969.7L759 2101.8M172.8 1771.7L319.4 1981L465.9 1853.7L612.5 1999.2L759 2077.3M172.8 1756.7L319.4 1863.4L465.9 2029.7L612.5 2033.2L759 1999.9M172.8 1764.1L319.4 1932.5L465.9 1931.2L612.5 2109.3L759 1945.9M172.8 1793.8L319.4 1813.9L465.9 2003.6L612.5 2027.7L759 2044M172.8 1749.6L319.4 1901.6L465.9 1973.1L612.5 2079.3L759 1979.4M172.8 1763.6L319.4 1920L465.9 1899.8L612.5 2013.8L759 2085.7M172.8 1779.6L319.4 1868.9L465.9 1921.2L612.5 2083.7L759 2029.5M172.8 1767.8L319.4 1926L465.9 1968.2L612.5 1912.5L759 2108.5M172.8 1725.7L319.4 1983.6L465.9 1947.5L612.5 2038L759 1988.3M172.8 1839.7L319.4 1798.9L465.9 1986.4L612.5 1952.2L759 2105.9M172.8 1743.3L319.4 1994.6L465.9 1894.9L612.5 1996.7L759 2053.4M172.8 1723.1L319.4 1996.2L465.9 1945.9L612.5 2004L759 2013.8M172.8 1724.1L319.4 1951.9L465.9 1991.5L612.5 2032L759 1983.5M172.8 1731.2L319.4 1948.8L465.9 2021.9L612.5 1944L759 2037M172.8 1798.8L319.4 1879.7L465.9 1904.8L612.5 1976.3L759 2123.5M172.8 1746.4L319.4 1889.5L465.9 1974.5L612.5 2035.9L759 2036.8M172.8 1742.8L319.4 1915.5L465.9 2056L612.5 2022.6L759 1946.1M172.8 1738.3L319.4 1904.7L465.9 2019.8L612.5 2039.1L759 1981.1M172.8 1758.9L319.4 1933.3L465.9 2026.3L612.5 2071.5L759 1893M172.8 1779.1L319.4 1968.2L465.9 2039.1L612.5 2055.9L759 1840.7M172.8 1744.7L319.4 1966.3L465.9 1996L612.5 1906.8L759 2069.2M172.8 1729.9L319.4 1950.9L465.9 1952.4L612.5 2046.6L759 2003.3M172.8 1788.1L319.4 2011.3L465.9 1887.1L612.5 2103.3L759 1893.2M172.8 1812.7L319.4 1987.6L465.9 1809.3L612.5 1984.2L759 2089.2M172.8 1741.8L319.4 1949.2L465.9 1959L612.5 2081.2L759 1951.9M172.8 1732.9L319.4 1946.9L465.9 1944.6L612.5 2008.1L759 2050.4M172.8 1728.4L319.4 1975.8L465.9 2052.5L612.5 1963.7L759 1962.6M172.8 1837.9L319.4 1790.5L465.9 2022.4L612.5 2081.9L759 1950.4M172.8 1748.1L319.4 1886.3L465.9 2057.5L612.5 2002.3L759 1988.8M172.8 1728.4L319.4 1926.1L465.9 2020.8L612.5 2012L759 1995.6M172.8 1726.9L319.4 1980.1L465.9 2027.1L612.5 1936.8L759 2012.1M172.8 1734L319.4 1966.9L465.9 1949.5L612.5 2065.7L759 1966.9M172.8 1791.4L319.4 1870.2L465.9 2116.8L612.5 1927L759 1977.7M172.8 1763.2L319.4 1854.8L465.9 2037.2L612.5 1992.6L759 2035.2M172.8 1736.6L319.4 1949.3L465.9 1991.4L612.5 2065.3L759 1940.5M172.8 1735.1L319.4 1911.5L465.9 2035.9L612.5 2016.4L759 1984.2M172.8 1735L319.4 1955.9L465.9 1965.4L612.5 2068.5L759 1958.2M172.8 1771.1L319.4 1953.4L465.9 1991.1L612.5 2094.7L759 1872.7M172.8 1774.3L319.4 1920.1L465.9 1921L612.5 1950.3L759 2117.4M172.8 1817.7L319.4 2047.2L465.9 1958.4L612.5 2057.9L759 1801.8M172.8 1724.5L319.4 1944.7L465.9 2027.9L612.5 1994.6L759 1991.3M172.8 1759.6L319.4 1977.2L465.9 1876L612.5 1992.3L759 2077.9M172.8 1720.8L319.4 2000.5L465.9 1957.1L612.5 2000.9L759 2003.7M172.8 1742.2L319.4 1957.6L465.9 1954.6L612.5 2081.8L759 1946.8M172.8 1739.2L319.4 1992.4L465.9 1921.8L612.5 1963.8L759 2065.8M172.8 1741.1L319.4 1913L465.9 2020.2L612.5 2053.2L759 1955.6M172.8 1763.4L319.4 1938.7L465.9 1979.3L612.5 1901.6L759 2100M172.8 1769.5L319.4 2067.9L465.9 1855.8L612.5 2019.8L759 1970M172.8 1739.6L319.4 1923.9L465.9 2069.7L612.5 1982.9L759 1966.9M172.8 1769.5L319.4 1866.1L465.9 1990.5L612.5 1969.1L759 2087.9M172.8 1788.5L319.4 1897L465.9 2087.7L612.5 2034.7L759 1875.1M172.8 1733.5L319.4 1966.1L465.9 1924L612.5 2038.2L759 2021.1M172.8 1727.9L319.4 1987.7L465.9 1988.3L612.5 2040.8L759 1938.2M172.8 1768.7L319.4 1981.4L465.9 1888L612.5 2101.3L759 1943.7M172.8 1722.7L319.4 2011.1L465.9 1973.4L612.5 1957.7L759 2018M172.8 1788.8L319.4 1881L465.9 2026.6L612.5 1892.6L759 2094M172.8 1774.8L319.4 1908.2L465.9 2088.2L612.5 2023.1L759 1888.8M172.8 1805.4L319.4 1819.8L465.9 1958.7L612.5 2011.8L759 2087.4M172.8 1833.6L319.4 2002.2L465.9 1826.4L612.5 2114.8L759 1906.1M172.8 1769.4L319.4 1853.8L465.9 2044.7L612.5 1967.8L759 2047.3M172.8 1751.9L319.4 1886.3L465.9 2042.5L612.5 2043.2L759 1959.2M172.8 1741.2L319.4 1933.2L465.9 1958.3L612.5 1973.4L759 2077M172.8 1747.3L319.4 1951.5L465.9 2010.3L612.5 2068.2L759 1905.7M172.8 1734.6L319.4 1908.4L465.9 2026.7L612.5 2016.6L759 1996.7M172.8 1810.1L319.4 1943.1L465.9 1983.5L612.5 2112.5L759 1833.8M172.8 1742.9L319.4 1888.7L465.9 2033.4L612.5 2003L759 2014.9M172.8 1735.7L319.4 1922.2L465.9 2001.5L612.5 1969.1L759 2054.4M172.8 1732.8L319.4 2028.6L465.9 1937.2L612.5 2034.4L759 1949.9M172.8 1733.9L319.4 1916.5L465.9 1995.4L612.5 1992.6L759 2044.5M172.8 1727.9L319.4 1937.2L465.9 2012.6L612.5 1973.6L759 2031.6M172.8 1762.5L319.4 1852.9L465.9 2028.4L612.5 2010L759 2029.2M172.8 1765.4L319.4 2098L465.9 1905.5L612.5 1921.1L759 1992.9M172.8 1809L319.4 1851.9L465.9 2061.8L612.5 2071.8L759 1888.5M172.8 1765.4L319.4 1866.9L465.9 2080.9L612.5 1991.7L759 1978.1M172.8 1737.4L319.4 1909.1L465.9 2015.9L612.5 1977.4L759 2043.2M172.8 1741.6L319.4 2021.8L465.9 1890.1L612.5 2009.1L759 2020.5M172.8 1739.4L319.4 2018.3L465.9 1894.7L612.5 2012L759 2018.7M172.8 1750.3L319.4 1917.6L465.9 1930.5L612.5 2008.7L759 2075.9M172.8 1727.6L319.4 1962.6L465.9 2010.2L612.5 2035.8L759 1946.9M172.8 1744.4L319.4 1923.3L465.9 1935.5L612.5 2065.2L759 2014.7M172.8 1730.5L319.4 1979.4L465.9 2052L612.5 1982.8L759 1938.4M172.8 1747.2L319.4 1986.4L465.9 1924L612.5 2082.1L759 1943.3M172.8 1758.1L319.4 2021.6L465.9 1909.9L612.5 1916.9L759 2076.4M172.8 1734.5L319.4 1995L465.9 1951.3L612.5 1942.2L759 2059.9M172.8 1730.3L319.4 1921.2L465.9 1991.8L612.5 2022.6L759 2017.1M172.8 1774L319.4 1881.3L465.9 1911.6L612.5 2064.1L759 2052.1M172.8 1739.2L319.4 1942.3L465.9 1950L612.5 1977.7L759 2073.9M172.8 1743.9L319.4 1926.6L465.9 1975.3L612.5 2080.1L759 1957.2M172.8 1728.1L319.4 1980.4L465.9 1938.3L612.5 1994.8L759 2041.3M172.8 1741.5L319.4 1971.5L465.9 1950.4L612.5 1940.7L759 2078.9M172.8 1770.8L319.4 1843L465.9 2028.9L612.5 1997.8L759 2042.5M172.8 1776.5L319.4 1853.9L465.9 2056.4L612.5 2049.8L759 1946.4M172.8 1808L319.4 1850.7L465.9 1907.7L612.5 2110L759 2006.6M172.8 1757.3L319.4 1983L465.9 1891.1L612.5 1964.8L759 2086.9M172.8 1785.9L319.4 2022.2L465.9 2004.2L612.5 2047.4L759 1823.2M172.8 1750.1L319.4 2025.7L465.9 1906.4L612.5 2063.4L759 1937.3M172.8 1780.2L319.4 1864.3L465.9 2059.8L612.5 1921.2L759 2057.5M172.8 1773.9L319.4 1906.7L465.9 1885.4L612.5 2055.4L759 2061.6M172.8 1728.8L319.4 1958.7L465.9 2015.9L612.5 2035.1L759 1944.5M172.8 1763.3L319.4 2012.5L465.9 1868.6L612.5 1966.1L759 2072.4M172.8 1797.7L319.4 1873.2L465.9 2067.1L612.5 2064.1L759 1880.9M172.8 1754.8L319.4 1875.9L465.9 2056.8L612.5 2020.9L759 1974.6M172.8 1829.4L319.4 2111.9L465.9 1837.8L612.5 2012.3L759 1891.6M172.8 1727.2L319.4 1943.7L465.9 2041.9L612.5 1989.4L759 1980.8M172.8 1823.7L319.4 1815.5L465.9 1994L612.5 1943.1L759 2106.8M172.8 1841.7L319.4 1801.3L465.9 2097.6L612.5 2016.5L759 1926.1M172.8 1737.9L319.4 1929.8L465.9 1998.6L612.5 2063.5L759 1953.2M172.8 1774.6L319.4 1910L465.9 2026.6L612.5 2085.4L759 1886.4M172.8 1757.7L319.4 2075.7L465.9 1892.5L612.5 2016.6L759 1940.5M172.8 1727.7L319.4 1946.2L465.9 2018L612.5 1960.7L759 2030.4M172.8 1774.9L319.4 1915.5L465.9 2042.9L612.5 2072.1L759 1877.6M172.8 1737.9L319.4 1900.6L465.9 1999.6L612.5 2011.1L759 2033.8M172.8 1797.8L319.4 1986.9L465.9 2001.5L612.5 2077.7L759 1819.1M172.8 1719.3L319.4 1994.8L465.9 2001.7L612.5 1967.9L759 1999.3M172.8 1771.1L319.4 1906.9L465.9 2077.6L612.5 1892.6L759 2034.8M172.8 1727.5L319.4 1984.4L465.9 1965.7L612.5 2048.2L759 1957.1M172.8 1740L319.4 2071.7L465.9 1988.8L612.5 1946.4L759 1936.2M172.8 1797.9L319.4 1971L465.9 2050.5L612.5 2046.4L759 1817.2M172.8 1739.9L319.4 1893.8L465.9 2010.1L612.5 2014.6L759 2024.5M172.8 1736L319.4 1922.9L465.9 1981.8L612.5 2059.5L759 1982.9M172.8 1745.2L319.4 1889.8L465.9 1983.7L612.5 2017.2L759 2047M172.8 1811.1L319.4 1868.9L465.9 1884.4L612.5 2002.1L759 2116.5M172.8 1831.2L319.4 1815.1L465.9 2056.3L612.5 2073.2L759 1907.2M172.8 1768.6L319.4 2082.7L465.9 1900.2L612.5 2025.5L759 1906.1M172.8 1755.3L319.4 1865.5L465.9 2001.4L612.5 2028.4L759 2032.4M172.8 1723.1L319.4 1967.3L465.9 1971.7L612.5 1987.3L759 2033.6M172.8 1731.7L319.4 1956.6L465.9 1945.3L612.5 2054.2L759 1995.3M172.8 1777.1L319.4 1896.3L465.9 1911.6L612.5 1991L759 2107.1M172.8 1790.8L319.4 1866.8L465.9 2002.6L612.5 1916.4L759 2106.5M172.8 1834.6L319.4 1838.4L465.9 2035.9L612.5 2098.2L759 1875.9M172.8 1755.5L319.4 1878.6L465.9 2057.2L612.5 2027.6L759 1964.1M172.8 1739.7L319.4 1923.7L465.9 2029.8L612.5 2046.5L759 1943.3M172.8 1749.5L319.4 1889.4L465.9 2024.3L612.5 2055L759 1964.7M172.8 1749L319.4 1966.7L465.9 1903.1L612.5 2078.4L759 1985.8M172.8 1730.3L319.4 1997.2L465.9 1921L612.5 2028.1L759 2006.4M172.8 1798.3L319.4 1931L465.9 2133.9L612.5 1899L759 1920.8M172.8 1841.3L319.4 1857.7L465.9 2045.2L612.5 2092.8L759 1845.9M172.8 1725.5L319.4 2002.9L465.9 1959.7L612.5 2035L759 1959.9M172.8 1796.3L319.4 1861.2L465.9 2079L612.5 2048.7L759 1897.7M172.8 1722L319.4 1993.5L465.9 1951.4L612.5 2011L759 2005.1M172.8 1808.1L319.4 2011.1L465.9 1815.8L612.5 1961.6L759 2086.4M172.8 1749.1L319.4 2045.4L465.9 2044.5L612.5 1939.8L759 1904.2M172.8 1751.6L319.4 1981.6L465.9 1904.2L612.5 1961.3L759 2084.3M172.8 1795.1L319.4 1903.2L465.9 1859.4L612.5 2042.2L759 2083.1M172.8 1806.1L319.4 1801.7L465.9 1999.1L612.5 2034.1L759 2042M172.8 1768L319.4 1979.8L465.9 1852.5L612.5 2055.7L759 2027M172.8 1833L319.4 1833L465.9 2023.2L612.5 2105.3L759 1888.4M172.8 1764L319.4 1975.7L465.9 1892.6L612.5 1952L759 2098.6M172.8 1758.1L319.4 1862.4L465.9 2012.5L612.5 2047.2L759 2002.8M172.8 1742.5L319.4 1931.2L465.9 1936.2L612.5 2068.7L759 2004.4M172.8 1733.8L319.4 1949.4L465.9 1936.2L612.5 2044.4L759 2019.2M172.8 1738.8L319.4 1899.2L465.9 2035.3L612.5 1995.4L759 2014.2M172.8 1754.5L319.4 1875L465.9 1983L612.5 2059.2L759 2011.3M172.8 1724.5L319.4 1958.7L465.9 1981.3L612.5 2038.3L759 1980.1M172.8 1786.1L319.4 1845.6L465.9 1952.7L612.5 2088.8L759 2009.9M172.8 1728.2L319.4 1983.9L465.9 1936.8L612.5 1993.2L759 2040.8M172.8 1765.5L319.4 1867.7L465.9 1951.1L612.5 2054.7L759 2044.1M172.8 1725.4L319.4 1939.6L465.9 1986.7L612.5 2009L759 2022.3M172.8 1760.6L319.4 1965.7L465.9 1870.9L612.5 2020.6L759 2065.2M172.8 1723.9L319.4 1945.8L465.9 1984.6L612.5 2010.8L759 2017.9M172.8 1734.7L319.4 1969.9L465.9 1942.5L612.5 1970L759 2065.9M172.8 1792.9L319.4 1935.4L465.9 1851.9L612.5 2104.1L759 1998.7M172.8 1764.2L319.4 1876.7L465.9 2075.8L612.5 2019.8L759 1946.4M172.8 1735.2L319.4 2018.7L465.9 1930.5L612.5 2046.9L759 1951.8M172.8 1798.1L319.4 2028.4L465.9 1825.4L612.5 1955.1L759 2075.9M172.8 1738.8L319.4 2004.4L465.9 1975.2L612.5 2054.2L759 1910.3M172.8 1735.1L319.4 1983.6L465.9 1951.4L612.5 1947.6L759 2065.3M172.8 1721.3L319.4 1964L465.9 1990.4L612.5 1984.3L759 2023M172.8 1730.9L319.4 1941.2L465.9 2013.7L612.5 2041.9L759 1955.4M172.8 1728.1L319.4 1989.4L465.9 1944.5L612.5 2045.6L759 1975.4M172.8 1726.3L319.4 1951.5L465.9 1982.5L612.5 2043L759 1979.6M172.8 1743.6L319.4 1887.1L465.9 2008.7L612.5 2034.2L759 2009.4M172.8 1767.5L319.4 1919.1L465.9 1965.3L612.5 2109.2L759 1921.8M172.8 1740.8L319.4 1954.8L465.9 1912.2L612.5 2031.4L759 2043.8M172.8 1728.9L319.4 1934.6L465.9 2035.7L612.5 2009.8L759 1973.9M172.8 1755.7L319.4 1911.8L465.9 1958.8L612.5 2095.6L759 1961.1M172.8 1734.2L319.4 1991.2L465.9 1924.1L612.5 2054.2L759 1979.3M172.8 1768.3L319.4 1867.5L465.9 1960.8L612.5 2084.1L759 2002.1M172.8 1777.7L319.4 1959.6L465.9 1875.7L612.5 2108.7L759 1961.4M172.8 1747.7L319.4 1993.1L465.9 1905.9L612.5 1960.7L759 2075.6M172.8 1730.1L319.4 2020.7L465.9 1944.2L612.5 2035.2L759 1952.8M172.8 1727.7L319.4 2006.6L465.9 1949L612.5 1960.8L759 2038.9M172.8 1727.2L319.4 2025.4L465.9 1939L612.5 2017.9L759 1973.5M172.8 1747L319.4 1887.9L465.9 2055L612.5 2007.3L759 1985.7M172.8 1804.9L319.4 2083.8L465.9 1864L612.5 2048.3L759 1882.1M172.8 1743.6L319.4 1902.8L465.9 2019.7L612.5 2053.8L759 1963.1M172.8 1736.6L319.4 1983.1L465.9 1907.5L612.5 2033.9L759 2021.9M172.8 1739.9L319.4 1950.6L465.9 2028.7L612.5 2046.1L759 1917.8M172.8 1816.4L319.4 1862L465.9 1972.4L612.5 2129.7L759 1902.5M172.8 1724.6L319.4 1976.4L465.9 1959L612.5 2038.6L759 1984.5M172.8 1752.1L319.4 1870.6L465.9 2004.1L612.5 2023.5L759 2032.7M172.8 1720.3L319.4 2001.2L465.9 1997L612.5 2004.5L759 1960.1M172.8 1804.6L319.4 1967.7L465.9 1835.3L612.5 2110.7L759 1964.8M172.8 1790.2L319.4 1822.4L465.9 2054.1L612.5 2032.5L759 1983.9M172.8 1768L319.4 1857.7L465.9 2049.1L612.5 2044.8L759 1963.4M172.8 1753.5L319.4 1957.7L465.9 1885L612.5 2055.2L759 2031.6M172.8 1731.9L319.4 1960.8L465.9 1943.3L612.5 2055.7L759 1991.4M172.8 1746.1L319.4 1880.5L465.9 2023L612.5 2013L759 2020.3M172.8 1747L319.4 1895.1L465.9 1960.9L612.5 2033L759 2046.9M172.8 1726.3L319.4 1996.1L465.9 2040.7L612.5 1955.4L759 1964.4M172.8 1765.4L319.4 1941.1L465.9 1960.5L612.5 2107.1L759 1909M172.8 1794.7L319.4 1909.1L465.9 2043.2L612.5 2081L759 1855.1M172.8 1839.8L319.4 1814.6L465.9 1952.1L612.5 1952.9L759 2123.6M172.8 1738.7L319.4 2009.6L465.9 1966.8L612.5 2054.1L759 1913.8M172.8 1745.8L319.4 1950.3L465.9 1938.9L612.5 1961.3L759 2086.7M172.8 1736.4L319.4 1925.9L465.9 1966.2L612.5 2060.7L759 1993.8M172.8 1739.4L319.4 1900.1L465.9 1988.9L612.5 2040.2L759 2014.4M172.8 1794.5L319.4 2030.7L465.9 1836.6L612.5 2080.4L759 1940.7M172.8 1770.3L319.4 1854.9L465.9 2012.2L612.5 1973.6L759 2072M172.8 1777.1L319.4 1961.7L465.9 1853.4L612.5 2006.2L759 2084.5M172.8 1761.8L319.4 1889.3L465.9 2067.2L612.5 2035.7L759 1929M172.8 1750L319.4 1874.1L465.9 2006.3L612.5 2032.4L759 2020.2M172.8 1772.3L319.4 1932.4L465.9 2117L612.5 1923.5L759 1937.7M172.8 1727.8L319.4 1926.3L465.9 2006.4L612.5 2015L759 2007.5M172.8 1749.1L319.4 2033.7L465.9 1889L612.5 1964.6L759 2046.6M172.8 1735.7L319.4 1916.6L465.9 1982.5L612.5 2052.1L759 1996.1M172.8 1820.8L319.4 2103.2L465.9 1871.9L612.5 1859.1L759 2028M172.8 1734.3L319.4 2034.5L465.9 1936.1L612.5 2032.1L759 1946.1M172.8 1752.5L319.4 1890.3L465.9 2016.8L612.5 1957.2L759 2066.3M172.8 1742.7L319.4 1934.6L465.9 1929.4L612.5 2011.4L759 2064.9M172.8 1734.8L319.4 1953L465.9 1933.9L612.5 2053.4L759 2008M172.8 1728.3L319.4 1937.7L465.9 2040.6L612.5 1978.2L759 1998.2M172.8 1825.6L319.4 1979.5L465.9 1942.9L612.5 2115.2L759 1819.9M172.8 1778.9L319.4 1965.7L465.9 1843.5L612.5 2066.8L759 2028.2M172.8 1749.1L319.4 1934.8L465.9 1957.5L612.5 1950.3L759 2091.3M172.8 1786.3L319.4 1821.7L465.9 2011L612.5 2041.8L759 2022.2M172.8 1783L319.4 1929.5L465.9 2086L612.5 2025L759 1859.5M172.8 1772.5L319.4 1900.2L465.9 1895.6L612.5 2074.7L759 2040.1M172.8 1752.6L319.4 1959L465.9 2086.5L612.5 1904.7L759 1980.2M172.8 1777.1L319.4 1836L465.9 2055.6L612.5 2002.3L759 2012M172.8 1759.8L319.4 1860.6L465.9 1990.2L612.5 2033.7L759 2038.6M172.8 1773.9L319.4 1876L465.9 2002.6L612.5 2095.4L759 1935.1M172.8 1787L319.4 1873.7L465.9 1945.4L612.5 1959.1L759 2117.7M172.8 1765.9L319.4 1895L465.9 1915L612.5 2031L759 2076.2M172.8 1736.6L319.4 1916.2L465.9 1982L612.5 2055.2L759 1993.1M172.8 1738.5L319.4 1918.7L465.9 2041.9L612.5 2030.4L759 1953.4M172.8 1732.9L319.4 1947.4L465.9 1956.9L612.5 2060.6L759 1985.2M172.8 1795.8L319.4 1949.8L465.9 1923.2L612.5 2128.8L759 1885.4M172.8 1827.8L319.4 1962.1L465.9 1809.2L612.5 1975.7L759 2108.3M172.8 1765.7L319.4 1988.8L465.9 1852.8L612.5 2026.6L759 2049.2M172.8 1767.4L319.4 1895.7L465.9 1908.9L612.5 2069.3L759 2041.7M172.8 1729.1L319.4 1923.5L465.9 2015.7L612.5 1995.9L759 2018.7M172.8 1808.7L319.4 1976.3L465.9 2126.4L612.5 1868.7L759 1902.8M172.8 1743.1L319.4 1936.8L465.9 1950.9L612.5 1970.9L759 2081.3M172.8 1728.5L319.4 2002.9L465.9 1938.4L612.5 2039.9L759 1973.2M172.8 1749.2L319.4 1875.4L465.9 2025.7L612.5 2006.9L759 2025.9M172.8 1763.8L319.4 2033.4L465.9 1856L612.5 1985.1L759 2044.6M172.8 1793.9L319.4 1833.8L465.9 1977L612.5 1983.7L759 2094.6M172.8 1777.9L319.4 2095.7L465.9 1869.9L612.5 1933.8L759 2005.8M172.8 1752.9L319.4 1934L465.9 1987.6L612.5 1919.9L759 2088.5M172.8 1745.6L319.4 1967.6L465.9 1976.5L612.5 2078.8L759 1914.5M172.8 1757.9L319.4 1980.6L465.9 1955.2L612.5 1897.7L759 2091.6M172.8 1789.5L319.4 1840.1L465.9 1940.2L612.5 2055.8L759 2057.3M172.8 1746.8L319.4 1909.6L465.9 1947.8L612.5 2068.9L759 2009.9M172.8 1799.9L319.4 1874.9L465.9 2107.9L612.5 1888.9L759 2011.5M172.8 1786.3L319.4 1870.4L465.9 2031.3L612.5 2088L759 1907.1M172.8 1751.3L319.4 2049.9L465.9 1927.6L612.5 1909.4L759 2044.9M172.8 1722.2L319.4 1978.7L465.9 2017.9L612.5 1957.3L759 2007M172.8 1785.6L319.4 1858.3L465.9 1983.1L612.5 1950.9L759 2105.2M172.8 1749.2L319.4 1903.7L465.9 2010.2L612.5 2070.6L759 1949.3M172.8 1745.3L319.4 1921.2L465.9 2070.3L612.5 1938.6L759 2007.5M172.8 1776.5L319.4 2098L465.9 1985.3L612.5 1958.5L759 1864.6M172.8 1811.3L319.4 1936.4L465.9 1820L612.5 2034.3L759 2081.1M172.8 1809.5L319.4 1840.9L465.9 1942.8L612.5 1971L759 2118.8M172.8 1722.8L319.4 2018L465.9 2008.6L612.5 1980.9L759 1952.8M172.8 1734.7L319.4 1910.9L465.9 2035.8L612.5 2010.9L759 1990.7M172.8 1763.9L319.4 1955.4L465.9 1881.3L612.5 1993.2L759 2089.2M172.8 1724.1L319.4 2032.8L465.9 1984.7L612.5 1989L759 1952.4M172.8 1761.6L319.4 2002.3L465.9 1882L612.5 2083.3L759 1953.9M172.8 1757.3L319.4 1968.6L465.9 2096.4L612.5 1908.4L759 1952.3M172.8 1723.3L319.4 2028.6L465.9 2001.1L612.5 1968.6L759 1961.5M172.8 1742.6L319.4 1936.9L465.9 1957.9L612.5 1964.6L759 2081M172.8 1737.6L319.4 1963.6L465.9 1987.2L612.5 2066.1L759 1928.5M172.8 1747.8L319.4 1960.7L465.9 1978.4L612.5 1913.7L759 2082.3M172.8 1791.1L319.4 2046.8L465.9 1825.7L612.5 1968.5L759 2051M172.8 1775.9L319.4 1873.2L465.9 2039L612.5 2074.9L759 1920M172.8 1748.2L319.4 1930.6L465.9 2000.4L612.5 2078.1L759 1925.7M172.8 1738.1L319.4 1985.1L465.9 1903.6L612.5 2020.2L759 2036M172.8 1755L319.4 1992.8L465.9 1904.8L612.5 2086.6L759 1943.8M172.8 1752L319.4 1889.4L465.9 1987.6L612.5 2074.3L759 1979.7M172.8 1744.6L319.4 1928.7L465.9 1928.5L612.5 2064L759 2017.2M172.8 1744.8L319.4 1952.8L465.9 1908.2L612.5 2061.6L759 2015.6M172.8 1789.7L319.4 1872.3L465.9 1927.3L612.5 2116.2L759 1977.5M172.8 1753L319.4 1950.7L465.9 1988.7L612.5 1905.2L759 2085.4M172.8 1764.5L319.4 2009.8L465.9 1870.4L612.5 2077.2L759 1961.1M172.8 1740L319.4 1927.4L465.9 1937.4L612.5 2041.1L759 2037M172.8 1794.1L319.4 1967.3L465.9 1822.7L612.5 2053.6L759 2045.3M172.8 1757.6L319.4 1954.6L465.9 1878.7L612.5 2040.1L759 2051.9M172.8 1759.4L319.4 1886.8L465.9 2066.8L612.5 2030.9L759 1939.1M172.8 1719.9L319.4 2012.5L465.9 1973.5L612.5 1999.2L759 1977.9M172.8 1719.7L319.4 1989.6L465.9 2008.7L612.5 1997.8L759 1967.3M172.8 1772.2L319.4 1857.3L465.9 1972.3L612.5 1998.6L759 2082.5M172.8 1744.4L319.4 1885.6L465.9 2032.6L612.5 2018.2L759 2002.2M172.8 1725.5L319.4 2042L465.9 1965.3L612.5 1987.2L759 1963M172.8 1809.8L319.4 2088.2L465.9 1812.1L612.5 1996.6L759 1976.2M172.8 1835.4L319.4 1890.3L465.9 1825.3L612.5 2039L759 2093M172.8 1778.3L319.4 2004.3L465.9 1843.7L612.5 1980.3L759 2076.5M172.8 1722.9L319.4 1946.9L465.9 2011.1L612.5 1994.1L759 2008M172.8 1727.1L319.4 1941.7L465.9 1995.1L612.5 1980.1L759 2039M172.8 1757.8L319.4 2023.9L465.9 1865.1L612.5 2047.4L759 1988.8M172.8 1722.6L319.4 1975.5L465.9 1958.8L612.5 2023.9L759 2002.2M172.8 1774.8L319.4 1834.8L465.9 2024.6L612.5 2023.3L759 2025.6M172.8 1774.3L319.4 1861.5L465.9 2010.4L612.5 1951.5L759 2085.3M172.8 1750.7L319.4 2013.9L465.9 1950.7L612.5 2069.1L759 1898.7M172.8 1746.9L319.4 1991.6L465.9 1991.2L612.5 2061.9L759 1891.5M172.8 1831.9L319.4 1921.3L465.9 2111.6L612.5 1999.7L759 1818.5M172.8 1775.8L319.4 1985.4L465.9 1893.2L612.5 1920.7L759 2107.9M172.8 1754.7L319.4 1868.6L465.9 2015.9L612.5 1997.6L759 2046.2M172.8 1749.4L319.4 1985.7L465.9 1885.1L612.5 2060.1L759 2002.8M172.8 1723L319.4 1960.2L465.9 1968.7L612.5 2011.1L759 2020M172.8 1731.2L319.4 1928.7L465.9 2005.9L612.5 1974.6L759 2042.6M172.8 1776.2L319.4 1868.9L465.9 1959.1L612.5 2101.8L759 1976.9M172.8 1741.9L319.4 2078.2L465.9 1963.4L612.5 1930.7L759 1968.7M172.8 1738.2L319.4 1950.5L465.9 1927.8L612.5 2059.7L759 2006.7M172.8 1784.7L319.4 2004.1L465.9 1968.1L612.5 2085L759 1841.2M172.8 1783.8L319.4 1829L465.9 2047.5L612.5 2037.3L759 1985.4M172.8 1728.7L319.4 1935.7L465.9 1995.7L612.5 2041.7L759 1981.2M172.8 1725.3L319.4 1942.9L465.9 1978.6L612.5 2017.2L759 2019M172.8 1728.5L319.4 1948L465.9 1980.4L612.5 2049.6L759 1976.5M172.8 1748.1L319.4 2030.7L465.9 1877.4L612.5 2018L759 2008.8M172.8 1732.2L319.4 1995.5L465.9 1957.9L612.5 1942.5L759 2054.9M172.8 1752.3L319.4 1881.8L465.9 2020.7L612.5 2056.9L759 1971.3M172.8 1797.7L319.4 1836.5L465.9 2096.1L612.5 2006.3L759 1946.5M172.8 1773.4L319.4 1996.4L465.9 1839.8L612.5 2028.7L759 2044.7M172.8 1727.6L319.4 1937.2L465.9 2010.9L612.5 2031.3L759 1976M172.8 1767.7L319.4 1938.1L465.9 2080.5L612.5 2019.8L759 1876.8M172.8 1737L319.4 1964.8L465.9 1933.9L612.5 1979.5L759 2067.9M172.8 1753.7L319.4 1923L465.9 1912.5L612.5 2070.8L759 2023.1M172.8 1787.6L319.4 1824.9L465.9 2004.6L612.5 2063.3L759 2002.7M172.8 1851.6L319.4 1826.5L465.9 2126.9L612.5 1893.4L759 1984.5M172.8 1788.5L319.4 1857.8L465.9 1923.4L612.5 2020.9L759 2092.4M172.8 1744.9L319.4 2031.7L465.9 1964L612.5 2044.6L759 1897.8M172.8 1732.7L319.4 2034.1L465.9 2023.4L612.5 1924.9L759 1967.9M172.8 1790.6L319.4 1883.1L465.9 1897.6L612.5 2108.7L759 2003.1M172.8 1750.8L319.4 1887.2L465.9 2018.4L612.5 1966.9L759 2059.8M172.8 1785.9L319.4 2006.8L465.9 1823.9L612.5 2013.6L759 2052.7M172.8 1786.4L319.4 1837.3L465.9 2083.8L612.5 2002L759 1973.6M172.8 1735.8L319.4 2036.7L465.9 1917.9L612.5 1965.5L759 2027.2M172.8 1774L319.4 1859.2L465.9 2077.9L612.5 2021L759 1950.9M172.8 1757.3L319.4 1865.5L465.9 2020.6L612.5 1991.2L759 2048.4M172.8 1796.2L319.4 1840.2L465.9 2072.7L612.5 2046.7L759 1927.1M172.8 1761.4L319.4 1982.6L465.9 1861.5L612.5 2024.8L759 2052.8M172.8 1784.1L319.4 2045.2L465.9 1986.2L612.5 2039.1L759 1828.3M172.8 1719.8L319.4 1965.7L465.9 1989.7L612.5 2004.3L759 2003.4M172.8 1720.1L319.4 1975.4L465.9 1992.5L612.5 2017.6L759 1977.4M172.8 1780L319.4 1848.6L465.9 2088.6L612.5 1977.5L759 1988.2M172.8 1768.7L319.4 1929.7L465.9 1875.7L612.5 2054.3L759 2054.7M172.8 1726.8L319.4 1959.9L465.9 2024.9L612.5 1950.1L759 2021.4M172.8 1753.4L319.4 2004.4L465.9 1873.3L612.5 1997.6L759 2054.3M172.8 1774.8L319.4 1880.3L465.9 2068.5L612.5 1911.7L759 2047.8M172.8 1732.7L319.4 1982L465.9 1919.9L612.5 2039.9L759 2008.4M172.8 1727.2L319.4 1969.8L465.9 1973.3L612.5 2049.5L759 1963.1M172.8 1757.3L319.4 2069L465.9 1989.9L612.5 1873.4L759 1993.4M172.8 1773.1L319.4 1945.6L465.9 1920.4L612.5 1926.8L759 2117.1M172.8 1744.9L319.4 2001.7L465.9 1936.4L612.5 2073.1L759 1926.8M172.8 1810L319.4 2007.1L465.9 1831.4L612.5 2102.8L759 1931.8M172.8 1720.6L319.4 2016.8L465.9 1966.1L612.5 1982.2L759 1997.3M172.8 1754L319.4 1997L465.9 1959.4L612.5 2079.3L759 1893.3M172.8 1786.5L319.4 1966.2L465.9 1833.3L612.5 2066.1L759 2030.9M172.8 1793.9L319.4 2066.8L465.9 1819L612.5 1993L759 2010.3M172.8 1741.2L319.4 1968.4L465.9 1904.6L612.5 2048.7L759 2020.1M172.8 1797.5L319.4 1825L465.9 2015L612.5 1963.8L759 2081.7M172.8 1771.2L319.4 1845.9L465.9 2021.3L612.5 1988.2L759 2056.2M172.8 1778.6L319.4 1952.9L465.9 2020L612.5 2079.5L759 1852.1M172.8 1741.4L319.4 1908.1L465.9 1986.4L612.5 1983.4L759 2063.7M172.8 1827.3L319.4 1859.6L465.9 1989.1L612.5 2126.3L759 1880.8M172.8 1793L319.4 1856.8L465.9 2015.5L612.5 2098.5L759 1919.3M172.8 1759.2L319.4 2001.3L465.9 1862.4L612.5 2006.4L759 2053.7M172.8 1740.2L319.4 1908.7L465.9 1998.4L612.5 1977.1L759 2058.7M172.8 1738.4L319.4 2031.4L465.9 1934.1L612.5 2043.7L759 1935.4M172.8 1739.7L319.4 2050.9L465.9 1934.4L612.5 2025.3L759 1932.7M172.8 1753.2L319.4 1987.2L465.9 1929.2L612.5 2089.3L759 1924.1M172.8 1745.1L319.4 1893.8L465.9 1999L612.5 1986.7L759 2058.4M172.8 1734.4L319.4 2023.5L465.9 1911.4L612.5 2026.8L759 1986.9M172.8 1832.1L319.4 1838L465.9 2121.1L612.5 1896.6L759 1995.2M172.8 1758.1L319.4 1899.4L465.9 1941.7L612.5 1995.5L759 2088.3M172.8 1773.8L319.4 2013.4L465.9 1915.2L612.5 2093L759 1887.5M172.8 1733.7L319.4 1915.8L465.9 2016.3L612.5 2035.2L759 1981.9M172.8 1745.9L319.4 1939.9L465.9 1986.6L612.5 2080.8L759 1929.7M172.8 1733.9L319.4 1992.4L465.9 2060.1L612.5 1951.7L759 1944.9M172.8 1743.6L319.4 1889.5L465.9 1997.1L612.5 2041.9L759 2010.9M172.8 1757.2L319.4 1880.2L465.9 2043.1L612.5 1953L759 2049.5M172.8 1749.7L319.4 1918.9L465.9 1935.1L612.5 2080.1L759 1999.2M172.8 1799.8L319.4 2056.3L465.9 1833.2L612.5 2063L759 1930.8M172.8 1734.1L319.4 2007.5L465.9 1938.1L612.5 2052.8L759 1950.4M172.8 1723.7L319.4 2000.9L465.9 1946.1L612.5 2022L759 1990.4M172.8 1753.3L319.4 1979.4L465.9 1893.6L612.5 2081.3L759 1975.4M172.8 1797.7L319.4 1833.5L465.9 2003.1L612.5 2095L759 1953.7M172.8 1811L319.4 1860L465.9 1905.2L612.5 1983.4L759 2123.4M172.8 1740.1L319.4 2008.8L465.9 1897.9L612.5 2041.5L759 1994.8M172.8 1750.5L319.4 1879.1L465.9 2035.9L612.5 2036.6L759 1980.9M172.8 1719.6L319.4 1966.9L465.9 2006.6L612.5 1998.7L759 1991.2M172.8 1731.1L319.4 1965.8L465.9 2005.6L612.5 1934.9L759 2045.6M172.8 1788.7L319.4 1955L465.9 1895.1L612.5 2125L759 1919.2" fill="none" stroke="#a5a5c7" stroke-width="1.4" stroke-linejoin="round" marker-start="url(#dot)" marker-mid="url(#dot)" marker-end="url(#dot)"/>
<path d="M172.8 1748.4L319.4 1946.4L465.9 1963.5L612.5 2019.7L759 2005" fill="none" stroke="#ff3b3b" stroke-width="2" marker-start="url(#rdot)" marker-mid="url(#rdot)" marker-end="url(#rdot)"/>
<path d="M85.4 1697.3V2167.3H847" fill="none" stroke="#222" stroke-width="2"/>
<path d="M78.4 1814.4H85.4M78.4 1936.6H85.4M78.4 2058.8H85.4M172.8 2167.3V2173.3M319.4 2167.3V2173.3M465.9 2167.3V2173.3M612.5 2167.3V2173.3M759 2167.3V2173.3" stroke="#222" stroke-width="1.6"/>
<text class="ta tk" x="0" y="0" text-anchor="end" transform="translate(74.4 1818) scale(1 0.71)" font-size="14.5">1</text>
<text class="ta tk" x="0" y="0" text-anchor="end" transform="translate(74.4 1940.2) scale(1 0.71)" font-size="14.5">0</text>
<text class="ta tk" x="0" y="0" text-anchor="end" transform="translate(74.4 2062.4) scale(1 0.71)" font-size="14.5">−1</text>
<text class="ta tk" text-anchor="middle" transform="translate(172.8 2183.3) scale(1 0.71)" font-size="14.5">S1</text>
<text class="ta tk" text-anchor="middle" transform="translate(319.4 2183.3) scale(1 0.71)" font-size="14.5">S2</text>
<text class="ta tk" text-anchor="middle" transform="translate(465.9 2183.3) scale(1 0.71)" font-size="14.5">S3</text>
<text class="ta tk" text-anchor="middle" transform="translate(612.5 2183.3) scale(1 0.71)" font-size="14.5">S4</text>
<text class="ta tk" text-anchor="middle" transform="translate(759 2183.3) scale(1 0.71)" font-size="14.5">S5</text>
<text class="ta tk" text-anchor="middle" transform="translate(466.7 2196.8) scale(1 0.71)" font-size="17.9">Sample</text>
<text class="ta tk" text-anchor="middle" transform="translate(52.4 1932.3) scale(1 0.71) rotate(-90)" font-size="18.7">Expression (z−score)</text>
<text class="ta tk" text-anchor="middle" transform="translate(466.5 1692.2) scale(1 0.71)" font-size="20.4">metabolite Cluster 4(530)</text>
<path d="M172.8 2501.7L319.4 2527.1L465.9 2623.5L612.5 2295.4L759 2444.9M172.8 2532.1L319.4 2384.4L465.9 2648.1L612.5 2344.2L759 2483.6M172.8 2492L319.4 2631.2L465.9 2536.9L612.5 2309.5L759 2422.9M172.8 2613.2L319.4 2413.4L465.9 2588.6L612.5 2325.7L759 2451.7M172.8 2443.4L319.4 2636.8L465.9 2571.2L612.5 2356.9L759 2384.2M172.8 2538.8L319.4 2556.2L465.9 2432.1L612.5 2286.8L759 2578.5M172.8 2531.3L319.4 2547.8L465.9 2584.8L612.5 2281.9L759 2446.5M172.8 2509.3L319.4 2478.3L465.9 2587.4L612.5 2274.5L759 2543M172.8 2432.5L319.4 2469.9L465.9 2663L612.5 2330.2L759 2497M172.8 2633.8L319.4 2564.4L465.9 2410.3L612.5 2331L759 2453M172.8 2585.1L319.4 2537.4L465.9 2546.9L612.5 2285.1L759 2438M172.8 2440.8L319.4 2505.3L465.9 2561.6L612.5 2289.2L759 2595.6M172.8 2518.1L319.4 2614.8L465.9 2544L612.5 2308L759 2407.6M172.8 2574.9L319.4 2523.9L465.9 2586L612.5 2306L759 2401.8M172.8 2392.6L319.4 2600.8L465.9 2620L612.5 2375.8L759 2403.3M172.8 2445.8L319.4 2630.8L465.9 2500.1L612.5 2298.7L759 2517.2M172.8 2541.3L319.4 2530.8L465.9 2444.7L612.5 2283.8L759 2591.8M172.8 2464.6L319.4 2630.2L465.9 2535.4L612.5 2300L759 2462.4M172.8 2495.7L319.4 2581.1L465.9 2568.7L612.5 2279.8L759 2467.1M172.8 2610.3L319.4 2494L465.9 2519.8L612.5 2280.6L759 2487.7M172.8 2472L319.4 2632.7L465.9 2513.3L612.5 2295.3L759 2479.2M172.8 2606.1L319.4 2539.8L465.9 2541L612.5 2314L759 2391.6M172.8 2379L319.4 2575.1L465.9 2588L612.5 2321.1L759 2529.3M172.8 2683.3L319.4 2455.3L465.9 2444.5L612.5 2359.8L759 2449.6M172.8 2649.7L319.4 2426.9L465.9 2516.7L612.5 2319.9L759 2479.2M172.8 2586.7L319.4 2556.8L465.9 2527.5L612.5 2288L759 2433.4M172.8 2588.3L319.4 2476.8L465.9 2503.8L612.5 2275.8L759 2547.8M172.8 2555.3L319.4 2568.8L465.9 2467.1L612.5 2273.6L759 2527.6M172.8 2640.9L319.4 2502L465.9 2479.8L612.5 2300.9L759 2468.9M172.8 2648.7L319.4 2418.4L465.9 2528.1L612.5 2325.2L759 2472M172.8 2683.2L319.4 2464.4L465.9 2429.7L612.5 2362.7L759 2452.5M172.8 2422.3L319.4 2492.8L465.9 2670.5L612.5 2344L759 2462.9M172.8 2435.6L319.4 2668.5L465.9 2501.4L612.5 2340.3L759 2446.7M172.8 2496.7L319.4 2468.8L465.9 2615.9L612.5 2285.9L759 2525.1M172.8 2612.3L319.4 2362.2L465.9 2504.9L612.5 2343.7L759 2569.5M172.8 2539.3L319.4 2620.6L465.9 2516.2L612.5 2311.9L759 2404.5M172.8 2648.9L319.4 2562.4L465.9 2402.3L612.5 2369.3L759 2409.6M172.8 2360.9L319.4 2632.6L465.9 2520.7L612.5 2349.4L759 2528.9M172.8 2661.9L319.4 2443.7L465.9 2452.7L612.5 2329.1L759 2505.1M172.8 2588.6L319.4 2465.8L465.9 2578.4L612.5 2288.1L759 2471.6M172.8 2436.9L319.4 2566.6L465.9 2600.3L612.5 2294.2L759 2494.5M172.8 2504.6L319.4 2478L465.9 2618.6L612.5 2284.9L759 2506.4M172.8 2581.9L319.4 2489.8L465.9 2593.4L612.5 2299.7L759 2427.7M172.8 2607.1L319.4 2470.7L465.9 2555.1L612.5 2288.6L759 2471M172.8 2516.1L319.4 2536.2L465.9 2612.9L612.5 2295.2L759 2432.1M172.8 2377.5L319.4 2574.6L465.9 2641.4L612.5 2392.8L759 2406.3M172.8 2624L319.4 2428.8L465.9 2582.7L612.5 2333.5L759 2423.5M172.8 2665.8L319.4 2472.2L465.9 2443.8L612.5 2329.4L759 2481.3M172.8 2656L319.4 2456.7L465.9 2473.8L612.5 2315.9L759 2490.2M172.8 2506.4L319.4 2620L465.9 2395L612.5 2319.2L759 2552M172.8 2627.5L319.4 2512.9L465.9 2477.4L612.5 2291L759 2483.7M172.8 2460L319.4 2481.4L465.9 2640.1L612.5 2302L759 2509M172.8 2464.1L319.4 2410.7L465.9 2659.2L612.5 2339.1L759 2519.4M172.8 2608.5L319.4 2459.3L465.9 2474.4L612.5 2291.8L759 2558.5M172.8 2432.8L319.4 2634.5L465.9 2569L612.5 2334.5L759 2421.7M172.8 2562.7L319.4 2473.1L465.9 2528L612.5 2271.6L759 2557.1M172.8 2595.5L319.4 2551.2L465.9 2468.9L612.5 2280.6L759 2496.2M172.8 2544.9L319.4 2555.9L465.9 2478.2L612.5 2269.2L759 2544.3M172.8 2542.4L319.4 2515.5L465.9 2607.2L612.5 2292.3L759 2435.1M172.8 2487.9L319.4 2661.7L465.9 2448.1L612.5 2323.8L759 2471M172.8 2472.8L319.4 2488.6L465.9 2636.3L612.5 2296.5L759 2498.3M172.8 2650.3L319.4 2418L465.9 2558.5L612.5 2364L759 2401.6M172.8 2632.1L319.4 2523.3L465.9 2521.2L612.5 2325.6L759 2390.3M172.8 2552.7L319.4 2411.8L465.9 2647.5L612.5 2343L759 2437.5M172.8 2417.2L319.4 2579.9L465.9 2568.1L612.5 2295.1L759 2532.1M172.8 2540.2L319.4 2586.8L465.9 2385.7L612.5 2314.5L759 2565.3M172.8 2465.7L319.4 2573.1L465.9 2569.5L612.5 2277.6L759 2506.6M172.8 2633.1L319.4 2535.1L465.9 2414.1L612.5 2314.1L759 2496M172.8 2530.1L319.4 2666L465.9 2391.2L612.5 2374.2L759 2430.9M172.8 2538.3L319.4 2493.1L465.9 2606.2L612.5 2282.4L759 2472.4M172.8 2500.5L319.4 2445.2L465.9 2668.2L612.5 2338.9L759 2439.7M172.8 2493L319.4 2407.8L465.9 2671.9L612.5 2352.7L759 2467.1M172.8 2544.3L319.4 2615.4L465.9 2370.2L612.5 2333.1L759 2529.7M172.8 2569.1L319.4 2458.8L465.9 2628.6L612.5 2329.3L759 2406.7M172.8 2661.6L319.4 2466.7L465.9 2501L612.5 2328.6L759 2434.7M172.8 2470.2L319.4 2542L465.9 2602.7L612.5 2281.7L759 2495.9M172.8 2471.8L319.4 2651.4L465.9 2388.7L612.5 2346.3L759 2534.2M172.8 2630.6L319.4 2499.4L465.9 2475.3L612.5 2292.2L759 2495M172.8 2545.7L319.4 2525L465.9 2443.7L612.5 2284.8L759 2593.3M172.8 2525.2L319.4 2637.4L465.9 2511L612.5 2330L759 2388.9M172.8 2482L319.4 2584.7L465.9 2590L612.5 2295.8L759 2440.1M172.8 2564.5L319.4 2403.9L465.9 2593.3L612.5 2304.8L759 2526.1M172.8 2561.5L319.4 2568.5L465.9 2556.5L612.5 2298.3L759 2407.7M172.8 2467.3L319.4 2662.2L465.9 2392.4L612.5 2353L759 2517.7M172.8 2522.4L319.4 2634L465.9 2469.4L612.5 2298.9L759 2467.8M172.8 2368L319.4 2617.1L465.9 2470.5L612.5 2352.5L759 2584.3M172.8 2550.9L319.4 2502.4L465.9 2622.3L612.5 2318.1L759 2398.8M172.8 2637.7L319.4 2451L465.9 2509.1L612.5 2301.5L759 2493.2M172.8 2640.8L319.4 2528.1L465.9 2485L612.5 2315.1L759 2423.5M172.8 2366L319.4 2663.8L465.9 2427.4L612.5 2401.6L759 2533.6M172.8 2567.8L319.4 2420.5L465.9 2594.6L612.5 2297.8L759 2511.7M172.8 2584.7L319.4 2535.6L465.9 2554.7L612.5 2289.7L759 2427.8M172.8 2645.5L319.4 2496.8L465.9 2521.4L612.5 2329.3L759 2399.4M172.8 2570.3L319.4 2413.1L465.9 2536.8L612.5 2296.7L759 2575.5M172.8 2550.7L319.4 2496L465.9 2456.4L612.5 2286.2L759 2603.3M172.8 2486.3L319.4 2503L465.9 2648.2L612.5 2311.5L759 2443.5M172.8 2518.2L319.4 2505.6L465.9 2543.8L612.5 2265.4L759 2559.6M172.8 2496L319.4 2522.8L465.9 2624.4L612.5 2292.6L759 2456.7M172.8 2611.5L319.4 2458.9L465.9 2548.5L612.5 2289.9L759 2483.8M172.8 2523.6L319.4 2495L465.9 2507.3L612.5 2273.1L759 2593.5M172.8 2417.1L319.4 2498.4L465.9 2525.1L612.5 2314.4L759 2637.5M172.8 2654.3L319.4 2413.4L465.9 2537.9L612.5 2341.4L759 2445.5M172.8 2640.1L319.4 2514.8L465.9 2377.3L612.5 2340.2L759 2520.2M172.8 2627.4L319.4 2559.7L465.9 2468L612.5 2315.9L759 2421.5M172.8 2524.5L319.4 2652.9L465.9 2427.3L612.5 2326.4L759 2461.4M172.8 2638.2L319.4 2570.9L465.9 2438.9L612.5 2358.6L759 2385.9M172.8 2525.2L319.4 2569.4L465.9 2561.5L612.5 2276.3L759 2460.1M172.8 2464.6L319.4 2520L465.9 2633.1L612.5 2297.5L759 2477.2M172.8 2611.5L319.4 2384.1L465.9 2606.3L612.5 2365.5L759 2425M172.8 2664.6L319.4 2472.2L465.9 2505.6L612.5 2345.4L759 2404.7M172.8 2460L319.4 2522.4L465.9 2660.1L612.5 2344.4L759 2405.5M172.8 2379.7L319.4 2638.7L465.9 2572.9L612.5 2368.3L759 2432.9M172.8 2570.4L319.4 2490.3L465.9 2605.9L612.5 2303.6L759 2422.3M172.8 2609.9L319.4 2608.7L465.9 2378.7L612.5 2372.3L759 2422.8M172.8 2623.6L319.4 2503.4L465.9 2535.1L612.5 2301.9L759 2428.5M172.8 2539.1L319.4 2472.8L465.9 2527.6L612.5 2273.1L759 2579.8M172.8 2560.7L319.4 2454.9L465.9 2561.9L612.5 2276.7L759 2538.3M172.8 2633.1L319.4 2542.5L465.9 2407.3L612.5 2319.3L759 2490.3M172.8 2567.5L319.4 2537L465.9 2559.6L612.5 2279.1L759 2449.3M172.8 2619.8L319.4 2499.7L465.9 2472L612.5 2286.6L759 2514.3M172.8 2449.1L319.4 2575.6L465.9 2624.9L612.5 2327.2L759 2415.7M172.8 2506.4L319.4 2602.9L465.9 2565.2L612.5 2303.1L759 2415M172.8 2600L319.4 2537.7L465.9 2536L612.5 2293.8L759 2424.9M172.8 2540.7L319.4 2603.8L465.9 2401.7L612.5 2307L759 2539.3M172.8 2506.6L319.4 2582.2L465.9 2490.8L612.5 2271.4L759 2541.5M172.8 2537.8L319.4 2605.4L465.9 2511.1L612.5 2285.6L759 2452.6M172.8 2572.1L319.4 2633.4L465.9 2449L612.5 2347L759 2391M172.8 2682.9L319.4 2446.4L465.9 2483.4L612.5 2391.7L759 2388.1M172.8 2510.4L319.4 2595.6L465.9 2499.1L612.5 2273.2L759 2514.1M172.8 2535.7L319.4 2472.3L465.9 2611.3L612.5 2284.8L759 2488.4M172.8 2563.5L319.4 2496.4L465.9 2581.7L612.5 2277.7L759 2473.2M172.8 2582.2L319.4 2444.7L465.9 2623.5L612.5 2335.4L759 2406.8M172.8 2571.6L319.4 2611.4L465.9 2470L612.5 2304.5L759 2435M172.8 2548.3L319.4 2612.8L465.9 2500L612.5 2295.9L759 2435.5M172.8 2472.5L319.4 2561.1L465.9 2628.1L612.5 2322.1L759 2408.6M172.8 2391.8L319.4 2505.8L465.9 2554.3L612.5 2321.3L759 2619.3M172.8 2656.9L319.4 2499L465.9 2450L612.5 2319.2L759 2467.3M172.8 2600.7L319.4 2608.3L465.9 2430L612.5 2333.4L759 2420.2M172.8 2570.6L319.4 2598.6L465.9 2415.5L612.5 2302.5L759 2505.2M172.8 2560.8L319.4 2500.4L465.9 2534.1L612.5 2265.5L759 2531.7M172.8 2614.6L319.4 2434L465.9 2572.6L612.5 2308.3L759 2463M172.8 2532.3L319.4 2441.3L465.9 2613.6L612.5 2291.9L759 2513.5M172.8 2640.1L319.4 2464.3L465.9 2548.3L612.5 2326.3L759 2413.6M172.8 2617.1L319.4 2590.9L465.9 2415.1L612.5 2334.2L759 2435.2M172.8 2436.7L319.4 2656.8L465.9 2537.6L612.5 2345.9L759 2415.5M172.8 2585.4L319.4 2505.9L465.9 2586L612.5 2304.7L759 2410.4M172.8 2455.4L319.4 2626L465.9 2536.5L612.5 2297.1L759 2477.6M172.8 2546.8L319.4 2548.9L465.9 2552.2L612.5 2269.9L759 2474.7M172.8 2529.4L319.4 2541.2L465.9 2542.8L612.5 2262.9L759 2516.2M172.8 2606.7L319.4 2565.1L465.9 2492.9L612.5 2300L759 2427.8M172.8 2665.6L319.4 2456.4L465.9 2519.3L612.5 2364.4L759 2386.9M172.8 2537.2L319.4 2525.8L465.9 2603.8L612.5 2290.5L759 2435.3M172.8 2433.3L319.4 2482.1L465.9 2668L612.5 2335.1L759 2473.9M172.8 2651L319.4 2490.7L465.9 2517.1L612.5 2333.2L759 2400.5M172.8 2467.2L319.4 2497.8L465.9 2486.5L612.5 2300.4L759 2640.6M172.8 2366.3L319.4 2564.4L465.9 2632.9L612.5 2357.2L759 2471.8M172.8 2603.4L319.4 2480.2L465.9 2588.6L612.5 2322.5L759 2397.7M172.8 2663.8L319.4 2498.8L465.9 2436.2L612.5 2331L759 2462.6M172.8 2553.8L319.4 2564.7L465.9 2547.1L612.5 2278.9L759 2448.1M172.8 2544L319.4 2555.6L465.9 2371L612.5 2326.5L759 2595.4M172.8 2612L319.4 2436.6L465.9 2578L612.5 2309.4L759 2456.5M172.8 2569.5L319.4 2619.4L465.9 2404.3L612.5 2320.7L759 2478.6M172.8 2562.3L319.4 2544.4L465.9 2508L612.5 2265.9L759 2511.9M172.8 2436.9L319.4 2613.2L465.9 2562.5L612.5 2300.7L759 2479.1M172.8 2498.6L319.4 2466.1L465.9 2649.8L612.5 2309.5L759 2468.4M172.8 2614.1L319.4 2459.7L465.9 2476.9L612.5 2292.1L759 2549.6M172.8 2607.3L319.4 2568L465.9 2425L612.5 2302.5L759 2489.6M172.8 2586L319.4 2512.8L465.9 2536.9L612.5 2272.6L759 2484.2M172.8 2623.8L319.4 2585.7L465.9 2444.8L612.5 2348.2L759 2390M172.8 2546.5L319.4 2396.8L465.9 2563L612.5 2306L759 2580.3M172.8 2472.4L319.4 2557.5L465.9 2635.6L612.5 2339.7L759 2387.2M172.8 2590.7L319.4 2511.3L465.9 2580.6L612.5 2310.7L759 2399.1M172.8 2558.6L319.4 2592.7L465.9 2496.5L612.5 2282.2L759 2462.6M172.8 2462.6L319.4 2665.9L465.9 2507.6L612.5 2344.7L759 2411.8M172.8 2667.3L319.4 2495L465.9 2430.3L612.5 2336.8L759 2463.1M172.8 2526.4L319.4 2486.4L465.9 2616.2L612.5 2285.5L759 2478M172.8 2632.8L319.4 2459.9L465.9 2554.3L612.5 2316.7L759 2428.8M172.8 2518.6L319.4 2598L465.9 2565L612.5 2305.9L759 2405.1M172.8 2548L319.4 2433.1L465.9 2655.6L612.5 2372.8L759 2383M172.8 2630L319.4 2568.6L465.9 2462.3L612.5 2335.3L759 2396.4M172.8 2480.4L319.4 2633.7L465.9 2491.3L612.5 2293.9L759 2493.3M172.8 2650.2L319.4 2486.3L465.9 2515.5L612.5 2324.2L759 2416.3M172.8 2475.5L319.4 2525.3L465.9 2608.4L612.5 2281.2L759 2502.1M172.8 2613.7L319.4 2474.1L465.9 2552.5L612.5 2292.9L759 2459.4M172.8 2636L319.4 2401.2L465.9 2569.2L612.5 2343.4L759 2442.6M172.8 2626.9L319.4 2502.3L465.9 2530.4L612.5 2302.6L759 2430.3M172.8 2542L319.4 2621L465.9 2476L612.5 2294.6L759 2458.9M172.8 2593L319.4 2495.3L465.9 2577.8L612.5 2297.2L759 2429.2M172.8 2567.9L319.4 2623.1L465.9 2448.5L612.5 2313.5L759 2439.5M172.8 2569.9L319.4 2602.1L465.9 2510L612.5 2312.9L759 2397.7M172.8 2579.6L319.4 2438.1L465.9 2548.7L612.5 2284.2L759 2541.9M172.8 2628.8L319.4 2494.3L465.9 2546.7L612.5 2318.9L759 2403.8M172.8 2488.5L319.4 2573.3L465.9 2448.9L612.5 2289.6L759 2592.2M172.8 2472.4L319.4 2656.1L465.9 2524L612.5 2343.6L759 2396.4M172.8 2645.1L319.4 2475.5L465.9 2485.4L612.5 2303.2L759 2483.3M172.8 2511.3L319.4 2533.7L465.9 2603.9L612.5 2282.5L759 2461M172.8 2552L319.4 2621.6L465.9 2464.9L612.5 2299.9L759 2454.1M172.8 2529.6L319.4 2496.5L465.9 2581.4L612.5 2269.5L759 2515.4M172.8 2509.2L319.4 2566.2L465.9 2582.9L612.5 2282.8L759 2451.5M172.8 2631.8L319.4 2537.8L465.9 2417.1L612.5 2312.5L759 2493.2M172.8 2556.8L319.4 2616.2L465.9 2508.8L612.5 2322L759 2388.7M172.8 2518.8L319.4 2438.4L465.9 2614.7L612.5 2293.1L759 2527.5M172.8 2493.2L319.4 2617.2L465.9 2460.3L612.5 2289.2L759 2532.7M172.8 2646.1L319.4 2440.2L465.9 2532.3L612.5 2318.6L759 2455.3M172.8 2447.2L319.4 2553.3L465.9 2633.5L612.5 2315L759 2443.5M172.8 2673.3L319.4 2520L465.9 2394.2L612.5 2413.3L759 2391.7M172.8 2666L319.4 2379.4L465.9 2457.4L612.5 2371.1L759 2518.6M172.8 2581.1L319.4 2520.1L465.9 2557.3L612.5 2279.8L759 2454.2M172.8 2476.6L319.4 2655.4L465.9 2383.2L612.5 2352L759 2525.3M172.8 2633.8L319.4 2551.5L465.9 2424L612.5 2317.3L759 2465.7M172.8 2531.9L319.4 2533.6L465.9 2610.8L612.5 2302.5L759 2413.6M172.8 2592.5L319.4 2409.7L465.9 2616.3L612.5 2336.4L759 2437.7M172.8 2576.9L319.4 2485L465.9 2585.5L612.5 2286.1L759 2459M172.8 2470L319.4 2482.2L465.9 2582.3L612.5 2282.7L759 2575.2M172.8 2571.4L319.4 2608.3L465.9 2426.6L612.5 2304.2L759 2482M172.8 2520.5L319.4 2360.7L465.9 2664L612.5 2388.3L759 2459.1M172.8 2560.5L319.4 2616.2L465.9 2471.3L612.5 2300.7L759 2443.9M172.8 2553L319.4 2418.2L465.9 2602.3L612.5 2298.7L759 2520.3M172.8 2660.2L319.4 2546.1L465.9 2395.1L612.5 2407.2L759 2384M172.8 2560.6L319.4 2618.3L465.9 2385.3L612.5 2326.6L759 2501.7M172.8 2609.2L319.4 2447.5L465.9 2496.7L612.5 2290.6L759 2548.4M172.8 2572.3L319.4 2466.3L465.9 2518.5L612.5 2275.2L759 2560.2M172.8 2584.6L319.4 2477.2L465.9 2598.5L612.5 2304.4L759 2427.8M172.8 2571.3L319.4 2513.9L465.9 2601.3L612.5 2320.4L759 2385.6M172.8 2610.2L319.4 2561L465.9 2510L612.5 2315.4L759 2395.9M172.8 2420.2L319.4 2496.6L465.9 2557.5L612.5 2304.5L759 2613.8M172.8 2566.1L319.4 2541.4L465.9 2549.6L612.5 2274.6L759 2460.8M172.8 2566L319.4 2451.7L465.9 2573.4L612.5 2280.1L759 2521.2M172.8 2522.6L319.4 2546.8L465.9 2499.4L612.5 2265.8L759 2557.8M172.8 2649.6L319.4 2513.9L465.9 2443.2L612.5 2315L759 2470.9M172.8 2580.7L319.4 2503.3L465.9 2440.5L612.5 2288.9L759 2579.1M172.8 2565.7L319.4 2426.4L465.9 2596.9L612.5 2295.8L759 2507.7M172.8 2625.2L319.4 2401.6L465.9 2559.8L612.5 2322L759 2484M172.8 2587.4L319.4 2439.2L465.9 2610.4L612.5 2316.7L759 2438.9M172.8 2615.4L319.4 2473.7L465.9 2484.2L612.5 2286.6L759 2532.7M172.8 2609.7L319.4 2542.1L465.9 2512.6L612.5 2293.6L759 2434.4M172.8 2554L319.4 2563.5L465.9 2577.2L612.5 2314.9L759 2382.9M172.8 2464.6L319.4 2573.2L465.9 2602.1L612.5 2295L759 2457.6M172.8 2568.9L319.4 2469.4L465.9 2557.2L612.5 2273.4L759 2523.7M172.8 2607.6L319.4 2475.5L465.9 2429.9L612.5 2304.6L759 2574.9M172.8 2619.8L319.4 2541.9L465.9 2419.6L612.5 2304.4L759 2506.7M172.8 2660.7L319.4 2393.7L465.9 2525.1L612.5 2353.5L759 2459.5M172.8 2614.1L319.4 2464.4L465.9 2551L612.5 2292.3L759 2470.7M172.8 2505.5L319.4 2550.6L465.9 2598.7L612.5 2284.8L759 2452.9M172.8 2391.4L319.4 2588.7L465.9 2563.6L612.5 2310.9L759 2537.8M172.8 2613.1L319.4 2608.2L465.9 2398.8L612.5 2374.9L759 2397.5M172.8 2370.5L319.4 2593.6L465.9 2521.8L612.5 2329.8L759 2576.8M172.8 2615.6L319.4 2577.2L465.9 2420.8L612.5 2315.8L759 2463.1M172.8 2507.3L319.4 2598.4L465.9 2570.2L612.5 2303.4L759 2413.2M172.8 2644.4L319.4 2521.2L465.9 2474.2L612.5 2311.8L759 2440.9M172.8 2557.3L319.4 2382.8L465.9 2532.7L612.5 2319.2L759 2600.5M172.8 2540.5L319.4 2437.1L465.9 2649.6L612.5 2330.9L759 2434.4M172.8 2461.7L319.4 2606.3L465.9 2519.5L612.5 2282.7L759 2522.3M172.8 2543.9L319.4 2528.7L465.9 2547.8L612.5 2263.8L759 2508.3M172.8 2404.6L319.4 2595.5L465.9 2563.6L612.5 2304.9L759 2523.9M172.8 2612.7L319.4 2507L465.9 2493.9L612.5 2280.7L759 2498.3M172.8 2549.3L319.4 2646.6L465.9 2434.7L612.5 2334.3L759 2427.7M172.8 2491.7L319.4 2587.5L465.9 2594.3L612.5 2310.6L759 2408.5M172.8 2396L319.4 2611.3L465.9 2515.2L612.5 2314.6L759 2555.4M172.8 2543.2L319.4 2566.7L465.9 2530.5L612.5 2269.1L759 2483M172.8 2459.3L319.4 2634.2L465.9 2493.2L612.5 2297.3L759 2508.5M172.8 2560.7L319.4 2407.9L465.9 2626.1L612.5 2320.3L759 2477.6M172.8 2534.4L319.4 2465.4L465.9 2645L612.5 2320.8L759 2426.8M172.8 2551.3L319.4 2472.9L465.9 2621.7L612.5 2300.5L759 2446.2M172.8 2611.9L319.4 2471.2L465.9 2572.7L612.5 2306.8L759 2429.9M172.8 2449.8L319.4 2442.9L465.9 2673.4L612.5 2342.7L759 2483.8M172.8 2572L319.4 2431L465.9 2557.5L612.5 2286.5L759 2545.5M172.8 2584.3L319.4 2503.9L465.9 2439.9L612.5 2289.1L759 2575.4M172.8 2654.2L319.4 2468.3L465.9 2414.5L612.5 2332L759 2523.5M172.8 2513.7L319.4 2569.5L465.9 2469.7L612.5 2274.7L759 2564.8M172.8 2600.4L319.4 2534.3L465.9 2540.4L612.5 2295.3L759 2422.1M172.8 2533L319.4 2465.9L465.9 2649.5L612.5 2330L759 2414.1M172.8 2445.2L319.4 2572.3L465.9 2548.8L612.5 2280.5L759 2545.8M172.8 2592.8L319.4 2464.9L465.9 2538.3L612.5 2278.1L759 2518.4M172.8 2366.7L319.4 2586L465.9 2532.3L612.5 2330.5L759 2577M172.8 2513L319.4 2446.1L465.9 2669.9L612.5 2359.5L759 2404M172.8 2544.1L319.4 2441.8L465.9 2624.6L612.5 2300.8L759 2481.1M172.8 2684.7L319.4 2447.5L465.9 2464.1L612.5 2366.8L759 2429.4M172.8 2530.4L319.4 2511.4L465.9 2467.9L612.5 2280.3L759 2602.5M172.8 2604.1L319.4 2397.1L465.9 2569.9L612.5 2314.2L759 2507.3M172.8 2588.4L319.4 2499.9L465.9 2444.1L612.5 2288.4L759 2571.8M172.8 2535L319.4 2548.3L465.9 2541.6L612.5 2264.3L759 2503.4M172.8 2533L319.4 2550.3L465.9 2568.9L612.5 2273.2L759 2467.1M172.8 2416.9L319.4 2610.7L465.9 2552.2L612.5 2302.8L759 2509.8M172.8 2451.5L319.4 2636.3L465.9 2562.5L612.5 2333.4L759 2408.9M172.8 2514.6L319.4 2475.6L465.9 2580.7L612.5 2273.6L759 2548.1M172.8 2514.2L319.4 2535.8L465.9 2627.3L612.5 2321.3L759 2393.9M172.8 2490.3L319.4 2544L465.9 2587.2L612.5 2273.7L759 2497.4M172.8 2628.6L319.4 2390.5L465.9 2580.4L612.5 2349.3L759 2443.7M172.8 2494.5L319.4 2493.7L465.9 2649.6L612.5 2312.8L759 2441.9M172.8 2591.8L319.4 2440.2L465.9 2525.8L612.5 2285.9L759 2548.8M172.8 2578.8L319.4 2558.4L465.9 2473.5L612.5 2275.3L759 2506.5M172.8 2531.2L319.4 2575.2L465.9 2547.4L612.5 2274.8L759 2463.9M172.8 2506.2L319.4 2601.5L465.9 2482.5L612.5 2277.3L759 2525M172.8 2619.1L319.4 2508.8L465.9 2441.1L612.5 2294.4L759 2529.2M172.8 2527.5L319.4 2507.1L465.9 2636.4L612.5 2324.1L759 2397.3M172.8 2426.6L319.4 2619.6L465.9 2411.2L612.5 2342.6L759 2592.4M172.8 2455.4L319.4 2486.6L465.9 2617.6L612.5 2292.1L759 2540.8M172.8 2603.4L319.4 2608.1L465.9 2366.1L612.5 2365.9L759 2448.9M172.8 2502.6L319.4 2405.7L465.9 2473.6L612.5 2345.3L759 2665.4M172.8 2625.3L319.4 2580.1L465.9 2451.3L612.5 2340.6L759 2395.2M172.8 2516L319.4 2506.9L465.9 2613.7L612.5 2283.5L759 2472.4M172.8 2531.7L319.4 2558.4L465.9 2596.3L612.5 2308.3L759 2397.8M172.8 2608.1L319.4 2512.6L465.9 2475.2L612.5 2280.6L759 2516M172.8 2465L319.4 2543L465.9 2508.7L612.5 2279.7L759 2596M172.8 2573.3L319.4 2415.6L465.9 2575.5L612.5 2295.9L759 2532.2M172.8 2572.8L319.4 2550.8L465.9 2518.9L612.5 2271.6L759 2478.4M172.8 2493.6L319.4 2658.3L465.9 2380.1L612.5 2353.9L759 2506.5M172.8 2456.2L319.4 2653L465.9 2394.2L612.5 2349.2L759 2539.9M172.8 2570.7L319.4 2644.3L465.9 2379.6L612.5 2407.4L759 2390.5M172.8 2400.8L319.4 2604.5L465.9 2599.5L612.5 2331.8L759 2455.9" fill="none" stroke="#a5a5c7" stroke-width="1.4" stroke-linejoin="round" marker-start="url(#dot)" marker-mid="url(#dot)" marker-end="url(#dot)"/>
<path d="M172.8 2548.7L319.4 2530.5L465.9 2530.5L612.5 2301.8L759 2483.3" fill="none" stroke="#ff3b3b" stroke-width="2" marker-start="url(#rdot)" marker-mid="url(#rdot)" marker-end="url(#rdot)"/>
<path d="M85.4 2242.3V2711.8H847" fill="none" stroke="#222" stroke-width="2"/>
<path d="M78.4 2357.5H85.4M78.4 2478.5H85.4M78.4 2599.5H85.4M172.8 2711.8V2717.8M319.4 2711.8V2717.8M465.9 2711.8V2717.8M612.5 2711.8V2717.8M759 2711.8V2717.8" stroke="#222" stroke-width="1.6"/>
<text class="ta tk" x="0" y="0" text-anchor="end" transform="translate(74.4 2361.1) scale(1 0.71)" font-size="14.5">1</text>
<text class="ta tk" x="0" y="0" text-anchor="end" transform="translate(74.4 2482.1) scale(1 0.71)" font-size="14.5">0</text>
<text class="ta tk" x="0" y="0" text-anchor="end" transform="translate(74.4 2603.1) scale(1 0.71)" font-size="14.5">−1</text>
<text class="ta tk" text-anchor="middle" transform="translate(172.8 2727.8) scale(1 0.71)" font-size="14.5">S1</text>
<text class="ta tk" text-anchor="middle" transform="translate(319.4 2727.8) scale(1 0.71)" font-size="14.5">S2</text>
<text class="ta tk" text-anchor="middle" transform="translate(465.9 2727.8) scale(1 0.71)" font-size="14.5">S3</text>
<text class="ta tk" text-anchor="middle" transform="translate(612.5 2727.8) scale(1 0.71)" font-size="14.5">S4</text>
<text class="ta tk" text-anchor="middle" transform="translate(759 2727.8) scale(1 0.71)" font-size="14.5">S5</text>
<text class="ta tk" text-anchor="middle" transform="translate(466.7 2741.3) scale(1 0.71)" font-size="17.9">Sample</text>
<text class="ta tk" text-anchor="middle" transform="translate(52.4 2477.1) scale(1 0.71) rotate(-90)" font-size="18.7">Expression (z−score)</text>
<text class="ta tk" text-anchor="middle" transform="translate(466.5 2237.2) scale(1 0.71)" font-size="20.4">metabolite Cluster 5(311)</text>
<path d="M147.4 3091.4L293.9 3013.3L440.3 2814L586.8 3094.3L733.2 3115.1M147.4 3044L293.9 3147.9L440.3 2834.8L586.8 2983.4L733.2 3117.9M147.4 2985.7L293.9 3142.9L440.3 2829.5L586.8 3060.8L733.2 3109M147.4 2993.5L293.9 2988.7L440.3 2872.6L586.8 3212.6L733.2 3060.6M147.4 3130.8L293.9 2986.4L440.3 2831.7L586.8 3046.9L733.2 3132.1M147.4 3050.8L293.9 3009.2L440.3 2822.1L586.8 3104L733.2 3141.9M147.4 3148.4L293.9 2938.8L440.3 2852.6L586.8 3087.6L733.2 3100.6M147.4 3127.2L293.9 2932.4L440.3 2853.7L586.8 3113.9L733.2 3100.7M147.4 3193.3L293.9 3006.1L440.3 2905.5L586.8 3108.2L733.2 2914.9M147.4 3061L293.9 3051.9L440.3 2822.8L586.8 3029.2L733.2 3163.1M147.4 2975.2L293.9 3113.6L440.3 2834.8L586.8 3060L733.2 3144.4M147.4 3088L293.9 3111.8L440.3 2808.9L586.8 3086.2L733.2 3033.1M147.4 3037.8L293.9 3091.5L440.3 2808.5L586.8 3075.8L733.2 3114.3M147.4 3154.8L293.9 2967.8L440.3 2838.5L586.8 3072L733.2 3094.9M147.4 3098.8L293.9 2947.1L440.3 2931.4L586.8 2940L733.2 3210.7M147.4 3078L293.9 3024.5L440.3 2818.8L586.8 3150.2L733.2 3056.5M147.4 2950.3L293.9 3174.2L440.3 2856.8L586.8 3048.7L733.2 3098M147.4 3100.1L293.9 3012.4L440.3 2821.2L586.8 3143.2L733.2 3051.2M147.4 3070.4L293.9 3066.9L440.3 2818L586.8 3023.9L733.2 3148.8M147.4 2959.1L293.9 3106.4L440.3 2866.5L586.8 3185.3L733.2 3010.7M147.4 3163.3L293.9 2984.7L440.3 2835.7L586.8 3050.2L733.2 3094.2M147.4 3072.3L293.9 2967.7L440.3 2840.6L586.8 3162.2L733.2 3085.3M147.4 2998.6L293.9 3114.4L440.3 2829.8L586.8 3037.7L733.2 3147.6M147.4 3118.2L293.9 3001.3L440.3 2817.9L586.8 3096L733.2 3094.5M147.4 3078.9L293.9 3014.5L440.3 2905.8L586.8 3208.7L733.2 2920.1M147.4 2949.8L293.9 3129.7L440.3 2877L586.8 3175.5L733.2 2995.9M147.4 3124.3L293.9 3006.1L440.3 2817.7L586.8 3103.7L733.2 3076.2M147.4 3084L293.9 3047.6L440.3 2836.6L586.8 2989L733.2 3170.7M147.4 3037.8L293.9 3166.5L440.3 2847L586.8 3108.3L733.2 2968.4M147.4 3004.4L293.9 3030L440.3 2830.1L586.8 3151.6L733.2 3111.9M147.4 3186.6L293.9 2957.8L440.3 2865.3L586.8 3101.1L733.2 3017.2M147.4 3043.5L293.9 3094.9L440.3 2882.1L586.8 2922L733.2 3185.5M147.4 3000.1L293.9 3079.7L440.3 2822.5L586.8 3081.8L733.2 3144M147.4 3071.9L293.9 2942L440.3 2854.4L586.8 3160L733.2 3099.7M147.4 3100.8L293.9 2950.6L440.3 2843.3L586.8 3137.7L733.2 3095.7M147.4 3143.4L293.9 2964.2L440.3 2837.3L586.8 3101.9L733.2 3081.2M147.4 3040.2L293.9 2984.1L440.3 2847.5L586.8 3067.6L733.2 3188.6M147.4 3027.8L293.9 3138L440.3 2819L586.8 3106.5L733.2 3036.7M147.4 3128.4L293.9 3003.4L440.3 2819.5L586.8 3105.1L733.2 3071.6M147.4 2978.9L293.9 3142.5L440.3 2859.1L586.8 3156.8L733.2 2990.6M147.4 3077.2L293.9 2978.3L440.3 2846.2L586.8 3044L733.2 3182.4M147.4 3073.1L293.9 3086.9L440.3 2803.5L586.8 3093L733.2 3071.5M147.4 3115.3L293.9 3000.9L440.3 2822.5L586.8 3058.8L733.2 3130.5M147.4 3070.3L293.9 3095.9L440.3 2804.2L586.8 3064.7L733.2 3092.9M147.4 3115L293.9 3080L440.3 2841.1L586.8 2955.9L733.2 3135.9M147.4 2975.8L293.9 3070.2L440.3 2837.4L586.8 3163.5L733.2 3081.1M147.4 3045.4L293.9 3031.3L440.3 2829.8L586.8 3176.8L733.2 3044.7M147.4 3097.8L293.9 2934.4L440.3 2852.4L586.8 3124.5L733.2 3118.9M147.4 3100.8L293.9 3019.1L440.3 2814.1L586.8 3123.5L733.2 3070.4M147.4 3027.8L293.9 3177.7L440.3 2872.1L586.8 2937.8L733.2 3112.7M147.4 3107.9L293.9 2960.6L440.3 2854.7L586.8 3173.1L733.2 3031.8M147.4 3193.2L293.9 3012.6L440.3 2848.9L586.8 3002.9L733.2 3070.4M147.4 3179.8L293.9 2983.3L440.3 2855.7L586.8 3000.4L733.2 3108.7M147.4 3061.2L293.9 3143.9L440.3 2884.9L586.8 2903.2L733.2 3134.9M147.4 3055.5L293.9 3068.9L440.3 2809.9L586.8 3132.7L733.2 3061M147.4 3026.6L293.9 3035.1L440.3 2819.1L586.8 3118.7L733.2 3128.5M147.4 3109.5L293.9 2933L440.3 2856.1L586.8 3144.8L733.2 3084.5M147.4 2937.7L293.9 3147.1L440.3 2875.2L586.8 3154.9L733.2 3013M147.4 3099.1L293.9 2969.2L440.3 2832.7L586.8 3133.1L733.2 3093.9M147.4 2972.7L293.9 3112.6L440.3 2860.4L586.8 3002.3L733.2 3179.9M147.4 3098.7L293.9 2956L440.3 2847.3L586.8 3161.7L733.2 3064.3M147.4 3031.9L293.9 3095.3L440.3 2811.9L586.8 3063.3L733.2 3125.6M147.4 3100.6L293.9 3020.5L440.3 2823.5L586.8 3149.9L733.2 3033.5M147.4 3051.4L293.9 3156.9L440.3 2829.2L586.8 3094.1L733.2 2996.4M147.4 3056.8L293.9 3086.1L440.3 2839.4L586.8 2977.4L733.2 3168.3M147.4 3114L293.9 3004.4L440.3 2830.8L586.8 3151.2L733.2 3027.6M147.4 3036L293.9 3030.2L440.3 2818.1L586.8 3109.9L733.2 3133.9M147.4 2938.8L293.9 3203.7L440.3 2908.2L586.8 2973L733.2 3104.3M147.4 2987.4L293.9 3124.5L440.3 2844.7L586.8 3012.1L733.2 3159.2M147.4 3132.7L293.9 2944.4L440.3 2855.7L586.8 3049L733.2 3146.2M147.4 2961.9L293.9 3091.4L440.3 2836.4L586.8 3107.3L733.2 3131.1M147.4 3078.8L293.9 3067.8L440.3 2810L586.8 3128.7L733.2 3042.7M147.4 2968.1L293.9 3067.3L440.3 2842.7L586.8 3168.4L733.2 3081.5M147.4 3170.8L293.9 2991.5L440.3 2836L586.8 3083.8L733.2 3046M147.4 3164.7L293.9 2965.8L440.3 2844L586.8 3056L733.2 3097.4M147.4 3180.9L293.9 2944.8L440.3 2929.6L586.8 2931.7L733.2 3141M147.4 3135.5L293.9 2975.7L440.3 2833.5L586.8 3061.9L733.2 3121.5M147.4 3136.3L293.9 2974.8L440.3 2848.8L586.8 3016.7L733.2 3151.4M147.4 3072.6L293.9 3131.6L440.3 2844.2L586.8 2952.5L733.2 3127.1M147.4 3002.6L293.9 3187L440.3 2842.6L586.8 3026.6L733.2 3069.3M147.4 3052.7L293.9 2937.5L440.3 2898.9L586.8 3219L733.2 3019.9M147.4 3008.8L293.9 3201.2L440.3 2859.3L586.8 2989.2L733.2 3069.5M147.4 3142.8L293.9 3014L440.3 2822.8L586.8 3108.1L733.2 3040.2M147.4 3119.7L293.9 2945.2L440.3 2848.9L586.8 3074.2L733.2 3140M147.4 3027.2L293.9 3059.2L440.3 2816.8L586.8 3079.3L733.2 3145.5M147.4 3126.6L293.9 3035.1L440.3 2876.2L586.8 2925.5L733.2 3164.7M147.4 3091.7L293.9 3081.1L440.3 2840.7L586.8 2961.5L733.2 3153.1M147.4 3090.9L293.9 3082.3L440.3 2805.1L586.8 3097.6L733.2 3052M147.4 3081.9L293.9 3074.5L440.3 2804.1L586.8 3066.1L733.2 3101.4M147.4 3155.3L293.9 3015.5L440.3 2839.9L586.8 3123.4L733.2 2993.9M147.4 2963.4L293.9 3132.8L440.3 2837.7L586.8 3120.6L733.2 3073.5M147.4 3135.1L293.9 3052.2L440.3 2810.8L586.8 3069.5L733.2 3060.4M147.4 3074.6L293.9 2939.8L440.3 2866.6L586.8 3185.8L733.2 3061.2M147.4 3069.1L293.9 3042.6L440.3 2823.5L586.8 3029.4L733.2 3163.3M147.4 3101.2L293.9 2972.4L440.3 2840.5L586.8 3052.3L733.2 3161.6M147.4 3084L293.9 2949.1L440.3 2853.5L586.8 3170.9L733.2 3070.5M147.4 3105.3L293.9 3074.2L440.3 2818.9L586.8 3003.6L733.2 3126M147.4 3089.3L293.9 2981.5L440.3 2870.3L586.8 2987L733.2 3200M147.4 3075.6L293.9 3059.1L440.3 2804.9L586.8 3105.2L733.2 3083.2M147.4 3171.3L293.9 2970.4L440.3 2842.7L586.8 3071.1L733.2 3072.5M147.4 3099L293.9 3018.6L440.3 2824.1L586.8 3034.6L733.2 3151.6M147.4 3039.3L293.9 3039.6L440.3 2850.6L586.8 2998.9L733.2 3199.6M147.4 2978.2L293.9 3071.9L440.3 2833.8L586.8 3088.9L733.2 3155.3M147.4 3082.6L293.9 2976.6L440.3 2870.1L586.8 2996.1L733.2 3202.6M147.4 3135L293.9 2941.5L440.3 2866.6L586.8 3158.5L733.2 3026.4M147.4 3037.1L293.9 3006.1L440.3 2826.7L586.8 3112.6L733.2 3145.5M147.4 3064.4L293.9 3162.2L440.3 2823.7L586.8 3057.7L733.2 3020.1M147.4 2993.8L293.9 3144.7L440.3 2824.9L586.8 3075.5L733.2 3089.1M147.4 3185.4L293.9 3027.2L440.3 2849.8L586.8 2980.7L733.2 3085M147.4 2962L293.9 3203.8L440.3 2867.1L586.8 3039.5L733.2 3055.5M147.4 3086.3L293.9 3035.6L440.3 2810.2L586.8 3072.1L733.2 3123.8M147.4 2975.7L293.9 3047.1L440.3 2842.3L586.8 3170.3L733.2 3092.6M147.4 3035.7L293.9 3075.7L440.3 2845.7L586.8 2985.7L733.2 3185.1M147.4 3094.4L293.9 3016.2L440.3 2823.4L586.8 3041.9L733.2 3152.1M147.4 3168.2L293.9 2946.8L440.3 2889.5L586.8 2977L733.2 3146.4M147.4 3040.9L293.9 3080.7L440.3 2808.3L586.8 3080.4L733.2 3117.7M147.4 2979.9L293.9 3092.8L440.3 2845.9L586.8 3032L733.2 3177.5M147.4 3108.6L293.9 3114.4L440.3 2811.9L586.8 3065.1L733.2 3028M147.4 3099.2L293.9 3044.6L440.3 2807.5L586.8 3068.8L733.2 3108M147.4 3074L293.9 3067.6L440.3 2803.7L586.8 3092.8L733.2 3089.9M147.4 2913.6L293.9 3171.6L440.3 2910.3L586.8 3142.2L733.2 2990.3M147.4 3090.6L293.9 2937.6L440.3 2854.2L586.8 3152.3L733.2 3093.2M147.4 3122.9L293.9 2968.6L440.3 2915.2L586.8 2929L733.2 3192.2M147.4 3060.5L293.9 2995.4L440.3 2827.7L586.8 3153.9L733.2 3090.6M147.4 3165.7L293.9 3014L440.3 2850.8L586.8 3121.6L733.2 2975.9M147.4 3128.6L293.9 3030.9L440.3 2813.6L586.8 3100.5L733.2 3054.4M147.4 3126.3L293.9 2998.2L440.3 2876.9L586.8 3177.7L733.2 2949M147.4 2975.1L293.9 3191.7L440.3 2884.9L586.8 2961.5L733.2 3114.8M147.4 3147.5L293.9 2967.6L440.3 2836.5L586.8 3098.2L733.2 3078.2M147.4 3111.6L293.9 2994.6L440.3 2821.7L586.8 3077.7L733.2 3122.4M147.4 2989.2L293.9 3044.2L440.3 2831.4L586.8 3140.8L733.2 3122.4M147.4 3161L293.9 3006.7L440.3 2861.5L586.8 3136.7L733.2 2962.1M147.4 3149L293.9 3094.4L440.3 2823.9L586.8 3004.9L733.2 3055.7M147.4 3176L293.9 2948.7L440.3 2855.8L586.8 3073L733.2 3074.4M147.4 3114.7L293.9 2984.7L440.3 2839.4L586.8 3158.6L733.2 3030.6M147.4 3101.1L293.9 2989.1L440.3 2926.2L586.8 2908.7L733.2 3202.9M147.4 2959.4L293.9 3203.7L440.3 2872.3L586.8 3074.3L733.2 3018.2M147.4 3024.2L293.9 3132.5L440.3 2817L586.8 3106.6L733.2 3047.8M147.4 3026.1L293.9 3096.2L440.3 2820.7L586.8 3147.7L733.2 3037.4M147.4 3131.2L293.9 2976.8L440.3 2847.2L586.8 3154.4L733.2 3018.3M147.4 2970L293.9 3060.2L440.3 2837.1L586.8 3141.2L733.2 3119.4M147.4 2996.4L293.9 3139.4L440.3 2864.9L586.8 2965L733.2 3162.4M147.4 3016L293.9 3097.5L440.3 2813.8L586.8 3119.2L733.2 3081.5M147.4 3053.7L293.9 3092.9L440.3 2824.3L586.8 3006L733.2 3151.1M147.4 3067.1L293.9 3113.8L440.3 2810.7L586.8 3031.6L733.2 3104.8M147.4 3051.5L293.9 3038.5L440.3 2811.6L586.8 3116.6L733.2 3109.7M147.4 3006.6L293.9 3103.9L440.3 2818.3L586.8 3127.7L733.2 3071.5M147.4 3099.4L293.9 3028.8L440.3 2830L586.8 3009.8L733.2 3159.9M147.4 3019.2L293.9 3074.4L440.3 2823.2L586.8 3051.7L733.2 3159.5M147.4 2928.6L293.9 3163.1L440.3 2863.6L586.8 3081.8L733.2 3090.9M147.4 2956.7L293.9 3094L440.3 2838.6L586.8 3118.7L733.2 3120.1M147.4 3027.2L293.9 2997.9L440.3 2855.5L586.8 3204.4L733.2 3043M147.4 3083.5L293.9 3088.6L440.3 2815.2L586.8 3013.6L733.2 3127M147.4 3052.1L293.9 3045.1L440.3 2822.1L586.8 3044.8L733.2 3163.9M147.4 3108.3L293.9 3035.2L440.3 2848.1L586.8 2968.3L733.2 3168.1M147.4 3001.6L293.9 3002.6L440.3 2844.3L586.8 3171.2L733.2 3108.3M147.4 3101.3L293.9 3039.6L440.3 2812.2L586.8 3125.5L733.2 3049.4M147.4 3169.3L293.9 2958.4L440.3 2899.2L586.8 2951.6L733.2 3149.6M147.4 2977.7L293.9 3041.2L440.3 2844.7L586.8 3177.1L733.2 3087.2M147.4 3013.1L293.9 2940.2L440.3 2873.9L586.8 3136.3L733.2 3164.5M147.4 3129.4L293.9 2949.1L440.3 2904L586.8 3187.1L733.2 2958.4M147.4 3062.8L293.9 2993.3L440.3 2827.5L586.8 3151.2L733.2 3093.3M147.4 3089L293.9 3045.3L440.3 2808.5L586.8 3120L733.2 3065.2M147.4 2995L293.9 3157.1L440.3 2835.7L586.8 3027L733.2 3113.3M147.4 3035.2L293.9 3163.5L440.3 2826.9L586.8 3018.8L733.2 3083.6M147.4 3078.4L293.9 2970L440.3 2837.3L586.8 3155.8L733.2 3086.4M147.4 2985.4L293.9 3080.3L440.3 2825.3L586.8 3119L733.2 3118M147.4 3075.2L293.9 3118.4L440.3 2810.5L586.8 3030.4L733.2 3093.6M147.4 3129.4L293.9 3026.4L440.3 2841L586.8 2982.1L733.2 3149.1M147.4 3209.4L293.9 2937.9L440.3 2885.8L586.8 3050.2L733.2 3044.6M147.4 3190.8L293.9 2958.1L440.3 2890.8L586.8 2969L733.2 3119.3M147.4 3040.1L293.9 3062.6L440.3 2809.5L586.8 3117.7L733.2 3098.1M147.4 3142L293.9 2986L440.3 2827.5L586.8 3074.4L733.2 3098.1M147.4 3009.9L293.9 3015.8L440.3 2840.2L586.8 3080.8L733.2 3181.3M147.4 3015.5L293.9 3037.2L440.3 2822.2L586.8 3127.7L733.2 3125.4M147.4 3105.8L293.9 3007.1L440.3 2827.7L586.8 3035.4L733.2 3152M147.4 3021L293.9 3073.4L440.3 2863L586.8 2971L733.2 3199.6M147.4 3118.4L293.9 2954.3L440.3 2841.9L586.8 3133.4L733.2 3079.9M147.4 2958.5L293.9 3074.5L440.3 2884.1L586.8 3211.1L733.2 2999.7M147.4 2980.2L293.9 3204.7L440.3 2861.1L586.8 3028.3L733.2 3053.7M147.4 2959.7L293.9 3095.7L440.3 2840.1L586.8 3085.5L733.2 3147M147.4 3024.7L293.9 2953.6L440.3 2863.1L586.8 3180L733.2 3106.7M147.4 2970.5L293.9 3087.4L440.3 2832.1L586.8 3108.1L733.2 3129.9M147.4 2927.7L293.9 3122.6L440.3 2858.8L586.8 3085.7L733.2 3133.2M147.4 3078.4L293.9 2993.3L440.3 2874.6L586.8 2974.9L733.2 3206.8M147.4 3017.8L293.9 3141.4L440.3 2826.1L586.8 3023.8L733.2 3119M147.4 3110.3L293.9 3006L440.3 2837.6L586.8 3011L733.2 3163.1M147.4 3138.2L293.9 2967.6L440.3 2836.2L586.8 3115.3L733.2 3070.7M147.4 3137.3L293.9 2928.8L440.3 2878.5L586.8 3021.8L733.2 3161.6M147.4 3218.1L293.9 2940.5L440.3 2902.4L586.8 3068.4L733.2 2998.6M147.4 3006.8L293.9 3065L440.3 2820.4L586.8 3095.8L733.2 3140M147.4 2937L293.9 3159.9L440.3 2862.1L586.8 3119.5L733.2 3049.4M147.4 2986.3L293.9 3059.8L440.3 2846.4L586.8 3189.1L733.2 3046.5M147.4 3178.9L293.9 2966.4L440.3 2848.7L586.8 3078.3L733.2 3055.7M147.4 2987.3L293.9 3106.3L440.3 2825.7L586.8 3132.9L733.2 3075.7M147.4 3042.7L293.9 3038.1L440.3 2814.4L586.8 3101.5L733.2 3131.3M147.4 3078.7L293.9 2951.5L440.3 2843.9L586.8 3136.1L733.2 3117.7M147.4 3051.9L293.9 3058.1L440.3 2808.9L586.8 3084.1L733.2 3124.9M147.4 3155.4L293.9 2965.2L440.3 2857.6L586.8 3010L733.2 3139.8M147.4 3008.5L293.9 2942.3L440.3 2877.5L586.8 3118.5L733.2 3181.2M147.4 2971.1L293.9 3171.7L440.3 2842.6L586.8 3073.7L733.2 3068.9M147.4 3066.3L293.9 3116.6L440.3 2810.6L586.8 3032.9L733.2 3101.6M147.4 3062.5L293.9 3019.2L440.3 2840.5L586.8 3018.1L733.2 3187.7M147.4 3085.7L293.9 3017.2L440.3 2813.1L586.8 3116.4L733.2 3095.7M147.4 2982.5L293.9 3192.9L440.3 2855.1L586.8 3080.5L733.2 3016.8M147.4 3102.3L293.9 3081.8L440.3 2840.9L586.8 2958L733.2 3145.1M147.4 3084.9L293.9 3036.2L440.3 2829.9L586.8 3010.4L733.2 3166.5M147.4 3075.7L293.9 3047.4L440.3 2875.4L586.8 3194L733.2 2935.5M147.4 3049.5L293.9 3045.9L440.3 2837.1L586.8 3011L733.2 3184.5M147.4 3094.7L293.9 2996.6L440.3 2821.9L586.8 3080L733.2 3134.8M147.4 3192.2L293.9 3077.2L440.3 2850.5L586.8 3005.6L733.2 3002.6M147.4 3063.8L293.9 3080.1L440.3 2803.8L586.8 3087.7L733.2 3092.7M147.4 3161L293.9 3112.6L440.3 2861L586.8 2936.1L733.2 3057.3M147.4 3132.1L293.9 3000.5L440.3 2820.1L586.8 3095.2L733.2 3080M147.4 3085.4L293.9 3058.7L440.3 2804.1L586.8 3089.8L733.2 3090M147.4 3049.2L293.9 3064.2L440.3 2813.1L586.8 3059L733.2 3142.5M147.4 3031.8L293.9 3069.8L440.3 2820L586.8 3156.6L733.2 3049.9M147.4 3176.4L293.9 2993.6L440.3 2842.2L586.8 3093.3L733.2 3022.5M147.4 2960L293.9 3057.8L440.3 2843.4L586.8 3122.2L733.2 3144.5M147.4 3213L293.9 3006L440.3 2894.2L586.8 2942L733.2 3072.8M147.4 3158.5L293.9 3110.1L440.3 2847.7L586.8 3054.7L733.2 2957M147.4 3122.4L293.9 2938.7L440.3 2863L586.8 3042.8L733.2 3161.1M147.4 3049.1L293.9 2952.2L440.3 2864.2L586.8 3193.2L733.2 3069.3M147.4 3114.3L293.9 2972.3L440.3 2831.6L586.8 3128.1L733.2 3081.6M147.4 3105.7L293.9 3017.4L440.3 2841.3L586.8 3169.1L733.2 2994.5M147.4 3089.2L293.9 3016.6L440.3 2814.2L586.8 3082.6L733.2 3125.4M147.4 3156L293.9 2954.5L440.3 2901L586.8 2952.7L733.2 3163.8M147.4 3077.1L293.9 2979.5L440.3 2830.3L586.8 3097.6L733.2 3143.5M147.4 2921.1L293.9 3127.8L440.3 2916.1L586.8 3187.3L733.2 2975.6M147.4 3148.9L293.9 2947.8L440.3 2868.9L586.8 3152L733.2 3010.4M147.4 3074.5L293.9 3108.2L440.3 2804.8L586.8 3066.5L733.2 3074M147.4 3021.6L293.9 3071.4L440.3 2819L586.8 3065.3L733.2 3150.6M147.4 3090.9L293.9 2937.6L440.3 2859.9L586.8 3168.8L733.2 3070.8M147.4 3073.1L293.9 3020.6L440.3 2816.7L586.8 3075.6L733.2 3142.1M147.4 3067.7L293.9 3085.8L440.3 2840.4L586.8 3164.2L733.2 2969.9M147.4 2988L293.9 3115.1L440.3 2822.8L586.8 3106.9L733.2 3095.2M147.4 2976.7L293.9 3173.5L440.3 2846.1L586.8 3099.5L733.2 3032.2M147.4 3070.7L293.9 3096.4L440.3 2803.7L586.8 3070.7L733.2 3086.4M147.4 2988.5L293.9 2965L440.3 2871L586.8 3176.6L733.2 3126.9M147.4 3121.8L293.9 3015.7L440.3 2814L586.8 3088.3L733.2 3088.3M147.4 3018.5L293.9 3035L440.3 2842L586.8 3039.6L733.2 3192.8M147.4 3091.7L293.9 3073.7L440.3 2839.3L586.8 2966.8L733.2 3156.5M147.4 2972.1L293.9 3148L440.3 2858.8L586.8 3150.5L733.2 2998.6M147.4 3015.2L293.9 3010.6L440.3 2841.9L586.8 3074.9L733.2 3185.3M147.4 3201.7L293.9 2983.6L440.3 2898.7L586.8 2941.1L733.2 3103M147.4 3005L293.9 3122.1L440.3 2880.8L586.8 2939.8L733.2 3180.4M147.4 3082.6L293.9 3089.7L440.3 2856.7L586.8 2937.7L733.2 3161.3M147.4 2976.5L293.9 3148.6L440.3 2842.2L586.8 3031.2L733.2 3129.5M147.4 3077.2L293.9 3095L440.3 2816.4L586.8 3011L733.2 3128.4M147.4 2998.8L293.9 3107.9L440.3 2833.4L586.8 3029.8L733.2 3158.1M147.4 3034.5L293.9 3055.6L440.3 2822.9L586.8 3050.4L733.2 3164.6M147.4 3025.1L293.9 3126.9L440.3 2816.4L586.8 3047.2L733.2 3112.3M147.4 3078.3L293.9 2933.7L440.3 2864.3L586.8 3077.5L733.2 3174.1M147.4 3103.6L293.9 3041.2L440.3 2814.2L586.8 3039.5L733.2 3129.4M147.4 2967.6L293.9 3026.6L440.3 2855.1L586.8 3096.5L733.2 3182.2M147.4 3051L293.9 3070.5L440.3 2807.8L586.8 3122L733.2 3076.7M147.4 3092.8L293.9 3079.9L440.3 2804.2L586.8 3091.5L733.2 3059.7M147.4 3200.8L293.9 3087.5L440.3 2894.9L586.8 2923.9L733.2 3020.9M147.4 3152.1L293.9 3010.8L440.3 2823.3L586.8 3089.9L733.2 3051.9M147.4 2989L293.9 3146.1L440.3 2833.5L586.8 3120.8L733.2 3038.5M147.4 2996.4L293.9 3047.5L440.3 2852.8L586.8 3201L733.2 3030.3M147.4 2999.3L293.9 3133.3L440.3 2821.9L586.8 3067.3L733.2 3106.2M147.4 3152.9L293.9 3051.8L440.3 2823.8L586.8 3009.7L733.2 3089.9M147.4 3038L293.9 3047.8L440.3 2814.7L586.8 3139.5L733.2 3088.1M147.4 3161.7L293.9 3003.9L440.3 2838.4L586.8 3010.4L733.2 3113.6M147.4 3012.8L293.9 3030.2L440.3 2825.7L586.8 3119.8L733.2 3139.5M147.4 3102.1L293.9 3069.7L440.3 2807.4L586.8 3104.6L733.2 3044.2M147.4 2982.4L293.9 3170.2L440.3 2838.5L586.8 3084.8L733.2 3052M147.4 3174.3L293.9 2975.4L440.3 2853L586.8 3111.9L733.2 3013.4M147.4 3101.8L293.9 2966.6L440.3 2832.7L586.8 3119.7L733.2 3107.2M147.4 2919.8L293.9 3109L440.3 2862.8L586.8 3108.3L733.2 3128.2M147.4 3002.3L293.9 3156.7L440.3 2827.5L586.8 3092.5L733.2 3048.9M147.4 2993.6L293.9 3059.7L440.3 2833.7L586.8 3170.4L733.2 3070.5M147.4 3029.6L293.9 3062.4L440.3 2821.8L586.8 3053.2L733.2 3161M147.4 2956.7L293.9 3027.2L440.3 2862.2L586.8 3185.3L733.2 3096.6M147.4 3070L293.9 3115.6L440.3 2842.9L586.8 2956.5L733.2 3142.9M147.4 3047.3L293.9 2963.3L440.3 2861.4L586.8 3058.5L733.2 3197.6M147.4 3099L293.9 3075.3L440.3 2807.8L586.8 3039.5L733.2 3106.4M147.4 3113.3L293.9 3174.4L440.3 2896.4L586.8 2902.2L733.2 3041.7M147.4 3062.6L293.9 3079.4L440.3 2806.6L586.8 3062L733.2 3117.5M147.4 3147.6L293.9 2971.7L440.3 2840.3L586.8 3045.2L733.2 3123.2M147.4 3097.2L293.9 3008.2L440.3 2834.4L586.8 3167L733.2 3021.1M147.4 3032.8L293.9 3102.8L440.3 2816.8L586.8 3039.4L733.2 3136.1M147.4 3096.6L293.9 3062.6L440.3 2835.2L586.8 3156L733.2 2977.6M147.4 2993L293.9 3019L440.3 2838.7L586.8 3124.4L733.2 3152.9M147.4 3120.4L293.9 2982.1L440.3 2844.9L586.8 3019.2L733.2 3161.4M147.4 3073.1L293.9 3118.2L440.3 2841.6L586.8 3138L733.2 2957.1M147.4 3076.9L293.9 2947.1L440.3 2880.1L586.8 3019.4L733.2 3204.5M147.4 3090.5L293.9 2967.7L440.3 2850.5L586.8 3179.1L733.2 3040.3M147.4 3119.4L293.9 2995.8L440.3 2820.6L586.8 3109.3L733.2 3082.8M147.4 3027.2L293.9 3044.3L440.3 2816.4L586.8 3123.6L733.2 3116.5M147.4 2999.3L293.9 2961.8L440.3 2867.4L586.8 3123.5L733.2 3176M147.4 3021.2L293.9 3097.4L440.3 2828.9L586.8 3160.2L733.2 3020.2M147.4 3141L293.9 3007.6L440.3 2819.5L586.8 3079.2L733.2 3080.7M147.4 3088.2L293.9 3192.7L440.3 2857.7L586.8 3000.2L733.2 2989.2M147.4 3023.9L293.9 3156.5L440.3 2856.6L586.8 3133.6L733.2 2957.4M147.4 3116.7L293.9 2974.8L440.3 2832.4L586.8 3134.4L733.2 3069.7M147.4 3148.5L293.9 2934.8L440.3 2856.1L586.8 3079.1L733.2 3109.5M147.4 2984.2L293.9 3139.3L440.3 2833L586.8 3124.6L733.2 3047M147.4 3031.5L293.9 3098.9L440.3 2856.1L586.8 3179.8L733.2 2961.8M147.4 3113L293.9 3011.4L440.3 2862.7L586.8 2961.8L733.2 3179.1M147.4 3043.7L293.9 3146.4L440.3 2814.7L586.8 3061.8L733.2 3061.4M147.4 3047.6L293.9 3028.9L440.3 2815.6L586.8 3131.4L733.2 3104.5M147.4 3073.6L293.9 2979.2L440.3 2834.4L586.8 3159.2L733.2 3081.6M147.4 3098.4L293.9 2957.4L440.3 2865.2L586.8 3019.3L733.2 3187.7M147.4 3115.3L293.9 3048L440.3 2831.2L586.8 2988.3L733.2 3145.1M147.4 3025.9L293.9 3007.6L440.3 2829.5L586.8 3145.9L733.2 3119.1M147.4 3067.8L293.9 2942.4L440.3 2920.2L586.8 2973.3L733.2 3224.2M147.4 3108.7L293.9 3147.7L440.3 2830.6L586.8 3053.2L733.2 2987.9M147.4 3100.8L293.9 3089.4L440.3 2811L586.8 3022.5L733.2 3104.3M147.4 3025.4L293.9 3119.5L440.3 2831.6L586.8 3003.3L733.2 3148.2M147.4 2986.9L293.9 3143.6L440.3 2840.4L586.8 3020.8L733.2 3136.3M147.4 3112.9L293.9 3000.1L440.3 2820L586.8 3073.7L733.2 3121.3M147.4 3040.8L293.9 3056.7L440.3 2813.9L586.8 3142.3L733.2 3074.2M147.4 3052.2L293.9 3081.3L440.3 2805.6L586.8 3082.4L733.2 3106.5M147.4 3009.5L293.9 3055.6L440.3 2826.9L586.8 3071.8L733.2 3164.2M147.4 2995.6L293.9 3209.4L440.3 2860.6L586.8 3031.3L733.2 3031.1M147.4 3087.8L293.9 3090.8L440.3 2806.1L586.8 3098.6L733.2 3044.8M147.4 3142.7L293.9 2995.1L440.3 2826.7L586.8 3054.5L733.2 3109M147.4 3077.6L293.9 3122.8L440.3 2814.3L586.8 3016.3L733.2 3097M147.4 3115.5L293.9 3009.9L440.3 2815L586.8 3095.1L733.2 3092.5M147.4 3142.9L293.9 3062.3L440.3 2819.5L586.8 3090.6L733.2 3012.7M147.4 3108.5L293.9 3006.2L440.3 2815.8L586.8 3102.1L733.2 3095.4M147.4 3099.2L293.9 2954.6L440.3 2905.3L586.8 2961.8L733.2 3207.2M147.4 3101.6L293.9 2970.4L440.3 2848.2L586.8 3035.2L733.2 3172.6M147.4 3095.6L293.9 3151.3L440.3 2843.2L586.8 2955.9L733.2 3082M147.4 2977.1L293.9 3127L440.3 2830.8L586.8 3122.4L733.2 3070.8M147.4 3074.2L293.9 2980.2L440.3 2842.1L586.8 3177.7L733.2 3053.8M147.4 3072.8L293.9 3050.8L440.3 2805.9L586.8 3098.3L733.2 3100.2M147.4 3019.4L293.9 3024.5L440.3 2846.6L586.8 3198L733.2 3039.5M147.4 3031.5L293.9 3084.1L440.3 2821.8L586.8 3035L733.2 3155.7M147.4 3142.3L293.9 2982.5L440.3 2829.1L586.8 3100.6L733.2 3073.5M147.4 3019.2L293.9 3081.1L440.3 2867.1L586.8 2962.5L733.2 3198.1M147.4 3113.3L293.9 3099.5L440.3 2811.1L586.8 3025.4L733.2 3078.7M147.4 3073.3L293.9 3031.4L440.3 2811.3L586.8 3085.6L733.2 3126.4M147.4 2990.3L293.9 2958.4L440.3 2886.8L586.8 3208.9L733.2 3083.6M147.4 3027.4L293.9 3073.2L440.3 2813.3L586.8 3133.6L733.2 3080.4M147.4 3130L293.9 2969.8L440.3 2835.9L586.8 3128L733.2 3064.3M147.4 3032.9L293.9 3025.5L440.3 2838.6L586.8 3042.1L733.2 3189M147.4 3025.7L293.9 3104.1L440.3 2811.3L586.8 3074.8L733.2 3112.2M147.4 3131.6L293.9 3030.7L440.3 2818L586.8 3112.6L733.2 3035.1M147.4 3050L293.9 2992L440.3 2888.5L586.8 2974.7L733.2 3222.8M147.4 2993.9L293.9 3047.7L440.3 2832.7L586.8 3089.3L733.2 3164.3M147.4 3132.2L293.9 2956.3L440.3 2840.8L586.8 3079.6L733.2 3119.1M147.4 3093.4L293.9 3047.8L440.3 2810.9L586.8 3126.9L733.2 3048.9M147.4 3155.6L293.9 3032.4L440.3 2823.4L586.8 3026.3L733.2 3090.3M147.4 2949.7L293.9 3125.1L440.3 2843.4L586.8 3121.7L733.2 3088M147.4 3203.2L293.9 2978L440.3 2874.9L586.8 2984.6L733.2 3087.4M147.4 3069L293.9 3032.9L440.3 2810.1L586.8 3111.9L733.2 3104.2M147.4 3068.6L293.9 2986.1L440.3 2832.3L586.8 3080.3L733.2 3160.7M147.4 3156L293.9 2987.2L440.3 2832.6L586.8 3051.8L733.2 3100.4M147.4 3108.3L293.9 3085.3L440.3 2838.7L586.8 2959.3L733.2 3136.4M147.4 2952.1L293.9 3188L440.3 2867.1L586.8 3096.9L733.2 3023.9M147.4 3074.6L293.9 3001.8L440.3 2867.8L586.8 2979.4L733.2 3204.4M147.4 3078.9L293.9 3086.1L440.3 2802.9L586.8 3081.1L733.2 3079M147.4 3106.1L293.9 3060.5L440.3 2805.1L586.8 3086.7L733.2 3069.6M147.4 3116L293.9 2930.4L440.3 2866L586.8 3054.1L733.2 3161.5M147.4 3100.8L293.9 2987.9L440.3 2848.4L586.8 3012.6L733.2 3178.4M147.4 3150.5L293.9 2954.1L440.3 2881.7L586.8 2980.1L733.2 3161.7M147.4 3007.9L293.9 3169.8L440.3 2882.7L586.8 2932.9L733.2 3134.6M147.4 3155.2L293.9 2941.9L440.3 2856.3L586.8 3118.2L733.2 3056.4M147.4 3036.5L293.9 3062L440.3 2817.4L586.8 3059.8L733.2 3152.3M147.4 2949L293.9 3103.9L440.3 2860.2L586.8 3175.4L733.2 3039.4M147.4 3106.4L293.9 3090.7L440.3 2809.4L586.8 3029L733.2 3092.5M147.4 2975.3L293.9 3027.2L440.3 2853.3L586.8 3187.9L733.2 3084.3M147.4 3024.1L293.9 3077.2L440.3 2903.6L586.8 2916.8L733.2 3206.2M147.4 3097.1L293.9 3092.7L440.3 2806.4L586.8 3042.4L733.2 3089.4M147.4 3036.9L293.9 3012.3L440.3 2844.2L586.8 3194.7L733.2 3039.8M147.4 3145.1L293.9 2948.5L440.3 2845.8L586.8 3091L733.2 3097.6M147.4 3093.1L293.9 3056.3L440.3 2804.7L586.8 3096.3L733.2 3077.7M147.4 2968.4L293.9 3071.4L440.3 2838.3L586.8 3094.6L733.2 3155.2M147.4 3044.9L293.9 3076.1L440.3 2808.7L586.8 3074.5L733.2 3123.8M147.4 3009.8L293.9 3076.2L440.3 2817L586.8 3095.1L733.2 3129.8M147.4 3207.2L293.9 3002.7L440.3 2858L586.8 3016.5L733.2 3043.7M147.4 2925.6L293.9 3180.5L440.3 2875L586.8 3054L733.2 3092.9M147.4 3115.8L293.9 3027.2L440.3 2810.9L586.8 3076.3L733.2 3097.8M147.4 2948.5L293.9 3144.8L440.3 2871L586.8 3005.7L733.2 3158.1M147.4 3011.3L293.9 2933.1L440.3 2880.7L586.8 3168.1L733.2 3134.9M147.4 2980.9L293.9 3145.9L440.3 2895.8L586.8 2936.1L733.2 3169.3M147.4 3071.6L293.9 3126L440.3 2815.3L586.8 3015.5L733.2 3099.7M147.4 3055.4L293.9 3104.6L440.3 2839.6L586.8 2971.1L733.2 3157.2M147.4 3045.7L293.9 2960.2L440.3 2905.5L586.8 2987.5L733.2 3229.2M147.4 3104L293.9 3031.1L440.3 2808.8L586.8 3093.6L733.2 3090.4M147.4 3158.1L293.9 3014.2L440.3 2838.9L586.8 2997.9L733.2 3118.8M147.4 3159.9L293.9 2950L440.3 2849.1L586.8 3093.6L733.2 3075.4M147.4 2953.6L293.9 3209.9L440.3 2926.6L586.8 3099.5L733.2 2938.5M147.4 3053.5L293.9 3065.1L440.3 2807.8L586.8 3079.1L733.2 3122.4M147.4 3040L293.9 3047.1L440.3 2817.7L586.8 3152.4L733.2 3070.8M147.4 3154.3L293.9 2951.4L440.3 2849.6L586.8 3114.3L733.2 3058.4M147.4 3066.8L293.9 3079.2L440.3 2816.1L586.8 3023.9L733.2 3141.9M147.4 3102.7L293.9 2982.7L440.3 2844.6L586.8 3025.9L733.2 3172.1M147.4 3036.8L293.9 3085.8L440.3 2809.7L586.8 3122.2L733.2 3073.5M147.4 3083.3L293.9 3065.5L440.3 2810.4L586.8 3128.3L733.2 3040.5M147.4 3175.9L293.9 2933.7L440.3 2888.4L586.8 3132.3L733.2 2997.7M147.4 3207.7L293.9 3008.1L440.3 2867.1L586.8 2981.3L733.2 3063.8M147.4 3204.6L293.9 2987L440.3 2881.4L586.8 2965.6L733.2 3089.4M147.4 3163.7L293.9 2954.4L440.3 2848.5L586.8 3066.3L733.2 3095.2M147.4 2953.3L293.9 3120.1L440.3 2881.5L586.8 2987.4L733.2 3185.6M147.4 3013.4L293.9 3111L440.3 2817.4L586.8 3060.6L733.2 3125.6M147.4 3031.2L293.9 3041.1L440.3 2816.3L586.8 3129.9L733.2 3109.5M147.4 2970.3L293.9 3019.9L440.3 2875.6L586.8 3047L733.2 3215.2M147.4 2996.3L293.9 2998.3L440.3 2872.4L586.8 3044.1L733.2 3216.9M147.4 3139.8L293.9 3020.4L440.3 2816.2L586.8 3070.1L733.2 3081.4M147.4 3051.5L293.9 2994.6L440.3 2834.3L586.8 3076.4L733.2 3171.2M147.4 3066.2L293.9 3121.2L440.3 2807.6L586.8 3079.5L733.2 3053.6M147.4 3155.2L293.9 2932.2L440.3 2860.9L586.8 3066.5L733.2 3113.2M147.4 2991.2L293.9 3057L440.3 2827L586.8 3133.3L733.2 3119.5M147.4 3008.1L293.9 3016.7L440.3 2832.9L586.8 3119.9L733.2 3150.4M147.4 2960.7L293.9 3149.7L440.3 2857.3L586.8 3016.5L733.2 3143.8M147.4 3036.4L293.9 2998.7L440.3 2855L586.8 3204.5L733.2 3033.4M147.4 3035.9L293.9 3032.7L440.3 2826.4L586.8 3169.6L733.2 3063.4M147.4 3030.4L293.9 3061.5L440.3 2819.4L586.8 3061.2L733.2 3155.5M147.4 3029L293.9 2972.5L440.3 2869.2L586.8 3210.7L733.2 3046.7M147.4 3037L293.9 3118.3L440.3 2829.3L586.8 3144.1L733.2 2999.3M147.4 3039.3L293.9 3126.9L440.3 2821.7L586.8 3124.9L733.2 3015.3M147.4 3137.4L293.9 2952.7L440.3 2843.7L586.8 3117.9L733.2 3076.3M147.4 3147.4L293.9 2989.1L440.3 2827.5L586.8 3071.8L733.2 3092.3M147.4 3038.1L293.9 3070.7L440.3 2878.8L586.8 2939.2L733.2 3201.2M147.4 3114.4L293.9 3060.5L440.3 2821.5L586.8 3002.6L733.2 3129M147.4 3090.2L293.9 2974.4L440.3 2848.8L586.8 3180.1L733.2 3034.3M147.4 3095.7L293.9 3050.8L440.3 2807.4L586.8 3061.4L733.2 3112.6M147.4 3129.2L293.9 2986.9L440.3 2870.9L586.8 2966.2L733.2 3174.9M147.4 3069L293.9 2961.1L440.3 2849.8L586.8 3177.3L733.2 3070.8M147.4 2994L293.9 3027.7L440.3 2878.3L586.8 3005.2L733.2 3222.8M147.4 3028.3L293.9 3108.9L440.3 2821.9L586.8 3026.8L733.2 3142.1M147.4 3095.5L293.9 2979L440.3 2828L586.8 3131.6L733.2 3093.9M147.4 2956.1L293.9 3169.6L440.3 2849.5L586.8 3088L733.2 3064.7M147.4 3167.6L293.9 3010.6L440.3 2829L586.8 3076.6L733.2 3044.3M147.4 2989.7L293.9 3129.4L440.3 2857.5L586.8 3167L733.2 2984.3M147.4 3047.2L293.9 3043.8L440.3 2813.2L586.8 3087.3L733.2 3136.5M147.4 2962.9L293.9 3158.2L440.3 2877.4L586.8 3152.6L733.2 2976.8M147.4 3099.7L293.9 3037L440.3 2874.3L586.8 2933.4L733.2 3183.7M147.4 3116.2L293.9 3085.1L440.3 2843.3L586.8 3132.5L733.2 2950.9M147.4 3113.7L293.9 3027.1L440.3 2818.6L586.8 3036.8L733.2 3131.8M147.4 3130.1L293.9 2978.1L440.3 2829.1L586.8 3111.1L733.2 3079.6M147.4 3088.9L293.9 3127.3L440.3 2823.1L586.8 2989.9L733.2 3098.8M147.4 3015.7L293.9 3045.8L440.3 2838.4L586.8 3187.6L733.2 3040.6M147.4 2940.9L293.9 3206.4L440.3 2881.7L586.8 3060.8L733.2 3038.2M147.4 2982.6L293.9 3136.6L440.3 2830.9L586.8 3119.6L733.2 3058.2M147.4 3090.4L293.9 3045.5L440.3 2821.5L586.8 3019.6L733.2 3151M147.4 3100.8L293.9 3031.8L440.3 2808.9L586.8 3102.4L733.2 3084.2M147.4 2977L293.9 3095.2L440.3 2828.3L586.8 3101.6L733.2 3126M147.4 3099.7L293.9 3052.4L440.3 2827.9L586.8 3151.5L733.2 2996.5M147.4 3160.7L293.9 2933L440.3 2873.2L586.8 3135L733.2 3026.1M147.4 3104.1L293.9 2997.2L440.3 2822.4L586.8 3133.9L733.2 3070.5M147.4 3123.5L293.9 3023L440.3 2825.9L586.8 3018.4L733.2 3137.3M147.4 3099.1L293.9 2958.3L440.3 2865.4L586.8 3187.8L733.2 3017.3M147.4 2916.7L293.9 3186.7L440.3 2884.1L586.8 3060.8L733.2 3079.6M147.4 3014L293.9 3043L440.3 2821.2L586.8 3131.1L733.2 3118.7M147.4 3018.3L293.9 3066.3L440.3 2815L586.8 3103.9L733.2 3124.6M147.4 3091.2L293.9 3074.9L440.3 2824.3L586.8 2994.7L733.2 3143M147.4 3074.6L293.9 3060.1L440.3 2804.4L586.8 3092L733.2 3096.8M147.4 3061.2L293.9 3017.8L440.3 2820L586.8 3078.4L733.2 3150.6M147.4 3113.4L293.9 3030.9L440.3 2818.3L586.8 3034L733.2 3131.5M147.4 3216.7L293.9 2994.5L440.3 2875L586.8 2990.8L733.2 3051M147.4 3110.4L293.9 2965.8L440.3 2838.2L586.8 3145.2L733.2 3068.4M147.4 2994.5L293.9 3012L440.3 2843.1L586.8 3168.8L733.2 3109.5M147.4 3016.1L293.9 2946.1L440.3 2871.1L586.8 3179.6L733.2 3115.2M147.4 3087.9L293.9 2932.1L440.3 2866.9L586.8 3064.9L733.2 3176.1M147.4 2970.1L293.9 3075L440.3 2834.2L586.8 3137.2L733.2 3111.6M147.4 3083.7L293.9 3091.4L440.3 2851.5L586.8 3157.3L733.2 2944.1M147.4 3120.5L293.9 2994.9L440.3 2868.3L586.8 2964.9L733.2 3179.3M147.4 3088L293.9 3100.9L440.3 2807.8L586.8 3035.9L733.2 3095.5M147.4 2964.2L293.9 3098.2L440.3 2848.3L586.8 3046.5L733.2 3170.8M147.4 3146.7L293.9 2984.8L440.3 2829L586.8 3072.6L733.2 3094.9M147.4 3077.9L293.9 3016.8L440.3 2816.1L586.8 3136.2L733.2 3081M147.4 3070.5L293.9 2951.1L440.3 2860.7L586.8 3187.4L733.2 3058.3M147.4 3187.9L293.9 2971.6L440.3 2886.8L586.8 2960.3L733.2 3121.6M147.4 2951.1L293.9 3093.2L440.3 2847L586.8 3155.7L733.2 3080.9M147.4 3111.2L293.9 3008.6L440.3 2833.9L586.8 3016.2L733.2 3158.1M147.4 3048.3L293.9 3145.6L440.3 2818.5L586.8 3090.3L733.2 3025.3M147.4 3081.2L293.9 2960.8L440.3 2896.8L586.8 2975.1L733.2 3214.2M147.4 3058.3L293.9 3051.7L440.3 2816.9L586.8 3152.8L733.2 3048.4M147.4 3024.9L293.9 3013.3L440.3 2837.4L586.8 3181.7L733.2 3070.7M147.4 3102.3L293.9 3011.1L440.3 2828L586.8 3155.4L733.2 3031.1M147.4 3062.5L293.9 3090.2L440.3 2806.9L586.8 3054.7L733.2 3113.8M147.4 2957.2L293.9 3100.7L440.3 2856.9L586.8 3035.5L733.2 3177.7M147.4 3184.6L293.9 2968.9L440.3 2863.6L586.8 3107.9L733.2 3003M147.4 3044.2L293.9 3022L440.3 2823.4L586.8 3078.9L733.2 3159.5M147.4 3024.3L293.9 3036.2L440.3 2887.1L586.8 3221.2L733.2 2959.1M147.4 3084.8L293.9 3028.9L440.3 2829.4L586.8 3018.1L733.2 3166.8M147.4 2939.2L293.9 3180.4L440.3 2863.8L586.8 3076.3L733.2 3068.3M147.4 3108L293.9 3069.1L440.3 2833.4L586.8 2974.6L733.2 3142.9M147.4 3042.1L293.9 3076.3L440.3 2811L586.8 3065.7L733.2 3132.9M147.4 2936.2L293.9 3145.5L440.3 2901.9L586.8 3172.2L733.2 2972.1M147.4 3099.1L293.9 3064.8L440.3 2805.3L586.8 3060.5L733.2 3098.4M147.4 3199L293.9 3034.6L440.3 2870.8L586.8 2950.6L733.2 3073.1M147.4 3121.7L293.9 3023L440.3 2819L586.8 3125.1L733.2 3039.2M147.4 3106.5L293.9 3001.4L440.3 2838.9L586.8 3014.6L733.2 3166.7M147.4 3015.8L293.9 3029.3L440.3 2857L586.8 3208.4L733.2 3017.5M147.4 3110.2L293.9 3096.2L440.3 2811.5L586.8 3021.4L733.2 3088.8M147.4 3006.5L293.9 3110.2L440.3 2816.2L586.8 3086L733.2 3109.2M147.4 3093L293.9 3023.6L440.3 2811.3L586.8 3085.5L733.2 3114.6M147.4 3130.8L293.9 3119.2L440.3 2820.7L586.8 3019.9L733.2 3037.4M147.4 3139.2L293.9 3002.6L440.3 2830L586.8 3127L733.2 3029.2M147.4 3070.4L293.9 3106.3L440.3 2820.1L586.8 3129.1L733.2 3002.2M147.4 2964.7L293.9 3110.9L440.3 2845.9L586.8 3045.7L733.2 3160.9M147.4 3086.9L293.9 2946.9L440.3 2865.7L586.8 3040.9L733.2 3187.6M147.4 3132.4L293.9 2960.6L440.3 2855L586.8 3157L733.2 3023M147.4 3108.5L293.9 3147.7L440.3 2832.5L586.8 2981.9L733.2 3057.4M147.4 2917.1L293.9 3185.7L440.3 2894.9L586.8 3018.3L733.2 3112M147.4 3036.2L293.9 3117.2L440.3 2822.8L586.8 3015.4L733.2 3136.4M147.4 3042.3L293.9 2984.2L440.3 2834.7L586.8 3145.8L733.2 3121.1M147.4 3096.2L293.9 3091.3L440.3 2807.9L586.8 3034.8L733.2 3097.8M147.4 3052.9L293.9 2994.1L440.3 2839.3L586.8 3181.7L733.2 3059.9M147.4 3025.1L293.9 3059.3L440.3 2820L586.8 3155.1L733.2 3068.4" fill="none" stroke="#a5a5c7" stroke-width="1.4" stroke-linejoin="round" marker-start="url(#dot)" marker-mid="url(#dot)" marker-end="url(#dot)"/>
<path d="M147.4 3069.2L293.9 3045.5L440.3 2823.9L586.8 3086.6L733.2 3102.8" fill="none" stroke="#ff3b3b" stroke-width="2" marker-start="url(#rdot)" marker-mid="url(#rdot)" marker-end="url(#rdot)"/>
<path d="M60 2781.7V3250.7H820.6" fill="none" stroke="#222" stroke-width="2"/>
<path d="M53 2901.1H60M53 3025.6H60M53 3150.1H60M147.4 3250.7V3256.7M293.9 3250.7V3256.7M440.3 3250.7V3256.7M586.8 3250.7V3256.7M733.2 3250.7V3256.7" stroke="#222" stroke-width="1.6"/>
<text class="ta tk" x="0" y="0" text-anchor="end" transform="translate(49 2904.7) scale(1 0.71)" font-size="14.5">1</text>
<text class="ta tk" x="0" y="0" text-anchor="end" transform="translate(49 3029.2) scale(1 0.71)" font-size="14.5">0</text>
<text class="ta tk" x="0" y="0" text-anchor="end" transform="translate(49 3153.7) scale(1 0.71)" font-size="14.5">−1</text>
<text class="ta tk" text-anchor="middle" transform="translate(147.4 3266.7) scale(1 0.71)" font-size="14.5">S1</text>
<text class="ta tk" text-anchor="middle" transform="translate(293.9 3266.7) scale(1 0.71)" font-size="14.5">S2</text>
<text class="ta tk" text-anchor="middle" transform="translate(440.3 3266.7) scale(1 0.71)" font-size="14.5">S3</text>
<text class="ta tk" text-anchor="middle" transform="translate(586.8 3266.7) scale(1 0.71)" font-size="14.5">S4</text>
<text class="ta tk" text-anchor="middle" transform="translate(733.2 3266.7) scale(1 0.71)" font-size="14.5">S5</text>
<text class="ta tk" text-anchor="middle" transform="translate(441 3280.2) scale(1 0.71)" font-size="17.9">Sample</text>
<text class="ta tk" text-anchor="middle" transform="translate(26 3016.2) scale(1 0.71) rotate(-90)" font-size="18.7">Expression (z−score)</text>
<text class="ta tk" text-anchor="middle" transform="translate(441 2778.2) scale(1 0.71)" font-size="20.4">metabolite Cluster 6(506)</text>
<text class="sr" x="884" y="52.6" font-size="58">b</text>
<ellipse cx="1069" cy="102.2" rx="38.2" ry="34.57" fill="#feb887"/>
<ellipse cx="1183.2" cy="102.2" rx="36.75" ry="33.26" fill="#febd87"/>
<ellipse cx="1297.4" cy="102.2" rx="36.05" ry="32.63" fill="#febf87"/>
<ellipse cx="1411.6" cy="102.2" rx="34.95" ry="31.63" fill="#fec387"/>
<ellipse cx="1525.8" cy="102.2" rx="27.25" ry="24.66" fill="#fcd788"/>
<ellipse cx="1640" cy="102.2" rx="19.75" ry="17.87" fill="#fae58a"/>
<ellipse cx="1754.2" cy="102.2" rx="16.15" ry="14.62" fill="#f9eb8b"/>
<ellipse cx="1868.4" cy="102.2" rx="14.7" ry="13.3" fill="#f9ec8b"/>
<ellipse cx="1982.6" cy="102.2" rx="19.75" ry="17.87" fill="#fae58a"/>
<ellipse cx="1069" cy="198.4" rx="18.3" ry="16.56" fill="#fae88a"/>
<ellipse cx="1183.2" cy="198.4" rx="17.75" ry="16.06" fill="#fae88a"/>
<ellipse cx="1297.4" cy="198.4" rx="31.4" ry="28.42" fill="#fdcd87"/>
<ellipse cx="1411.6" cy="198.4" rx="31.4" ry="28.42" fill="#fdcd87"/>
<ellipse cx="1640" cy="198.4" rx="19.75" ry="17.87" fill="#fae58a"/>
<ellipse cx="1868.4" cy="198.4" rx="21.15" ry="19.14" fill="#fbe389"/>
<ellipse cx="1982.6" cy="198.4" rx="15.05" ry="13.62" fill="#f9ec8b"/>
<ellipse cx="1069" cy="294.6" rx="36.25" ry="32.81" fill="#febf87"/>
<ellipse cx="1183.2" cy="294.6" rx="45.9" ry="41.54" fill="#ff9e88"/>
<ellipse cx="1297.4" cy="294.6" rx="31.2" ry="28.24" fill="#fdcd87"/>
<ellipse cx="1411.6" cy="294.6" rx="28.5" ry="25.79" fill="#fdd487"/>
<ellipse cx="1525.8" cy="294.6" rx="23.3" ry="21.09" fill="#fbdf89"/>
<ellipse cx="1640" cy="294.6" rx="17.6" ry="15.93" fill="#fae98a"/>
<ellipse cx="1868.4" cy="294.6" rx="16.3" ry="14.75" fill="#faea8a"/>
<ellipse cx="2096.8" cy="294.6" rx="21.5" ry="19.46" fill="#fbe289"/>
<ellipse cx="1069" cy="390.8" rx="48.6" ry="43.98" fill="#ff9489"/>
<ellipse cx="1183.2" cy="390.8" rx="44.3" ry="40.09" fill="#ffa388"/>
<ellipse cx="1297.4" cy="390.8" rx="52" ry="47.06" fill="#ff878a"/>
<ellipse cx="1411.6" cy="390.8" rx="52" ry="47.06" fill="#ff878a"/>
<ellipse cx="1525.8" cy="390.8" rx="24.75" ry="22.4" fill="#fcdc88"/>
<ellipse cx="1640" cy="390.8" rx="19.75" ry="17.87" fill="#fae58a"/>
<ellipse cx="1868.4" cy="390.8" rx="21.9" ry="19.82" fill="#fbe289"/>
<ellipse cx="2096.8" cy="390.8" rx="17.95" ry="16.24" fill="#fae88a"/>
<ellipse cx="1069" cy="487" rx="26.55" ry="24.03" fill="#fcd988"/>
<ellipse cx="1183.2" cy="487" rx="16.3" ry="14.75" fill="#faea8a"/>
<ellipse cx="1297.4" cy="487" rx="30.65" ry="27.74" fill="#fdcf87"/>
<ellipse cx="1411.6" cy="487" rx="34.95" ry="31.63" fill="#fec387"/>
<ellipse cx="1640" cy="487" rx="18.3" ry="16.56" fill="#fae88a"/>
<ellipse cx="1754.2" cy="487" rx="16.15" ry="14.62" fill="#f9eb8b"/>
<ellipse cx="1868.4" cy="487" rx="39.8" ry="36.02" fill="#ffb387"/>
<ellipse cx="1982.6" cy="487" rx="18.3" ry="16.56" fill="#fae88a"/>
<ellipse cx="1069" cy="583.2" rx="33.5" ry="30.32" fill="#fec787"/>
<ellipse cx="1183.2" cy="583.2" rx="32.8" ry="29.68" fill="#fdc987"/>
<ellipse cx="1297.4" cy="583.2" rx="30.15" ry="27.29" fill="#fdd087"/>
<ellipse cx="1411.6" cy="583.2" rx="27.25" ry="24.66" fill="#fcd788"/>
<ellipse cx="1525.8" cy="583.2" rx="19.9" ry="18.01" fill="#fae58a"/>
<ellipse cx="1640" cy="583.2" rx="16.5" ry="14.93" fill="#faea8a"/>
<ellipse cx="1754.2" cy="583.2" rx="14.7" ry="13.3" fill="#f9ec8b"/>
<rect x="988.2" y="54.5" width="1164.8" height="596" fill="none" stroke="#111" stroke-width="2.4"/>
<path d="M975.3 102.2H988.2M975.3 198.4H988.2M975.3 294.6H988.2M975.3 390.8H988.2M975.3 487H988.2M975.3 583.2H988.2M1069 650.5V663.5M1183.2 650.5V663.5M1297.4 650.5V663.5M1411.6 650.5V663.5M1525.8 650.5V663.5M1640 650.5V663.5M1754.2 650.5V663.5M1868.4 650.5V663.5M1982.6 650.5V663.5M2096.8 650.5V663.5" stroke="#111" stroke-width="2.4"/>
<text class="ta" text-anchor="end" transform="translate(964.6 109.9) scale(1.18 1)" font-size="26.3">class6</text>
<text class="ta" text-anchor="end" transform="translate(964.6 206.1) scale(1.18 1)" font-size="26.3">class5</text>
<text class="ta" text-anchor="end" transform="translate(964.6 302.3) scale(1.18 1)" font-size="26.3">class4</text>
<text class="ta" text-anchor="end" transform="translate(964.6 398.5) scale(1.18 1)" font-size="26.3">class3</text>
<text class="ta" text-anchor="end" transform="translate(964.6 494.7) scale(1.18 1)" font-size="26.3">class2</text>
<text class="ta" text-anchor="end" transform="translate(964.6 590.9) scale(1.18 1)" font-size="26.3">class1</text>
<text class="ta" text-anchor="end" transform="translate(1093 693.9) scale(1.12 1) rotate(-45)" font-size="27.7">Prenol lipids</text>
<text class="ta" text-anchor="end" transform="translate(1207.2 693.9) scale(1.12 1) rotate(-45)" font-size="27.7">Fatty Acyls</text>
<text class="ta" text-anchor="end" transform="translate(1321.4 693.9) scale(1.12 1) rotate(-45)" font-size="27.7">Carboxylic acids and derivatives</text>
<text class="ta" text-anchor="end" transform="translate(1435.6 693.9) scale(1.12 1) rotate(-45)" font-size="27.7">Organooxygen compounds</text>
<text class="ta" text-anchor="end" transform="translate(1549.8 693.9) scale(1.12 1) rotate(-45)" font-size="27.7">Steroids and steroid derivatives</text>
<text class="ta" text-anchor="end" transform="translate(1664 693.9) scale(1.12 1) rotate(-45)" font-size="27.7">Benzene and substituted derivatives</text>
<text class="ta" text-anchor="end" transform="translate(1778.2 693.9) scale(1.12 1) rotate(-45)" font-size="27.7">Coumarins and derivatives</text>
<text class="ta" text-anchor="end" transform="translate(1892.4 693.9) scale(1.12 1) rotate(-45)" font-size="27.7">Flavonoids</text>
<text class="ta" text-anchor="end" transform="translate(2006.6 693.9) scale(1.12 1) rotate(-45)" font-size="27.7">Phenols</text>
<text class="ta" text-anchor="end" transform="translate(2120.8 693.9) scale(1.12 1) rotate(-45)" font-size="27.7">Indoles and derivatives</text>
<defs><linearGradient id="cb" x1="0" y1="1" x2="0" y2="0"><stop offset="0" stop-color="#f8f58c"/><stop offset="0.33" stop-color="#fdd287"/><stop offset="0.66" stop-color="#ffac87"/><stop offset="1" stop-color="#ff878a"/></linearGradient></defs>
<text class="sr" transform="translate(2204.8 55.4) scale(1.12 1)" font-size="34.5" letter-spacing="1.6">count</text>
<rect x="2219.5" y="71.5" width="39" height="296.5" fill="url(#cb)" stroke="#111" stroke-width="2.2"/>
<path d="M2259 81.6H2272.4M2259 175.3H2272.4M2259 268.4H2272.4M2259 361.5H2272.4" stroke="#111" stroke-width="1.8"/>
<text class="sr" transform="translate(2279 87.2) scale(1.12 1)" font-size="17" fill="#222">60</text>
<text class="sr" transform="translate(2279 180.9) scale(1.12 1)" font-size="17" fill="#222">40</text>
<text class="sr" transform="translate(2279 274) scale(1.12 1)" font-size="17" fill="#222">20</text>
<text class="sr" transform="translate(2279 367.1) scale(1.12 1)" font-size="17" fill="#222">0</text>
<text class="sr" transform="translate(2197.7 419.6) scale(1.12 1)" font-size="34.5" letter-spacing="1.6">count</text>
<ellipse cx="2242" cy="470" rx="29.5" ry="26.9" fill="none" stroke="#ececec" stroke-width="1.6"/>
<text class="sr" transform="translate(2299 477.3) scale(1.12 1)" font-size="21.5" fill="#222">20</text>
<ellipse cx="2241.6" cy="550" rx="41.4" ry="38.0" fill="none" stroke="#ececec" stroke-width="1.6"/>
<text class="sr" transform="translate(2299 557.3) scale(1.12 1)" font-size="21.5" fill="#222">40</text>
<ellipse cx="2241" cy="648" rx="51.5" ry="47.0" fill="none" stroke="#ececec" stroke-width="1.6"/>
<text class="sr" transform="translate(2299 655.3) scale(1.12 1)" font-size="21.5" fill="#222">60</text>
<rect x="882" y="1085.8" width="28.7" height="44.86" fill="#fff200"/>
<rect x="882" y="1130.36" width="28.7" height="44.86" fill="#0f7db0"/>
<rect x="882" y="1174.92" width="28.7" height="44.86" fill="#ffa000"/>
<rect x="882" y="1219.48" width="28.7" height="44.86" fill="#ff0a14"/>
<rect x="882" y="1264.04" width="28.7" height="44.86" fill="#0a41a0"/>
<g transform="translate(910.7 1085.8) scale(20.3542 14.8533)" shape-rendering="crispEdges">
<path fill="#ffeedd" d="M0 0h1v1h-1zM2 0h1v1h-1zM44 0h1v1h-1zM60 0h2v1h-2zM65 0h2v1h-2zM68 0h1v1h-1zM0 1h1v1h-1zM5 1h1v1h-1zM9 1h3v1h-3zM32 1h2v1h-2zM39 1h1v1h-1zM41 1h1v1h-1zM66 1h1v1h-1zM0 2h1v1h-1zM4 2h4v1h-4zM42 2h1v1h-1zM45 2h1v1h-1zM47 2h1v1h-1zM49 2h1v1h-1zM63 2h1v1h-1zM65 2h1v1h-1zM69 2h1v1h-1zM3 3h1v1h-1zM13 3h3v1h-3zM19 3h1v1h-1zM21 3h3v1h-3zM30 3h1v1h-1zM36 3h1v1h-1zM45 3h1v1h-1zM49 3h2v1h-2zM0 4h1v1h-1zM2 4h1v1h-1zM14 4h2v1h-2zM19 4h1v1h-1zM24 4h1v1h-1zM29 4h1v1h-1zM35 4h1v1h-1zM39 4h1v1h-1zM42 4h3v1h-3zM47 4h2v1h-2zM56 4h1v1h-1zM71 4h1v1h-1zM3 5h3v1h-3zM22 5h3v1h-3zM36 5h1v1h-1zM39 5h1v1h-1zM45 5h1v1h-1zM69 5h1v1h-1zM33 6h1v1h-1zM43 6h1v1h-1zM52 6h3v1h-3zM57 6h1v1h-1zM63 6h3v1h-3zM9 7h1v1h-1zM24 7h1v1h-1zM41 7h1v1h-1zM43 7h1v1h-1zM52 7h1v1h-1zM54 7h1v1h-1zM0 8h1v1h-1zM19 8h1v1h-1zM21 8h5v1h-5zM33 8h1v1h-1zM43 8h2v1h-2zM46 8h2v1h-2zM53 8h2v1h-2zM61 8h1v1h-1zM63 8h1v1h-1zM38 10h1v1h-1z"/>
<path fill="#ffd8a0" d="M1 0h1v1h-1zM3 0h1v1h-1zM15 0h1v1h-1zM21 0h1v1h-1zM26 0h2v1h-2zM30 0h2v1h-2zM37 0h2v1h-2zM40 0h1v1h-1zM45 0h1v1h-1zM48 0h1v1h-1zM55 0h5v1h-5zM62 0h1v1h-1zM64 0h1v1h-1zM67 0h1v1h-1zM4 1h1v1h-1zM8 1h1v1h-1zM14 1h3v1h-3zM22 1h1v1h-1zM29 1h1v1h-1zM37 1h1v1h-1zM54 1h1v1h-1zM57 1h1v1h-1zM61 1h2v1h-2zM64 1h2v1h-2zM71 1h1v1h-1zM8 2h1v1h-1zM20 2h1v1h-1zM26 2h1v1h-1zM43 2h2v1h-2zM48 2h1v1h-1zM51 2h1v1h-1zM55 2h3v1h-3zM61 2h1v1h-1zM66 2h1v1h-1zM68 2h1v1h-1zM70 2h2v1h-2zM0 3h2v1h-2zM5 3h1v1h-1zM29 3h1v1h-1zM31 3h1v1h-1zM35 3h1v1h-1zM37 3h1v1h-1zM41 3h1v1h-1zM44 3h1v1h-1zM46 3h1v1h-1zM48 3h1v1h-1zM62 3h1v1h-1zM70 3h1v1h-1zM30 4h4v1h-4zM36 4h2v1h-2zM41 4h1v1h-1zM45 4h1v1h-1zM52 4h4v1h-4zM57 4h2v1h-2zM60 4h2v1h-2zM65 4h1v1h-1zM68 4h1v1h-1zM2 5h1v1h-1zM19 5h3v1h-3zM30 5h1v1h-1zM32 5h3v1h-3zM38 5h1v1h-1zM41 5h2v1h-2zM46 5h2v1h-2zM52 5h2v1h-2zM63 5h1v1h-1zM1 6h1v1h-1zM13 6h1v1h-1zM19 6h1v1h-1zM29 6h1v1h-1zM31 6h1v1h-1zM34 6h3v1h-3zM44 6h1v1h-1zM50 6h2v1h-2zM56 6h1v1h-1zM62 6h1v1h-1zM67 6h3v1h-3zM6 7h1v1h-1zM13 7h3v1h-3zM20 7h1v1h-1zM23 7h1v1h-1zM25 7h1v1h-1zM31 7h1v1h-1zM39 7h1v1h-1zM42 7h1v1h-1zM44 7h4v1h-4zM53 7h1v1h-1zM55 7h3v1h-3zM61 7h4v1h-4zM66 7h1v1h-1zM16 8h1v1h-1zM20 8h1v1h-1zM30 8h2v1h-2zM38 8h1v1h-1zM40 8h2v1h-2zM48 8h1v1h-1zM51 8h1v1h-1zM56 8h1v1h-1zM60 8h1v1h-1z"/>
<path fill="#ff7a00" d="M4 0h2v1h-2zM8 0h2v1h-2zM22 0h1v1h-1zM42 1h3v1h-3zM49 1h3v1h-3zM25 2h1v1h-1zM31 2h5v1h-5zM37 2h1v1h-1zM39 2h1v1h-1zM57 3h1v1h-1zM59 3h3v1h-3zM65 3h2v1h-2zM62 4h2v1h-2zM58 5h1v1h-1zM60 5h2v1h-2zM26 6h1v1h-1zM1 7h1v1h-1zM4 7h1v1h-1zM28 7h2v1h-2zM71 7h1v1h-1zM2 8h1v1h-1zM10 8h1v1h-1zM12 8h1v1h-1zM15 8h1v1h-1zM28 8h1v1h-1zM69 8h1v1h-1z"/>
<path fill="#ffa510" d="M6 0h2v1h-2zM11 0h1v1h-1zM16 0h1v1h-1zM19 0h2v1h-2zM23 0h3v1h-3zM35 0h2v1h-2zM42 0h2v1h-2zM51 0h1v1h-1zM6 1h1v1h-1zM12 1h1v1h-1zM20 1h2v1h-2zM26 1h1v1h-1zM28 1h1v1h-1zM52 1h2v1h-2zM56 1h1v1h-1zM63 1h1v1h-1zM2 2h2v1h-2zM9 2h1v1h-1zM11 2h1v1h-1zM14 2h1v1h-1zM16 2h3v1h-3zM21 2h4v1h-4zM40 2h1v1h-1zM52 2h1v1h-1zM58 2h1v1h-1zM32 3h2v1h-2zM38 3h1v1h-1zM58 3h1v1h-1zM64 3h1v1h-1zM67 3h3v1h-3zM38 4h1v1h-1zM1 5h1v1h-1zM31 5h1v1h-1zM35 5h1v1h-1zM44 5h1v1h-1zM54 5h4v1h-4zM62 5h1v1h-1zM64 5h2v1h-2zM68 5h1v1h-1zM6 6h5v1h-5zM14 6h2v1h-2zM17 6h1v1h-1zM23 6h1v1h-1zM27 6h2v1h-2zM37 6h2v1h-2zM40 6h2v1h-2zM3 7h1v1h-1zM11 7h1v1h-1zM17 7h1v1h-1zM19 7h1v1h-1zM27 7h1v1h-1zM70 7h1v1h-1zM3 8h1v1h-1zM6 8h4v1h-4zM11 8h1v1h-1zM13 8h1v1h-1zM26 8h1v1h-1zM29 8h1v1h-1zM67 8h2v1h-2zM70 8h1v1h-1z"/>
<path fill="#ffbe58" d="M10 0h1v1h-1zM12 0h3v1h-3zM17 0h2v1h-2zM32 0h3v1h-3zM39 0h1v1h-1zM41 0h1v1h-1zM46 0h2v1h-2zM49 0h2v1h-2zM52 0h3v1h-3zM69 0h3v1h-3zM7 1h1v1h-1zM13 1h1v1h-1zM17 1h3v1h-3zM23 1h3v1h-3zM27 1h1v1h-1zM55 1h1v1h-1zM58 1h3v1h-3zM69 1h2v1h-2zM1 2h1v1h-1zM10 2h1v1h-1zM12 2h2v1h-2zM15 2h1v1h-1zM19 2h1v1h-1zM27 2h1v1h-1zM38 2h1v1h-1zM41 2h1v1h-1zM50 2h1v1h-1zM53 2h2v1h-2zM59 2h2v1h-2zM67 2h1v1h-1zM34 3h1v1h-1zM39 3h2v1h-2zM42 3h2v1h-2zM47 3h1v1h-1zM52 3h5v1h-5zM63 3h1v1h-1zM71 3h1v1h-1zM13 4h1v1h-1zM34 4h1v1h-1zM40 4h1v1h-1zM59 4h1v1h-1zM64 4h1v1h-1zM66 4h2v1h-2zM70 4h1v1h-1zM0 5h1v1h-1zM37 5h1v1h-1zM40 5h1v1h-1zM43 5h1v1h-1zM59 5h1v1h-1zM66 5h2v1h-2zM70 5h2v1h-2zM0 6h1v1h-1zM2 6h2v1h-2zM5 6h1v1h-1zM11 6h2v1h-2zM16 6h1v1h-1zM18 6h1v1h-1zM20 6h2v1h-2zM24 6h2v1h-2zM39 6h1v1h-1zM48 6h2v1h-2zM55 6h1v1h-1zM2 7h1v1h-1zM5 7h1v1h-1zM7 7h2v1h-2zM10 7h1v1h-1zM16 7h1v1h-1zM18 7h1v1h-1zM21 7h2v1h-2zM26 7h1v1h-1zM32 7h1v1h-1zM49 7h3v1h-3zM65 7h1v1h-1zM67 7h3v1h-3zM5 8h1v1h-1zM14 8h1v1h-1zM17 8h2v1h-2zM27 8h1v1h-1zM49 8h2v1h-2zM55 8h1v1h-1zM62 8h1v1h-1zM64 8h3v1h-3zM71 8h1v1h-1z"/>
<path fill="#f8f8fa" d="M28 0h1v1h-1zM63 0h1v1h-1zM3 1h1v1h-1zM34 1h1v1h-1zM67 1h1v1h-1zM29 2h1v1h-1zM46 2h1v1h-1zM64 2h1v1h-1zM20 3h1v1h-1zM51 3h1v1h-1zM1 4h1v1h-1zM3 4h1v1h-1zM10 4h1v1h-1zM16 4h1v1h-1zM20 4h1v1h-1zM23 4h1v1h-1zM25 4h1v1h-1zM46 4h1v1h-1zM51 4h1v1h-1zM69 4h1v1h-1zM13 5h2v1h-2zM29 5h1v1h-1zM48 5h2v1h-2zM22 6h1v1h-1zM45 6h1v1h-1zM59 6h1v1h-1zM61 6h1v1h-1zM66 6h1v1h-1zM33 7h2v1h-2zM40 7h1v1h-1zM59 7h2v1h-2zM32 8h1v1h-1zM34 8h1v1h-1zM39 8h1v1h-1zM45 8h1v1h-1zM52 8h1v1h-1zM4 9h1v1h-1zM16 9h1v1h-1zM4 10h1v1h-1zM57 10h1v1h-1zM39 13h1v1h-1z"/>
<path fill="#c8dcee" d="M29 0h1v1h-1zM1 1h1v1h-1zM35 1h2v1h-2zM40 1h1v1h-1zM68 1h1v1h-1zM28 2h1v1h-1zM62 2h1v1h-1zM2 3h1v1h-1zM4 3h1v1h-1zM9 3h2v1h-2zM12 3h1v1h-1zM18 3h1v1h-1zM24 3h2v1h-2zM28 3h1v1h-1zM4 4h1v1h-1zM11 4h2v1h-2zM18 4h1v1h-1zM22 4h1v1h-1zM49 4h2v1h-2zM10 5h3v1h-3zM15 5h4v1h-4zM25 5h1v1h-1zM28 5h1v1h-1zM50 5h2v1h-2zM4 6h1v1h-1zM30 6h1v1h-1zM32 6h1v1h-1zM42 6h1v1h-1zM46 6h2v1h-2zM58 6h1v1h-1zM60 6h1v1h-1zM70 6h1v1h-1zM12 7h1v1h-1zM30 7h1v1h-1zM35 7h2v1h-2zM48 7h1v1h-1zM1 8h1v1h-1zM4 8h1v1h-1zM35 8h2v1h-2zM42 8h1v1h-1zM57 8h3v1h-3zM17 9h1v1h-1zM5 10h1v1h-1zM16 10h1v1h-1zM45 10h1v1h-1zM5 11h1v1h-1zM27 11h1v1h-1zM26 12h2v1h-2zM70 12h1v1h-1zM15 13h1v1h-1zM22 13h1v1h-1zM26 13h2v1h-2zM29 13h1v1h-1zM38 13h1v1h-1zM66 13h1v1h-1zM31 14h1v1h-1zM35 14h1v1h-1z"/>
<path fill="#6aa9d1" d="M2 1h1v1h-1zM26 3h1v1h-1zM26 4h2v1h-2zM26 5h2v1h-2zM37 7h1v1h-1zM37 8h1v1h-1zM0 9h3v1h-3zM10 9h3v1h-3zM20 9h6v1h-6zM27 9h1v1h-1zM32 9h1v1h-1zM34 9h1v1h-1zM36 9h2v1h-2zM42 9h4v1h-4zM49 9h3v1h-3zM53 9h1v1h-1zM56 9h1v1h-1zM58 9h1v1h-1zM60 9h1v1h-1zM62 9h1v1h-1zM65 9h1v1h-1zM69 9h1v1h-1zM71 9h1v1h-1zM0 10h4v1h-4zM8 10h1v1h-1zM10 10h1v1h-1zM14 10h1v1h-1zM20 10h1v1h-1zM22 10h4v1h-4zM31 10h2v1h-2zM34 10h1v1h-1zM37 10h1v1h-1zM39 10h3v1h-3zM44 10h1v1h-1zM47 10h5v1h-5zM54 10h3v1h-3zM58 10h1v1h-1zM60 10h3v1h-3zM65 10h2v1h-2zM68 10h2v1h-2zM71 10h1v1h-1zM0 11h1v1h-1zM2 11h2v1h-2zM10 11h1v1h-1zM12 11h1v1h-1zM20 11h1v1h-1zM22 11h4v1h-4zM29 11h1v1h-1zM32 11h3v1h-3zM37 11h2v1h-2zM42 11h1v1h-1zM45 11h1v1h-1zM48 11h5v1h-5zM56 11h1v1h-1zM58 11h1v1h-1zM60 11h1v1h-1zM62 11h1v1h-1zM65 11h1v1h-1zM68 11h4v1h-4zM0 12h4v1h-4zM10 12h3v1h-3zM17 12h2v1h-2zM20 12h1v1h-1zM22 12h4v1h-4zM32 12h1v1h-1zM37 12h3v1h-3zM42 12h3v1h-3zM50 12h1v1h-1zM52 12h3v1h-3zM56 12h4v1h-4zM62 12h1v1h-1zM65 12h2v1h-2zM68 12h1v1h-1zM0 13h4v1h-4zM5 13h1v1h-1zM13 13h2v1h-2zM17 13h2v1h-2zM20 13h1v1h-1zM23 13h3v1h-3zM31 13h4v1h-4zM44 13h1v1h-1zM49 13h1v1h-1zM52 13h1v1h-1zM57 13h2v1h-2zM60 13h3v1h-3zM65 13h1v1h-1zM68 13h1v1h-1zM70 13h1v1h-1zM0 14h5v1h-5zM8 14h1v1h-1zM10 14h2v1h-2zM17 14h1v1h-1zM20 14h6v1h-6zM32 14h1v1h-1zM42 14h3v1h-3zM49 14h6v1h-6zM56 14h1v1h-1zM62 14h1v1h-1zM65 14h7v1h-7z"/>
<path fill="#94c0de" d="M30 1h2v1h-2zM38 1h1v1h-1zM6 3h3v1h-3zM11 3h1v1h-1zM16 3h2v1h-2zM5 4h5v1h-5zM17 4h1v1h-1zM21 4h1v1h-1zM28 4h1v1h-1zM6 5h4v1h-4zM71 6h1v1h-1zM38 7h1v1h-1zM58 7h1v1h-1zM5 9h5v1h-5zM18 9h2v1h-2zM26 9h1v1h-1zM28 9h1v1h-1zM30 9h1v1h-1zM46 9h2v1h-2zM57 9h1v1h-1zM63 9h2v1h-2zM6 10h2v1h-2zM9 10h1v1h-1zM11 10h2v1h-2zM17 10h3v1h-3zM21 10h1v1h-1zM26 10h3v1h-3zM30 10h1v1h-1zM35 10h2v1h-2zM42 10h1v1h-1zM46 10h1v1h-1zM53 10h1v1h-1zM63 10h2v1h-2zM1 11h1v1h-1zM6 11h4v1h-4zM11 11h1v1h-1zM21 11h1v1h-1zM26 11h1v1h-1zM28 11h1v1h-1zM30 11h1v1h-1zM41 11h1v1h-1zM43 11h1v1h-1zM46 11h2v1h-2zM59 11h1v1h-1zM61 11h1v1h-1zM64 11h1v1h-1zM6 12h4v1h-4zM19 12h1v1h-1zM28 12h1v1h-1zM30 12h1v1h-1zM33 12h4v1h-4zM40 12h1v1h-1zM45 12h5v1h-5zM51 12h1v1h-1zM55 12h1v1h-1zM60 12h2v1h-2zM69 12h1v1h-1zM71 12h1v1h-1zM4 13h1v1h-1zM6 13h7v1h-7zM16 13h1v1h-1zM28 13h1v1h-1zM30 13h1v1h-1zM35 13h3v1h-3zM40 13h1v1h-1zM42 13h1v1h-1zM45 13h4v1h-4zM50 13h2v1h-2zM55 13h2v1h-2zM59 13h1v1h-1zM67 13h1v1h-1zM6 14h2v1h-2zM9 14h1v1h-1zM12 14h1v1h-1zM16 14h1v1h-1zM18 14h1v1h-1zM26 14h5v1h-5zM33 14h2v1h-2zM36 14h5v1h-5zM45 14h4v1h-4zM58 14h4v1h-4zM63 14h1v1h-1z"/>
<path fill="#ff3a14" d="M45 1h4v1h-4zM30 2h1v1h-1zM36 2h1v1h-1zM0 7h1v1h-1z"/>
<path fill="#4894c6" d="M27 3h1v1h-1zM3 9h1v1h-1zM13 9h3v1h-3zM29 9h1v1h-1zM31 9h1v1h-1zM33 9h1v1h-1zM35 9h1v1h-1zM38 9h1v1h-1zM40 9h2v1h-2zM48 9h1v1h-1zM52 9h1v1h-1zM54 9h2v1h-2zM59 9h1v1h-1zM61 9h1v1h-1zM66 9h3v1h-3zM70 9h1v1h-1zM13 10h1v1h-1zM15 10h1v1h-1zM29 10h1v1h-1zM33 10h1v1h-1zM43 10h1v1h-1zM52 10h1v1h-1zM59 10h1v1h-1zM67 10h1v1h-1zM70 10h1v1h-1zM4 11h1v1h-1zM13 11h3v1h-3zM17 11h3v1h-3zM31 11h1v1h-1zM35 11h2v1h-2zM39 11h2v1h-2zM44 11h1v1h-1zM53 11h3v1h-3zM57 11h1v1h-1zM63 11h1v1h-1zM66 11h2v1h-2zM4 12h2v1h-2zM13 12h4v1h-4zM21 12h1v1h-1zM29 12h1v1h-1zM31 12h1v1h-1zM41 12h1v1h-1zM63 12h2v1h-2zM67 12h1v1h-1zM19 13h1v1h-1zM21 13h1v1h-1zM41 13h1v1h-1zM43 13h1v1h-1zM53 13h2v1h-2zM63 13h2v1h-2zM69 13h1v1h-1zM71 13h1v1h-1zM5 14h1v1h-1zM13 14h3v1h-3zM19 14h1v1h-1zM41 14h1v1h-1zM55 14h1v1h-1zM57 14h1v1h-1zM64 14h1v1h-1z"/>
<path fill="#0a62b8" d="M39 9h1v1h-1zM16 11h1v1h-1z"/>
</g>
<g class="ta hl" font-size="19.5">
<text transform="translate(933.88 1324) rotate(-90) scale(0.745 1)" text-anchor="end">Gibberellin A5</text>
<text transform="translate(954.23 1324) rotate(-90) scale(0.745 1)" text-anchor="end">Tyrosyl-Glutamate</text>
<text transform="translate(974.59 1324) rotate(-90) scale(0.745 1)" text-anchor="end">Genipin</text>
<text transform="translate(994.94 1324) rotate(-90) scale(0.745 1)" text-anchor="end">(R)-(+)-Citronellal</text>
<text transform="translate(1015.29 1324) rotate(-90) scale(0.745 1)" text-anchor="end">cis-3-Hexenyl hexanoate</text>
<text transform="translate(1035.65 1324) rotate(-90) scale(0.745 1)" text-anchor="end">9,10-Dihydroxystearate</text>
<text transform="translate(1056 1324) rotate(-90) scale(0.745 1)" text-anchor="end">Gibberellin A24</text>
<text transform="translate(1076.36 1324) rotate(-90) scale(0.745 1)" text-anchor="end">epirosmanol</text>
<text transform="translate(1096.71 1324) rotate(-90) scale(0.745 1)" text-anchor="end">Tryptophyl-Lysine</text>
<text transform="translate(1117.06 1324) rotate(-90) scale(0.745 1)" text-anchor="end">Soyasaponin A3</text>
<text transform="translate(1137.42 1324) rotate(-90) scale(0.745 1)" text-anchor="end">Macrocin</text>
<text transform="translate(1157.77 1324) rotate(-90) scale(0.745 1)" text-anchor="end">OPC8-CoA</text>
<text transform="translate(1178.13 1324) rotate(-90) scale(0.745 1)" text-anchor="end">Azukisaponin IV</text>
<text transform="translate(1198.48 1324) rotate(-90) scale(0.745 1)" text-anchor="end">(-)-Jasmonic acid</text>
<text transform="translate(1218.84 1324) rotate(-90) scale(0.745 1)" text-anchor="end">Vincristine</text>
<text transform="translate(1239.19 1324) rotate(-90) scale(0.745 1)" text-anchor="end">Soyasaponin gamma-A</text>
<text transform="translate(1259.54 1324) rotate(-90) scale(0.745 1)" text-anchor="end">Geranylacetone</text>
<text transform="translate(1279.9 1324) rotate(-90) scale(0.745 1)" text-anchor="end">(2E,4E)-2,4-Octadien-1-ol</text>
<text transform="translate(1300.25 1324) rotate(-90) scale(0.745 1)" text-anchor="end">(E)-3-Hexen-1-ol</text>
<text transform="translate(1320.61 1324) rotate(-90) scale(0.745 1)" text-anchor="end">16-Hydroxypalmitate</text>
<text transform="translate(1340.96 1324) rotate(-90) scale(0.745 1)" text-anchor="end">Propenoyl-CoA</text>
<text transform="translate(1361.31 1324) rotate(-90) scale(0.745 1)" text-anchor="end">(9Z,11E)-(13S)-13-Hydroperoxyoctadeca-9,11-dienoic acid</text>
<text transform="translate(1381.67 1324) rotate(-90) scale(0.745 1)" text-anchor="end">Histidinyl-Arginine</text>
<text transform="translate(1402.02 1324) rotate(-90) scale(0.745 1)" text-anchor="end">Misoprostol</text>
<text transform="translate(1422.38 1324) rotate(-90) scale(0.745 1)" text-anchor="end">(13Z,16Z)-Docosadienoic acid</text>
<text transform="translate(1442.73 1324) rotate(-90) scale(0.745 1)" text-anchor="end">8-Ocimenyl acetate</text>
<text transform="translate(1463.09 1324) rotate(-90) scale(0.745 1)" text-anchor="end">Cephalosporin C</text>
<text transform="translate(1483.44 1324) rotate(-90) scale(0.745 1)" text-anchor="end">L-Tyrosine methyl ester</text>
<text transform="translate(1503.79 1324) rotate(-90) scale(0.745 1)" text-anchor="end">L-Arginine</text>
<text transform="translate(1524.15 1324) rotate(-90) scale(0.745 1)" text-anchor="end">Val-Trp</text>
<text transform="translate(1544.5 1324) rotate(-90) scale(0.745 1)" text-anchor="end">Leukotriene E4</text>
<text transform="translate(1564.86 1324) rotate(-90) scale(0.745 1)" text-anchor="end">2-Amino-2-deoxy-D-gluconate</text>
<text transform="translate(1585.21 1324) rotate(-90) scale(0.745 1)" text-anchor="end">Nomilin</text>
<text transform="translate(1605.56 1324) rotate(-90) scale(0.745 1)" text-anchor="end">Gibberellin A8-catabolite</text>
<text transform="translate(1625.92 1324) rotate(-90) scale(0.745 1)" text-anchor="end">Isohumbertiol</text>
<text transform="translate(1646.27 1324) rotate(-90) scale(0.745 1)" text-anchor="end">OPC6-CoA</text>
<text transform="translate(1666.63 1324) rotate(-90) scale(0.745 1)" text-anchor="end">beta-Spathulene</text>
<text transform="translate(1686.98 1324) rotate(-90) scale(0.745 1)" text-anchor="end">Serinyl-Arginine</text>
<text transform="translate(1707.34 1324) rotate(-90) scale(0.745 1)" text-anchor="end">Germacrone-13-al</text>
<text transform="translate(1727.69 1324) rotate(-90) scale(0.745 1)" text-anchor="end">Gibberellin A7</text>
<text transform="translate(1748.04 1324) rotate(-90) scale(0.745 1)" text-anchor="end">Spathulenol</text>
<text transform="translate(1768.4 1324) rotate(-90) scale(0.745 1)" text-anchor="end">Acoric acid</text>
<text transform="translate(1788.75 1324) rotate(-90) scale(0.745 1)" text-anchor="end">Valyl-Alanine</text>
<text transform="translate(1809.11 1324) rotate(-90) scale(0.745 1)" text-anchor="end">3-oxo-tetradecanoic acid</text>
<text transform="translate(1829.46 1324) rotate(-90) scale(0.745 1)" text-anchor="end">Sebacate</text>
<text transform="translate(1849.81 1324) rotate(-90) scale(0.745 1)" text-anchor="end">(9Z)-Hexadecenoic acid</text>
<text transform="translate(1870.17 1324) rotate(-90) scale(0.745 1)" text-anchor="end">Myristic Acid</text>
<text transform="translate(1890.52 1324) rotate(-90) scale(0.745 1)" text-anchor="end">2-tetradecenal</text>
<text transform="translate(1910.88 1324) rotate(-90) scale(0.745 1)" text-anchor="end">7-Deoxyloganic acid</text>
<text transform="translate(1931.23 1324) rotate(-90) scale(0.745 1)" text-anchor="end">Rebaudioside D</text>
<text transform="translate(1951.59 1324) rotate(-90) scale(0.745 1)" text-anchor="end">Succinate semialdehyde</text>
<text transform="translate(1971.94 1324) rotate(-90) scale(0.745 1)" text-anchor="end">L-Arogenate</text>
<text transform="translate(1992.29 1324) rotate(-90) scale(0.745 1)" text-anchor="end">Phe-Ser</text>
<text transform="translate(2012.65 1324) rotate(-90) scale(0.745 1)" text-anchor="end">Caprylic acid</text>
<text transform="translate(2033 1324) rotate(-90) scale(0.745 1)" text-anchor="end">L-Phenylalanine</text>
<text transform="translate(2053.36 1324) rotate(-90) scale(0.745 1)" text-anchor="end">Phenylacetylglutamine</text>
<text transform="translate(2073.71 1324) rotate(-90) scale(0.745 1)" text-anchor="end">Deoxyloganin</text>
<text transform="translate(2094.06 1324) rotate(-90) scale(0.745 1)" text-anchor="end">Leukotriene F4</text>
<text transform="translate(2114.42 1324) rotate(-90) scale(0.745 1)" text-anchor="end">L-Glycyl-L-isoleucine</text>
<text transform="translate(2134.77 1324) rotate(-90) scale(0.745 1)" text-anchor="end">Lysyl-Tryptophan</text>
<text transform="translate(2155.13 1324) rotate(-90) scale(0.745 1)" text-anchor="end">(13R,14R)-7-Labdene-13,14,15-triol</text>
<text transform="translate(2175.48 1324) rotate(-90) scale(0.745 1)" text-anchor="end">Arginyl-Glutamine</text>
<text transform="translate(2195.84 1324) rotate(-90) scale(0.745 1)" text-anchor="end">Soyasaponin VI</text>
<text transform="translate(2216.19 1324) rotate(-90) scale(0.745 1)" text-anchor="end">-Tocotrienol</text>
<text transform="translate(2236.54 1324) rotate(-90) scale(0.745 1)" text-anchor="end">Ceanothic acid</text>
<text transform="translate(2256.9 1324) rotate(-90) scale(0.745 1)" text-anchor="end">Geranyl 2-ethylbutyrate</text>
<text transform="translate(2277.25 1324) rotate(-90) scale(0.745 1)" text-anchor="end">(+)-3-Carene</text>
<text transform="translate(2297.61 1324) rotate(-90) scale(0.745 1)" text-anchor="end">Trypanothione</text>
<text transform="translate(2317.96 1324) rotate(-90) scale(0.745 1)" text-anchor="end">Methuyl tanshinonate</text>
<text transform="translate(2338.31 1324) rotate(-90) scale(0.745 1)" text-anchor="end">Calcium Pantothenate</text>
<text transform="translate(2358.67 1324) rotate(-90) scale(0.745 1)" text-anchor="end">Propionic Acid</text>
<text transform="translate(2379.02 1324) rotate(-90) scale(0.745 1)" text-anchor="end">Caproic acid</text>
</g>
<defs><linearGradient id="gc" x1="0" y1="0" x2="0" y2="1"><stop offset="0" stop-color="rgb(255, 38, 20)"/><stop offset="0.25" stop-color="rgb(255, 158, 0)"/><stop offset="0.4" stop-color="rgb(255, 224, 172)"/><stop offset="0.5" stop-color="rgb(255, 255, 255)"/><stop offset="0.61" stop-color="rgb(150, 195, 226)"/><stop offset="0.75" stop-color="rgb(16, 122, 180)"/><stop offset="1" stop-color="rgb(8, 69, 160)"/></linearGradient></defs>
<rect x="2399.6" y="1085.9" width="13.4" height="87.1" fill="url(#gc)"/>
<text class="ta tl" transform="translate(2436 1091.06) scale(1.55 1)" font-size="13.5">3.0</text>
<text class="ta tl" transform="translate(2436 1112.76) scale(1.55 1)" font-size="13.5">1.5</text>
<text class="ta tl" transform="translate(2436 1134.46) scale(1.55 1)" font-size="13.5">0.0</text>
<text class="ta tl" transform="translate(2436 1156.16) scale(1.55 1)" font-size="13.5">-1.5</text>
<text class="ta tl" transform="translate(2436 1177.86) scale(1.55 1)" font-size="13.5">-3.0</text>
<rect x="2399.6" y="1202" width="13.4" height="17.6" fill="#fff200"/>
<text class="ta tl" transform="translate(2436 1215.87) scale(1.34 1)" font-size="14.5">S1</text>
<rect x="2399.6" y="1219.3" width="13.4" height="17.8" fill="#ffa000"/>
<text class="ta tl" transform="translate(2436 1233.27) scale(1.34 1)" font-size="14.5">S2</text>
<rect x="2399.6" y="1236.8" width="13.4" height="17.5" fill="#0f7db0"/>
<text class="ta tl" transform="translate(2436 1250.62) scale(1.34 1)" font-size="14.5">S3</text>
<rect x="2399.6" y="1254" width="13.4" height="17.3" fill="#0a41a0"/>
<text class="ta tl" transform="translate(2436 1267.72) scale(1.34 1)" font-size="14.5">S4</text>
<rect x="2399.6" y="1271" width="13.4" height="17.6" fill="#ff0a14"/>
<text class="ta tl" transform="translate(2436 1284.87) scale(1.34 1)" font-size="14.5">S5</text>
<text class="sr" x="899" y="1004.9" font-size="58">c</text>
<rect x="864" y="1803.7" width="23.8" height="46.66" fill="#fff200"/>
<rect x="864" y="1850.06" width="23.8" height="46.66" fill="#0f7db0"/>
<rect x="864" y="1896.42" width="23.8" height="46.66" fill="#ffa000"/>
<rect x="864" y="1942.78" width="23.8" height="46.66" fill="#ff0a14"/>
<rect x="864" y="1989.14" width="23.8" height="46.66" fill="#0a41a0"/>
<g transform="translate(887.8 1803.7) scale(12.5402 15.4533)" shape-rendering="crispEdges">
<path fill="#a1c7e1" d="M0 0h1v1h-1zM3 0h8v1h-8zM12 0h2v1h-2zM15 0h1v1h-1zM20 0h2v1h-2zM23 0h3v1h-3zM27 0h1v1h-1zM29 0h1v1h-1zM31 0h2v1h-2zM37 0h2v1h-2zM40 0h1v1h-1zM46 0h1v1h-1zM48 0h2v1h-2zM51 0h2v1h-2zM55 0h2v1h-2zM58 0h6v1h-6zM67 0h1v1h-1zM69 0h1v1h-1zM73 0h6v1h-6zM80 0h4v1h-4zM88 0h2v1h-2zM94 0h1v1h-1zM96 0h1v1h-1zM100 0h1v1h-1zM102 0h1v1h-1zM104 0h1v1h-1zM107 0h2v1h-2zM110 0h3v1h-3zM115 0h4v1h-4zM121 0h1v1h-1zM1 1h1v1h-1zM4 1h1v1h-1zM15 1h1v1h-1zM17 1h1v1h-1zM20 1h1v1h-1zM28 1h1v1h-1zM31 1h2v1h-2zM40 1h1v1h-1zM42 1h1v1h-1zM44 1h1v1h-1zM48 1h1v1h-1zM59 1h1v1h-1zM63 1h2v1h-2zM66 1h1v1h-1zM68 1h1v1h-1zM71 1h1v1h-1zM73 1h4v1h-4zM80 1h1v1h-1zM83 1h1v1h-1zM85 1h2v1h-2zM89 1h2v1h-2zM92 1h1v1h-1zM94 1h1v1h-1zM97 1h1v1h-1zM99 1h2v1h-2zM102 1h1v1h-1zM104 1h1v1h-1zM107 1h2v1h-2zM110 1h1v1h-1zM113 1h1v1h-1zM115 1h1v1h-1zM117 1h2v1h-2zM0 2h1v1h-1zM3 2h1v1h-1zM5 2h1v1h-1zM7 2h1v1h-1zM9 2h1v1h-1zM12 2h1v1h-1zM15 2h1v1h-1zM19 2h1v1h-1zM21 2h1v1h-1zM23 2h4v1h-4zM28 2h1v1h-1zM30 2h2v1h-2zM36 2h5v1h-5zM42 2h5v1h-5zM49 2h1v1h-1zM51 2h2v1h-2zM54 2h1v1h-1zM56 2h1v1h-1zM58 2h3v1h-3zM62 2h3v1h-3zM69 2h1v1h-1zM73 2h6v1h-6zM80 2h2v1h-2zM83 2h1v1h-1zM88 2h1v1h-1zM94 2h1v1h-1zM96 2h2v1h-2zM100 2h1v1h-1zM102 2h1v1h-1zM104 2h4v1h-4zM110 2h3v1h-3zM115 2h1v1h-1zM117 2h3v1h-3zM121 2h1v1h-1zM0 3h1v1h-1zM2 3h4v1h-4zM12 3h1v1h-1zM15 3h7v1h-7zM24 3h1v1h-1zM30 3h1v1h-1zM32 3h1v1h-1zM39 3h1v1h-1zM42 3h1v1h-1zM44 3h1v1h-1zM46 3h1v1h-1zM49 3h1v1h-1zM51 3h1v1h-1zM54 3h3v1h-3zM58 3h4v1h-4zM64 3h1v1h-1zM68 3h3v1h-3zM72 3h7v1h-7zM80 3h2v1h-2zM83 3h1v1h-1zM85 3h1v1h-1zM87 3h1v1h-1zM90 3h1v1h-1zM92 3h1v1h-1zM94 3h1v1h-1zM96 3h2v1h-2zM99 3h2v1h-2zM102 3h3v1h-3zM107 3h2v1h-2zM110 3h1v1h-1zM112 3h1v1h-1zM114 3h2v1h-2zM117 3h2v1h-2zM120 3h2v1h-2zM0 4h1v1h-1zM2 4h2v1h-2zM6 4h1v1h-1zM12 4h1v1h-1zM15 4h7v1h-7zM23 4h3v1h-3zM27 4h1v1h-1zM30 4h1v1h-1zM32 4h1v1h-1zM35 4h1v1h-1zM37 4h2v1h-2zM44 4h1v1h-1zM46 4h1v1h-1zM48 4h2v1h-2zM51 4h1v1h-1zM54 4h3v1h-3zM64 4h1v1h-1zM66 4h1v1h-1zM69 4h6v1h-6zM76 4h1v1h-1zM78 4h3v1h-3zM82 4h2v1h-2zM85 4h2v1h-2zM88 4h1v1h-1zM90 4h1v1h-1zM94 4h1v1h-1zM97 4h3v1h-3zM102 4h3v1h-3zM107 4h2v1h-2zM110 4h4v1h-4zM115 4h4v1h-4zM121 4h1v1h-1zM0 5h1v1h-1zM2 5h4v1h-4zM9 5h5v1h-5zM15 5h7v1h-7zM23 5h8v1h-8zM32 5h1v1h-1zM35 5h2v1h-2zM38 5h1v1h-1zM40 5h3v1h-3zM44 5h1v1h-1zM46 5h4v1h-4zM51 5h1v1h-1zM54 5h3v1h-3zM58 5h4v1h-4zM63 5h3v1h-3zM69 5h2v1h-2zM72 5h5v1h-5zM78 5h4v1h-4zM83 5h1v1h-1zM85 5h1v1h-1zM88 5h1v1h-1zM90 5h3v1h-3zM94 5h1v1h-1zM96 5h2v1h-2zM99 5h2v1h-2zM102 5h3v1h-3zM107 5h4v1h-4zM112 5h1v1h-1zM114 5h5v1h-5zM120 5h2v1h-2zM1 6h1v1h-1zM5 6h1v1h-1zM8 6h3v1h-3zM12 6h2v1h-2zM17 6h1v1h-1zM19 6h2v1h-2zM23 6h2v1h-2zM26 6h2v1h-2zM30 6h3v1h-3zM38 6h3v1h-3zM44 6h1v1h-1zM46 6h4v1h-4zM51 6h1v1h-1zM54 6h1v1h-1zM59 6h1v1h-1zM61 6h4v1h-4zM66 6h2v1h-2zM69 6h1v1h-1zM72 6h3v1h-3zM76 6h1v1h-1zM78 6h1v1h-1zM81 6h1v1h-1zM83 6h1v1h-1zM89 6h4v1h-4zM94 6h1v1h-1zM96 6h9v1h-9zM107 6h1v1h-1zM110 6h1v1h-1zM112 6h1v1h-1zM114 6h1v1h-1zM118 6h4v1h-4zM1 7h3v1h-3zM5 7h3v1h-3zM17 7h1v1h-1zM20 7h1v1h-1zM29 7h1v1h-1zM31 7h2v1h-2zM37 7h1v1h-1zM41 7h1v1h-1zM45 7h1v1h-1zM48 7h3v1h-3zM54 7h1v1h-1zM58 7h8v1h-8zM67 7h1v1h-1zM70 7h5v1h-5zM76 7h1v1h-1zM78 7h1v1h-1zM80 7h1v1h-1zM83 7h1v1h-1zM87 7h6v1h-6zM94 7h1v1h-1zM96 7h2v1h-2zM99 7h6v1h-6zM107 7h2v1h-2zM110 7h1v1h-1zM112 7h1v1h-1zM115 7h1v1h-1zM117 7h2v1h-2zM120 7h2v1h-2zM1 8h5v1h-5zM8 8h3v1h-3zM12 8h4v1h-4zM17 8h1v1h-1zM25 8h1v1h-1zM27 8h1v1h-1zM29 8h4v1h-4zM37 8h3v1h-3zM46 8h1v1h-1zM48 8h3v1h-3zM52 8h1v1h-1zM56 8h9v1h-9zM66 8h2v1h-2zM69 8h1v1h-1zM72 8h5v1h-5zM78 8h1v1h-1zM80 8h2v1h-2zM83 8h1v1h-1zM89 8h4v1h-4zM94 8h1v1h-1zM96 8h6v1h-6zM103 8h2v1h-2zM107 8h2v1h-2zM110 8h1v1h-1zM113 8h3v1h-3zM117 8h5v1h-5zM36 11h1v1h-1zM57 11h1v1h-1zM50 12h1v1h-1zM55 12h1v1h-1zM114 12h1v1h-1zM34 13h1v1h-1zM45 13h1v1h-1zM62 13h1v1h-1z"/>
<path fill="#7eb2d6" d="M1 0h1v1h-1zM11 0h1v1h-1zM14 0h1v1h-1zM30 0h1v1h-1zM41 0h3v1h-3zM47 0h1v1h-1zM50 0h1v1h-1zM68 0h1v1h-1zM71 0h1v1h-1zM97 0h1v1h-1zM120 0h1v1h-1zM0 1h1v1h-1zM8 1h3v1h-3zM13 1h1v1h-1zM41 1h1v1h-1zM55 1h1v1h-1zM58 1h1v1h-1zM60 1h1v1h-1zM82 1h1v1h-1zM88 1h1v1h-1zM96 1h1v1h-1zM120 1h1v1h-1zM1 2h1v1h-1zM16 2h1v1h-1zM22 2h1v1h-1zM27 2h1v1h-1zM47 2h1v1h-1zM70 2h2v1h-2zM120 2h1v1h-1zM6 3h2v1h-2zM34 3h1v1h-1zM36 3h2v1h-2zM41 3h1v1h-1zM43 3h1v1h-1zM47 3h2v1h-2zM66 3h2v1h-2zM82 3h1v1h-1zM86 3h1v1h-1zM88 3h1v1h-1zM98 3h1v1h-1zM116 3h1v1h-1zM119 3h1v1h-1zM7 4h1v1h-1zM22 4h1v1h-1zM26 4h1v1h-1zM28 4h2v1h-2zM36 4h1v1h-1zM39 4h1v1h-1zM42 4h1v1h-1zM52 4h1v1h-1zM77 4h1v1h-1zM101 4h1v1h-1zM119 4h1v1h-1zM7 5h1v1h-1zM22 5h1v1h-1zM31 5h1v1h-1zM34 5h1v1h-1zM37 5h1v1h-1zM43 5h1v1h-1zM53 5h1v1h-1zM66 5h1v1h-1zM82 5h1v1h-1zM86 5h2v1h-2zM98 5h1v1h-1zM111 5h1v1h-1zM113 5h1v1h-1zM119 5h1v1h-1zM2 6h1v1h-1zM4 6h1v1h-1zM6 6h1v1h-1zM14 6h1v1h-1zM16 6h1v1h-1zM28 6h2v1h-2zM35 6h1v1h-1zM45 6h1v1h-1zM52 6h1v1h-1zM57 6h1v1h-1zM70 6h1v1h-1zM84 6h1v1h-1zM95 6h1v1h-1zM8 7h3v1h-3zM13 7h1v1h-1zM18 7h1v1h-1zM35 7h1v1h-1zM51 7h1v1h-1zM57 7h1v1h-1zM66 7h1v1h-1zM81 7h1v1h-1zM84 7h1v1h-1zM98 7h1v1h-1zM109 7h1v1h-1zM113 7h1v1h-1zM116 7h1v1h-1zM35 8h1v1h-1zM54 8h1v1h-1zM70 8h1v1h-1zM79 8h1v1h-1zM84 8h1v1h-1zM87 8h1v1h-1zM50 11h1v1h-1zM53 11h1v1h-1zM53 12h1v1h-1zM36 13h1v1h-1zM50 13h1v1h-1zM57 13h1v1h-1zM65 13h1v1h-1z"/>
<path fill="#cbdeef" d="M2 0h1v1h-1zM16 0h2v1h-2zM19 0h1v1h-1zM26 0h1v1h-1zM44 0h1v1h-1zM54 0h1v1h-1zM64 0h3v1h-3zM70 0h1v1h-1zM85 0h3v1h-3zM90 0h3v1h-3zM99 0h1v1h-1zM103 0h1v1h-1zM119 0h1v1h-1zM3 1h1v1h-1zM5 1h1v1h-1zM7 1h1v1h-1zM12 1h1v1h-1zM14 1h1v1h-1zM19 1h1v1h-1zM21 1h7v1h-7zM29 1h2v1h-2zM37 1h3v1h-3zM46 1h2v1h-2zM50 1h5v1h-5zM56 1h1v1h-1zM61 1h2v1h-2zM67 1h1v1h-1zM69 1h1v1h-1zM77 1h2v1h-2zM87 1h1v1h-1zM91 1h1v1h-1zM112 1h1v1h-1zM121 1h1v1h-1zM6 2h1v1h-1zM8 2h1v1h-1zM10 2h1v1h-1zM14 2h1v1h-1zM17 2h1v1h-1zM20 2h1v1h-1zM32 2h2v1h-2zM41 2h1v1h-1zM48 2h1v1h-1zM61 2h1v1h-1zM66 2h2v1h-2zM79 2h1v1h-1zM82 2h1v1h-1zM85 2h1v1h-1zM89 2h1v1h-1zM91 2h2v1h-2zM108 2h1v1h-1zM1 3h1v1h-1zM9 3h2v1h-2zM13 3h1v1h-1zM22 3h2v1h-2zM25 3h5v1h-5zM31 3h1v1h-1zM35 3h1v1h-1zM38 3h1v1h-1zM40 3h1v1h-1zM45 3h1v1h-1zM57 3h1v1h-1zM63 3h1v1h-1zM65 3h1v1h-1zM79 3h1v1h-1zM89 3h1v1h-1zM91 3h1v1h-1zM93 3h1v1h-1zM8 4h4v1h-4zM13 4h1v1h-1zM31 4h1v1h-1zM40 4h2v1h-2zM45 4h1v1h-1zM47 4h1v1h-1zM53 4h1v1h-1zM57 4h5v1h-5zM63 4h1v1h-1zM65 4h1v1h-1zM75 4h1v1h-1zM81 4h1v1h-1zM89 4h1v1h-1zM91 4h3v1h-3zM100 4h1v1h-1zM6 5h1v1h-1zM8 5h1v1h-1zM39 5h1v1h-1zM52 5h1v1h-1zM57 5h1v1h-1zM67 5h2v1h-2zM77 5h1v1h-1zM84 5h1v1h-1zM89 5h1v1h-1zM93 5h1v1h-1zM0 6h1v1h-1zM3 6h1v1h-1zM7 6h1v1h-1zM15 6h1v1h-1zM18 6h1v1h-1zM21 6h2v1h-2zM25 6h1v1h-1zM37 6h1v1h-1zM55 6h2v1h-2zM58 6h1v1h-1zM68 6h1v1h-1zM71 6h1v1h-1zM75 6h1v1h-1zM80 6h1v1h-1zM82 6h1v1h-1zM85 6h2v1h-2zM88 6h1v1h-1zM93 6h1v1h-1zM108 6h1v1h-1zM115 6h3v1h-3zM0 7h1v1h-1zM12 7h1v1h-1zM15 7h1v1h-1zM19 7h1v1h-1zM21 7h5v1h-5zM27 7h2v1h-2zM30 7h1v1h-1zM33 7h1v1h-1zM38 7h1v1h-1zM40 7h1v1h-1zM43 7h2v1h-2zM46 7h2v1h-2zM52 7h1v1h-1zM69 7h1v1h-1zM75 7h1v1h-1zM77 7h1v1h-1zM82 7h1v1h-1zM85 7h2v1h-2zM93 7h1v1h-1zM95 7h1v1h-1zM0 8h1v1h-1zM11 8h1v1h-1zM16 8h1v1h-1zM18 8h7v1h-7zM26 8h1v1h-1zM40 8h2v1h-2zM43 8h2v1h-2zM47 8h1v1h-1zM51 8h1v1h-1zM65 8h1v1h-1zM68 8h1v1h-1zM71 8h1v1h-1zM77 8h1v1h-1zM82 8h1v1h-1zM86 8h1v1h-1zM88 8h1v1h-1zM93 8h1v1h-1zM102 8h1v1h-1zM112 8h1v1h-1zM116 8h1v1h-1zM34 12h1v1h-1zM36 12h1v1h-1zM62 12h1v1h-1zM65 12h1v1h-1zM86 12h1v1h-1zM92 12h1v1h-1zM109 12h1v1h-1zM2 13h1v1h-1zM6 13h1v1h-1zM18 13h1v1h-1zM39 13h1v1h-1zM42 13h1v1h-1zM53 13h1v1h-1zM85 13h1v1h-1zM91 13h1v1h-1zM93 13h1v1h-1zM105 13h1v1h-1zM109 13h1v1h-1zM114 13h1v1h-1zM117 13h2v1h-2zM34 14h1v1h-1zM36 14h1v1h-1zM53 14h1v1h-1zM61 14h1v1h-1zM93 14h1v1h-1zM121 14h1v1h-1z"/>
<path fill="#f4f6fa" d="M18 0h1v1h-1zM22 0h1v1h-1zM28 0h1v1h-1zM33 0h1v1h-1zM35 0h2v1h-2zM39 0h1v1h-1zM45 0h1v1h-1zM72 0h1v1h-1zM84 0h1v1h-1zM93 0h1v1h-1zM95 0h1v1h-1zM101 0h1v1h-1zM105 0h2v1h-2zM113 0h2v1h-2zM6 1h1v1h-1zM43 1h1v1h-1zM49 1h1v1h-1zM72 1h1v1h-1zM81 1h1v1h-1zM103 1h1v1h-1zM111 1h1v1h-1zM116 1h1v1h-1zM2 2h1v1h-1zM4 2h1v1h-1zM13 2h1v1h-1zM18 2h1v1h-1zM50 2h1v1h-1zM55 2h1v1h-1zM57 2h1v1h-1zM65 2h1v1h-1zM72 2h1v1h-1zM86 2h1v1h-1zM90 2h1v1h-1zM93 2h1v1h-1zM95 2h1v1h-1zM98 2h2v1h-2zM101 2h1v1h-1zM103 2h1v1h-1zM116 2h1v1h-1zM8 3h1v1h-1zM52 3h1v1h-1zM71 3h1v1h-1zM84 3h1v1h-1zM4 4h2v1h-2zM67 4h2v1h-2zM84 4h1v1h-1zM96 4h1v1h-1zM114 4h1v1h-1zM120 4h1v1h-1zM50 5h1v1h-1zM71 5h1v1h-1zM42 6h1v1h-1zM50 6h1v1h-1zM53 6h1v1h-1zM60 6h1v1h-1zM113 6h1v1h-1zM26 7h1v1h-1zM42 7h1v1h-1zM55 7h2v1h-2zM68 7h1v1h-1zM105 7h2v1h-2zM111 7h1v1h-1zM119 7h1v1h-1zM6 8h1v1h-1zM34 8h1v1h-1zM42 8h1v1h-1zM45 8h1v1h-1zM53 8h1v1h-1zM55 8h1v1h-1zM95 8h1v1h-1zM111 8h1v1h-1zM11 9h1v1h-1zM14 9h1v1h-1zM96 9h1v1h-1zM71 10h1v1h-1zM76 10h1v1h-1zM93 10h1v1h-1zM95 10h1v1h-1zM7 11h1v1h-1zM34 11h1v1h-1zM61 11h1v1h-1zM87 11h1v1h-1zM1 12h1v1h-1zM8 12h1v1h-1zM61 12h1v1h-1zM84 12h1v1h-1zM116 12h1v1h-1zM0 13h2v1h-2zM12 13h1v1h-1zM14 13h1v1h-1zM21 13h7v1h-7zM33 13h1v1h-1zM44 13h1v1h-1zM46 13h1v1h-1zM49 13h1v1h-1zM51 13h2v1h-2zM55 13h2v1h-2zM67 13h3v1h-3zM71 13h1v1h-1zM83 13h1v1h-1zM89 13h1v1h-1zM106 13h1v1h-1zM108 13h1v1h-1zM111 13h2v1h-2zM121 13h1v1h-1zM16 14h1v1h-1zM45 14h1v1h-1zM64 14h1v1h-1zM89 14h1v1h-1zM118 14h1v1h-1z"/>
<path fill="#fff0e0" d="M34 0h1v1h-1zM79 0h1v1h-1zM98 0h1v1h-1zM109 0h1v1h-1zM16 1h1v1h-1zM18 1h1v1h-1zM34 1h2v1h-2zM93 1h1v1h-1zM101 1h1v1h-1zM109 1h1v1h-1zM119 1h1v1h-1zM11 2h1v1h-1zM35 2h1v1h-1zM84 2h1v1h-1zM87 2h1v1h-1zM109 2h1v1h-1zM11 3h1v1h-1zM1 4h1v1h-1zM14 4h1v1h-1zM43 4h1v1h-1zM87 4h1v1h-1zM14 5h1v1h-1zM11 6h1v1h-1zM33 6h2v1h-2zM41 6h1v1h-1zM65 6h1v1h-1zM77 6h1v1h-1zM105 6h2v1h-2zM109 6h1v1h-1zM111 6h1v1h-1zM16 7h1v1h-1zM36 7h1v1h-1zM33 8h1v1h-1zM36 8h1v1h-1zM85 8h1v1h-1zM105 8h2v1h-2zM28 9h1v1h-1zM93 9h1v1h-1zM103 9h1v1h-1zM107 9h1v1h-1zM18 10h1v1h-1zM22 10h1v1h-1zM35 10h1v1h-1zM103 10h1v1h-1zM13 11h1v1h-1zM17 11h1v1h-1zM62 11h1v1h-1zM67 11h1v1h-1zM79 11h1v1h-1zM89 11h1v1h-1zM94 11h1v1h-1zM100 11h1v1h-1zM111 11h1v1h-1zM2 12h1v1h-1zM18 12h1v1h-1zM20 12h1v1h-1zM39 12h1v1h-1zM52 12h1v1h-1zM57 12h1v1h-1zM69 12h1v1h-1zM83 12h1v1h-1zM88 12h3v1h-3zM93 12h1v1h-1zM98 12h1v1h-1zM100 12h1v1h-1zM103 12h2v1h-2zM110 12h1v1h-1zM4 13h1v1h-1zM19 13h2v1h-2zM28 13h3v1h-3zM32 13h1v1h-1zM37 13h2v1h-2zM40 13h1v1h-1zM43 13h1v1h-1zM47 13h2v1h-2zM54 13h1v1h-1zM58 13h1v1h-1zM60 13h2v1h-2zM63 13h2v1h-2zM72 13h1v1h-1zM75 13h4v1h-4zM80 13h1v1h-1zM90 13h1v1h-1zM97 13h1v1h-1zM104 13h1v1h-1zM115 13h2v1h-2zM119 13h1v1h-1zM2 14h1v1h-1zM20 14h1v1h-1zM32 14h1v1h-1zM42 14h1v1h-1zM69 14h1v1h-1zM71 14h1v1h-1zM81 14h1v1h-1zM84 14h2v1h-2zM90 14h1v1h-1z"/>
<path fill="#ffd9a2" d="M53 0h1v1h-1zM33 1h1v1h-1zM45 1h1v1h-1zM57 1h1v1h-1zM70 1h1v1h-1zM98 1h1v1h-1zM105 1h2v1h-2zM114 1h1v1h-1zM53 2h1v1h-1zM113 2h2v1h-2zM50 3h1v1h-1zM62 3h1v1h-1zM50 4h1v1h-1zM62 4h1v1h-1zM1 5h1v1h-1zM36 6h1v1h-1zM34 7h1v1h-1zM39 7h1v1h-1zM7 8h1v1h-1zM28 8h1v1h-1zM109 8h1v1h-1zM5 9h1v1h-1zM15 9h1v1h-1zM18 9h1v1h-1zM30 9h2v1h-2zM35 9h1v1h-1zM72 9h1v1h-1zM79 9h1v1h-1zM95 9h1v1h-1zM98 9h1v1h-1zM109 9h1v1h-1zM111 9h1v1h-1zM113 9h1v1h-1zM120 9h1v1h-1zM3 10h2v1h-2zM10 10h2v1h-2zM13 10h1v1h-1zM16 10h2v1h-2zM23 10h2v1h-2zM26 10h1v1h-1zM30 10h2v1h-2zM40 10h1v1h-1zM59 10h1v1h-1zM62 10h1v1h-1zM67 10h1v1h-1zM69 10h2v1h-2zM81 10h2v1h-2zM84 10h1v1h-1zM86 10h3v1h-3zM98 10h1v1h-1zM102 10h1v1h-1zM113 10h2v1h-2zM116 10h1v1h-1zM118 10h2v1h-2zM10 11h1v1h-1zM14 11h1v1h-1zM33 11h1v1h-1zM41 11h1v1h-1zM43 11h1v1h-1zM47 11h1v1h-1zM59 11h1v1h-1zM63 11h1v1h-1zM71 11h1v1h-1zM77 11h1v1h-1zM80 11h1v1h-1zM95 11h1v1h-1zM97 11h1v1h-1zM105 11h2v1h-2zM113 11h1v1h-1zM120 11h1v1h-1zM0 12h1v1h-1zM6 12h1v1h-1zM10 12h4v1h-4zM16 12h2v1h-2zM27 12h1v1h-1zM32 12h1v1h-1zM37 12h1v1h-1zM40 12h3v1h-3zM44 12h2v1h-2zM48 12h2v1h-2zM51 12h1v1h-1zM56 12h1v1h-1zM58 12h1v1h-1zM60 12h1v1h-1zM63 12h2v1h-2zM66 12h3v1h-3zM70 12h2v1h-2zM76 12h1v1h-1zM78 12h2v1h-2zM81 12h2v1h-2zM85 12h1v1h-1zM91 12h1v1h-1zM97 12h1v1h-1zM105 12h2v1h-2zM108 12h1v1h-1zM118 12h2v1h-2zM121 12h1v1h-1zM5 13h1v1h-1zM7 13h3v1h-3zM11 13h1v1h-1zM15 13h2v1h-2zM31 13h1v1h-1zM35 13h1v1h-1zM41 13h1v1h-1zM70 13h1v1h-1zM73 13h2v1h-2zM79 13h1v1h-1zM82 13h1v1h-1zM86 13h1v1h-1zM88 13h1v1h-1zM92 13h1v1h-1zM94 13h2v1h-2zM98 13h1v1h-1zM101 13h1v1h-1zM103 13h1v1h-1zM110 13h1v1h-1zM0 14h2v1h-2zM5 14h2v1h-2zM8 14h1v1h-1zM11 14h2v1h-2zM14 14h2v1h-2zM18 14h2v1h-2zM37 14h4v1h-4zM46 14h4v1h-4zM51 14h2v1h-2zM54 14h3v1h-3zM60 14h1v1h-1zM62 14h1v1h-1zM65 14h1v1h-1zM68 14h1v1h-1zM73 14h1v1h-1zM79 14h1v1h-1zM82 14h2v1h-2zM86 14h1v1h-1zM91 14h1v1h-1zM94 14h1v1h-1zM99 14h1v1h-1zM103 14h1v1h-1zM105 14h2v1h-2zM109 14h1v1h-1zM114 14h1v1h-1zM116 14h2v1h-2z"/>
<path fill="#ffc060" d="M57 0h1v1h-1zM2 1h1v1h-1zM36 1h1v1h-1zM95 1h1v1h-1zM14 3h1v1h-1zM62 5h1v1h-1zM53 7h1v1h-1zM3 9h1v1h-1zM7 9h1v1h-1zM9 9h2v1h-2zM13 9h1v1h-1zM16 9h2v1h-2zM22 9h6v1h-6zM32 9h3v1h-3zM38 9h1v1h-1zM40 9h2v1h-2zM56 9h1v1h-1zM58 9h2v1h-2zM64 9h3v1h-3zM68 9h1v1h-1zM73 9h3v1h-3zM77 9h2v1h-2zM81 9h8v1h-8zM97 9h1v1h-1zM99 9h1v1h-1zM101 9h2v1h-2zM105 9h2v1h-2zM110 9h1v1h-1zM114 9h3v1h-3zM119 9h1v1h-1zM121 9h1v1h-1zM2 10h1v1h-1zM5 10h5v1h-5zM12 10h1v1h-1zM15 10h1v1h-1zM19 10h3v1h-3zM25 10h1v1h-1zM27 10h1v1h-1zM29 10h1v1h-1zM33 10h1v1h-1zM37 10h3v1h-3zM42 10h4v1h-4zM47 10h3v1h-3zM51 10h2v1h-2zM55 10h3v1h-3zM60 10h1v1h-1zM63 10h4v1h-4zM68 10h1v1h-1zM72 10h4v1h-4zM77 10h1v1h-1zM79 10h1v1h-1zM83 10h1v1h-1zM85 10h1v1h-1zM90 10h1v1h-1zM92 10h1v1h-1zM97 10h1v1h-1zM99 10h1v1h-1zM101 10h1v1h-1zM104 10h6v1h-6zM111 10h1v1h-1zM120 10h2v1h-2zM0 11h2v1h-2zM3 11h2v1h-2zM6 11h1v1h-1zM8 11h2v1h-2zM15 11h1v1h-1zM28 11h1v1h-1zM49 11h1v1h-1zM54 11h1v1h-1zM58 11h1v1h-1zM73 11h1v1h-1zM75 11h1v1h-1zM78 11h1v1h-1zM84 11h1v1h-1zM96 11h1v1h-1zM101 11h2v1h-2zM104 11h1v1h-1zM107 11h4v1h-4zM112 11h1v1h-1zM115 11h1v1h-1zM117 11h1v1h-1zM3 12h3v1h-3zM9 12h1v1h-1zM14 12h1v1h-1zM19 12h1v1h-1zM21 12h6v1h-6zM29 12h1v1h-1zM31 12h1v1h-1zM33 12h1v1h-1zM35 12h1v1h-1zM38 12h1v1h-1zM43 12h1v1h-1zM46 12h2v1h-2zM54 12h1v1h-1zM75 12h1v1h-1zM80 12h1v1h-1zM87 12h1v1h-1zM94 12h3v1h-3zM99 12h1v1h-1zM101 12h1v1h-1zM112 12h2v1h-2zM115 12h1v1h-1zM117 12h1v1h-1zM120 12h1v1h-1zM3 13h1v1h-1zM10 13h1v1h-1zM13 13h1v1h-1zM17 13h1v1h-1zM59 13h1v1h-1zM66 13h1v1h-1zM81 13h1v1h-1zM96 13h1v1h-1zM99 13h2v1h-2zM102 13h1v1h-1zM107 13h1v1h-1zM113 13h1v1h-1zM120 13h1v1h-1zM4 14h1v1h-1zM7 14h1v1h-1zM9 14h1v1h-1zM21 14h11v1h-11zM33 14h1v1h-1zM35 14h1v1h-1zM41 14h1v1h-1zM43 14h2v1h-2zM50 14h1v1h-1zM57 14h3v1h-3zM63 14h1v1h-1zM66 14h2v1h-2zM70 14h1v1h-1zM74 14h3v1h-3zM78 14h1v1h-1zM87 14h2v1h-2zM92 14h1v1h-1zM95 14h2v1h-2zM98 14h1v1h-1zM100 14h3v1h-3zM104 14h1v1h-1zM107 14h2v1h-2zM110 14h1v1h-1zM112 14h2v1h-2zM115 14h1v1h-1zM119 14h2v1h-2z"/>
<path fill="#4090c4" d="M11 1h1v1h-1zM65 1h1v1h-1zM84 1h1v1h-1zM29 2h1v1h-1zM68 2h1v1h-1zM33 3h1v1h-1zM53 3h1v1h-1zM95 3h1v1h-1zM101 3h1v1h-1zM105 3h2v1h-2zM109 3h1v1h-1zM111 3h1v1h-1zM113 3h1v1h-1zM33 4h2v1h-2zM95 4h1v1h-1zM105 4h2v1h-2zM109 4h1v1h-1zM33 5h1v1h-1zM45 5h1v1h-1zM95 5h1v1h-1zM101 5h1v1h-1zM105 5h2v1h-2zM43 6h1v1h-1zM79 6h1v1h-1zM87 6h1v1h-1zM4 7h1v1h-1zM11 7h1v1h-1zM14 7h1v1h-1zM79 7h1v1h-1zM114 7h1v1h-1z"/>
<path fill="#ffaa18" d="M79 1h1v1h-1zM34 2h1v1h-1zM0 9h3v1h-3zM4 9h1v1h-1zM6 9h1v1h-1zM8 9h1v1h-1zM12 9h1v1h-1zM19 9h3v1h-3zM29 9h1v1h-1zM36 9h2v1h-2zM39 9h1v1h-1zM42 9h14v1h-14zM57 9h1v1h-1zM60 9h1v1h-1zM69 9h2v1h-2zM76 9h1v1h-1zM80 9h1v1h-1zM89 9h1v1h-1zM92 9h1v1h-1zM94 9h1v1h-1zM100 9h1v1h-1zM104 9h1v1h-1zM108 9h1v1h-1zM112 9h1v1h-1zM117 9h1v1h-1zM0 10h2v1h-2zM14 10h1v1h-1zM28 10h1v1h-1zM32 10h1v1h-1zM34 10h1v1h-1zM36 10h1v1h-1zM41 10h1v1h-1zM46 10h1v1h-1zM50 10h1v1h-1zM53 10h2v1h-2zM58 10h1v1h-1zM78 10h1v1h-1zM80 10h1v1h-1zM91 10h1v1h-1zM96 10h1v1h-1zM100 10h1v1h-1zM110 10h1v1h-1zM112 10h1v1h-1zM115 10h1v1h-1zM117 10h1v1h-1zM2 11h1v1h-1zM5 11h1v1h-1zM11 11h2v1h-2zM16 11h1v1h-1zM19 11h9v1h-9zM29 11h3v1h-3zM35 11h1v1h-1zM37 11h4v1h-4zM44 11h3v1h-3zM48 11h1v1h-1zM51 11h1v1h-1zM55 11h2v1h-2zM60 11h1v1h-1zM64 11h1v1h-1zM66 11h1v1h-1zM69 11h2v1h-2zM74 11h1v1h-1zM76 11h1v1h-1zM81 11h1v1h-1zM88 11h1v1h-1zM90 11h3v1h-3zM99 11h1v1h-1zM114 11h1v1h-1zM118 11h2v1h-2zM7 12h1v1h-1zM15 12h1v1h-1zM28 12h1v1h-1zM30 12h1v1h-1zM59 12h1v1h-1zM72 12h3v1h-3zM77 12h1v1h-1zM102 12h1v1h-1zM107 12h1v1h-1zM111 12h1v1h-1zM84 13h1v1h-1zM87 13h1v1h-1zM3 14h1v1h-1zM10 14h1v1h-1zM13 14h1v1h-1zM17 14h1v1h-1zM72 14h1v1h-1zM77 14h1v1h-1zM80 14h1v1h-1zM97 14h1v1h-1zM111 14h1v1h-1z"/>
<path fill="#ff8a00" d="M61 9h3v1h-3zM67 9h1v1h-1zM71 9h1v1h-1zM90 9h2v1h-2zM118 9h1v1h-1zM61 10h1v1h-1zM89 10h1v1h-1zM94 10h1v1h-1zM32 11h1v1h-1zM42 11h1v1h-1zM52 11h1v1h-1zM65 11h1v1h-1zM68 11h1v1h-1zM72 11h1v1h-1zM82 11h2v1h-2zM85 11h2v1h-2zM98 11h1v1h-1zM116 11h1v1h-1zM121 11h1v1h-1z"/>
<path fill="#ff4414" d="M18 11h1v1h-1zM93 11h1v1h-1zM103 11h1v1h-1z"/>
</g>
<g class="ta hl" font-size="11.5">
<text transform="translate(906.27 2049.3) rotate(-90) scale(0.915 1)" text-anchor="end">ALPHA,BETA-TREHALOSE</text>
<text transform="translate(918.81 2049.3) rotate(-90) scale(0.915 1)" text-anchor="end">exo-5,6-Dimethylbicyclo[2.2.1]hept-5-en-2-ol</text>
<text transform="translate(931.35 2049.3) rotate(-90) scale(0.915 1)" text-anchor="end">Dambonitol</text>
<text transform="translate(943.89 2049.3) rotate(-90) scale(0.915 1)" text-anchor="end">N-Acetylmuramate</text>
<text transform="translate(956.43 2049.3) rotate(-90) scale(0.915 1)" text-anchor="end">N-Acetyl-DL-phenylalanine</text>
<text transform="translate(968.97 2049.3) rotate(-90) scale(0.915 1)" text-anchor="end">5-(2'-Formylethyl)-4,6-dihydroxypicolinate</text>
<text transform="translate(981.51 2049.3) rotate(-90) scale(0.915 1)" text-anchor="end">3-Amino-3-(4-hydroxyphenyl)propanoate</text>
<text transform="translate(994.05 2049.3) rotate(-90) scale(0.915 1)" text-anchor="end">Phosphocreatine</text>
<text transform="translate(1006.59 2049.3) rotate(-90) scale(0.915 1)" text-anchor="end">Megastigmatrienone</text>
<text transform="translate(1019.13 2049.3) rotate(-90) scale(0.915 1)" text-anchor="end">N-Acetylneuraminic acid</text>
<text transform="translate(1031.67 2049.3) rotate(-90) scale(0.915 1)" text-anchor="end">3-Hydroxy-4-butanolide</text>
<text transform="translate(1044.21 2049.3) rotate(-90) scale(0.915 1)" text-anchor="end">Amygdalin</text>
<text transform="translate(1056.75 2049.3) rotate(-90) scale(0.915 1)" text-anchor="end">5-L-Glutamyl-taurine</text>
<text transform="translate(1069.29 2049.3) rotate(-90) scale(0.915 1)" text-anchor="end">domesticoside</text>
<text transform="translate(1081.83 2049.3) rotate(-90) scale(0.915 1)" text-anchor="end">O-Succinyl-L-homoserine</text>
<text transform="translate(1094.37 2049.3) rotate(-90) scale(0.915 1)" text-anchor="end">1,2-Cyclohexanedione</text>
<text transform="translate(1106.91 2049.3) rotate(-90) scale(0.915 1)" text-anchor="end">2,5-Diaminopyrimidine nucleoside triphosphate</text>
<text transform="translate(1119.45 2049.3) rotate(-90) scale(0.915 1)" text-anchor="end">3-O-Feruloylquinic acid</text>
<text transform="translate(1131.99 2049.3) rotate(-90) scale(0.915 1)" text-anchor="end">Semilepidinoside B</text>
<text transform="translate(1144.53 2049.3) rotate(-90) scale(0.915 1)" text-anchor="end">Deoxyribose</text>
<text transform="translate(1157.07 2049.3) rotate(-90) scale(0.915 1)" text-anchor="end">Kanamycin B</text>
<text transform="translate(1169.61 2049.3) rotate(-90) scale(0.915 1)" text-anchor="end">Glycyl-Histidine</text>
<text transform="translate(1182.15 2049.3) rotate(-90) scale(0.915 1)" text-anchor="end">Cycloleucine</text>
<text transform="translate(1194.69 2049.3) rotate(-90) scale(0.915 1)" text-anchor="end">5-Aminolevulinate</text>
<text transform="translate(1207.23 2049.3) rotate(-90) scale(0.915 1)" text-anchor="end">Lysyl-Aspartate</text>
<text transform="translate(1219.77 2049.3) rotate(-90) scale(0.915 1)" text-anchor="end">gamma-L-Glutamylputrescine</text>
<text transform="translate(1232.31 2049.3) rotate(-90) scale(0.915 1)" text-anchor="end">5-Aminopentanoate</text>
<text transform="translate(1244.85 2049.3) rotate(-90) scale(0.915 1)" text-anchor="end">N-Acetyl-b-alanine</text>
<text transform="translate(1257.39 2049.3) rotate(-90) scale(0.915 1)" text-anchor="end">D-Glucono-1,5-lactone</text>
<text transform="translate(1269.93 2049.3) rotate(-90) scale(0.915 1)" text-anchor="end">Ambolic acid</text>
<text transform="translate(1282.47 2049.3) rotate(-90) scale(0.915 1)" text-anchor="end">Erythromycin</text>
<text transform="translate(1295.02 2049.3) rotate(-90) scale(0.915 1)" text-anchor="end">Homoproline</text>
<text transform="translate(1307.56 2049.3) rotate(-90) scale(0.915 1)" text-anchor="end">Isoleucyl-Glutamate</text>
<text transform="translate(1320.1 2049.3) rotate(-90) scale(0.915 1)" text-anchor="end">L-Homoserine</text>
<text transform="translate(1332.64 2049.3) rotate(-90) scale(0.915 1)" text-anchor="end">D-Erythrose-4-phosphate</text>
<text transform="translate(1345.18 2049.3) rotate(-90) scale(0.915 1)" text-anchor="end">4-Methylene-L-glutamate</text>
<text transform="translate(1357.72 2049.3) rotate(-90) scale(0.915 1)" text-anchor="end">D-Erythrose 4-phosphate</text>
<text transform="translate(1370.26 2049.3) rotate(-90) scale(0.915 1)" text-anchor="end">Clavulanic acid</text>
<text transform="translate(1382.8 2049.3) rotate(-90) scale(0.915 1)" text-anchor="end">Histidinyl-Glycine</text>
<text transform="translate(1395.34 2049.3) rotate(-90) scale(0.915 1)" text-anchor="end">Damascenone</text>
<text transform="translate(1407.88 2049.3) rotate(-90) scale(0.915 1)" text-anchor="end">5-Aminovaleric acid</text>
<text transform="translate(1420.42 2049.3) rotate(-90) scale(0.915 1)" text-anchor="end">1-Aminocyclohexanecarboxylic acid</text>
<text transform="translate(1432.96 2049.3) rotate(-90) scale(0.915 1)" text-anchor="end">Nicotianamine</text>
<text transform="translate(1445.5 2049.3) rotate(-90) scale(0.915 1)" text-anchor="end">3-Methyl-1-pentanol</text>
<text transform="translate(1458.04 2049.3) rotate(-90) scale(0.915 1)" text-anchor="end">Palmitoylglycine</text>
<text transform="translate(1470.58 2049.3) rotate(-90) scale(0.915 1)" text-anchor="end">Sulcatone</text>
<text transform="translate(1483.12 2049.3) rotate(-90) scale(0.915 1)" text-anchor="end">Acetyl tributyl citrate</text>
<text transform="translate(1495.66 2049.3) rotate(-90) scale(0.915 1)" text-anchor="end">Citric acid</text>
<text transform="translate(1508.2 2049.3) rotate(-90) scale(0.915 1)" text-anchor="end">Sucrose</text>
<text transform="translate(1520.74 2049.3) rotate(-90) scale(0.915 1)" text-anchor="end">NONOXYNOL-9</text>
<text transform="translate(1533.28 2049.3) rotate(-90) scale(0.915 1)" text-anchor="end">Cysteinyl-Asparagine</text>
<text transform="translate(1545.82 2049.3) rotate(-90) scale(0.915 1)" text-anchor="end">3,4-Dihydroxybenzaldehyde</text>
<text transform="translate(1558.36 2049.3) rotate(-90) scale(0.915 1)" text-anchor="end">N-Acetyl-D-glucosamine</text>
<text transform="translate(1570.9 2049.3) rotate(-90) scale(0.915 1)" text-anchor="end">Phe-Ala</text>
<text transform="translate(1583.44 2049.3) rotate(-90) scale(0.915 1)" text-anchor="end">L-Glutamine</text>
<text transform="translate(1595.98 2049.3) rotate(-90) scale(0.915 1)" text-anchor="end">Threonate</text>
<text transform="translate(1608.52 2049.3) rotate(-90) scale(0.915 1)" text-anchor="end">N-Acetyl-L-glutamic acid</text>
<text transform="translate(1621.06 2049.3) rotate(-90) scale(0.915 1)" text-anchor="end">Ile-Asn</text>
<text transform="translate(1633.6 2049.3) rotate(-90) scale(0.915 1)" text-anchor="end">6F-alpha-D-Galactosylsucrose</text>
<text transform="translate(1646.14 2049.3) rotate(-90) scale(0.915 1)" text-anchor="end">',-Trehalose 6-phosphate</text>
<text transform="translate(1658.68 2049.3) rotate(-90) scale(0.915 1)" text-anchor="end">Phlorin</text>
<text transform="translate(1671.22 2049.3) rotate(-90) scale(0.915 1)" text-anchor="end">N6-(L-1,3-Dicarboxypropyl)-L-lysine</text>
<text transform="translate(1683.76 2049.3) rotate(-90) scale(0.915 1)" text-anchor="end">Alanyl-Methionine</text>
<text transform="translate(1696.3 2049.3) rotate(-90) scale(0.915 1)" text-anchor="end">trans-3-Hydroxy-L-proline</text>
<text transform="translate(1708.84 2049.3) rotate(-90) scale(0.915 1)" text-anchor="end">5-Hydroxyindoleacetylglycine</text>
<text transform="translate(1721.38 2049.3) rotate(-90) scale(0.915 1)" text-anchor="end">Doxorubicin</text>
<text transform="translate(1733.92 2049.3) rotate(-90) scale(0.915 1)" text-anchor="end">5,6,7,8-Tetrahydromethanopterin</text>
<text transform="translate(1746.46 2049.3) rotate(-90) scale(0.915 1)" text-anchor="end">D-Glucosamine 1-phosphate</text>
<text transform="translate(1759 2049.3) rotate(-90) scale(0.915 1)" text-anchor="end">2-Cyclotetradecen-1-one</text>
<text transform="translate(1771.54 2049.3) rotate(-90) scale(0.915 1)" text-anchor="end">N-Acetyl-L-Arginine</text>
<text transform="translate(1784.08 2049.3) rotate(-90) scale(0.915 1)" text-anchor="end">L-Threonine</text>
<text transform="translate(1796.62 2049.3) rotate(-90) scale(0.915 1)" text-anchor="end">Glycyl-tryptophan</text>
<text transform="translate(1809.16 2049.3) rotate(-90) scale(0.915 1)" text-anchor="end">Tyrosyl-Isoleucine</text>
<text transform="translate(1821.7 2049.3) rotate(-90) scale(0.915 1)" text-anchor="end">Maltotriose</text>
<text transform="translate(1834.24 2049.3) rotate(-90) scale(0.915 1)" text-anchor="end">alpha,alpha-Trehalose</text>
<text transform="translate(1846.78 2049.3) rotate(-90) scale(0.915 1)" text-anchor="end">D-Xylonate</text>
<text transform="translate(1859.32 2049.3) rotate(-90) scale(0.915 1)" text-anchor="end">L-2,4-Diaminobutanoate</text>
<text transform="translate(1871.86 2049.3) rotate(-90) scale(0.915 1)" text-anchor="end">2,5-Diamino-6-(5-phospho-D-ribitylamino)pyrimidin-4(3H)-one</text>
<text transform="translate(1884.4 2049.3) rotate(-90) scale(0.915 1)" text-anchor="end">D-Gluconic acid</text>
<text transform="translate(1896.94 2049.3) rotate(-90) scale(0.915 1)" text-anchor="end">beta-D-Glucosamine</text>
<text transform="translate(1909.48 2049.3) rotate(-90) scale(0.915 1)" text-anchor="end">Gluconolactone</text>
<text transform="translate(1922.02 2049.3) rotate(-90) scale(0.915 1)" text-anchor="end">Pyroglutamic acid</text>
<text transform="translate(1934.56 2049.3) rotate(-90) scale(0.915 1)" text-anchor="end">D-(+)-Cellobiose</text>
<text transform="translate(1947.1 2049.3) rotate(-90) scale(0.915 1)" text-anchor="end">Glyceric acid</text>
<text transform="translate(1959.64 2049.3) rotate(-90) scale(0.915 1)" text-anchor="end">L-Valyl-L-Phenylalanine</text>
<text transform="translate(1972.18 2049.3) rotate(-90) scale(0.915 1)" text-anchor="end">D-Fructose</text>
<text transform="translate(1984.72 2049.3) rotate(-90) scale(0.915 1)" text-anchor="end">Maltose</text>
<text transform="translate(1997.26 2049.3) rotate(-90) scale(0.915 1)" text-anchor="end">myo-Inositol</text>
<text transform="translate(2009.8 2049.3) rotate(-90) scale(0.915 1)" text-anchor="end">5-Amino-6-(1-D-ribitylamino)uracil</text>
<text transform="translate(2022.34 2049.3) rotate(-90) scale(0.915 1)" text-anchor="end">Dopaxanthin</text>
<text transform="translate(2034.88 2049.3) rotate(-90) scale(0.915 1)" text-anchor="end">Threoninyl-Tryptophan</text>
<text transform="translate(2047.42 2049.3) rotate(-90) scale(0.915 1)" text-anchor="end">Neocarzinostatin chromophore</text>
<text transform="translate(2059.97 2049.3) rotate(-90) scale(0.915 1)" text-anchor="end">Histidinyl-Aspartate</text>
<text transform="translate(2072.51 2049.3) rotate(-90) scale(0.915 1)" text-anchor="end">Guanidinoacetate</text>
<text transform="translate(2085.05 2049.3) rotate(-90) scale(0.915 1)" text-anchor="end">Glucocochlearin</text>
<text transform="translate(2097.59 2049.3) rotate(-90) scale(0.915 1)" text-anchor="end">Dihydroxyacetone phosphate</text>
<text transform="translate(2110.13 2049.3) rotate(-90) scale(0.915 1)" text-anchor="end">5-Hydroxymethylfurfural</text>
<text transform="translate(2122.67 2049.3) rotate(-90) scale(0.915 1)" text-anchor="end">Propanoate</text>
<text transform="translate(2135.21 2049.3) rotate(-90) scale(0.915 1)" text-anchor="end">4-Oxoproline</text>
<text transform="translate(2147.75 2049.3) rotate(-90) scale(0.915 1)" text-anchor="end">Trp-Tyr</text>
<text transform="translate(2160.29 2049.3) rotate(-90) scale(0.915 1)" text-anchor="end">Acetaldehyde</text>
<text transform="translate(2172.83 2049.3) rotate(-90) scale(0.915 1)" text-anchor="end">Glycerone</text>
<text transform="translate(2185.37 2049.3) rotate(-90) scale(0.915 1)" text-anchor="end">D-Glucosamine</text>
<text transform="translate(2197.91 2049.3) rotate(-90) scale(0.915 1)" text-anchor="end">5-Oxoproline</text>
<text transform="translate(2210.45 2049.3) rotate(-90) scale(0.915 1)" text-anchor="end">L-Glutamyl 5-phosphate</text>
<text transform="translate(2222.99 2049.3) rotate(-90) scale(0.915 1)" text-anchor="end">Aconitic acid</text>
<text transform="translate(2235.53 2049.3) rotate(-90) scale(0.915 1)" text-anchor="end">D-Arabinono-1,4-lactone</text>
<text transform="translate(2248.07 2049.3) rotate(-90) scale(0.915 1)" text-anchor="end">Hibiscus acid</text>
<text transform="translate(2260.61 2049.3) rotate(-90) scale(0.915 1)" text-anchor="end">L-Serine-phosphoethanolamine</text>
<text transform="translate(2273.15 2049.3) rotate(-90) scale(0.915 1)" text-anchor="end">Pyochelin</text>
<text transform="translate(2285.69 2049.3) rotate(-90) scale(0.915 1)" text-anchor="end">1,5-Anhydro-D-glucitol</text>
<text transform="translate(2298.23 2049.3) rotate(-90) scale(0.915 1)" text-anchor="end">Diacetyl</text>
<text transform="translate(2310.77 2049.3) rotate(-90) scale(0.915 1)" text-anchor="end">Fumaric acid</text>
<text transform="translate(2323.31 2049.3) rotate(-90) scale(0.915 1)" text-anchor="end">O-Acetyl-L-serine</text>
<text transform="translate(2335.85 2049.3) rotate(-90) scale(0.915 1)" text-anchor="end">Serinyl-Aspartate</text>
<text transform="translate(2348.39 2049.3) rotate(-90) scale(0.915 1)" text-anchor="end">Succinic anhydride</text>
<text transform="translate(2360.93 2049.3) rotate(-90) scale(0.915 1)" text-anchor="end">N-Carbamyl-L-glutamate</text>
<text transform="translate(2373.47 2049.3) rotate(-90) scale(0.915 1)" text-anchor="end">L-(+)-Gulose</text>
<text transform="translate(2386.01 2049.3) rotate(-90) scale(0.915 1)" text-anchor="end">Leu-Asp</text>
<text transform="translate(2398.55 2049.3) rotate(-90) scale(0.915 1)" text-anchor="end">Embelin</text>
<text transform="translate(2411.09 2049.3) rotate(-90) scale(0.915 1)" text-anchor="end">cyclo-Dopa 5-O-glucoside</text>
<text transform="translate(2423.63 2049.3) rotate(-90) scale(0.915 1)" text-anchor="end">Fumigaclavine B</text>
</g>
<defs><linearGradient id="gd" x1="0" y1="0" x2="0" y2="1"><stop offset="0" stop-color="rgb(255, 38, 20)"/><stop offset="0.25" stop-color="rgb(255, 158, 0)"/><stop offset="0.4" stop-color="rgb(255, 224, 172)"/><stop offset="0.5" stop-color="rgb(255, 255, 255)"/><stop offset="0.61" stop-color="rgb(150, 195, 226)"/><stop offset="0.75" stop-color="rgb(16, 122, 180)"/><stop offset="1" stop-color="rgb(8, 69, 160)"/></linearGradient></defs>
<rect x="2436.8" y="1803.2" width="12.2" height="66.9" fill="url(#gd)"/>
<text class="ta tl" transform="translate(2466 1807.38) scale(1.49 1)" font-size="9.4">4.0</text>
<text class="ta tl" transform="translate(2466 1823.88) scale(1.49 1)" font-size="9.4">2.0</text>
<text class="ta tl" transform="translate(2466 1840.38) scale(1.49 1)" font-size="9.4">0.0</text>
<text class="ta tl" transform="translate(2466 1856.88) scale(1.49 1)" font-size="9.4">-2.0</text>
<text class="ta tl" transform="translate(2466 1873.38) scale(1.49 1)" font-size="9.4">-4.0</text>
<rect x="2436.8" y="1897.3" width="12.2" height="14.2" fill="#fff200"/>
<text class="ta tl" transform="translate(2466 1907.85) scale(1.27 1)" font-size="10">S1</text>
<rect x="2436.8" y="1911.2" width="12.2" height="13.3" fill="#ffa000"/>
<text class="ta tl" transform="translate(2466 1921.3) scale(1.27 1)" font-size="10">S2</text>
<rect x="2436.8" y="1924.2" width="12.2" height="13.3" fill="#0f7db0"/>
<text class="ta tl" transform="translate(2466 1934.3) scale(1.27 1)" font-size="10">S3</text>
<rect x="2436.8" y="1937.2" width="12.2" height="13.5" fill="#0a41a0"/>
<text class="ta tl" transform="translate(2466 1947.4) scale(1.27 1)" font-size="10">S4</text>
<rect x="2436.8" y="1950.4" width="12.2" height="13.7" fill="#ff0a14"/>
<text class="ta tl" transform="translate(2466 1960.7) scale(1.27 1)" font-size="10">S5</text>
<text class="sr" x="899" y="1716.3" font-size="58">d</text>
<rect x="909.9" y="2478.6" width="25.7" height="66.38" fill="#fff200"/>
<rect x="909.9" y="2544.68" width="25.7" height="66.38" fill="#0f7db0"/>
<rect x="909.9" y="2610.76" width="25.7" height="66.38" fill="#ffa000"/>
<rect x="909.9" y="2676.84" width="25.7" height="66.38" fill="#ff0a14"/>
<rect x="909.9" y="2742.92" width="25.7" height="66.38" fill="#0a41a0"/>
<g transform="translate(935.6 2478.6) scale(14.2416 22.0267)" shape-rendering="crispEdges">
<path fill="#ffc060" d="M0 0h4v1h-4zM7 0h1v1h-1zM11 0h1v1h-1zM15 0h3v1h-3zM22 0h2v1h-2zM26 0h1v1h-1zM34 0h1v1h-1zM40 0h2v1h-2zM43 0h2v1h-2zM48 0h1v1h-1zM51 0h1v1h-1zM58 0h1v1h-1zM60 0h3v1h-3zM67 0h1v1h-1zM71 0h3v1h-3zM76 0h2v1h-2zM82 0h1v1h-1zM85 0h1v1h-1zM89 0h1v1h-1zM92 0h1v1h-1zM95 0h2v1h-2zM7 1h2v1h-2zM12 1h2v1h-2zM18 1h1v1h-1zM25 1h1v1h-1zM30 1h1v1h-1zM34 1h1v1h-1zM46 1h1v1h-1zM52 1h1v1h-1zM78 1h1v1h-1zM87 1h1v1h-1zM89 1h2v1h-2zM1 2h2v1h-2zM6 2h1v1h-1zM9 2h1v1h-1zM19 2h1v1h-1zM21 2h1v1h-1zM36 2h1v1h-1zM38 2h5v1h-5zM48 2h1v1h-1zM50 2h1v1h-1zM52 2h1v1h-1zM55 2h1v1h-1zM57 2h4v1h-4zM62 2h1v1h-1zM67 2h1v1h-1zM71 2h1v1h-1zM73 2h1v1h-1zM75 2h1v1h-1zM77 3h1v1h-1zM23 5h1v1h-1zM32 6h1v1h-1zM34 6h1v1h-1zM21 7h1v1h-1zM41 7h1v1h-1zM46 7h1v1h-1zM49 8h1v1h-1zM37 9h1v1h-1zM43 9h1v1h-1zM53 10h1v1h-1zM37 11h1v1h-1zM53 11h1v1h-1zM73 12h1v1h-1zM86 14h1v1h-1z"/>
<path fill="#fff0e0" d="M4 0h1v1h-1zM68 0h1v1h-1zM97 0h1v1h-1zM100 0h1v1h-1zM20 1h2v1h-2zM23 1h1v1h-1zM27 1h1v1h-1zM65 1h1v1h-1zM85 1h1v1h-1zM88 1h1v1h-1zM4 2h1v1h-1zM15 2h1v1h-1zM53 2h1v1h-1zM99 2h1v1h-1zM0 3h3v1h-3zM4 3h1v1h-1zM7 3h4v1h-4zM13 3h2v1h-2zM24 3h1v1h-1zM31 3h1v1h-1zM38 3h2v1h-2zM55 3h1v1h-1zM59 3h3v1h-3zM71 3h1v1h-1zM83 3h1v1h-1zM85 3h1v1h-1zM88 3h1v1h-1zM91 3h1v1h-1zM83 4h1v1h-1zM89 4h1v1h-1zM93 4h1v1h-1zM1 5h1v1h-1zM4 5h2v1h-2zM11 5h1v1h-1zM13 5h2v1h-2zM26 5h1v1h-1zM32 5h1v1h-1zM38 5h3v1h-3zM42 5h1v1h-1zM52 5h2v1h-2zM55 5h1v1h-1zM58 5h2v1h-2zM71 5h1v1h-1zM77 5h1v1h-1zM83 5h1v1h-1zM94 5h2v1h-2zM2 6h1v1h-1zM7 6h2v1h-2zM16 6h1v1h-1zM20 6h2v1h-2zM24 6h2v1h-2zM40 6h1v1h-1zM42 6h1v1h-1zM52 6h1v1h-1zM57 6h1v1h-1zM60 6h1v1h-1zM65 6h1v1h-1zM70 6h1v1h-1zM78 6h1v1h-1zM87 6h2v1h-2zM98 6h1v1h-1zM6 7h4v1h-4zM11 7h1v1h-1zM14 7h1v1h-1zM24 7h1v1h-1zM34 7h1v1h-1zM37 7h1v1h-1zM40 7h1v1h-1zM42 7h1v1h-1zM51 7h2v1h-2zM56 7h1v1h-1zM60 7h2v1h-2zM63 7h1v1h-1zM76 7h2v1h-2zM86 7h1v1h-1zM91 7h2v1h-2zM97 7h3v1h-3zM2 8h1v1h-1zM21 8h1v1h-1zM24 8h1v1h-1zM30 8h1v1h-1zM32 8h1v1h-1zM46 8h1v1h-1zM51 8h1v1h-1zM61 8h1v1h-1zM76 8h1v1h-1zM81 8h1v1h-1zM93 8h3v1h-3zM100 8h1v1h-1zM17 9h1v1h-1zM45 9h1v1h-1zM64 9h1v1h-1zM73 9h1v1h-1zM83 9h1v1h-1zM28 10h1v1h-1zM33 10h1v1h-1zM40 10h2v1h-2zM45 10h1v1h-1zM50 10h2v1h-2zM83 10h1v1h-1zM31 11h1v1h-1zM43 11h1v1h-1zM73 11h1v1h-1zM83 11h1v1h-1zM31 12h2v1h-2zM37 12h1v1h-1zM43 12h1v1h-1zM74 12h3v1h-3zM86 12h1v1h-1zM93 12h1v1h-1zM27 13h1v1h-1zM98 13h1v1h-1zM32 14h1v1h-1zM79 14h1v1h-1zM83 14h1v1h-1z"/>
<path fill="#ffdaa6" d="M5 0h1v1h-1zM9 0h2v1h-2zM20 0h2v1h-2zM24 0h1v1h-1zM28 0h1v1h-1zM31 0h2v1h-2zM45 0h1v1h-1zM47 0h1v1h-1zM49 0h1v1h-1zM57 0h1v1h-1zM64 0h1v1h-1zM69 0h2v1h-2zM78 0h1v1h-1zM80 0h1v1h-1zM98 0h2v1h-2zM26 1h1v1h-1zM41 1h1v1h-1zM50 1h2v1h-2zM53 1h1v1h-1zM92 1h1v1h-1zM10 2h2v1h-2zM16 2h2v1h-2zM22 2h1v1h-1zM31 2h1v1h-1zM35 2h1v1h-1zM37 2h1v1h-1zM43 2h1v1h-1zM49 2h1v1h-1zM61 2h1v1h-1zM65 2h2v1h-2zM69 2h1v1h-1zM72 2h1v1h-1zM77 2h1v1h-1zM82 2h1v1h-1zM84 2h2v1h-2zM91 2h1v1h-1zM98 2h1v1h-1zM11 3h1v1h-1zM17 3h1v1h-1zM19 3h1v1h-1zM23 3h1v1h-1zM25 3h2v1h-2zM52 3h1v1h-1zM69 3h1v1h-1zM5 4h1v1h-1zM19 4h1v1h-1zM23 4h1v1h-1zM26 4h1v1h-1zM88 4h1v1h-1zM2 5h1v1h-1zM60 5h3v1h-3zM69 5h1v1h-1zM88 5h1v1h-1zM5 6h1v1h-1zM9 6h1v1h-1zM30 6h1v1h-1zM33 6h1v1h-1zM41 6h1v1h-1zM45 6h3v1h-3zM49 6h3v1h-3zM63 6h1v1h-1zM92 6h4v1h-4zM99 6h1v1h-1zM2 7h1v1h-1zM25 7h1v1h-1zM35 7h1v1h-1zM49 7h2v1h-2zM65 7h1v1h-1zM18 8h1v1h-1zM41 8h1v1h-1zM50 8h1v1h-1zM63 8h1v1h-1zM65 8h1v1h-1zM87 8h1v1h-1zM92 8h1v1h-1zM99 8h1v1h-1zM41 9h1v1h-1zM50 9h2v1h-2zM1 10h1v1h-1zM17 10h1v1h-1zM37 10h1v1h-1zM43 10h1v1h-1zM52 10h1v1h-1zM60 10h1v1h-1zM64 11h1v1h-1zM81 11h1v1h-1zM33 12h1v1h-1zM31 13h1v1h-1zM31 14h1v1h-1zM73 14h1v1h-1z"/>
<path fill="#ffaa18" d="M6 0h1v1h-1zM8 0h1v1h-1zM12 0h3v1h-3zM18 0h2v1h-2zM25 0h1v1h-1zM27 0h1v1h-1zM30 0h1v1h-1zM33 0h1v1h-1zM36 0h4v1h-4zM42 0h1v1h-1zM46 0h1v1h-1zM50 0h1v1h-1zM52 0h5v1h-5zM59 0h1v1h-1zM74 0h2v1h-2zM79 0h1v1h-1zM81 0h1v1h-1zM83 0h1v1h-1zM86 0h3v1h-3zM90 0h2v1h-2zM93 0h2v1h-2zM14 1h1v1h-1zM17 1h1v1h-1zM19 1h1v1h-1zM35 1h1v1h-1zM42 1h2v1h-2zM49 1h1v1h-1zM54 1h1v1h-1zM56 1h1v1h-1zM60 1h1v1h-1zM62 1h3v1h-3zM66 1h1v1h-1zM73 1h1v1h-1zM84 1h1v1h-1zM86 1h1v1h-1zM97 1h1v1h-1zM3 2h1v1h-1zM7 2h2v1h-2zM12 2h3v1h-3zM20 2h1v1h-1zM25 2h1v1h-1zM44 2h4v1h-4zM51 2h1v1h-1zM54 2h1v1h-1zM74 2h1v1h-1zM78 2h2v1h-2zM81 2h1v1h-1zM86 2h1v1h-1zM100 2h1v1h-1zM70 8h1v1h-1zM53 9h1v1h-1zM86 9h1v1h-1zM21 13h1v1h-1zM79 13h1v1h-1z"/>
<path fill="#d2e3f0" d="M29 0h1v1h-1zM5 1h1v1h-1zM94 1h2v1h-2zM29 2h1v1h-1zM70 2h1v1h-1zM97 2h1v1h-1zM15 3h2v1h-2zM18 3h1v1h-1zM22 3h1v1h-1zM27 3h3v1h-3zM34 3h3v1h-3zM42 3h1v1h-1zM44 3h3v1h-3zM48 3h2v1h-2zM51 3h1v1h-1zM53 3h1v1h-1zM56 3h2v1h-2zM62 3h1v1h-1zM66 3h3v1h-3zM70 3h1v1h-1zM72 3h1v1h-1zM74 3h1v1h-1zM80 3h2v1h-2zM89 3h2v1h-2zM94 3h1v1h-1zM98 3h3v1h-3zM2 4h3v1h-3zM6 4h5v1h-5zM13 4h1v1h-1zM18 4h1v1h-1zM22 4h1v1h-1zM24 4h1v1h-1zM27 4h1v1h-1zM29 4h2v1h-2zM34 4h3v1h-3zM38 4h3v1h-3zM44 4h1v1h-1zM46 4h1v1h-1zM48 4h3v1h-3zM52 4h1v1h-1zM55 4h1v1h-1zM57 4h5v1h-5zM65 4h1v1h-1zM68 4h1v1h-1zM70 4h3v1h-3zM76 4h1v1h-1zM78 4h1v1h-1zM80 4h2v1h-2zM87 4h1v1h-1zM90 4h3v1h-3zM94 4h3v1h-3zM100 4h1v1h-1zM6 5h1v1h-1zM9 5h1v1h-1zM12 5h1v1h-1zM15 5h2v1h-2zM18 5h1v1h-1zM22 5h1v1h-1zM25 5h1v1h-1zM29 5h1v1h-1zM34 5h1v1h-1zM37 5h1v1h-1zM44 5h1v1h-1zM54 5h1v1h-1zM56 5h2v1h-2zM63 5h1v1h-1zM66 5h3v1h-3zM70 5h1v1h-1zM72 5h1v1h-1zM80 5h2v1h-2zM85 5h1v1h-1zM87 5h1v1h-1zM90 5h1v1h-1zM92 5h1v1h-1zM96 5h1v1h-1zM98 5h3v1h-3zM0 6h2v1h-2zM3 6h2v1h-2zM6 6h1v1h-1zM10 6h2v1h-2zM15 6h1v1h-1zM18 6h1v1h-1zM23 6h1v1h-1zM26 6h4v1h-4zM35 6h1v1h-1zM37 6h1v1h-1zM48 6h1v1h-1zM55 6h2v1h-2zM58 6h2v1h-2zM61 6h2v1h-2zM67 6h1v1h-1zM72 6h1v1h-1zM75 6h2v1h-2zM80 6h1v1h-1zM83 6h2v1h-2zM89 6h1v1h-1zM91 6h1v1h-1zM96 6h1v1h-1zM100 6h1v1h-1zM0 7h1v1h-1zM10 7h1v1h-1zM15 7h1v1h-1zM19 7h1v1h-1zM23 7h1v1h-1zM28 7h2v1h-2zM32 7h2v1h-2zM39 7h1v1h-1zM44 7h1v1h-1zM48 7h1v1h-1zM53 7h1v1h-1zM55 7h1v1h-1zM66 7h2v1h-2zM70 7h3v1h-3zM75 7h1v1h-1zM79 7h3v1h-3zM83 7h2v1h-2zM90 7h1v1h-1zM95 7h2v1h-2zM100 7h1v1h-1zM0 8h2v1h-2zM3 8h1v1h-1zM5 8h4v1h-4zM10 8h1v1h-1zM13 8h3v1h-3zM19 8h1v1h-1zM23 8h1v1h-1zM26 8h4v1h-4zM35 8h6v1h-6zM43 8h3v1h-3zM48 8h1v1h-1zM55 8h1v1h-1zM58 8h2v1h-2zM62 8h1v1h-1zM67 8h3v1h-3zM71 8h2v1h-2zM79 8h2v1h-2zM82 8h3v1h-3zM89 8h3v1h-3zM12 9h1v1h-1zM15 9h1v1h-1zM22 9h1v1h-1zM28 9h1v1h-1zM33 9h1v1h-1zM42 9h1v1h-1zM47 9h3v1h-3zM55 9h3v1h-3zM65 9h4v1h-4zM74 9h3v1h-3zM87 9h1v1h-1zM4 10h2v1h-2zM9 10h5v1h-5zM15 10h2v1h-2zM29 10h1v1h-1zM38 10h2v1h-2zM42 10h1v1h-1zM49 10h1v1h-1zM54 10h2v1h-2zM59 10h1v1h-1zM64 10h1v1h-1zM66 10h3v1h-3zM74 10h2v1h-2zM81 10h1v1h-1zM87 10h1v1h-1zM8 11h1v1h-1zM10 11h1v1h-1zM12 11h1v1h-1zM15 11h1v1h-1zM27 11h3v1h-3zM33 11h1v1h-1zM35 11h1v1h-1zM44 11h1v1h-1zM47 11h1v1h-1zM52 11h1v1h-1zM54 11h3v1h-3zM62 11h1v1h-1zM66 11h3v1h-3zM74 11h1v1h-1zM76 11h1v1h-1zM86 11h1v1h-1zM94 11h2v1h-2zM0 12h1v1h-1zM13 12h1v1h-1zM15 12h1v1h-1zM28 12h1v1h-1zM44 12h1v1h-1zM46 12h2v1h-2zM52 12h3v1h-3zM66 12h3v1h-3zM79 12h1v1h-1zM81 12h1v1h-1zM87 12h1v1h-1zM0 13h1v1h-1zM25 13h1v1h-1zM28 13h1v1h-1zM66 13h3v1h-3zM73 13h1v1h-1zM81 13h2v1h-2zM91 13h1v1h-1zM93 13h1v1h-1zM0 14h1v1h-1zM3 14h2v1h-2zM12 14h2v1h-2zM15 14h1v1h-1zM18 14h3v1h-3zM26 14h1v1h-1zM28 14h1v1h-1zM44 14h1v1h-1zM47 14h1v1h-1zM53 14h1v1h-1zM57 14h1v1h-1zM63 14h6v1h-6zM80 14h1v1h-1zM85 14h1v1h-1zM91 14h1v1h-1z"/>
<path fill="#ff8200" d="M35 0h1v1h-1zM63 0h1v1h-1zM65 0h2v1h-2zM84 0h1v1h-1zM1 1h3v1h-3zM6 1h1v1h-1zM9 1h1v1h-1zM11 1h1v1h-1zM24 1h1v1h-1zM28 1h1v1h-1zM31 1h1v1h-1zM36 1h1v1h-1zM38 1h3v1h-3zM44 1h2v1h-2zM47 1h2v1h-2zM55 1h1v1h-1zM58 1h2v1h-2zM61 1h1v1h-1zM67 1h1v1h-1zM69 1h3v1h-3zM74 1h2v1h-2zM77 1h1v1h-1zM79 1h1v1h-1zM81 1h2v1h-2zM91 1h1v1h-1zM96 1h1v1h-1zM99 1h2v1h-2zM5 2h1v1h-1zM18 2h1v1h-1zM23 2h1v1h-1zM26 2h3v1h-3zM30 2h1v1h-1zM32 2h3v1h-3zM56 2h1v1h-1zM64 2h1v1h-1zM83 2h1v1h-1zM87 2h4v1h-4zM92 2h5v1h-5zM20 8h1v1h-1zM98 11h1v1h-1z"/>
<path fill="#ff4414" d="M0 1h1v1h-1zM4 1h1v1h-1zM10 1h1v1h-1zM15 1h2v1h-2zM22 1h1v1h-1zM29 1h1v1h-1zM57 1h1v1h-1zM68 1h1v1h-1zM72 1h1v1h-1zM76 1h1v1h-1zM80 1h1v1h-1zM98 1h1v1h-1z"/>
<path fill="#f6f7fa" d="M32 1h2v1h-2zM37 1h1v1h-1zM83 1h1v1h-1zM0 2h1v1h-1zM24 2h1v1h-1zM63 2h1v1h-1zM68 2h1v1h-1zM76 2h1v1h-1zM80 2h1v1h-1zM5 3h2v1h-2zM12 3h1v1h-1zM32 3h1v1h-1zM40 3h1v1h-1zM54 3h1v1h-1zM58 3h1v1h-1zM76 3h1v1h-1zM79 3h1v1h-1zM84 3h1v1h-1zM95 3h1v1h-1zM0 4h1v1h-1zM11 4h1v1h-1zM14 4h4v1h-4zM25 4h1v1h-1zM31 4h1v1h-1zM45 4h1v1h-1zM51 4h1v1h-1zM54 4h1v1h-1zM69 4h1v1h-1zM77 4h1v1h-1zM79 4h1v1h-1zM0 5h1v1h-1zM3 5h1v1h-1zM7 5h2v1h-2zM10 5h1v1h-1zM17 5h1v1h-1zM19 5h1v1h-1zM24 5h1v1h-1zM35 5h2v1h-2zM45 5h2v1h-2zM48 5h2v1h-2zM51 5h1v1h-1zM76 5h1v1h-1zM79 5h1v1h-1zM84 5h1v1h-1zM89 5h1v1h-1zM91 5h1v1h-1zM12 6h3v1h-3zM17 6h1v1h-1zM19 6h1v1h-1zM22 6h1v1h-1zM36 6h1v1h-1zM38 6h2v1h-2zM43 6h2v1h-2zM66 6h1v1h-1zM68 6h2v1h-2zM71 6h1v1h-1zM74 6h1v1h-1zM77 6h1v1h-1zM79 6h1v1h-1zM81 6h2v1h-2zM86 6h1v1h-1zM90 6h1v1h-1zM97 6h1v1h-1zM1 7h1v1h-1zM3 7h3v1h-3zM12 7h2v1h-2zM16 7h1v1h-1zM18 7h1v1h-1zM20 7h1v1h-1zM22 7h1v1h-1zM30 7h1v1h-1zM36 7h1v1h-1zM38 7h1v1h-1zM47 7h1v1h-1zM57 7h3v1h-3zM62 7h1v1h-1zM68 7h2v1h-2zM87 7h1v1h-1zM93 7h2v1h-2zM4 8h1v1h-1zM9 8h1v1h-1zM11 8h1v1h-1zM16 8h2v1h-2zM22 8h1v1h-1zM25 8h1v1h-1zM34 8h1v1h-1zM42 8h1v1h-1zM47 8h1v1h-1zM57 8h1v1h-1zM60 8h1v1h-1zM66 8h1v1h-1zM77 8h2v1h-2zM86 8h1v1h-1zM96 8h3v1h-3zM0 9h1v1h-1zM5 9h1v1h-1zM10 9h1v1h-1zM29 9h1v1h-1zM40 9h1v1h-1zM58 9h1v1h-1zM62 9h1v1h-1zM79 9h1v1h-1zM81 9h1v1h-1zM0 10h1v1h-1zM22 10h1v1h-1zM48 10h1v1h-1zM58 10h1v1h-1zM62 10h1v1h-1zM73 10h1v1h-1zM76 10h1v1h-1zM20 11h1v1h-1zM48 11h1v1h-1zM96 11h2v1h-2zM12 12h1v1h-1zM20 12h2v1h-2zM27 12h1v1h-1zM29 12h1v1h-1zM64 12h1v1h-1zM83 12h1v1h-1zM20 13h1v1h-1zM26 13h1v1h-1zM29 13h1v1h-1zM32 13h2v1h-2zM65 13h1v1h-1zM83 13h1v1h-1zM85 13h1v1h-1zM90 13h1v1h-1zM94 13h1v1h-1zM27 14h1v1h-1zM29 14h1v1h-1zM33 14h1v1h-1zM43 14h1v1h-1zM74 14h3v1h-3zM90 14h1v1h-1zM93 14h1v1h-1zM97 14h1v1h-1z"/>
<path fill="#82b5d8" d="M93 1h1v1h-1zM33 3h1v1h-1zM37 3h1v1h-1zM43 3h1v1h-1zM50 3h1v1h-1zM65 3h1v1h-1zM73 3h1v1h-1zM82 3h1v1h-1zM97 3h1v1h-1zM33 4h1v1h-1zM43 4h1v1h-1zM53 4h1v1h-1zM73 4h1v1h-1zM75 4h1v1h-1zM82 4h1v1h-1zM85 4h1v1h-1zM21 5h1v1h-1zM33 5h1v1h-1zM43 5h1v1h-1zM50 5h1v1h-1zM65 5h1v1h-1zM73 5h1v1h-1zM82 5h1v1h-1zM53 6h1v1h-1zM85 6h1v1h-1zM64 8h1v1h-1zM73 8h1v1h-1zM21 9h1v1h-1zM25 9h2v1h-2zM54 9h1v1h-1zM93 9h4v1h-4zM25 10h2v1h-2zM32 10h1v1h-1zM98 10h1v1h-1zM5 11h1v1h-1zM9 11h1v1h-1zM11 11h1v1h-1zM14 11h1v1h-1zM19 11h1v1h-1zM26 11h1v1h-1zM32 11h1v1h-1zM40 11h2v1h-2zM45 11h1v1h-1zM49 11h2v1h-2zM80 11h1v1h-1zM93 11h1v1h-1zM51 12h1v1h-1zM55 12h1v1h-1zM2 13h1v1h-1zM8 13h2v1h-2zM11 13h4v1h-4zM34 13h1v1h-1zM37 13h1v1h-1zM39 13h4v1h-4zM50 13h2v1h-2zM55 13h1v1h-1zM58 13h2v1h-2zM61 13h1v1h-1zM75 13h2v1h-2zM11 14h1v1h-1zM17 14h1v1h-1zM25 14h1v1h-1zM40 14h1v1h-1zM42 14h1v1h-1zM51 14h1v1h-1zM78 14h1v1h-1z"/>
<path fill="#aacce4" d="M3 3h1v1h-1zM20 3h2v1h-2zM30 3h1v1h-1zM41 3h1v1h-1zM47 3h1v1h-1zM63 3h2v1h-2zM75 3h1v1h-1zM78 3h1v1h-1zM86 3h2v1h-2zM92 3h2v1h-2zM96 3h1v1h-1zM1 4h1v1h-1zM12 4h1v1h-1zM20 4h2v1h-2zM28 4h1v1h-1zM32 4h1v1h-1zM41 4h2v1h-2zM47 4h1v1h-1zM56 4h1v1h-1zM62 4h3v1h-3zM66 4h2v1h-2zM74 4h1v1h-1zM84 4h1v1h-1zM86 4h1v1h-1zM97 4h3v1h-3zM20 5h1v1h-1zM27 5h2v1h-2zM30 5h2v1h-2zM41 5h1v1h-1zM47 5h1v1h-1zM64 5h1v1h-1zM74 5h2v1h-2zM78 5h1v1h-1zM86 5h1v1h-1zM93 5h1v1h-1zM97 5h1v1h-1zM31 6h1v1h-1zM54 6h1v1h-1zM64 6h1v1h-1zM73 6h1v1h-1zM17 7h1v1h-1zM26 7h2v1h-2zM43 7h1v1h-1zM45 7h1v1h-1zM54 7h1v1h-1zM64 7h1v1h-1zM73 7h2v1h-2zM78 7h1v1h-1zM82 7h1v1h-1zM85 7h1v1h-1zM88 7h2v1h-2zM12 8h1v1h-1zM31 8h1v1h-1zM33 8h1v1h-1zM52 8h3v1h-3zM56 8h1v1h-1zM74 8h2v1h-2zM85 8h1v1h-1zM88 8h1v1h-1zM1 9h4v1h-4zM6 9h4v1h-4zM11 9h1v1h-1zM13 9h2v1h-2zM16 9h1v1h-1zM18 9h3v1h-3zM23 9h2v1h-2zM27 9h1v1h-1zM30 9h2v1h-2zM34 9h3v1h-3zM38 9h2v1h-2zM44 9h1v1h-1zM46 9h1v1h-1zM52 9h1v1h-1zM59 9h3v1h-3zM63 9h1v1h-1zM69 9h4v1h-4zM77 9h2v1h-2zM80 9h1v1h-1zM82 9h1v1h-1zM84 9h2v1h-2zM88 9h5v1h-5zM97 9h4v1h-4zM2 10h2v1h-2zM6 10h3v1h-3zM14 10h1v1h-1zM18 10h4v1h-4zM23 10h2v1h-2zM27 10h1v1h-1zM30 10h2v1h-2zM34 10h3v1h-3zM44 10h1v1h-1zM46 10h2v1h-2zM56 10h2v1h-2zM61 10h1v1h-1zM63 10h1v1h-1zM65 10h1v1h-1zM69 10h4v1h-4zM77 10h4v1h-4zM82 10h1v1h-1zM84 10h3v1h-3zM88 10h10v1h-10zM99 10h2v1h-2zM0 11h5v1h-5zM6 11h2v1h-2zM13 11h1v1h-1zM16 11h3v1h-3zM21 11h5v1h-5zM30 11h1v1h-1zM34 11h1v1h-1zM36 11h1v1h-1zM38 11h2v1h-2zM42 11h1v1h-1zM46 11h1v1h-1zM57 11h5v1h-5zM63 11h1v1h-1zM65 11h1v1h-1zM69 11h4v1h-4zM75 11h1v1h-1zM77 11h2v1h-2zM82 11h1v1h-1zM84 11h2v1h-2zM87 11h6v1h-6zM99 11h2v1h-2zM1 12h11v1h-11zM14 12h1v1h-1zM16 12h4v1h-4zM22 12h5v1h-5zM30 12h1v1h-1zM34 12h3v1h-3zM38 12h5v1h-5zM45 12h1v1h-1zM48 12h3v1h-3zM56 12h8v1h-8zM65 12h1v1h-1zM69 12h4v1h-4zM77 12h2v1h-2zM80 12h1v1h-1zM82 12h1v1h-1zM84 12h2v1h-2zM88 12h5v1h-5zM94 12h7v1h-7zM1 13h1v1h-1zM3 13h5v1h-5zM10 13h1v1h-1zM15 13h2v1h-2zM18 13h2v1h-2zM22 13h3v1h-3zM30 13h1v1h-1zM35 13h2v1h-2zM38 13h1v1h-1zM43 13h2v1h-2zM46 13h4v1h-4zM54 13h1v1h-1zM56 13h2v1h-2zM63 13h2v1h-2zM69 13h4v1h-4zM74 13h1v1h-1zM77 13h2v1h-2zM80 13h1v1h-1zM84 13h1v1h-1zM86 13h4v1h-4zM92 13h1v1h-1zM95 13h3v1h-3zM99 13h2v1h-2zM1 14h2v1h-2zM5 14h6v1h-6zM14 14h1v1h-1zM16 14h1v1h-1zM21 14h4v1h-4zM30 14h1v1h-1zM34 14h6v1h-6zM41 14h1v1h-1zM45 14h2v1h-2zM48 14h3v1h-3zM54 14h3v1h-3zM58 14h5v1h-5zM69 14h4v1h-4zM77 14h1v1h-1zM81 14h2v1h-2zM84 14h1v1h-1zM87 14h3v1h-3zM92 14h1v1h-1zM94 14h3v1h-3zM98 14h3v1h-3z"/>
<path fill="#3a8cc2" d="M37 4h1v1h-1zM31 7h1v1h-1zM32 9h1v1h-1zM51 11h1v1h-1zM79 11h1v1h-1zM17 13h1v1h-1zM45 13h1v1h-1zM52 13h2v1h-2zM60 13h1v1h-1zM62 13h1v1h-1zM52 14h1v1h-1z"/>
</g>
<g class="ta hl" font-size="12.8">
<text transform="translate(953.42 2824) rotate(-90) scale(1.0 1)" text-anchor="end">Tyrosyl-Lysine</text>
<text transform="translate(967.66 2824) rotate(-90) scale(1.0 1)" text-anchor="end">Isopenicillin N</text>
<text transform="translate(981.9 2824) rotate(-90) scale(1.0 1)" text-anchor="end">(1R,2R,4R)-Dihydrocarveol</text>
<text transform="translate(996.15 2824) rotate(-90) scale(1.0 1)" text-anchor="end">Gibberellin A29-catabolite</text>
<text transform="translate(1010.39 2824) rotate(-90) scale(1.0 1)" text-anchor="end">6-Ketoprostaglandin E1</text>
<text transform="translate(1024.63 2824) rotate(-90) scale(1.0 1)" text-anchor="end">beta-vatirenene</text>
<text transform="translate(1038.87 2824) rotate(-90) scale(1.0 1)" text-anchor="end">N-oleoyl leucine</text>
<text transform="translate(1053.11 2824) rotate(-90) scale(1.0 1)" text-anchor="end">1,14-Tetradecanedioic Acid</text>
<text transform="translate(1067.35 2824) rotate(-90) scale(1.0 1)" text-anchor="end">12-Oxo-2,3-dinor-10,15-phytodienoic acid</text>
<text transform="translate(1081.6 2824) rotate(-90) scale(1.0 1)" text-anchor="end">beta-Tocotrienol</text>
<text transform="translate(1095.84 2824) rotate(-90) scale(1.0 1)" text-anchor="end">11,14,15-THETA</text>
<text transform="translate(1110.08 2824) rotate(-90) scale(1.0 1)" text-anchor="end">Steviolbioside</text>
<text transform="translate(1124.32 2824) rotate(-90) scale(1.0 1)" text-anchor="end">9,10,13-TriHOME</text>
<text transform="translate(1138.56 2824) rotate(-90) scale(1.0 1)" text-anchor="end">9,12-Octadecadiynoic Acid</text>
<text transform="translate(1152.8 2824) rotate(-90) scale(1.0 1)" text-anchor="end">Norecasantalol</text>
<text transform="translate(1167.04 2824) rotate(-90) scale(1.0 1)" text-anchor="end">5,6-DHET</text>
<text transform="translate(1181.29 2824) rotate(-90) scale(1.0 1)" text-anchor="end">8-Amino-7-oxononanoate</text>
<text transform="translate(1195.53 2824) rotate(-90) scale(1.0 1)" text-anchor="end">Vulgarone A</text>
<text transform="translate(1209.77 2824) rotate(-90) scale(1.0 1)" text-anchor="end">Shanzhiside methyl ester</text>
<text transform="translate(1224.01 2824) rotate(-90) scale(1.0 1)" text-anchor="end">Ethyl (2E,4E,7Z)-Decatrienoate</text>
<text transform="translate(1238.25 2824) rotate(-90) scale(1.0 1)" text-anchor="end">Isovaleric acid</text>
<text transform="translate(1252.49 2824) rotate(-90) scale(1.0 1)" text-anchor="end">Lys-Phe</text>
<text transform="translate(1266.74 2824) rotate(-90) scale(1.0 1)" text-anchor="end">delta-Tocotrienol</text>
<text transform="translate(1280.98 2824) rotate(-90) scale(1.0 1)" text-anchor="end">Dethiobiotin</text>
<text transform="translate(1295.22 2824) rotate(-90) scale(1.0 1)" text-anchor="end">Prostaglandin D1</text>
<text transform="translate(1309.46 2824) rotate(-90) scale(1.0 1)" text-anchor="end">Pantothenol</text>
<text transform="translate(1323.7 2824) rotate(-90) scale(1.0 1)" text-anchor="end">Melibitol</text>
<text transform="translate(1337.94 2824) rotate(-90) scale(1.0 1)" text-anchor="end">Asparaginyl-Phenylalanine</text>
<text transform="translate(1352.19 2824) rotate(-90) scale(1.0 1)" text-anchor="end">Undecylic Acid</text>
<text transform="translate(1366.43 2824) rotate(-90) scale(1.0 1)" text-anchor="end">Phenylacetylglycine</text>
<text transform="translate(1380.67 2824) rotate(-90) scale(1.0 1)" text-anchor="end">Hydroxy--Sanshool</text>
<text transform="translate(1394.91 2824) rotate(-90) scale(1.0 1)" text-anchor="end">Tyrosyl-Proline</text>
<text transform="translate(1409.15 2824) rotate(-90) scale(1.0 1)" text-anchor="end">Arginyl-Serine</text>
<text transform="translate(1423.39 2824) rotate(-90) scale(1.0 1)" text-anchor="end">Tryptophyl-Arginine</text>
<text transform="translate(1437.63 2824) rotate(-90) scale(1.0 1)" text-anchor="end">9(10)-EpOME</text>
<text transform="translate(1451.88 2824) rotate(-90) scale(1.0 1)" text-anchor="end">Carnosic acid</text>
<text transform="translate(1466.12 2824) rotate(-90) scale(1.0 1)" text-anchor="end">Ascorbyl Palmitate</text>
<text transform="translate(1480.36 2824) rotate(-90) scale(1.0 1)" text-anchor="end">Cembrene</text>
<text transform="translate(1494.6 2824) rotate(-90) scale(1.0 1)" text-anchor="end">17-Hydroxylinolenic acid</text>
<text transform="translate(1508.84 2824) rotate(-90) scale(1.0 1)" text-anchor="end">3-(4-Isopropylphenyl)propanal</text>
<text transform="translate(1523.08 2824) rotate(-90) scale(1.0 1)" text-anchor="end">(S)-(-)-Perillyl alcohol</text>
<text transform="translate(1537.33 2824) rotate(-90) scale(1.0 1)" text-anchor="end">2-Linoleoyl Glycerol</text>
<text transform="translate(1551.57 2824) rotate(-90) scale(1.0 1)" text-anchor="end">9(S)-HpODE</text>
<text transform="translate(1565.81 2824) rotate(-90) scale(1.0 1)" text-anchor="end">Docosapentaenoic acid</text>
<text transform="translate(1580.05 2824) rotate(-90) scale(1.0 1)" text-anchor="end">all-trans-Neurosporene</text>
<text transform="translate(1594.29 2824) rotate(-90) scale(1.0 1)" text-anchor="end">Pinolenic Acid</text>
<text transform="translate(1608.53 2824) rotate(-90) scale(1.0 1)" text-anchor="end">Gibberellin A19</text>
<text transform="translate(1622.78 2824) rotate(-90) scale(1.0 1)" text-anchor="end">Menthyl isovalerate</text>
<text transform="translate(1637.02 2824) rotate(-90) scale(1.0 1)" text-anchor="end">Gibberellin A53</text>
<text transform="translate(1651.26 2824) rotate(-90) scale(1.0 1)" text-anchor="end">Palmitic acid</text>
<text transform="translate(1665.5 2824) rotate(-90) scale(1.0 1)" text-anchor="end">15-Oxo-5Z,8Z,11Z,13E-eicosatetraenoic acid</text>
<text transform="translate(1679.74 2824) rotate(-90) scale(1.0 1)" text-anchor="end">Pelargonic acid</text>
<text transform="translate(1693.98 2824) rotate(-90) scale(1.0 1)" text-anchor="end">11-Dehydro-thromboxane B2</text>
<text transform="translate(1708.22 2824) rotate(-90) scale(1.0 1)" text-anchor="end">15-Hydroperoxyicosatetraenoic acid</text>
<text transform="translate(1722.47 2824) rotate(-90) scale(1.0 1)" text-anchor="end">20-COOH-Leukotriene B4</text>
<text transform="translate(1736.71 2824) rotate(-90) scale(1.0 1)" text-anchor="end">Carnosol</text>
<text transform="translate(1750.95 2824) rotate(-90) scale(1.0 1)" text-anchor="end">9,10-DHOME</text>
<text transform="translate(1765.19 2824) rotate(-90) scale(1.0 1)" text-anchor="end">PGF1a</text>
<text transform="translate(1779.43 2824) rotate(-90) scale(1.0 1)" text-anchor="end">Tricycloekasantal</text>
<text transform="translate(1793.67 2824) rotate(-90) scale(1.0 1)" text-anchor="end">9(S)-HOTrE</text>
<text transform="translate(1807.92 2824) rotate(-90) scale(1.0 1)" text-anchor="end">Anapear</text>
<text transform="translate(1822.16 2824) rotate(-90) scale(1.0 1)" text-anchor="end">13(S)-HpODE</text>
<text transform="translate(1836.4 2824) rotate(-90) scale(1.0 1)" text-anchor="end">Prostaglandin E1</text>
<text transform="translate(1850.64 2824) rotate(-90) scale(1.0 1)" text-anchor="end">Isoleucyl-Asparagine</text>
<text transform="translate(1864.88 2824) rotate(-90) scale(1.0 1)" text-anchor="end">9,10-DiHOME</text>
<text transform="translate(1879.12 2824) rotate(-90) scale(1.0 1)" text-anchor="end">Biocytin</text>
<text transform="translate(1893.37 2824) rotate(-90) scale(1.0 1)" text-anchor="end">Mupirocin</text>
<text transform="translate(1907.61 2824) rotate(-90) scale(1.0 1)" text-anchor="end">Saikosaponin B1</text>
<text transform="translate(1921.85 2824) rotate(-90) scale(1.0 1)" text-anchor="end">13(S)-HPOT</text>
<text transform="translate(1936.09 2824) rotate(-90) scale(1.0 1)" text-anchor="end">Arginyl-Lysine</text>
<text transform="translate(1950.33 2824) rotate(-90) scale(1.0 1)" text-anchor="end">Ginsenoside Ro</text>
<text transform="translate(1964.57 2824) rotate(-90) scale(1.0 1)" text-anchor="end">Lysyl-Arginine</text>
<text transform="translate(1978.81 2824) rotate(-90) scale(1.0 1)" text-anchor="end">Retinol</text>
<text transform="translate(1993.06 2824) rotate(-90) scale(1.0 1)" text-anchor="end">5,6,15-Trihydroxy-7,9,11,13-eicosatetraenoic acid</text>
<text transform="translate(2007.3 2824) rotate(-90) scale(1.0 1)" text-anchor="end">Dodecanedioic acid</text>
<text transform="translate(2021.54 2824) rotate(-90) scale(1.0 1)" text-anchor="end">9,12,13-TriHOME</text>
<text transform="translate(2035.78 2824) rotate(-90) scale(1.0 1)" text-anchor="end">Ingenol</text>
<text transform="translate(2050.02 2824) rotate(-90) scale(1.0 1)" text-anchor="end">Stevioside</text>
<text transform="translate(2064.26 2824) rotate(-90) scale(1.0 1)" text-anchor="end">Dihydrojasmonic acid</text>
<text transform="translate(2078.51 2824) rotate(-90) scale(1.0 1)" text-anchor="end">Valyl-Glutamine</text>
<text transform="translate(2092.75 2824) rotate(-90) scale(1.0 1)" text-anchor="end">L-Cysteine</text>
<text transform="translate(2106.99 2824) rotate(-90) scale(1.0 1)" text-anchor="end">Oxalosuccinate</text>
<text transform="translate(2121.23 2824) rotate(-90) scale(1.0 1)" text-anchor="end">L-Serine</text>
<text transform="translate(2135.47 2824) rotate(-90) scale(1.0 1)" text-anchor="end">Phytyl diphosphate</text>
<text transform="translate(2149.71 2824) rotate(-90) scale(1.0 1)" text-anchor="end">fumagillin</text>
<text transform="translate(2163.96 2824) rotate(-90) scale(1.0 1)" text-anchor="end">L-Citrulline</text>
<text transform="translate(2178.2 2824) rotate(-90) scale(1.0 1)" text-anchor="end">Azelaic acid</text>
<text transform="translate(2192.44 2824) rotate(-90) scale(1.0 1)" text-anchor="end">trans,trans-Farnesyl diphosphate</text>
<text transform="translate(2206.68 2824) rotate(-90) scale(1.0 1)" text-anchor="end">Lactitol</text>
<text transform="translate(2220.92 2824) rotate(-90) scale(1.0 1)" text-anchor="end">Geranylgeranyl diphosphate</text>
<text transform="translate(2235.16 2824) rotate(-90) scale(1.0 1)" text-anchor="end">Methyl dihydrojasmonate</text>
<text transform="translate(2249.4 2824) rotate(-90) scale(1.0 1)" text-anchor="end">2-Propylglutaric acid</text>
<text transform="translate(2263.65 2824) rotate(-90) scale(1.0 1)" text-anchor="end">Phorbol</text>
<text transform="translate(2277.89 2824) rotate(-90) scale(1.0 1)" text-anchor="end">N-Acetyl-L-phenylalanine</text>
<text transform="translate(2292.13 2824) rotate(-90) scale(1.0 1)" text-anchor="end">Acetyl-DL-Leucine</text>
<text transform="translate(2306.37 2824) rotate(-90) scale(1.0 1)" text-anchor="end">L-Isoleucine</text>
<text transform="translate(2320.61 2824) rotate(-90) scale(1.0 1)" text-anchor="end">Tryptophyl-Glutamate</text>
<text transform="translate(2334.85 2824) rotate(-90) scale(1.0 1)" text-anchor="end">N,N-Dimethylformamide</text>
<text transform="translate(2349.1 2824) rotate(-90) scale(1.0 1)" text-anchor="end">Abscisic alcohol</text>
<text transform="translate(2363.34 2824) rotate(-90) scale(1.0 1)" text-anchor="end">Undecanedioic acid</text>
<text transform="translate(2377.58 2824) rotate(-90) scale(1.0 1)" text-anchor="end">Ginsenoside Rc</text>
</g>
<defs><linearGradient id="ge" x1="0" y1="0" x2="0" y2="1"><stop offset="0" stop-color="rgb(255, 38, 20)"/><stop offset="0.25" stop-color="rgb(255, 158, 0)"/><stop offset="0.4" stop-color="rgb(255, 224, 172)"/><stop offset="0.5" stop-color="rgb(255, 255, 255)"/><stop offset="0.61" stop-color="rgb(150, 195, 226)"/><stop offset="0.75" stop-color="rgb(16, 122, 180)"/><stop offset="1" stop-color="rgb(8, 69, 160)"/></linearGradient></defs>
<rect x="2404.3" y="2478.6" width="12.3" height="88.3" fill="url(#ge)"/>
<text class="ta tl" transform="translate(2432.4 2484.12) scale(1.26 1)" font-size="12">4.0</text>
<text class="ta tl" transform="translate(2432.4 2506.22) scale(1.26 1)" font-size="12">2.0</text>
<text class="ta tl" transform="translate(2432.4 2528.32) scale(1.26 1)" font-size="12">0.0</text>
<text class="ta tl" transform="translate(2432.4 2550.42) scale(1.26 1)" font-size="12">-2.0</text>
<text class="ta tl" transform="translate(2432.4 2572.52) scale(1.26 1)" font-size="12">-4.0</text>
<rect x="2404.3" y="2596.9" width="12.3" height="18" fill="#fff200"/>
<text class="ta tl" transform="translate(2432.4 2610.47) scale(1.07 1)" font-size="13.1">S1</text>
<rect x="2404.3" y="2614.6" width="12.3" height="18" fill="#ffa000"/>
<text class="ta tl" transform="translate(2432.4 2628.17) scale(1.07 1)" font-size="13.1">S2</text>
<rect x="2404.3" y="2632.3" width="12.3" height="17.8" fill="#0f7db0"/>
<text class="ta tl" transform="translate(2432.4 2645.77) scale(1.07 1)" font-size="13.1">S3</text>
<rect x="2404.3" y="2649.8" width="12.3" height="18" fill="#0a41a0"/>
<text class="ta tl" transform="translate(2432.4 2663.37) scale(1.07 1)" font-size="13.1">S4</text>
<rect x="2404.3" y="2667.5" width="12.3" height="17.8" fill="#ff0a14"/>
<text class="ta tl" transform="translate(2432.4 2680.97) scale(1.07 1)" font-size="13.1">S5</text>
<text class="sr" x="882" y="2401.7" font-size="58">e</text>
</svg>
</body></html>
